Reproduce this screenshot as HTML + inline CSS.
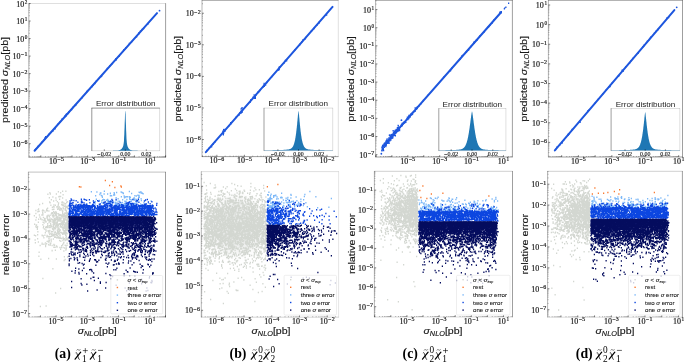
<!DOCTYPE html><html><head><meta charset="utf-8"><style>html,body{margin:0;padding:0;background:#fff;width:685px;height:362px;overflow:hidden}svg{display:block;will-change:transform}</style></head><body>
<svg width="685" height="362" viewBox="0 0 685 362">
<defs><filter id="bl" x="-50%" y="-50%" width="200%" height="200%"><feGaussianBlur stdDeviation="6"/></filter></defs>
<rect width="685" height="362" fill="#fff"/>
<path d="M34.57 150.72L157.02 13.14" style="stroke:#1d56de;stroke-width:2.0;stroke-linecap:round"/>
<path transform="scale(.25)" d="M589 96h5m-28 22h5m1-4h5m-18 11h5m-12 9h5m-3-3h5m-4 3h5m-16 13h5m-25 20h5m-14 7h5m-19 17h5m-13 8h5m-23 25h5m-20 12h5m-2 3h5m-24 18h5m-13 7h5m-5 0h5m-14 10h5m-30 32h5m-3-1h5m-26 19h5m-11 8h5m-5 2h5m-11 7h5m-9 5h5m-16 10h5m-17 10h5m2-5h5m-5 0h5m-30 30h5m-34 31h5m-1-2h5m-18 10h5m-9 8h5m-19 16h5m-3-4h5m-4-2h5m-5 1h5m-18 13h5m-3-4h5m-2-2h5m-14 9h5m-4 0h5m-5 2h5m-1-2h5m-20 11h5m-14 13h5m-12 8h5m-17 18h5m-14 9h5m-19 11h5m-20 12h5m-10 12h5m-5 0h5m-3-7h5m-18 18h5m-20 16h5m-14 11h5m-7 3h5" style="stroke:#1d56de;stroke-width:5.2;fill:none"/>
<circle cx="159.52" cy="10.69" r=".9" fill="#1d56de"/>
<path d="M28.8 3.29V157.41" style="fill:none;stroke:#000;stroke-width:0.42;stroke-opacity:0.7"/>
<path d="M28.59 3.5H165.81" style="fill:none;stroke:#000;stroke-width:0.42;stroke-opacity:0.3"/>
<path d="M165.6 3.29V157.41" style="fill:none;stroke:#000;stroke-width:0.42;stroke-opacity:0.9"/>
<path d="M28.59 157.2H165.81" style="fill:none;stroke:#000;stroke-width:0.42;stroke-opacity:0.9"/>
<path d="M28.8 143.71h1.8M28.8 126.18h1.8M28.8 108.65h1.8M28.8 91.13h1.8M28.8 73.6h1.8M28.8 56.08h1.8M28.8 38.55h1.8M28.8 21.03h1.8M28.8 3.5h1.8M40.81 157.2v-1.8M56.41 157.2v-1.8M72.01 157.2v-1.8M87.61 157.2v-1.8M103.21 157.2v-1.8M118.8 157.2v-1.8M134.4 157.2v-1.8M150 157.2v-1.8M165.6 157.2v-1.8" style="stroke:#000;stroke-width:.5;fill:none"/>
<path d="M28.8 155.96h1M28.8 152.87h1M28.8 150.68h1M28.8 148.98h1M28.8 147.59h1M28.8 146.42h1M28.8 145.4h1M28.8 144.51h1M28.8 138.43h1M28.8 135.34h1M28.8 133.15h1M28.8 131.46h1M28.8 130.07h1M28.8 128.89h1M28.8 127.88h1M28.8 126.98h1M28.8 120.9h1M28.8 117.82h1M28.8 115.63h1M28.8 113.93h1M28.8 112.54h1M28.8 111.37h1M28.8 110.35h1M28.8 109.46h1M28.8 103.38h1M28.8 100.29h1M28.8 98.1h1M28.8 96.4h1M28.8 95.02h1M28.8 93.84h1M28.8 92.83h1M28.8 91.93h1M28.8 85.85h1M28.8 82.77h1M28.8 80.58h1M28.8 78.88h1M28.8 77.49h1M28.8 76.32h1M28.8 75.3h1M28.8 74.4h1M28.8 68.33h1M28.8 65.24h1M28.8 63.05h1M28.8 61.35h1M28.8 59.97h1M28.8 58.79h1M28.8 57.78h1M28.8 56.88h1M28.8 50.8h1M28.8 47.72h1M28.8 45.53h1M28.8 43.83h1M28.8 42.44h1M28.8 41.27h1M28.8 40.25h1M28.8 39.35h1M28.8 33.28h1M28.8 30.19h1M28.8 28h1M28.8 26.3h1M28.8 24.91h1M28.8 23.74h1M28.8 22.72h1M28.8 21.83h1M28.8 15.75h1M28.8 12.66h1M28.8 10.47h1M28.8 8.78h1M28.8 7.39h1M28.8 6.21h1M28.8 5.2h1M28.8 4.3h1M29.91 157.2v-1M32.65 157.2v-1M34.6 157.2v-1M36.12 157.2v-1M37.35 157.2v-1M38.39 157.2v-1M39.3 157.2v-1M40.1 157.2v-1M45.51 157.2v-1M48.25 157.2v-1M50.2 157.2v-1M51.71 157.2v-1M52.95 157.2v-1M53.99 157.2v-1M54.9 157.2v-1M55.7 157.2v-1M61.11 157.2v-1M63.85 157.2v-1M65.8 157.2v-1M67.31 157.2v-1M68.55 157.2v-1M69.59 157.2v-1M70.5 157.2v-1M71.29 157.2v-1M76.7 157.2v-1M79.45 157.2v-1M81.4 157.2v-1M82.91 157.2v-1M84.15 157.2v-1M85.19 157.2v-1M86.1 157.2v-1M86.89 157.2v-1M92.3 157.2v-1M95.05 157.2v-1M97 157.2v-1M98.51 157.2v-1M99.74 157.2v-1M100.79 157.2v-1M101.69 157.2v-1M102.49 157.2v-1M107.9 157.2v-1M110.65 157.2v-1M112.6 157.2v-1M114.11 157.2v-1M115.34 157.2v-1M116.39 157.2v-1M117.29 157.2v-1M118.09 157.2v-1M123.5 157.2v-1M126.25 157.2v-1M128.2 157.2v-1M129.71 157.2v-1M130.94 157.2v-1M131.99 157.2v-1M132.89 157.2v-1M133.69 157.2v-1M139.1 157.2v-1M141.85 157.2v-1M143.79 157.2v-1M145.31 157.2v-1M146.54 157.2v-1M147.59 157.2v-1M148.49 157.2v-1M149.29 157.2v-1M154.7 157.2v-1M157.44 157.2v-1M159.39 157.2v-1M160.9 157.2v-1M162.14 157.2v-1M163.18 157.2v-1M164.09 157.2v-1M164.89 157.2v-1" style="stroke:#000;stroke-width:.4;stroke-opacity:.7;fill:none"/>
<g font-family='"Liberation Serif", serif' font-size="7.3" fill="#1a1a1a" stroke="#1a1a1a" stroke-width=".18">
<text x="16.2" y="6.5" textLength="8" lengthAdjust="spacingAndGlyphs">10</text><text x="24.8" y="3.9" font-size="5.3" textLength="2.6" lengthAdjust="spacingAndGlyphs">2</text>
<text x="16.2" y="24.03" textLength="8" lengthAdjust="spacingAndGlyphs">10</text><text x="24.8" y="21.43" font-size="5.3" textLength="2.6" lengthAdjust="spacingAndGlyphs">1</text>
<text x="16.2" y="41.55" textLength="8" lengthAdjust="spacingAndGlyphs">10</text><text x="24.8" y="38.95" font-size="5.3" textLength="2.6" lengthAdjust="spacingAndGlyphs">0</text>
<text x="12.5" y="59.08" textLength="8" lengthAdjust="spacingAndGlyphs">10</text><text x="21.1" y="56.48" font-size="5.3" textLength="6.3" lengthAdjust="spacingAndGlyphs">−1</text>
<text x="12.5" y="76.6" textLength="8" lengthAdjust="spacingAndGlyphs">10</text><text x="21.1" y="74" font-size="5.3" textLength="6.3" lengthAdjust="spacingAndGlyphs">−2</text>
<text x="12.5" y="94.13" textLength="8" lengthAdjust="spacingAndGlyphs">10</text><text x="21.1" y="91.53" font-size="5.3" textLength="6.3" lengthAdjust="spacingAndGlyphs">−3</text>
<text x="12.5" y="111.65" textLength="8" lengthAdjust="spacingAndGlyphs">10</text><text x="21.1" y="109.05" font-size="5.3" textLength="6.3" lengthAdjust="spacingAndGlyphs">−4</text>
<text x="12.5" y="129.18" textLength="8" lengthAdjust="spacingAndGlyphs">10</text><text x="21.1" y="126.58" font-size="5.3" textLength="6.3" lengthAdjust="spacingAndGlyphs">−5</text>
<text x="12.5" y="146.71" textLength="8" lengthAdjust="spacingAndGlyphs">10</text><text x="21.1" y="144.11" font-size="5.3" textLength="6.3" lengthAdjust="spacingAndGlyphs">−6</text>
<text x="48.96" y="163.8" textLength="8" lengthAdjust="spacingAndGlyphs">10</text><text x="57.56" y="161.2" font-size="5.3" textLength="6.3" lengthAdjust="spacingAndGlyphs">−5</text>
<text x="80.16" y="163.8" textLength="8" lengthAdjust="spacingAndGlyphs">10</text><text x="88.76" y="161.2" font-size="5.3" textLength="6.3" lengthAdjust="spacingAndGlyphs">−3</text>
<text x="111.35" y="163.8" textLength="8" lengthAdjust="spacingAndGlyphs">10</text><text x="119.95" y="161.2" font-size="5.3" textLength="6.3" lengthAdjust="spacingAndGlyphs">−1</text>
<text x="144.4" y="163.8" textLength="8" lengthAdjust="spacingAndGlyphs">10</text><text x="153" y="161.2" font-size="5.3" textLength="2.6" lengthAdjust="spacingAndGlyphs">1</text>
</g>
<rect x="91.8" y="108.1" width="67.8" height="42.6" fill="#fff"/>
<path d="M91.8 107.89V150.91" style="fill:none;stroke:#000;stroke-width:0.42;stroke-opacity:1"/>
<path d="M91.59 108.1H159.81" style="fill:none;stroke:#000;stroke-width:0.42;stroke-opacity:1"/>
<path d="M159.6 107.89V150.91" style="fill:none;stroke:#000;stroke-width:0.42;stroke-opacity:0.3"/>
<path d="M91.59 150.7H159.81" style="fill:none;stroke:#000;stroke-width:0.42;stroke-opacity:0.3"/>
<path d="M91.8 150.7L91.8 150.7L91.9 150.7L92.1 150.7L92.2 150.7L92.4 150.7L92.5 150.7L92.6 150.7L92.8 150.7L92.9 150.7L93.1 150.7L93.2 150.7L93.4 150.7L93.5 150.7L93.6 150.7L93.8 150.7L93.9 150.7L94.1 150.7L94.2 150.7L94.3 150.7L94.5 150.7L94.6 150.7L94.8 150.7L94.9 150.7L95.0 150.7L95.2 150.7L95.3 150.7L95.5 150.7L95.6 150.7L95.8 150.7L95.9 150.7L96.0 150.7L96.2 150.7L96.3 150.7L96.5 150.7L96.6 150.7L96.7 150.7L96.9 150.7L97.0 150.7L97.2 150.7L97.3 150.7L97.5 150.7L97.6 150.7L97.7 150.7L97.9 150.7L98.0 150.7L98.2 150.7L98.3 150.7L98.4 150.7L98.6 150.7L98.7 150.7L98.9 150.7L99.0 150.7L99.1 150.7L99.3 150.7L99.4 150.7L99.6 150.7L99.7 150.7L99.9 150.7L100.0 150.7L100.1 150.7L100.3 150.7L100.4 150.7L100.6 150.7L100.7 150.7L100.8 150.7L101.0 150.7L101.1 150.7L101.3 150.7L101.4 150.7L101.5 150.7L101.7 150.7L101.8 150.7L102.0 150.7L102.1 150.7L102.3 150.7L102.4 150.7L102.5 150.7L102.7 150.7L102.8 150.7L103.0 150.7L103.1 150.7L103.2 150.7L103.4 150.7L103.5 150.7L103.7 150.7L103.8 150.7L103.9 150.7L104.1 150.7L104.2 150.7L104.4 150.7L104.5 150.7L104.7 150.7L104.8 150.7L104.9 150.7L105.1 150.7L105.2 150.7L105.4 150.7L105.5 150.7L105.6 150.7L105.8 150.7L105.9 150.7L106.1 150.7L106.2 150.7L106.3 150.7L106.5 150.7L106.6 150.7L106.8 150.7L106.9 150.7L107.1 150.7L107.2 150.7L107.3 150.7L107.5 150.7L107.6 150.7L107.8 150.7L107.9 150.7L108.0 150.7L108.2 150.7L108.3 150.7L108.5 150.7L108.6 150.7L108.8 150.7L108.9 150.7L109.0 150.7L109.2 150.7L109.3 150.7L109.5 150.7L109.6 150.7L109.7 150.7L109.9 150.7L110.0 150.7L110.2 150.7L110.3 150.7L110.4 150.7L110.6 150.7L110.7 150.7L110.9 150.7L111.0 150.7L111.2 150.7L111.3 150.7L111.4 150.7L111.6 150.7L111.7 150.7L111.9 150.7L112.0 150.7L112.1 150.7L112.3 150.7L112.4 150.7L112.6 150.7L112.7 150.7L112.8 150.7L113.0 150.6L113.1 150.6L113.3 150.6L113.4 150.6L113.6 150.6L113.7 150.6L113.8 150.6L114.0 150.6L114.1 150.6L114.3 150.6L114.4 150.6L114.5 150.6L114.7 150.6L114.8 150.6L115.0 150.6L115.1 150.6L115.2 150.6L115.4 150.6L115.5 150.6L115.7 150.6L115.8 150.6L116.0 150.6L116.1 150.6L116.2 150.6L116.4 150.5L116.5 150.5L116.7 150.5L116.8 150.5L116.9 150.5L117.1 150.5L117.2 150.5L117.4 150.5L117.5 150.5L117.6 150.4L117.8 150.4L117.9 150.4L118.1 150.4L118.2 150.4L118.4 150.4L118.5 150.3L118.6 150.3L118.8 150.3L118.9 150.2L119.1 150.2L119.2 150.2L119.3 150.1L119.5 150.1L119.6 150.1L119.8 150.0L119.9 150.0L120.0 149.9L120.2 149.8L120.3 149.8L120.5 149.7L120.6 149.6L120.8 149.5L120.9 149.4L121.0 149.3L121.2 149.2L121.3 149.1L121.5 149.0L121.6 148.8L121.7 148.7L121.9 148.5L122.0 148.3L122.2 148.1L122.3 147.9L122.5 147.6L122.6 147.4L122.7 147.1L122.9 146.7L123.0 146.4L123.2 145.9L123.3 145.4L123.4 144.8L123.6 144.0L123.7 143.0L123.9 141.7L124.0 139.9L124.1 137.5L124.3 134.6L124.4 131.1L124.6 127.1L124.7 122.9L124.9 118.7L125.0 115.0L125.1 112.1L125.3 110.4L125.4 111.4L125.6 113.9L125.7 117.4L125.8 121.5L126.0 125.7L126.1 129.8L126.3 133.5L126.4 136.6L126.5 139.1L126.7 141.1L126.8 142.6L127.0 143.7L127.1 144.6L127.3 145.3L127.4 145.8L127.5 146.2L127.7 146.6L127.8 147.0L128.0 147.3L128.1 147.5L128.2 147.8L128.4 148.0L128.5 148.2L128.7 148.4L128.8 148.6L128.9 148.8L129.1 148.9L129.2 149.1L129.4 149.2L129.5 149.3L129.7 149.4L129.8 149.5L129.9 149.6L130.1 149.7L130.2 149.8L130.4 149.8L130.5 149.9L130.6 149.9L130.8 150.0L130.9 150.0L131.1 150.1L131.2 150.1L131.3 150.2L131.5 150.2L131.6 150.2L131.8 150.3L131.9 150.3L132.1 150.3L132.2 150.3L132.3 150.4L132.5 150.4L132.6 150.4L132.8 150.4L132.9 150.4L133.0 150.5L133.2 150.5L133.3 150.5L133.5 150.5L133.6 150.5L133.8 150.5L133.9 150.5L134.0 150.5L134.2 150.5L134.3 150.6L134.5 150.6L134.6 150.6L134.7 150.6L134.9 150.6L135.0 150.6L135.2 150.6L135.3 150.6L135.4 150.6L135.6 150.6L135.7 150.6L135.9 150.6L136.0 150.6L136.2 150.6L136.3 150.6L136.4 150.6L136.6 150.6L136.7 150.6L136.9 150.6L137.0 150.6L137.1 150.6L137.3 150.6L137.4 150.6L137.6 150.6L137.7 150.7L137.8 150.7L138.0 150.7L138.1 150.7L138.3 150.7L138.4 150.7L138.6 150.7L138.7 150.7L138.8 150.7L139.0 150.7L139.1 150.7L139.3 150.7L139.4 150.7L139.5 150.7L139.7 150.7L139.8 150.7L140.0 150.7L140.1 150.7L140.2 150.7L140.4 150.7L140.5 150.7L140.7 150.7L140.8 150.7L141.0 150.7L141.1 150.7L141.2 150.7L141.4 150.7L141.5 150.7L141.7 150.7L141.8 150.7L141.9 150.7L142.1 150.7L142.2 150.7L142.4 150.7L142.5 150.7L142.7 150.7L142.8 150.7L142.9 150.7L143.1 150.7L143.2 150.7L143.4 150.7L143.5 150.7L143.6 150.7L143.8 150.7L143.9 150.7L144.1 150.7L144.2 150.7L144.3 150.7L144.5 150.7L144.6 150.7L144.8 150.7L144.9 150.7L145.1 150.7L145.2 150.7L145.3 150.7L145.5 150.7L145.6 150.7L145.8 150.7L145.9 150.7L146.0 150.7L146.2 150.7L146.3 150.7L146.5 150.7L146.6 150.7L146.7 150.7L146.9 150.7L147.0 150.7L147.2 150.7L147.3 150.7L147.5 150.7L147.6 150.7L147.7 150.7L147.9 150.7L148.0 150.7L148.2 150.7L148.3 150.7L148.4 150.7L148.6 150.7L148.7 150.7L148.9 150.7L149.0 150.7L149.1 150.7L149.3 150.7L149.4 150.7L149.6 150.7L149.7 150.7L149.9 150.7L150.0 150.7L150.1 150.7L150.3 150.7L150.4 150.7L150.6 150.7L150.7 150.7L150.8 150.7L151.0 150.7L151.1 150.7L151.3 150.7L151.4 150.7L151.5 150.7L151.7 150.7L151.8 150.7L152.0 150.7L152.1 150.7L152.3 150.7L152.4 150.7L152.5 150.7L152.7 150.7L152.8 150.7L153.0 150.7L153.1 150.7L153.2 150.7L153.4 150.7L153.5 150.7L153.7 150.7L153.8 150.7L153.9 150.7L154.1 150.7L154.2 150.7L154.4 150.7L154.5 150.7L154.7 150.7L154.8 150.7L154.9 150.7L155.1 150.7L155.2 150.7L155.4 150.7L155.5 150.7L155.6 150.7L155.8 150.7L155.9 150.7L156.1 150.7L156.2 150.7L156.4 150.7L156.5 150.7L156.6 150.7L156.8 150.7L156.9 150.7L157.1 150.7L157.2 150.7L157.3 150.7L157.5 150.7L157.6 150.7L157.8 150.7L157.9 150.7L158.0 150.7L158.2 150.7L158.3 150.7L158.5 150.7L158.6 150.7L158.8 150.7L158.9 150.7L159.0 150.7L159.2 150.7L159.3 150.7L159.5 150.7L159.6 150.7L159.6 150.7Z" fill="#1f77b4"/>
<text x="125.7" y="106.1" font-family='"Liberation Sans", sans-serif' font-size="7.8" text-anchor="middle" fill="#1a1a1a" textLength="59.6" lengthAdjust="spacingAndGlyphs">Error distribution</text>
<text x="104.3" y="155.7" font-family='"Liberation Serif", serif' font-size="5.2" text-anchor="middle" fill="#1a1a1a" stroke="#111" stroke-width=".12" textLength="14" lengthAdjust="spacingAndGlyphs">−0.02</text>
<text x="125.3" y="155.7" font-family='"Liberation Serif", serif' font-size="5.2" text-anchor="middle" fill="#1a1a1a" stroke="#111" stroke-width=".12" textLength="10.3" lengthAdjust="spacingAndGlyphs">0.00</text>
<text x="146.3" y="155.7" font-family='"Liberation Serif", serif' font-size="5.2" text-anchor="middle" fill="#1a1a1a" stroke="#111" stroke-width=".12" textLength="10.3" lengthAdjust="spacingAndGlyphs">0.02</text>
<path d="M104.3 150.7v-1.2M125.3 150.7v-1.2M146.3 150.7v-1.2" style="stroke:#000;stroke-width:.6"/>
<path transform="scale(.25)" d="M231 767h5m12-2h5m8 0h5m-69 6h5m38 0h5m-56 6h5m5-1h5m19 0h5m22 3h5m-60 12h5m9-3h5m19-1h5m-3-1h5m0 0h5m-42 13h5m13-7h5m10 5h5m7-5h5m-41 12h5m5-3h5m0 6h5m30-7h5m1 7h5m-105 7h5m23-6h5m-3 3h5m29 1h5m8-3h5m-4 1h5m-3-2h5m0 4h5m2 3h5m-4 0h5m-2-6h5m-113 9h5m40 3h5m7-1h5m1 1h5m7-3h5m8 1h5m-3-2h5m-3 5h5m-2-2h5m1-4h5m-55 13h5m0-2h5m-3 1h5m6-1h5m-4 3h5m-1-6h5m0 4h5m10 3h5m-2-7h5m-2 1h5m-5 0h5m-1-1h5m-3 3h5m-3 2h5m-2-4h5m-3 3h5m-124 11h5m-3-3h5m27 1h5m-4 2h5m-2-6h5m14 5h5m-2 0h5m-2-1h5m10 0h5m-1-5h5m-3 4h5m-4 1h5m0-4h5m-3 3h5m-3-1h5m3 0h5m2 3h5m-5-6h5m-5 7h5m3-5h5m-131 8h5m3 5h5m0-2h5m8-2h5m-3-3h5m-1 3h5m5 0h5m-1 0h5m1 1h5m14 3h5m4 0h5m10-7h5m-2 0h5m1 0h5m-3 4h5m-3 0h5m4-4h5m-3 2h5m-2 0h5m-5 1h5m-127 11h5m22-4h5m-4 4h5m4-5h5m20 6h5m-3-4h5m-3 3h5m-4-3h5m1 3h5m-3-4h5m-3 4h5m0-3h5m-4 3h5m1 1h5m13-5h5m-5 4h5m4-2h5m-2 1h5m-3-1h5m-3-3h5m-5 6h5m-3-4h5m-4 3h5m-4-1h5m-138 10h5m15-3h5m5 0h5m-1 0h5m16 1h5m3 0h5m4 1h5m-4 1h5m-3-2h5m-3-1h5m-3 3h5m1-4h5m-4 4h5m-4-5h5m-4 4h5m5-1h5m-5-1h5m-5-3h5m-1 5h5m-4-2h5m-5-1h5m-1 1h5m-5 3h5m-5 0h5m-5-2h5m0 0h5m-5 0h5m-2 2h5m-5-4h5m-3 2h5m-4 1h5m-5-5h5m-4 4h5m-4-4h5m-4 1h5m-3 3h5m-1 2h5m-2-6h5m-4 6h5m-4-1h5m-4-3h5m-130 11h5m9-2h5m9 2h5m9-2h5m-4-4h5m-3 3h5m2-2h5m10 3h5m-2 0h5m4 3h5m-3-2h5m-5 2h5m-2-1h5m-3-4h5m-5 0h5m-1 4h5m-2 0h5m3-6h5m-4 1h5m-1 1h5m-5 5h5m-4-2h5m0-5h5m-5 1h5m-3 4h5m-4-5h5m-4 5h5m-5-4h5m-1 5h5m-5 0h5m-5 1h5m-3-2h5m-3 1h5m-5 1h5m-4-1h5m-5 1h5m-121 6h5m3-1h5m-4-2h5m0 5h5m5-5h5m-4 4h5m-4-3h5m3-2h5m-3 6h5m-4-2h5m1 2h5m-3-7h5m1 4h5m-1 3h5m-3-1h5m1-3h5m-4 2h5m-2-1h5m-4 2h5m-3 0h5m-5 0h5m-4 0h5m-4 1h5m-3-5h5m-5 4h5m-3-2h5m-4 3h5m-3-1h5m-3 1h5m-4-3h5m-1 2h5m-5-6h5m-3 6h5m-2-6h5m4 4h5m-4-1h5m-3 1h5m-4 1h5m-3-2h5m-5 1h5m-4 3h5m-2 0h5m0-7h5m-5 4h5m-3 3h5m-133 1h5m27 1h5m-1 3h5m-3 0h5m-2 2h5m3-6h5m-4 2h5m-2-2h5m-5 2h5m-4 1h5m-4 1h5m-3-1h5m-3-3h5m-4 7h5m1-7h5m0 2h5m-5 5h5m-3-1h5m-3-6h5m-2 4h5m5-3h5m-5 4h5m-4-4h5m-1 1h5m-1 3h5m-1-4h5m-2 5h5m-1 1h5m-5-2h5m-4-2h5m-5-1h5m-4 1h5m-5 4h5m-1-2h5m-5-5h5m-3 0h5m2 3h5m-5 0h5m-3 4h5m-4-1h5m-4-5h5m-122 8h5m14 0h5m-1 3h5m2-4h5m2 7h5m1-5h5m1 5h5m3-7h5m-4 0h5m-2 2h5m-5 0h5m-4 3h5m-4-3h5m-3 2h5m-4-1h5m-5 4h5m-1-3h5m-2 2h5m-5-1h5m-4-5h5m-4 7h5m-4-5h5m3 5h5m-2 0h5m-3 0h5m-3-3h5m-3 0h5m-4-3h5m-4 1h5m-5 3h5m-3-1h5m-4-2h5m-4 5h5m-5-3h5m-5 0h5m-3-2h5m-5 4h5m-3-4h5m-4 0h5m-1 3h5m-4-1h5m-4 2h5m-2-3h5m-4 4h5m-3-4h5m-4 1h5m-5-3h5m-137 8h5m1 4h5m-3-1h5m20-1h5m14 3h5m2 1h5m0 0h5m-4-2h5m-4 0h5m3-4h5m-4 5h5m-2-5h5m-4 2h5m1 1h5m-3 0h5m-3 1h5m-1-3h5m-3 4h5m-5-2h5m-2-4h5m-2 1h5m-3 4h5m-3-4h5m-1 0h5m-4 4h5m-4 0h5m-3-4h5m0 2h5m-5 4h5m-4-1h5m-3-3h5m-2 0h5m-3-3h5m-4 1h5m-3 3h5m-5-1h5m-4 3h5m-5-3h5m-5 1h5m-5 0h5m-4-4h5m-5 1h5m-131 10h5m-2 2h5m-1-2h5m18 4h5m-4-5h5m3 5h5m-3-4h5m-2 3h5m-3-4h5m-5 4h5m-3-5h5m-1 5h5m0 0h5m0-4h5m-5 1h5m1-1h5m-3 2h5m-3 2h5m0-1h5m-3-4h5m-1 3h5m-1-1h5m-5-3h5m-3 5h5m3-2h5m-5 1h5m-2-1h5m-1 3h5m-4-5h5m-3 6h5m-2 0h5m-3-6h5m-4 3h5m-2-1h5m-5-3h5m-5 4h5m-3-1h5m-4 4h5m-3-7h5m-4 2h5m-4-1h5m-5 4h5m-1 1h5m-5-5h5m-126 12h5m-5-5h5m23 4h5m1 3h5m21-5h5m-4 2h5m-3 1h5m-1-2h5m-1 0h5m-4-2h5m-4 2h5m4 2h5m-4 1h5m-5-6h5m-4 2h5m-4 2h5m-3 1h5m-5-2h5m10 3h5m-5 0h5m-4-2h5m0-2h5m0 5h5m-5-4h5m-5 0h5m-4-1h5m-3 2h5m-4-3h5m-4 5h5m-2-3h5m-5-3h5m-124 15h5m28-2h5m3-2h5m-4 3h5m-2-1h5m-2-3h5m1 5h5m-3-1h5m-4 0h5m-2 1h5m-2-7h5m1 6h5m4-4h5m-3 3h5m-1 2h5m-4-7h5m-3 5h5m-2-5h5m7 2h5m-3 1h5m-5 0h5m-3 1h5m-2-2h5m-3 2h5m-3-1h5m-5 0h5m-5-2h5m-1 1h5m-3-1h5m-4 1h5m-95 9h5m10-1h5m-5 2h5m-5-1h5m2 3h5m-4 1h5m9-3h5m-2-1h5m-3 0h5m-2 4h5m-1-7h5m-4 4h5m-2 3h5m-4-4h5m-3 4h5m-1-5h5m-2 1h5m-4-1h5m-4 2h5m-1 1h5m-3-1h5m-3 1h5m-4 2h5m-5-5h5m-2 1h5m-5 4h5m-4-4h5m-5-2h5m-4 3h5m-4-1h5m-5 4h5m-2-3h5m-5 1h5m-3-2h5m-3 4h5m-136 6h5m0 2h5m3-4h5m13 2h5m-5 1h5m6-1h5m4 1h5m5-4h5m3 0h5m-1-2h5m-5 7h5m-2-5h5m-3 5h5m-4-3h5m-4-1h5m-2 0h5m-2 0h5m-4 0h5m-3-2h5m-4 5h5m-4 1h5m-3-1h5m-2-6h5m1 7h5m-4-3h5m-5 3h5m5-6h5m-4 0h5m5 0h5m-4 5h5m-4-2h5m-95 4h5m-3 7h5m7-4h5m0-1h5m-1 1h5m-1 0h5m0-2h5m8 4h5m-2-1h5m-4 1h5m1 2h5m-1-2h5m-4-1h5m-1 3h5m-2-1h5m7-1h5m6 2h5m-3-6h5m-120 10h5m40-1h5m-4 2h5m3 1h5m4-1h5m9-4h5m3 1h5m-3-1h5m0 1h5m-1 1h5m1 0h5m-3 4h5m-2-3h5m2-2h5m-4 6h5m-4-6h5m-3 3h5m-4 3h5m-3-2h5m-5-3h5m-136 6h5m43 6h5m0-2h5m-3 1h5m-2-2h5m2 1h5m28-2h5m0 3h5m3-3h5m4 0h5m-4-2h5m-125 11h5m7-3h5m10 5h5m8-1h5m0 3h5m4-5h5m1 5h5m-3-3h5m46 0h5m-4-2h5m8 3h5m-113 9h5m3-5h5m2 0h5m2 3h5m7-1h5m1 2h5m3 1h5m2-4h5m-5 2h5m-2 1h5m23 2h5m-1-3h5m-4-3h5m4 4h5m3 0h5m-91 5h5m28 3h5m0 0h5m1-5h5m-4 3h5m-4 1h5m6 2h5m1 0h5m2 0h5m7-6h5m-5 0h5m-27 13h5m11-5h5m1 1h5m-5 4h5m-4-5h5m-62 10h5m-5 1h5m8-2h5m29 3h5m3-4h5m-112 9h5m-6 16h5m97 2h5m8 1h5m-112 9h5m26-3h5m26 2h5m30 2h5m-9 4h5m-50 33h5m-45 39h5m66 40h5m-25 18h5m-66 54h5m18-2h5" style="stroke:#d3d7d1;stroke-width:5.2;fill:none"/>
<path transform="scale(.25)" d="M363 767h5m47-2h5m95 1h5m41 1h5m-181 1h5m9 4h5m-3 0h5m33 1h5m10-2h5m-4 3h5m4-4h5m13-2h5m-1 2h5m-1 2h5m-4 2h5m28 0h5m25-5h5m-1 2h5m1 1h5m-2 1h5m-2 2h5m-195 8h5m12-5h5m1 4h5m6-6h5m9 0h5m6 6h5m-5 1h5m0 0h5m3-3h5m-1 0h5m76 3h5m7-2h5m0 1h5m-153 2h5m-4 5h5m50 2h5m16-4h5m6-3h5m-4 7h5m-5 0h5m-4-3h5m-4 2h5m-4-2h5m0-1h5m0 0h5m2 0h5m-1 2h5m10 2h5m4-7h5m4 7h5m-4-4h5m-3 2h5m-177 8h5m23 1h5m-1 1h5m8-1h5m37-3h5m13 4h5m12-1h5m6-2h5m-5-4h5m-3 6h5m8-2h5m-3 3h5m-3-2h5m1 0h5m-2 2h5m13-4h5m-188 11h5m11-4h5m5 1h5m-2-3h5m10 1h5m-1 3h5m-1-2h5m5 3h5m0-2h5m-3 4h5m9-5h5m3 3h5m1 0h5m16 0h5m0 1h5m16 1h5m-5-7h5m-4 0h5m6 0h5m2 6h5m1-2h5m-1-4h5m6 2h5m11 0h5m18 2h5m-233 4h5m25 2h5m-1 2h5m16-3h5m-1-1h5m-4 6h5m-4-5h5m-2 2h5m-4-2h5m-4 4h5m-3-1h5m5-3h5m2 6h5m-5-5h5m-4 4h5m-3 0h5m-4-1h5m-5 0h5m-3-1h5m14 0h5m-2-2h5m3 4h5m-2 1h5m0 0h5m6-5h5m-4 5h5m-4-3h5m9 2h5m1 0h5m0 0h5m-1-5h5m23 2h5m13 1h5m-251 5h5m22 1h5m1-2h5m33 2h5m13 4h5m2-3h5m-2 3h5m-2-5h5m4 6h5m0-6h5m-2 6h5m-3-3h5m-3-1h5m2 3h5m-5-4h5m-5-2h5m-4 4h5m-5 3h5m-2-5h5m-4 2h5m0-1h5m-3 0h5m-1 4h5m-2-5h5m1 2h5m-5-1h5m2 3h5m-4-1h5m-3-4h5m-2 6h5m2-7h5m-4 7h5m4-1h5m1-6h5m-4 5h5m18-5h5m-1 5h5m3 1h5m16 1h5m9-1h5m-141 2h5m19 0h5m-1 0h5" style="stroke:#7cb8f8;stroke-width:5.2;fill:none"/>
<path transform="scale(.25)" d="M282 796h5m36 1h5m6 0h5m-1 2h5m12 0h5m85-1h5m12 0h5m62 0h5m17-1h5m31 1h5m-314 5h5m1-3h5m-4 2h5m3 0h5m4 1h5m16 2h5m-4-1h5m-4 2h5m14-5h5m22 3h5m12-1h5m0 2h5m36 1h5m1-1h5m-3 2h5m1-5h5m64 5h5m20-3h5m0-1h5m23 1h5m0-4h5m20 7h5m-333 6h5m-4-4h5m-3 6h5m0-2h5m-1-2h5m-4 0h5m14-2h5m9 2h5m0-1h5m1 2h5m18-1h5m10 0h5m-1-1h5m31 2h5m-4 0h5m-4-3h5m0-1h5m0 6h5m-1 1h5m0-1h5m0 0h5m5-3h5m-4-1h5m16 4h5m3-4h5m19 2h5m-2 2h5m-1-3h5m-3-1h5m-4 4h5m-3-4h5m1 5h5m-2 0h5m-3 0h5m-2-1h5m20-5h5m24 6h5m4-7h5m2 7h5m22-1h5m-356 8h5m-5 1h5m-5-1h5m-4 0h5m-4-1h5m-5-4h5m-4 5h5m-1 1h5m-5 0h5m-4-1h5m0-2h5m-1 3h5m-4-1h5m4 1h5m-4-5h5m1 4h5m-2-3h5m1-1h5m-4 3h5m-4 2h5m-5 0h5m-2-3h5m-4 3h5m-4 0h5m-4-1h5m-4 1h5m-2-1h5m-3-3h5m-4 0h5m-5 1h5m-5 3h5m-3-1h5m-4-3h5m-2 3h5m-3 0h5m-3-4h5m-4 4h5m-4-5h5m-4 6h5m-4-1h5m-2 1h5m-4 0h5m0 0h5m-4 0h5m5-1h5m-3-4h5m-3 1h5m-3 4h5m-1 0h5m6 0h5m3-6h5m-1-1h5m11 5h5m-2 2h5m-5-6h5m0-1h5m-3 6h5m-3 1h5m-3-1h5m2 1h5m-2-4h5m-1 3h5m-5-3h5m-4 4h5m-3-1h5m-5 0h5m7 0h5m-2 0h5m-3 0h5m-5 0h5m7 1h5m-5-3h5m-3 2h5m2-3h5m-2 2h5m-3-1h5m-5 3h5m-4 0h5m-4-1h5m6-1h5m0 2h5m-4-1h5m-4-2h5m-4-2h5m-3 0h5m6 1h5m-5 3h5m2-2h5m-3-4h5m-1 7h5m-1-1h5m-2 1h5m-5-4h5m-3-2h5m1 4h5m-4 1h5m0 1h5m-4 0h5m0 0h5m-2-3h5m-3 3h5m-3-2h5m-2 2h5m-3-1h5m-4-3h5m-5-2h5m-3 1h5m-2 0h5m-1 4h5m-5 0h5m0 1h5m-2 0h5m0 0h5m-2 0h5m1-2h5m-4 1h5m-3 1h5m9-2h5m-352 3h5m-5 2h5m-5 3h5m-2-2h5m-4-2h5m5 3h5m-4-3h5m-2 4h5m-4 0h5m-3-5h5m-4 4h5m-3 3h5m-4-1h5m-3 0h5m-3-4h5m-3 2h5m-4-4h5m-3 7h5m-3 0h5m-5-6h5m-4 2h5m-1 2h5m-3-3h5m-2-2h5m-4 7h5m-5-4h5m-4-3h5m-4 1h5m-4 2h5m-4-3h5m-4 5h5m-5-2h5m-4 3h5m-3-5h5m-2 3h5m-2-1h5m-5-1h5m-4 5h5m-1-7h5m-4 5h5m-5-2h5m-4-3h5m-4 7h5m-2-3h5m-5 0h5m-4-3h5m-5 4h5m-5-1h5m-5-4h5m-4 1h5m-4 2h5m-4-2h5m-5 1h5m-4 4h5m-3-2h5m-5 0h5m-3-3h5m-3 5h5m-4 0h5m-4-6h5m-5 6h5m-3-6h5m-4 3h5m-4-3h5m-5 2h5m-4-1h5m-5 4h5m-2-4h5m0 3h5m-2-2h5m-4 4h5m-5-1h5m4-4h5m-5 4h5m-1 1h5m-3 0h5m-5-5h5m-4 5h5m-4-4h5m-4 2h5m-4-4h5m-4 7h5m-4-7h5m-3 6h5m-4-6h5m-5 7h5m-3-6h5m-5 6h5m-4-5h5m-5-1h5m-4 3h5m-2 3h5m-4-1h5m-5-6h5m0 2h5m-4-2h5m-2 5h5m-5-5h5m-4 4h5m-1 3h5m-2-7h5m-5 4h5m-5-1h5m-4 0h5m4 0h5m-5-2h5m-4 1h5m-4 1h5m-2 3h5m-4-4h5m-3 4h5m-1 1h5m-4-3h5m-3 2h5m-4-6h5m-5 7h5m-4-4h5m-4-3h5m-2 4h5m-3-4h5m-4 0h5m-2 1h5m-5 5h5m-4-4h5m-3 1h5m-3 2h5m-3-1h5m-4-4h5m-4 5h5m1 0h5m-2 2h5m-5-1h5m-4-3h5m-5 4h5m-5-5h5m-4 2h5m-5-1h5m-4-3h5m-5 3h5m-4-1h5m-5-1h5m-2 4h5m-4 0h5m-5-3h5m-3-2h5m-4 7h5m0-2h5m-4 0h5m-4 0h5m-5 0h5m-4-5h5m-5 4h5m-3-2h5m-3 4h5m-5-5h5m-5 0h5m-5 2h5m-2 3h5m-2-2h5m-2-2h5m-2 5h5m-2-4h5m-4-2h5m-4 5h5m-4-3h5m-5 2h5m-5-5h5m-4 4h5m-5 0h5m-4 2h5m-5 1h5m-4-2h5m-5 0h5m-5-2h5m-3-1h5m-5 5h5m-4-7h5m-5 4h5m-3-4h5m-5 7h5m-5-1h5m-5-5h5m-3 0h5m-3 2h5m-4-1h5m-4 4h5m-3-5h5m-3 5h5m-4-6h5m-3 1h5m-3 4h5m-1-5h5m-3 4h5m-4 0h5m-5-4h5m-3 2h5m-4 1h5m-5-3h5m-5 4h5m-3-4h5m-3 0h5m-4 2h5m0 2h5m-4 1h5m-5-5h5m-5 1h5m-4 2h5m-4 0h5m-4-1h5m-3-2h5m-4 0h5m-5 3h5m-4-3h5m-5 3h5m-4-2h5m-5 6h5m-4 0h5m-5-2h5m-4-3h5m-4-2h5m-5 7h5m-4 0h5m-2-2h5m-5-2h5m-5 2h5m-4 2h5m-3-1h5m-5-1h5m-3-3h5m-5 2h5m-4-3h5m-3-1h5m-3 2h5m-5 3h5m-4-3h5m-4-2h5m-5 4h5m-2-2h5m-5 2h5m-4 2h5m-5-4h5m-1 5h5m-3-3h5m-4-1h5m-2 0h5m-340 8h5m-5 0h5m-3 1h5m-3 1h5m0-4h5m-4 0h5m-5 1h5m-4 0h5m-5 0h5m-5-2h5m-4 7h5m-2 0h5m-3-1h5m-4-6h5m-5 3h5m-5 4h5m-5-5h5m-4 3h5m-4 1h5m-2-2h5m-4 3h5m-4 0h5m-3-7h5m-1 3h5m-3-3h5m-5 2h5m-2 1h5m-5 2h5m-1 2h5m-5-2h5m-2-5h5m-5 3h5m-1-2h5m-5 1h5m3 0h5m-4-1h5m-4 1h5m-4 5h5m0-5h5m-5 5h5m-4-6h5m0 5h5m-5-1h5m-4 1h5m-2-6h5m-3 4h5m-4 3h5m-4 0h5m-5-5h5m-2 1h5m-5 0h5m-5 1h5m-1 1h5m-4-1h5m-5 1h5m-3 2h5m-1-6h5m-2 4h5m-4 0h5m1 0h5m-4-3h5m-4 1h5m1-1h5m-4-1h5m-3 3h5m-4 3h5m-4-3h5m-3-3h5m-4 4h5m-5-5h5m-4 2h5m-3-2h5m-5 5h5m-5 0h5m-2-4h5m-3 5h5m-4 0h5m-4-2h5m-2 1h5m-4-3h5m-5 3h5m-1-5h5m-5 0h5m-4 7h5m-5-1h5m-5-5h5m-5-1h5m-3 3h5m-1-1h5m-4 2h5m-4-2h5m-3-2h5m-3 3h5m-5 2h5m1 2h5m-4-3h5m0 2h5m-3-3h5m-4-1h5m-5 3h5m-1 1h5m-3-6h5m-2 5h5m-4-5h5m-3 5h5m-5-5h5m-4 2h5m1 0h5m-4 3h5m-4 1h5m-5 0h5m-4-1h5m-4-1h5m-5-4h5m-4 1h5m-5-1h5m-5 0h5m-4 3h5m-1-2h5m-5 6h5m-4-1h5m-4-1h5m-5-4h5m-4 2h5m-2-2h5m-5 2h5m-4 2h5m-5-4h5m-2 6h5m-5-7h5m-4 0h5m-5 4h5m-2 3h5m-3 0h5m1-3h5m-5-4h5m-3 0h5m-4 1h5m-5 5h5m-3-1h5m-4-2h5m-1 3h5m0-6h5m-4 5h5m-4 1h5m-2-4h5m-5 5h5m-4-3h5m-2-1h5m-5-3h5m-5 4h5m-4-1h5m-5 3h5m-3-4h5m-4 2h5m-2 0h5m-5-4h5m-4 6h5m-3-6h5m-4 6h5m-4-2h5m-5 3h5m-3 0h5m-5-5h5m-5 3h5m-1-2h5m-1-1h5m-5 3h5m-4-4h5m-4 3h5m-5 1h5m-4-2h5m-5 0h5m-5 1h5m-4 3h5m-3-1h5m-5-3h5m-5-2h5m-1 3h5m-2-1h5m-5-3h5m-4 4h5m-5 3h5m-3-4h5m1 1h5m-5-4h5m-4 1h5m-5 0h5m-5 0h5m-5 0h5m-5 2h5m-4 3h5m-5 1h5m-3-5h5m-1 5h5m-5-6h5m-4 0h5m-3 6h5m-2-4h5m-1-2h5m-3 6h5m-5-2h5m-4-2h5m-3-2h5m-4 1h5m-1-2h5m-3 7h5m-4-4h5m-3 4h5m-4-4h5m-5-1h5m-4-1h5m-3 0h5m-4 6h5m-5-3h5m-4 0h5m-2-4h5m-5 5h5m-3 2h5m-2-2h5m-5-4h5m1 0h5m-2 2h5m1-3h5m-1 5h5m-352 9h5m-4-2h5m-4-2h5m-4-1h5m-4 2h5m-2 3h5m-2-1h5m-3-3h5m-5 0h5m-4 1h5m-3 2h5m-5 0h5m1-4h5m-3 1h5m-5 5h5m-4 0h5m-4-3h5m-5 2h5m-4-1h5m-4 1h5m-4-3h5m-3-2h5m-2 2h5m-4 2h5m-5-1h5m-4-4h5m-5 2h5m-4 4h5m-2 0h5m-5-3h5m3 1h5m-5-4h5m-5 3h5m-3 1h5m-5-2h5m-4 5h5m-4-1h5m-3-2h5m-3-4h5m-3 7h5m-5-5h5m-2 5h5m0-4h5m-5 1h5m-4-3h5m-5 2h5m-3 0h5m-4-2h5m-3 6h5m-5-6h5m-3 6h5m-4-1h5m-2-6h5m-5 5h5m-4-2h5m-3-2h5m-3 1h5m-3 4h5m-2-6h5m-4 2h5m-3 3h5m-2 1h5m-3-5h5m-5 5h5m-1 1h5m-4-7h5m-1 2h5m-5 2h5m-4-2h5m-4 2h5m-3 3h5m-4-2h5m-1 0h5m-5 2h5m-4-7h5m-4 3h5m-3-1h5m-1 2h5m-4-1h5m-3-1h5m-5 3h5m-3-5h5m-4 4h5m-4 0h5m-5-3h5m-5 6h5m-1-4h5m-4 3h5m-3-6h5m-5 2h5m-2 3h5m-2 0h5m-3-3h5m-3 2h5m-4 1h5m-3-4h5m-3-1h5m-5 2h5m-2 2h5m-5 2h5m-4 0h5m-5 1h5m-5-7h5m-5 4h5m-4 0h5m-5 1h5m-3 1h5m-5-2h5m-5 3h5m-1-5h5m-5 3h5m-3 0h5m-5 2h5m0-3h5m-1-2h5m-5-1h5m-4-1h5m-4 5h5m-5-2h5m1-2h5m-4 6h5m-3-1h5m-4-4h5m-3 5h5m-3-6h5m-4-1h5m-4 6h5m-5 1h5m-4-3h5m-4-4h5m3 7h5m-3-1h5m-3 1h5m-3-7h5m-4 0h5m-1 2h5m-4 1h5m-4-2h5m-2 4h5m-5-2h5m-5 2h5m0-2h5m-4 1h5m-2 0h5m-3-1h5m-5-1h5m-4 2h5m1 1h5m-3-4h5m-5 6h5m-4 0h5m-4-3h5m-4-2h5m-3 2h5m-3-1h5m-4 4h5m-5-5h5m-5 0h5m-4-2h5m-3 1h5m-5 5h5m-4-6h5m-4 6h5m-5-4h5m-5 2h5m-4 2h5m-2-5h5m-5 4h5m-5-4h5m-1 2h5m-2 1h5m-4-4h5m1 2h5m-4 3h5m-5-1h5m-4 0h5m-1 1h5m-3-2h5m-5-3h5m-4 7h5m-2-5h5m-4 4h5m-2-3h5m-3 4h5m-5-4h5m-4 1h5m-2-4h5m-4 4h5m-5 2h5m-4-3h5m-2-1h5m-5 5h5m-4-2h5m-5-2h5m-2 2h5m-4-4h5m-1 6h5m-3 0h5m-4-3h5m-3-3h5m-4 1h5m-5 3h5m-5-4h5m-4 1h5m-5 5h5m-3-1h5m-3-3h5m0 2h5m-4 0h5m-4-3h5m-4 0h5m-5 1h5m-5 2h5m-5 2h5m-4-1h5m-5-5h5m-3 6h5m-4 0h5m-3-4h5m-4 2h5m-3-2h5m-2-1h5m-2 4h5m5 0h5m-5-2h5m-353 9h5m-4-2h5m-3-3h5m-3 5h5m-1 0h5m-4 0h5m-3 2h5m-4-5h5m-3 3h5m-4-4h5m-5 1h5m-4 1h5m4 0h5m-4 2h5m-5 1h5m-3-4h5m-4-1h5m-3 4h5m-4 2h5m5 0h5m-3-6h5m-3 4h5m-5-3h5m-3 1h5m-4-2h5m-1 0h5m-3-1h5m-4 7h5m-1-4h5m-5-3h5m-4 2h5m-3 3h5m-5-5h5m-4 1h5m-3 5h5m-5-4h5m0 5h5m-4-7h5m-5 2h5m-2-2h5m-5 3h5m-2 0h5m-4-3h5m0 5h5m-5 1h5m-3-5h5m-5-1h5m-3 1h5m-5 4h5m-5 0h5m-5-4h5m0 1h5m-5 2h5m-3-1h5m-3-2h5m-3 0h5m-5 6h5m-4-3h5m-4-2h5m-4 5h5m-3 0h5m-2-6h5m-4 6h5m-4-6h5m-4 4h5m-3-5h5m-5 4h5m0 3h5m-5-6h5m-4 2h5m-4 0h5m-2-2h5m-2 5h5m-5 1h5m-4-6h5m-4 3h5m-3 1h5m-3-2h5m-4 1h5m-5-4h5m-4 6h5m-4 0h5m-4-3h5m-5-3h5m-3 0h5m-4 4h5m-4 1h5m-5-4h5m0 3h5m-2-4h5m-4 5h5m-5 1h5m-5-5h5m-3 3h5m-3-1h5m-4 1h5m-5-2h5m-4 2h5m-4 2h5m-5 0h5m-2-3h5m-4 2h5m-5 2h5m-4 0h5m-4-7h5m-4 2h5m-4 1h5m-4-1h5m-4-1h5m-4 1h5m-3 5h5m-3-2h5m-4 1h5m0 1h5m-3-3h5m0 0h5m-2 2h5m-5-3h5m-3-2h5m-4 4h5m-5 2h5m-4-6h5m-4-1h5m-4 5h5m3-3h5m-5 5h5m-3-4h5m-5 3h5m-3-5h5m-5 5h5m-4-4h5m-4-1h5m-3 5h5m-3 0h5m-4-1h5m-4-1h5m-4-1h5m-4 2h5m-2-5h5m-4 4h5m-4 1h5m-2-5h5m-5 7h5m-4-1h5m-5-4h5m-3 3h5m-4-5h5m-4 0h5m-5 2h5m-3 1h5m-2 2h5m0 1h5m-4-3h5m-5 2h5m-5-3h5m-5 4h5m-4-5h5m-5 3h5m-4-2h5m-4 1h5m-5 2h5m-3 0h5m-4-2h5m-4 3h5m-4-2h5m-4 3h5m-3-3h5m-3-1h5m-4-2h5m-4 5h5m-5-4h5m0-1h5m-3 2h5m-4-3h5m-4 3h5m-5 2h5m-4 0h5m-4 0h5m-4-4h5m-4 6h5m-5-4h5m-4 0h5m-3-2h5m-2 1h5m-3 2h5m-5 2h5m-4-3h5m-5-2h5m-2 0h5m-5 0h5m-4 2h5m-2 3h5m-5 0h5m-2-4h5m-5 4h5m-5-3h5m-3 4h5m-4-6h5m-4 3h5m-2-3h5m-5 4h5m-4-3h5m-4-1h5m-3 1h5m-1 1h5m-5-1h5m-4-2h5m-4 1h5m-3-1h5m-4 1h5m-5 3h5m-3-2h5m-4 4h5m-2-5h5m-2 6h5m-4-5h5m-4 3h5m-5-4h5m-4 4h5m-5-3h5m-1 2h5m-5-2h5m-4 3h5m-4-2h5m-2 3h5m0-5h5m-3 5h5m-4 1h5m-1 0h5m-3 0h5m-5-2h5m-2-4h5m2 0h5m-357 7h5m-4 1h5m-5 2h5m-4 3h5m-4-2h5m-4-2h5m-4 5h5m-5-7h5m-4 2h5m1 5h5m-2-2h5m-4 1h5m-3 1h5m-2-7h5m-3 6h5m-3-3h5m-4 2h5m-4-4h5m-3 4h5m-4-4h5m-4-1h5m-5 2h5m-3 2h5m-3-4h5m-4 4h5m-4 0h5m-4 3h5m-4-5h5m-5 5h5m-5-7h5m-4 0h5m-4 6h5m-4-6h5m2 0h5m-2 3h5m-3-1h5m-4 4h5m-5-3h5m-4 0h5m-5 0h5m-4 3h5m-3-1h5m-4-5h5m-1 4h5m-5-3h5m-3 5h5m-4-1h5m-3-1h5m-3 1h5m-4 1h5m-5-6h5m-3 5h5m-3 1h5m-5-3h5m-4-1h5m0 1h5m-5 1h5m-5-2h5m-4-2h5m-5 7h5m-5-2h5m-5 2h5m-2-3h5m-3 0h5m-5 3h5m-3-5h5m-4 3h5m-4-5h5m-5 0h5m-3 5h5m-4 1h5m-4-6h5m-4 7h5m-5-6h5m1 1h5m-5-2h5m-4 3h5m2 0h5m-5 2h5m-4 1h5m-4-2h5m-4-1h5m-4-1h5m-5 4h5m-3-2h5m-3 0h5m-4 0h5m-3-4h5m-3 3h5m-3 0h5m-4 2h5m-4-5h5m-4 2h5m-5-1h5m-2-1h5m-3 4h5m-4-1h5m-4 4h5m-5-7h5m-3 0h5m-5 6h5m-4-5h5m-4 6h5m1-3h5m-2-2h5m-3-1h5m-2 4h5m0-4h5m-4 1h5m-4-2h5m-4 3h5m-1 0h5m-4 2h5m-3-3h5m-3 0h5m-5 3h5m-3 0h5m-4-2h5m-5-3h5m-4 0h5m-3 6h5m-3-4h5m-4 5h5m-4 0h5m-4-1h5m-2 0h5m-4-5h5m-5 0h5m-1 2h5m-4 4h5m-5-1h5m-3-4h5m-5 0h5m-4 4h5m-5-3h5m-4 0h5m-4-2h5m-3 3h5m-4 0h5m-3 1h5m-5-3h5m-1 4h5m-4-5h5m-2-1h5m-3 5h5m-5 0h5m-4-3h5m-4 1h5m-4 2h5m-5 0h5m-4-5h5m-4 5h5m-4-4h5m-5 0h5m-4 2h5m-3-1h5m-4-2h5m-5 4h5m0 3h5m-1-6h5m-5 5h5m-4-5h5m-4 0h5m-3 6h5m-4 0h5m-1-1h5m-3 1h5m-5-3h5m-1-3h5m-1 1h5m-4 0h5m-5-2h5m0 0h5m1 2h5m-4 5h5m-5-6h5m-1-1h5m-5 2h5m-5 3h5m-5-1h5m-3 0h5m-4 0h5m-4-3h5m-3 2h5m-5-1h5m-3-1h5m-4 4h5m-4-5h5m-5 4h5m-5-2h5m-2-2h5m-5 6h5m1-3h5m-3-1h5m-1 5h5m-4-4h5m-2 4h5m-5-7h5m-5 4h5m-4-2h5m-4 3h5m-5-4h5m0 6h5m-2-7h5m-5 2h5m-3-2h5m-3 4h5m-5-4h5m-4 5h5m-5-3h5m1 2h5m-4-1h5m-5 0h5m1 3h5m-5-2h5m-5-4h5m-3 1h5m-4-1h5m-3 0h5m-4 1h5m-4 4h5m-4-1h5m-4-3h5m-3 3h5m-3-1h5m-1 3h5m-5-2h5m-3-3h5m-1 1h5m-4 0h5m0 0h5m-152 6h5" style="stroke:#0c46e0;stroke-width:5.2;fill:none"/>
<linearGradient id="g1" x1="0" y1="0" x2="0" y2="1"><stop offset="0" stop-color="#0a1470" stop-opacity="1"/><stop offset="0.44" stop-color="#0a1470" stop-opacity="0.95"/><stop offset="1" stop-color="#0a1470" stop-opacity="0"/></linearGradient>
<rect x="68.9" y="216.2" width="78.6" height="16" fill="url(#g1)"/>
<path transform="scale(.25)" d="M273 867h5m-2 4h5m-3-3h5m1 0h5m-5 2h5m-4 0h5m-5 0h5m-4 0h5m0-1h5m-3 0h5m-4 0h5m-5 1h5m-4-2h5m-1 2h5m-5 0h5m-5-2h5m-3 2h5m-5-2h5m-2 0h5m-2 3h5m-4-1h5m-5 1h5m-4 0h5m-3-2h5m-3 2h5m-5-1h5m-5 1h5m0-1h5m-4-1h5m-3-2h5m-4 3h5m-3-2h5m-4 0h5m-5 3h5m-3-4h5m-2 2h5m-4-1h5m-1 0h5m-5 0h5m-2 3h5m-4 0h5m0-2h5m-4-1h5m-5-1h5m0 2h5m-2 0h5m-4 2h5m0-1h5m-4-2h5m-5 3h5m-4-4h5m-5 0h5m-4 2h5m-4 2h5m-5-3h5m-1 2h5m-3 1h5m-4-4h5m-5 1h5m-4 1h5m-4 2h5m-5-2h5m-2 2h5m-3-2h5m-3 1h5m-2-2h5m-2 0h5m-1 1h5m-2 2h5m-4-4h5m-3 4h5m-4-1h5m-2-1h5m-1 0h5m-2 1h5m-4-1h5m-4 0h5m-3-1h5m-5 1h5m-4-1h5m-4 1h5m-4-1h5m-2 2h5m-5-2h5m-4-1h5m-5 1h5m-5 2h5m-2-2h5m-5 2h5m-4-2h5m-5 1h5m0-1h5m-5 1h5m-4-1h5m-2 2h5m-4-1h5m-4-1h5m-3 3h5m-5-1h5m2-3h5m-4 2h5m-5 1h5m-4 1h5m-4-3h5m-5-1h5m-2 3h5m-4-1h5m-4-2h5m-2 0h5m2 3h5m-4-2h5m-3 3h5m-3 0h5m-5-3h5m-5 1h5m-4 0h5m-4-1h5m-5 2h5m0 0h5m0-1h5m-5-1h5m-5-1h5m-3 3h5m-5-3h5m-2 1h5m-3 0h5m-3-1h5m-4 4h5m-2-3h5m-4 1h5m-3 2h5m-2-3h5m-1 0h5m-3 2h5m0-1h5m-4 1h5m-1-2h5m-5 0h5m0 1h5m-4 0h5m-5 0h5m-4 1h5m-4-1h5m-3 2h5m0-1h5m-5-1h5m-4 0h5m-4 2h5m-4-2h5m-4 2h5m-5 0h5m-4-3h5m6 3h5m-4-2h5m-5 0h5m-3 0h5m-2 2h5m-4-3h5m-5 2h5m-5-1h5m-1 2h5m-2-2h5m-4 1h5m-1 1h5m-5 0h5m-1 0h5m-4 0h5m-4 0h5m-4-3h5m-3 2h5m-5 0h5m-5-2h5m-4 1h5m-2-1h5m-4 3h5m-3-2h5m-5-1h5m-5 1h5m-5 2h5m-3 0h5m-5-3h5m-4 3h5m-4 0h5m-2-2h5m-4 1h5m-2-1h5m-3 0h5m-5 2h5m-4-2h5m-5-1h5m-4 3h5m-3-3h5m-5 2h5m-3-2h5m-2 3h5m-3-3h5m-3 3h5m-5-1h5m-1 0h5m-4 0h5m-1-3h5m-1 4h5m-347 1h5m-2 6h5m-1-1h5m-5 0h5m-5 0h5m-3 1h5m-5-5h5m-4 6h5m-4-5h5m-5 5h5m-5-1h5m-5-3h5m-4 0h5m-4-1h5m-2 0h5m-4 3h5m-2-4h5m-3 4h5m-5 2h5m-4-3h5m-4-3h5m-3 4h5m-3-1h5m-5 3h5m-3-1h5m-5-2h5m-5-4h5m-4 1h5m-4 3h5m-4-4h5m-5 5h5m-5-3h5m-4-2h5m-5 1h5m-5 3h5m-4-2h5m-2 4h5m-3-6h5m-5 3h5m-5 0h5m-4 3h5m-5-6h5m-4 3h5m-3-3h5m-5 0h5m-3 7h5m-5-1h5m-4-3h5m-4 3h5m-2 0h5m-5-5h5m-4-1h5m-5 7h5m-3 0h5m-5-2h5m-4-2h5m-5-3h5m-4 5h5m-2 1h5m-1-6h5m-4 4h5m-5-3h5m-4 3h5m-5-3h5m-4 2h5m-3-1h5m-5 5h5m-5-6h5m-3 3h5m-5 1h5m-5-5h5m-4 3h5m-5 1h5m-5-1h5m-3-2h5m-5 4h5m-4-4h5m-5-1h5m-5 0h5m-5 6h5m-4-1h5m-4-3h5m-5-2h5m-4 4h5m-5-4h5m-4 0h5m-4 7h5m-3-2h5m-5 0h5m-5-2h5m-4 0h5m-5-3h5m-5 4h5m-5 2h5m-4-3h5m-3 2h5m-4-2h5m-4 1h5m-5 2h5m-2-1h5m-5 1h5m-2 1h5m-3 0h5m-5-6h5m-4 0h5m-5 3h5m-4 1h5m-4 2h5m-5-2h5m-4-5h5m-3 3h5m-2 4h5m0-6h5m-4 0h5m-4-1h5m-2 7h5m-4-5h5m-5-2h5m-4 2h5m-5 3h5m-5 0h5m-5 1h5m-4-4h5m-3 3h5m-4 0h5m-4 2h5m-4-6h5m-5-1h5m-5 0h5m-4 0h5m-5 6h5m-3-4h5m-3 1h5m-4-1h5m-4 1h5m-5 3h5m-5 1h5m-5-5h5m-4 1h5m-4-3h5m-3 3h5m-4 0h5m-4 0h5m-4 0h5m-4-1h5m-4 1h5m-4 3h5m-5-2h5m-4 0h5m-5-3h5m-2 2h5m-4-2h5m-3 0h5m-4 2h5m-4-2h5m-4 4h5m-4-3h5m-5 1h5m-4 4h5m-4 0h5m-4-2h5m-3 2h5m-5-5h5m-4 0h5m-5 2h5m-5 1h5m-4 1h5m-5-4h5m-4 0h5m-4 3h5m-5 2h5m-5-3h5m-4-2h5m-5 1h5m-4-3h5m-4 1h5m-5-1h5m-5 3h5m-3-2h5m-3 0h5m-3 3h5m-5 0h5m-5-2h5m0 4h5m-5-3h5m-5-3h5m-5 7h5m-4-5h5m-4 0h5m-5 1h5m-3 3h5m-4 0h5m-5-5h5m-3 2h5m-5 0h5m-3 4h5m-4-1h5m-3-3h5m-5 3h5m-4-3h5m-5 0h5m-3 3h5m-5-3h5m-4 0h5m-4-3h5m-2 2h5m-4 5h5m-4-4h5m-4 1h5m-4-4h5m-4 4h5m-3-1h5m-4 2h5m-5-1h5m-4 3h5m-3-6h5m-4 5h5m-5-5h5m-4-1h5m-4 4h5m-4 2h5m-4-5h5m-4-1h5m-5 6h5m-3-3h5m-3 0h5m-3 3h5m-4 0h5m-4 0h5m-3-4h5m-5 0h5m-3 5h5m-5-7h5m-4 3h5m-5-1h5m-4-2h5m-5 4h5m-4-1h5m-4-2h5m-4 1h5m-4 5h5m-3 0h5m-4-7h5m-5 0h5m-5 0h5m-3 4h5m-4 1h5m-4-2h5m-4 4h5m-3-2h5m-5-2h5m-5 0h5m-4 3h5m-5 1h5m-4-5h5m-2 1h5m-3 0h5m-2 2h5m-4-2h5m0-2h5m-4-1h5m-5 3h5m-3 1h5m-5 2h5m-5-6h5m-3 5h5m-5 2h5m-1-6h5m-4-1h5m-4 5h5m-4-4h5m-3 1h5m-4-1h5m-5 5h5m-4-2h5m-5-4h5m-4 0h5m-5 7h5m-4-2h5m-1-1h5m-4-3h5m-5 6h5m-3-2h5m-2-2h5m-5-1h5m-4 3h5m-4-2h5m-3 3h5m-2-4h5m-4 0h5m-4 5h5m-5 0h5m-4-7h5m-5 6h5m-5 0h5m-4-1h5m-4-3h5m-5 0h5m-4-2h5m-5 6h5m-3 1h5m-5-3h5m-4 0h5m-2-3h5m-4-1h5m-2 7h5m-5-5h5m-4 0h5m-4 0h5m-3-1h5m-5 5h5m-3-4h5m-4-1h5m-5 2h5m-4 3h5m-4-3h5m-5 4h5m-3-1h5m-5-6h5m-4 7h5m-5-4h5m-4 4h5m-5-6h5m-5 1h5m-5 2h5m-4 3h5m-3-4h5m-5 0h5m-4 3h5m-5-3h5m-4 3h5m-4-3h5m-5 0h5m-4 4h5m-5-7h5m-4 6h5m-5-6h5m-4 6h5m-4-6h5m-3 2h5m-5 0h5m-4 4h5m-4 1h5m-5-6h5m-3 4h5m-4 0h5m-2 0h5m-2-2h5m-4-1h5m-4 0h5m-4 3h5m-4-4h5m-4 4h5m-351 9h5m-4-6h5m-5 5h5m-4-3h5m-5-2h5m-5 0h5m-4 6h5m-5 0h5m-4-5h5m-5-1h5m-5 6h5m-5-5h5m-4 0h5m-3-1h5m-4 5h5m-4 1h5m-4-4h5m-5 3h5m-3-2h5m-5 1h5m-5-2h5m-5 1h5m-4 2h5m-5-3h5m-5 2h5m-4-1h5m-5 1h5m-4 3h5m-5-6h5m-3 2h5m-4 3h5m-4-3h5m-4 2h5m-4 1h5m-3-4h5m-4 0h5m-4 1h5m-4 3h5m-5 1h5m-4-1h5m-4-3h5m-5 3h5m-5-4h5m-4 0h5m-3 4h5m-3-6h5m-2 6h5m-4 0h5m-4 0h5m-4 0h5m-5-6h5m-4 7h5m-3-7h5m-4 0h5m-2 0h5m-2 7h5m-5 0h5m-4-3h5m-4 0h5m-5 0h5m-4-1h5m-3-1h5m-5 4h5m-3-5h5m-4 4h5m-3-4h5m-4-1h5m-5 1h5m-4 5h5m-5-4h5m-3 3h5m-5-3h5m-4 3h5m-3-2h5m-5 3h5m-3-4h5m-2 4h5m-5-4h5m-5 5h5m-5-2h5m-2 2h5m-5-7h5m-5 2h5m-3 2h5m-5 2h5m-5-3h5m-5 0h5m-4 3h5m-4-3h5m-5-2h5m-3 5h5m-4-5h5m-2 0h5m-5 5h5m-4-4h5m-4 0h5m-4 1h5m-5 2h5m-4 0h5m-4-4h5m-3 6h5m-5-5h5m-5 2h5m-2 3h5m-4-3h5m-5 3h5m-1-3h5m-4 1h5m-3-2h5m-4-1h5m-2 5h5m-2-7h5m-3 6h5m-4-2h5m-4 0h5m-4 3h5m-3-7h5m-4 5h5m-3 2h5m-4-6h5m-4 6h5m-5-1h5m-1-6h5m-5 7h5m-4-1h5m-4-1h5m-5 0h5m-5-4h5m-4 5h5m-5 1h5m-4-6h5m-4 0h5m-5 0h5m-4 5h5m-4 0h5m-5-5h5m-4 6h5m-2-6h5m-4 1h5m-3 5h5m-4-6h5m-4 2h5m-4 3h5m-2-6h5m-5 1h5m-5 0h5m-2 6h5m-5-2h5m-4 2h5m-4-2h5m-5 2h5m-1-5h5m-4 0h5m-4 1h5m-5-1h5m-5 3h5m-4-5h5m-5 1h5m-4 1h5m-5 1h5m-5 2h5m-4-2h5m-4-2h5m-4 0h5m-5 3h5m-5 3h5m-4-1h5m-5-2h5m-2-1h5m0 1h5m-5-3h5m-2-1h5m-1 1h5m-3 5h5m-5-1h5m-4-4h5m-4 4h5m-5-4h5m-4 4h5m-4-3h5m-3 5h5m-2-2h5m-4-2h5m-5-3h5m-4 0h5m-4 5h5m-5 1h5m-4-1h5m-3-5h5m-4 1h5m-4 3h5m1 0h5m-5-3h5m-3 5h5m-5-6h5m-2 1h5m-4 3h5m-4 0h5m-5-4h5m-5 3h5m-2 4h5m-5-2h5m-4-5h5m-2 3h5m-4 2h5m-5 1h5m-4-5h5m-5 2h5m-5-3h5m-5 6h5m-2-1h5m-5 0h5m-4 2h5m-5-5h5m-4-1h5m-3 5h5m-4-5h5m-3 0h5m-5 0h5m-5 0h5m-4 2h5m-4 4h5m-2-4h5m-2-2h5m-5 6h5m-4-4h5m-4-2h5m-5 3h5m-5-1h5m-4-3h5m-5 5h5m-4 0h5m-5-5h5m-4 1h5m-4 4h5m-2-1h5m-4 3h5m-3-3h5m-3-3h5m-5 3h5m-3-2h5m-2 4h5m-5-3h5m-2 0h5m-5-1h5m-4-1h5m-5-1h5m-3 0h5m-5 4h5m-3-1h5m-3 4h5m-4 0h5m-4-1h5m-5 0h5m-4-1h5m-4 2h5m-4-3h5m-4-1h5m-3-3h5m-5 4h5m-4-4h5m-5 6h5m-4-6h5m-4 4h5m-5 2h5m-4-1h5m-5-4h5m-5 1h5m-4 0h5m-5 0h5m-1 2h5m-5 1h5m-2 0h5m-5 0h5m-4-2h5m-5-3h5m-3 1h5m-2-1h5m-1 7h5m-2-5h5m-3-2h5m-4 5h5m-3 0h5m-3-1h5m-4 3h5m-5-1h5m-4 1h5m-4 0h5m-5-1h5m-3-5h5m-5 5h5m-4-2h5m-1 0h5m-2 1h5m-4 0h5m-5-2h5m-4 2h5m-4-2h5m-5 1h5m-3 3h5m-4-3h5m-3 3h5m-4-6h5m-5 6h5m-2-6h5m-5 6h5m-4-1h5m-3 1h5m-3-4h5m-3 0h5m-5 4h5m-5 0h5m-3-1h5m-2-5h5m-4 2h5m-348 10h5m-5 2h5m-5-2h5m-3-3h5m-4 0h5m-5-2h5m1 1h5m-5 5h5m-5-3h5m-2 3h5m-5-1h5m-4-5h5m-1 5h5m-4-3h5m-5 2h5m-3-4h5m-5 3h5m-4 1h5m-3 2h5m-5-4h5m-3-2h5m-5 6h5m-4-6h5m-1 5h5m-3 2h5m-4-5h5m-4-1h5m-5 6h5m-5-6h5m-5 3h5m-2-2h5m-4-2h5m-4 4h5m-3 1h5m-3-4h5m-4-1h5m-5 4h5m-2 0h5m-4 0h5m-4 0h5m-3 3h5m-4-7h5m-5 4h5m-4 0h5m-5 3h5m-3-2h5m-5-5h5m-5 1h5m-4 5h5m-4-1h5m-5 2h5m-2-4h5m-5-1h5m-3 0h5m-4-2h5m-5 5h5m-5-4h5m-3 0h5m-4 6h5m-4-6h5m-4 3h5m-5-1h5m-3 4h5m-4 0h5m-5 0h5m-4-5h5m-3 3h5m-4-1h5m-4-2h5m-5 0h5m-4 0h5m-5 2h5m1-4h5m-5 1h5m-4 4h5m-5-3h5m-4 3h5m-4-5h5m-4 5h5m0-3h5m-5 3h5m-3-3h5m-3 1h5m-5-1h5m-4-2h5m-5 1h5m-5 5h5m-4-1h5m-4-4h5m2-1h5m-5 6h5m-2-2h5m-5 2h5m-2-3h5m-4-3h5m-5 1h5m-4-1h5m-2 5h5m-5-5h5m-4 2h5m-5 5h5m-5-7h5m-3 2h5m-5-2h5m-3 1h5m-3 1h5m-4-2h5m-4 4h5m-3-4h5m-3 6h5m-5-5h5m-4 4h5m0-1h5m-1-2h5m-4-2h5m-4 1h5m-4-1h5m-5 5h5m-2-5h5m-5 5h5m-3-3h5m-3-1h5m-3 3h5m1-4h5m-5 7h5m-3-1h5m-3-3h5m-4-3h5m-5 6h5m-5-3h5m-4 2h5m-5 0h5m-4-1h5m-5 1h5m-4 1h5m-5-1h5m-5-3h5m-3-1h5m-1 3h5m-3-2h5m-5 5h5m-4-6h5m-4 3h5m-4 0h5m-5-4h5m-4 5h5m-2-5h5m-4 4h5m-3 3h5m-5-3h5m-5-2h5m2 2h5m-4-3h5m-4 5h5m-4-2h5m-4 1h5m0 2h5m-3-1h5m-2 0h5m-5-6h5m-4 3h5m-5-2h5m-2 0h5m-2 6h5m-1-3h5m-5 1h5m-5 2h5m-3-5h5m-5 4h5m-4-1h5m-4 2h5m-4-4h5m-4-3h5m-5 7h5m-3-7h5m-5 3h5m-4-1h5m-5 4h5m-4-2h5m-5-4h5m-3 3h5m-3-3h5m-4 7h5m-5 0h5m-4-6h5m0-1h5m-4 3h5m-4-2h5m-4 3h5m-4 0h5m-4-2h5m-4 0h5m-4-2h5m-4 5h5m-5-1h5m-5 0h5m-4-2h5m-3 4h5m-5-3h5m-5-3h5m-3 1h5m-5-1h5m-4 1h5m-1 4h5m-5 0h5m-4 0h5m-4 2h5m-5-2h5m-5-1h5m-5 0h5m0 1h5m-2-3h5m-5-1h5m-3 0h5m-5 4h5m-4-3h5m-4-2h5m-5 1h5m-1 5h5m-5-1h5m-4-3h5m-4 4h5m-5-3h5m-2 0h5m-4 1h5m-4 0h5m-5-2h5m-4 1h5m-4 4h5m-5-1h5m-4 1h5m-4-4h5m-5 2h5m-2-1h5m-5 0h5m-3 2h5m-3-1h5m-5 2h5m-4-7h5m-2 1h5m-2 4h5m-5-5h5m-4 2h5m-3 3h5m-5 1h5m-2-6h5m-5 1h5m-4 5h5m-5-5h5m-3-1h5m-4 2h5m-4 4h5m-4-2h5m-5-1h5m-5 2h5m-4 0h5m-5-1h5m-4-1h5m-3 0h5m-3 3h5m-2 1h5m-4-4h5m-3 1h5m-5-1h5m-4 4h5m-5-5h5m-5-2h5m-4 4h5m-4-1h5m0 0h5m-1 2h5m-2-1h5m-4 1h5m-4-5h5m-5 5h5m-3 1h5m-2 1h5m1-4h5m-355 11h5m-5-6h5m-4 2h5m-3-2h5m-5 3h5m0 0h5m-5 1h5m-5 1h5m-4-5h5m-4 2h5m-5 2h5m-2-4h5m-4 5h5m-4 2h5m-3-1h5m-5-3h5m-4 2h5m-4-4h5m-4 1h5m-2-2h5m-5 5h5m-1-2h5m-2 2h5m-2 0h5m-5 0h5m-4 1h5m-5-1h5m-4-1h5m-5 3h5m-5-5h5m-4-2h5m-5 3h5m-3-2h5m-4 0h5m-4 6h5m-3-7h5m-3 5h5m-5 0h5m-1-3h5m-4 2h5m-4-1h5m1-1h5m-5 1h5m-5-1h5m-4-2h5m-4 7h5m-4-2h5m-4 0h5m-4 2h5m-4 0h5m-4-6h5m-4 6h5m-4-6h5m-4 2h5m-4 2h5m-4-5h5m-5 2h5m-4-2h5m-5 5h5m-3 2h5m-4-4h5m-5-1h5m-4-2h5m-5 2h5m-2 0h5m-5 0h5m-3 5h5m-4 0h5m-5 0h5m-2-4h5m-4 2h5m-5-1h5m-5 3h5m-3 0h5m-5-1h5m-4-6h5m-3 7h5m-5-4h5m-4 4h5m-5-1h5m-5-2h5m-3 0h5m-5-2h5m-4-1h5m-2 2h5m-4-2h5m0 6h5m-3 0h5m-5-2h5m-4-5h5m-5 6h5m-5 1h5m-2-5h5m-3 1h5m-5 3h5m-2-4h5m-1 3h5m-4 2h5m-3 0h5m-4-3h5m-5 1h5m-2-5h5m-3 7h5m-2-3h5m-5-4h5m0 2h5m-5 1h5m-5 1h5m-2 0h5m-4-2h5m-1-2h5m-3 0h5m-4 0h5m-5 5h5m-4-5h5m-2 6h5m-2 0h5m-5-5h5m-5 5h5m-5-4h5m-2 5h5m-2 0h5m-3-2h5m-5 1h5m-3-2h5m-4-3h5m-4 6h5m-3-3h5m-5-1h5m-4-1h5m-5 5h5m-1-3h5m-4 0h5m-5-4h5m-3 3h5m-4 1h5m-4-4h5m-4 3h5m-5 3h5m-4-5h5m-5 2h5m-4 0h5m0-3h5m-4 0h5m-5 7h5m-5 0h5m-3-1h5m-4-2h5m-5 1h5m-5-5h5m-4 1h5m-5 0h5m-3 0h5m-4 0h5m-4 3h5m-1 1h5m-4 1h5m-3-4h5m-5-2h5m-4 5h5m-5-3h5m-4 1h5m-5-1h5m-5-1h5m-1 3h5m-5-2h5m-4-1h5m-4 1h5m-4 2h5m-4 1h5m-5 0h5m-4-3h5m-4 1h5m-3 4h5m-5-1h5m-1-2h5m-2-1h5m-3 3h5m-3-5h5m-4-1h5m-3 6h5m-5-6h5m-5 0h5m-3 2h5m-4-2h5m-5 1h5m-5 4h5m-4 1h5m-5 1h5m-4-4h5m-4-2h5m-4 2h5m-4 3h5m-3-4h5m-3 2h5m-2 1h5m-4-1h5m-3 3h5m-5-5h5m-5 3h5m-4 2h5m-3-6h5m-5 6h5m-4-7h5m-4 4h5m-4-2h5m-4 4h5m-4-6h5m-2 5h5m-4-5h5m1 5h5m-2 0h5m-5 1h5m-5-2h5m0-4h5m-5 3h5m-4-2h5m-3 4h5m-5 0h5m-4 2h5m1-3h5m-5-4h5m-4 0h5m-5 5h5m-4-4h5m-3 1h5m-3 0h5m-3-1h5m-2 6h5m-2-3h5m-4 3h5m-1-2h5m-5-3h5m-3-2h5m-4 6h5m-2 1h5m-4-5h5m-1 3h5m-5 2h5m-5-7h5m-2 2h5m-5-1h5m-2 4h5m-5-4h5m-4 6h5m-3-5h5m-1-1h5m-5 1h5m-5-2h5m-4 3h5m-3 1h5m-5 1h5m-5 0h5m-4-1h5m-4 3h5m-3-4h5m-5-3h5m-2 7h5m-5-1h5m-3-5h5m-3 6h5m-5-6h5m-343 12h5m-5-3h5m-5 2h5m-4-3h5m-5 5h5m-4-1h5m-5-4h5m-5 1h5m-4 3h5m-5-4h5m-2 5h5m-2-3h5m-5-1h5m-4 1h5m-5 2h5m-4-5h5m-3 4h5m-3 3h5m-5 0h5m-4 0h5m-1-6h5m-4 4h5m-2 0h5m-4-2h5m-3 2h5m-5-4h5m-1 0h5m-5-1h5m-3 0h5m-5 3h5m-4 3h5m-5-5h5m-4 1h5m-5 2h5m-5 3h5m-2-4h5m-5 4h5m-4-6h5m-4 0h5m-5 2h5m-5-1h5m-5 2h5m-2-4h5m-3 1h5m-2 0h5m-5 3h5m-2-3h5m-4 0h5m0 3h5m-5 2h5m-5-6h5m-4 5h5m-4-5h5m-5 0h5m-5 3h5m-1 3h5m-4-1h5m-2 1h5m-2-1h5m-3-3h5m-3 2h5m-5 2h5m-4-6h5m-4 0h5m-5 4h5m-5 3h5m-3-1h5m-4-4h5m-5 5h5m-4-2h5m-3 0h5m-5 1h5m-4-2h5m-4-4h5m-4 4h5m-4 0h5m-4 0h5m-5-2h5m-3 1h5m-4 3h5m-4-4h5m-5 4h5m-4-3h5m-5-1h5m-3 2h5m-4-1h5m-5-1h5m-3 0h5m-5 1h5m-5 4h5m-4-3h5m-5 0h5m-4-2h5m-3 2h5m-5 2h5m-5-2h5m0-1h5m-3-2h5m-3 6h5m0-5h5m-4 4h5m-4-3h5m-5 1h5m-4-4h5m-1 3h5m-5 0h5m-4 3h5m-5-6h5m-5 4h5m-5 3h5m-2-6h5m-4 1h5m-3 2h5m-4 1h5m-3-4h5m-5 1h5m-4 3h5m-4 2h5m-4-2h5m-4-1h5m-4 0h5m-5-3h5m-1 2h5m-5 1h5m-5-3h5m-3 6h5m-4 0h5m-3-6h5m-3 1h5m-2 2h5m-2-4h5m-3 7h5m-1-1h5m-4-6h5m-4 4h5m-4 3h5m-5-5h5m-3 0h5m-5 2h5m-1-2h5m-4 4h5m-5-1h5m-2-5h5m-5 4h5m-3 1h5m-5 1h5m-4 0h5m-3-2h5m-4 0h5m-4 2h5m-2-2h5m-3-3h5m-4-1h5m-3 5h5m-5-4h5m-5-1h5m-3 6h5m-2-3h5m-3-3h5m-5 7h5m-4-7h5m-4 6h5m-5-4h5m-4 3h5m-2 1h5m-2-4h5m-4 4h5m-5-1h5m-5-1h5m-4 3h5m-4-2h5m0-5h5m-5 7h5m-4-3h5m-4-2h5m-5-1h5m-5 1h5m-4-1h5m-3-1h5m-2 5h5m-2-2h5m-5-3h5m-4 3h5m-5 2h5m-3 2h5m-4-4h5m-2 0h5m-5 4h5m-2-3h5m-3 2h5m-3-1h5m-3 0h5m-3 1h5m-4-4h5m-5 0h5m-4-2h5m-5 0h5m-5 7h5m-4-7h5m0 5h5m-4-1h5m-3-4h5m-5 1h5m-3 3h5m-5-3h5m-5 6h5m-5-2h5m-3 0h5m-1 0h5m-3 2h5m-3-7h5m-5 4h5m-2 3h5m-5-2h5m-4 0h5m-4 0h5m-4 2h5m-3-6h5m-4 2h5m-4-2h5m-5 0h5m-1 4h5m-5-4h5m-4 2h5m-4-3h5m-5 1h5m-4 0h5m-5 4h5m-4-5h5m-5 7h5m0-3h5m-4 2h5m-2-3h5m-4 4h5m0-4h5m-4 4h5m-4 0h5m-4 0h5m-3-2h5m-5 0h5m-4-4h5m-4 4h5m-4-3h5m-5 2h5m-4 1h5m-5 1h5m-5 1h5m-4 0h5m-3-7h5m-3 0h5m-4 2h5m-5-2h5m-4 7h5m-4-1h5m-5-6h5m-4 0h5m-2 7h5m-4-6h5m-5 2h5m-4-2h5m-5 5h5m-4-4h5m-5 5h5m-5-1h5m-3-4h5m-4 0h5m-5 4h5m0-2h5m-1 2h5m-4-4h5m-5-2h5m1 2h5m-5 4h5m-4 1h5m-346 1h5m-2 2h5m-5-1h5m-4 0h5m-4 6h5m4-5h5m-2 1h5m-4-3h5m-4 3h5m-3 2h5m-5 1h5m-4-6h5m-5 1h5m-4-1h5m0 2h5m-5-1h5m-4 0h5m2 1h5m-4 1h5m-5 4h5m-3-5h5m-4 0h5m-5 2h5m-5 3h5m-5-6h5m-3 0h5m-4 4h5m-5-1h5m-3 3h5m-4-4h5m-2-1h5m-5 1h5m-4 3h5m-4 0h5m0 0h5m-2-2h5m-3-3h5m-1 1h5m1 2h5m-5 0h5m-5 2h5m-4-2h5m-1-4h5m-4 1h5m-1-1h5m-5 7h5m-5-1h5m-3-4h5m-3 2h5m-5-4h5m-2 6h5m-5-4h5m-4 0h5m-5-1h5m-2 5h5m-2-6h5m-5 4h5m-4 0h5m0-4h5m-5 3h5m-3 0h5m-3 0h5m-5 1h5m-4-3h5m-4 6h5m-1-5h5m-3 2h5m-4-3h5m-2 5h5m0-5h5m-5-1h5m-5 0h5m-4 5h5m-4-2h5m-3 0h5m-4-1h5m-4-1h5m-3 1h5m-2 3h5m-5-5h5m-3 5h5m-4-2h5m-4-3h5m-5 6h5m-3-5h5m-2 5h5m-3-2h5m-2 0h5m-3-3h5m-4 2h5m-4-2h5m-5 3h5m-1 0h5m-5 3h5m-3-5h5m-4-1h5m-3 0h5m-5-1h5m-4 2h5m-4-2h5m-5 3h5m-5-2h5m-2 1h5m-5 4h5m-4-5h5m-5 6h5m-5-5h5m-5-2h5m-4 3h5m2 4h5m-4-5h5m-5 0h5m-4-1h5m-3 6h5m-3-6h5m-3-1h5m-5 5h5m-3-3h5m-3-2h5m-4 7h5m-2-2h5m-4 0h5m2-4h5m-3 6h5m-4-6h5m-4 2h5m-2-2h5m-5 1h5m-4-2h5m1 1h5m-5 1h5m-4 4h5m-2-3h5m-4 0h5m-3-3h5m-3 1h5m-4 3h5m-2 3h5m-5-4h5m-5 1h5m-5-4h5m-4 7h5m-3 0h5m-3-3h5m-5 1h5m-2-2h5m-4 0h5m-5 4h5m-2-5h5m-2-2h5m-4 5h5m-4 2h5m-2 0h5m-4-5h5m-3-2h5m-5 2h5m-3 5h5m-3 0h5m-4-5h5m-5 0h5m-5 4h5m2-2h5m-1-2h5m-5-2h5m-4 5h5m-2-1h5m-5 1h5m-4-3h5m-4 0h5m-2-2h5m-4 7h5m-4-2h5m-5-5h5m-4 2h5m-3 2h5m-1 3h5m-5-7h5m-5 5h5m-4 1h5m-5-4h5m-5 5h5m-1-6h5m-5 2h5m-4-1h5m-5 4h5m-5 0h5m-4 1h5m-4-3h5m-2-3h5m4 4h5m-5 1h5m-4 1h5m-4-4h5m-5 3h5m-3 0h5m-3 1h5m-4-2h5m-4-5h5m-3 1h5m-5 5h5m-4-5h5m-5-1h5m-5 2h5m-4 5h5m-4-6h5m1 6h5m-5-7h5m-4 1h5m-2 3h5m-2 3h5m-3-1h5m-5 0h5m-5-4h5m-3 2h5m-3-1h5m-1 2h5m3-4h5m-1 3h5m-3 1h5m-358 7h5m-4-2h5m-5-1h5m5 5h5m-3-2h5m-3 2h5m-5 0h5m-3 1h5m-4-6h5m-2 3h5m-1-2h5m-3 3h5m-1-5h5m-4 3h5m-5-3h5m-5 4h5m-4 1h5m-4 2h5m-4-6h5m-4 2h5m-4 0h5m-3 0h5m-5 3h5m-4-6h5m-4 1h5m-4-1h5m-5 6h5m-4-1h5m-4 2h5m-2-7h5m0 4h5m-5-2h5m-5 0h5m0 0h5m-4 1h5m-5-1h5m-1 4h5m-4-6h5m-4 4h5m-2 0h5m-4 3h5m-4-2h5m-4-2h5m-4 1h5m-4 1h5m-3 2h5m-3 0h5m-5-1h5m-4-2h5m-3-3h5m-4 2h5m-3 0h5m-4 4h5m-4-1h5m-3-2h5m-5-1h5m-4-3h5m-5 1h5m-5 1h5m-4-2h5m-5 0h5m-5 6h5m-5-6h5m-4 1h5m-5 5h5m-5 0h5m-3-3h5m-2 2h5m7-4h5m-5 6h5m-3-1h5m-4-2h5m-2 2h5m-5-6h5m-4 7h5m-4-7h5m-4 4h5m-4 1h5m-5 2h5m-2-3h5m-4-2h5m-4 0h5m-4 2h5m-2 3h5m-4-6h5m-4 1h5m-4-2h5m-5 1h5m-4 2h5m-5 0h5m3-1h5m-5 1h5m-5-1h5m-4 3h5m-4-5h5m-5 4h5m-1-3h5m0 1h5m0 2h5m-4 0h5m-2 1h5m-2-4h5m-5 5h5m-4-4h5m-5 2h5m-5 2h5m-3-6h5m-4 1h5m-3 0h5m-5 6h5m-4-7h5m-4 6h5m-4-4h5m-3 3h5m-2-5h5m-5 6h5m-3-6h5m-4 5h5m-4-2h5m-1 3h5m-4-2h5m-4-4h5m2 0h5m-2 5h5m-4-4h5m-3 0h5m9 0h5m0 6h5m-4-7h5m-4 7h5m-3-5h5m-3 5h5m-3-6h5m-4 0h5m-4-1h5m-5 5h5m-4 1h5m-4-2h5m-2 0h5m-2 1h5m-5 0h5m-4 0h5m-3 0h5m-4-3h5m-5 1h5m-1-3h5m-2 2h5m-4 3h5m-1 0h5m-5-5h5m-4 4h5m-1-2h5m-3 3h5m-4 1h5m-1-4h5m-3 0h5m-4 3h5m-2-2h5m1 0h5m0 1h5m-3 0h5m-3 1h5m-5-4h5m1 6h5m0-6h5m-4 6h5m-3-6h5m-5-1h5m-5 7h5m-5-2h5m-1 0h5m0-5h5m-3 6h5m-4-4h5m-5 1h5m1 2h5m-4-3h5m-3 0h5m-5-2h5m-4 0h5m-4 6h5m-4-4h5m-5-2h5m-4 5h5m-5 1h5m-5-6h5m-3 5h5m-5 1h5m-4-6h5m-4 6h5m-5 0h5m-3 0h5m-1 1h5m-4-6h5m-4 6h5m-2-2h5m0 1h5m-4-3h5m-2-2h5m-349 9h5m-2 5h5m-4-6h5m-5-1h5m-4 1h5m-2 6h5m-2 0h5m-4-2h5m-1-3h5m-5 5h5m-1-7h5m-5 7h5m-5-3h5m-2-2h5m-5-1h5m-2 6h5m-4-4h5m-4-1h5m-5 4h5m-5 0h5m-3 1h5m-3-7h5m-5 4h5m1 3h5m-3-3h5m-4-3h5m-3 0h5m0 4h5m-5-5h5m-4 2h5m-4 5h5m-5-3h5m-1 2h5m-2-1h5m-4-4h5m-2-1h5m-4 4h5m-5-3h5m-5-1h5m-1 6h5m-5-5h5m-4 5h5m-3-1h5m-2-2h5m-4 2h5m0 1h5m-4-5h5m-2 2h5m-4-2h5m-2 5h5m-3-3h5m-5-3h5m-5 7h5m-4-6h5m-3 4h5m-4 1h5m-4-2h5m-3 2h5m-4-3h5m-5-3h5m-4 1h5m-5 2h5m-4-2h5m-2 5h5m-5-6h5m5 7h5m-2-1h5m-5-4h5m-4-1h5m-3 4h5m-4-2h5m-4-3h5m-4 5h5m-4-1h5m-5-4h5m0 1h5m-4 1h5m-4 4h5m-4-6h5m-1 1h5m-5 4h5m5-2h5m-4 4h5m-4 0h5m-4-2h5m-5 0h5m-4 0h5m-3 0h5m-4-1h5m3-1h5m-4 3h5m-5-1h5m-5-3h5m-4 1h5m-4 3h5m-3-1h5m-1-1h5m-4 2h5m-4-6h5m-4 6h5m0-5h5m-2 0h5m-3 0h5m-5 4h5m-5 0h5m-4-1h5m-4 3h5m-5-1h5m-5-2h5m-4 1h5m-4-4h5m-3 0h5m-5 4h5m-3-2h5m-5-1h5m-3-2h5m-4 0h5m-5 0h5m-4 0h5m-5 3h5m-5-1h5m-4 2h5m-5 1h5m-4-4h5m-4 6h5m-4-5h5m-2 3h5m-4-5h5m-3 2h5m-4 3h5m-5 1h5m-4-2h5m-3-3h5m-3 1h5m-5 3h5m4-1h5m-5-4h5m-4 6h5m-5-2h5m-3 2h5m-4-1h5m-5-3h5m-4-1h5m-2 6h5m-2-5h5m-1 0h5m-1 0h5m-4 1h5m-5-2h5m-2 5h5m-3-4h5m-4 2h5m-5 0h5m-4-2h5m-2 2h5m-4 2h5m-5 0h5m-2 1h5m-3-6h5m-4 0h5m-3 4h5m-5-2h5m-3 2h5m-5 0h5m-2-5h5m1 0h5m-3 6h5m-5-6h5m-5 2h5m-1 5h5m-1-3h5m0-2h5m-2 3h5m-5-1h5m-4 2h5m-2-4h5m-2 4h5m-2 0h5m-3-6h5m-3 0h5m-3 3h5m-4-3h5m-4 1h5m-5-1h5m-3 4h5m-4 3h5m-5-5h5m-5 1h5m-3 2h5m-5-3h5m-5 5h5m-4-7h5m-1 7h5m-2-1h5m-5-2h5m-4-1h5m-5-2h5m-4 3h5m-2-3h5m-4 0h5m-5 5h5m-3-4h5m-5-1h5m-4 1h5m-3 3h5m-4-3h5m-3 0h5m-4 4h5m-4-4h5m-3 0h5m0 5h5m-4-4h5m1-1h5m-5 3h5m-349 7h5m-1-2h5m-3-2h5m-1 6h5m-1-4h5m-2 5h5m-4-5h5m-4-2h5m-4 6h5m0-3h5m-2 4h5m-4-5h5m0 3h5m-3 2h5m2-1h5m0 0h5m-4-3h5m-3 4h5m-5-4h5m-5 1h5m-4 2h5m-2-2h5m-4-2h5m-4-2h5m-5 1h5m-3 1h5m-2 0h5m-2 1h5m-5-2h5m-4 6h5m-5-7h5m-3 5h5m-5 2h5m-5-4h5m-3 0h5m-2 4h5m-4-6h5m-3 3h5m-2-3h5m-5-1h5m-4 0h5m-3 3h5m-5-2h5m-4 6h5m-4-3h5m-4-1h5m-5 3h5m0-5h5m-5 6h5m-4 0h5m-4-1h5m-5-2h5m-4 1h5m-2-2h5m-2 4h5m-4-5h5m-5 2h5m-4-2h5m1 3h5m-4-4h5m-2 2h5m3-3h5m-4 0h5m-4 6h5m-5-2h5m-4-3h5m-3 1h5m-4-1h5m-3 0h5m-3 0h5m2 3h5m-4-1h5m4-2h5m-4-1h5m-2 6h5m-4-4h5m-5-1h5m-4-1h5m-5 5h5m-2 1h5m-4-2h5m-3-4h5m-5 7h5m-5 0h5m-1-6h5m-1 3h5m-3 2h5m-5-6h5m-2 1h5m-4 2h5m-3 1h5m-5 1h5m-4 2h5m-4-3h5m-4-3h5m-5 5h5m-4-1h5m-4-2h5m3-3h5m-4 3h5m-4 0h5m-4-1h5m-4 3h5m-5 2h5m0-3h5m-5 0h5m-4 1h5m-3-3h5m6 1h5m0-3h5m-3 1h5m1 4h5m-1-1h5m-5 0h5m-3-4h5m-3 1h5m-1 0h5m-4 1h5m-2-1h5m-5-1h5m-2 7h5m-1-1h5m-5 1h5m-2 0h5m-2-4h5m-4 4h5m-5-5h5m-5 2h5m-4-2h5m-3 3h5m-4 2h5m-2-6h5m-4 3h5m-5-2h5m-3 5h5m-4-2h5m-4-4h5m-5-1h5m-1 7h5m-5-5h5m-5 5h5m-3-1h5m-4-5h5m-3 1h5m-4 3h5m-2-2h5m-3-3h5m-2 4h5m-4-2h5m-4 2h5m-2 3h5m0-6h5m3-1h5m-4 6h5m-3-4h5m-4 3h5m-3 2h5m-5-4h5m-5-2h5m2 0h5m-5 2h5m-4 2h5m-3-1h5m-3 1h5m-5-3h5m-3 2h5m-1-1h5m0 1h5m-3 0h5m-3-1h5m-4 0h5m-2 1h5m-1-3h5m-350 14h5m-5-1h5m-3-4h5m-4 2h5m-3-4h5m2 4h5m-1 3h5m-3-2h5m0-4h5m-1 5h5m-1 0h5m-4-2h5m-3-3h5m-4 4h5m3-5h5m0 6h5m3-4h5m-5-2h5m-4 3h5m-3-3h5m-2 0h5m-4 1h5m-4 0h5m-3 1h5m-3 2h5m-1-1h5m-2-2h5m-5 3h5m-3 0h5m-1 3h5m-4-4h5m-5 1h5m-4 2h5m-2-1h5m-4 0h5m-2-5h5m-4 3h5m4 4h5m-5-7h5m-1 4h5m-5 0h5m3-2h5m-4 0h5m-3 2h5m1 3h5m-3 0h5m-3-2h5m-4 1h5m-4-5h5m-1 4h5m-4-3h5m-3 5h5m-2-7h5m-4 2h5m-3-1h5m-4-1h5m-5 4h5m-2 1h5m-3-3h5m-1-1h5m-5 1h5m0 2h5m-5 0h5m-4-4h5m-1 5h5m-5-4h5m-4 2h5m0 4h5m-2-3h5m-3 0h5m-3 0h5m-2 0h5m0-1h5m-2-2h5m-5 3h5m0 3h5m-1 0h5m-5-5h5m-3 4h5m-5-6h5m-3 1h5m0 2h5m-4-2h5m-2-1h5m-4 0h5m-3 0h5m-3 6h5m-5-5h5m-4 0h5m-3 0h5m11 5h5m1-1h5m-5 0h5m-4 2h5m-2-1h5m-4-6h5m0 2h5m-4 3h5m-1-5h5m-1 4h5m-5 2h5m-2-1h5m-3 1h5m-3-4h5m-3-1h5m-4 3h5m-1-1h5m-5 1h5m-5 3h5m5-2h5m-5-4h5m-2 6h5m-2-3h5m-4-1h5m-4-1h5m2 0h5m-5 1h5m-1 0h5m-3 4h5m-4 0h5m-4-2h5m-5-1h5m-4 2h5m-5 1h5m-5-5h5m-3-2h5m-1 1h5m-4 6h5m-1-5h5m-4 0h5m-3-2h5m-4 6h5m1-1h5m-5 2h5m-2-6h5m-4-1h5m1 2h5m7 1h5m-346 8h5m-5-3h5m-4 6h5m-5-1h5m-5-5h5m-2 7h5m-2-6h5m-4 0h5m-4 3h5m7-1h5m-1 2h5m-5-2h5m-1 0h5m-3 0h5m-5-3h5m-4 3h5m-4-3h5m-4 3h5m-4 4h5m-2-1h5m-5-1h5m-2-5h5m-5 5h5m-3-1h5m-2 3h5m-2 0h5m-3-4h5m-1-1h5m-4 0h5m-4 2h5m-4 0h5m-4-1h5m-4 3h5m-3-3h5m-5 0h5m-4 4h5m-4-6h5m-3 0h5m2-1h5m-5 2h5m-4 5h5m-1-5h5m-4-1h5m-3 4h5m-3-2h5m-3 0h5m-4 4h5m-5-2h5m-4 0h5m-4-5h5m2 2h5m-2 0h5m-4 0h5m-5-2h5m-2 6h5m7-6h5m-5 3h5m-4 1h5m-2 0h5m-4-1h5m-5-2h5m-3 2h5m-2-2h5m-1 3h5m-4-4h5m-4 7h5m-5-1h5m-2-4h5m-4-2h5m-2 3h5m-3-2h5m-5 6h5m-4-1h5m-2-6h5m-5 7h5m5-7h5m-4 7h5m-3-3h5m-4 3h5m-2-5h5m-4 2h5m7 1h5m1 0h5m3-1h5m2 3h5m4-6h5m-3 2h5m-4 1h5m-5-4h5m-4 0h5m-3 4h5m-4 1h5m-4 2h5m-3-3h5m1-4h5m-3 5h5m-5-4h5m-3 0h5m-5 3h5m-3-2h5m-4 5h5m-5-3h5m-2-4h5m-3 3h5m-5-3h5m-5 6h5m-2-4h5m-5 3h5m-3 2h5m-2-4h5m-3-3h5m-5 0h5m-3 0h5m0 0h5m-4 2h5m-1 0h5m-5 3h5m-4-5h5m-3 4h5m-2-4h5m-5 1h5m-5 4h5m-4-1h5m-3 2h5m-4 1h5m1-4h5m-4 4h5m-3-5h5m0 0h5m4-2h5m-3 6h5m-3-4h5m-2 5h5m5-7h5m6 3h5m1-1h5m-3 0h5m-3 0h5m6 0h5m-345 10h5m-4 0h5m-2 2h5m9-6h5m-3 7h5m1-3h5m-1 0h5m-4 0h5m4 1h5m1 1h5m-5-5h5m-4-1h5m-2 1h5m-5 6h5m-4-4h5m-5 0h5m2 3h5m-3-6h5m-3 7h5m-3-5h5m-3-2h5m-4 2h5m-3-1h5m-4 4h5m-5 0h5m-4 2h5m-5 0h5m-4-6h5m-3 3h5m0-3h5m-4 6h5m7-1h5m-4-6h5m-3 7h5m-3-4h5m-4 1h5m6-4h5m-3 0h5m-3 1h5m-5 5h5m3-2h5m-4-1h5m-4-2h5m-2 2h5m-4 0h5m-1 3h5m-4-4h5m-4 1h5m-4 0h5m-2 1h5m8 2h5m3-6h5m-3 2h5m6-1h5m-4 2h5m-5-3h5m-4 5h5m-5-2h5m-5 1h5m-1 1h5m-5-5h5m-5 7h5m-4-3h5m-5 3h5m-5-6h5m-4 3h5m-3-1h5m-5 3h5m10 1h5m-3-2h5m-2-3h5m1 2h5m-4-2h5m-1-1h5m12 1h5m-3 1h5m-3-2h5m-3 3h5m1 2h5m16-2h5m-4-3h5m-2 0h5m-4 3h5m2-1h5m8-3h5m-4 7h5m-4-7h5m-4 1h5m-2 6h5m-3-3h5m-1 3h5m-3-2h5m-3 1h5m-5-6h5m-2 5h5m-5-1h5m-5-1h5m0-3h5m4 4h5m-4-4h5m-3 5h5m-2-5h5m-2 6h5m1-2h5m-3-1h5m-4 2h5m-2-4h5m-4 6h5m-4-7h5m-4 4h5m2 1h5m-352 9h5m-5-2h5m-4-2h5m-5-2h5m-5 1h5m-1 1h5m-3 5h5m9 0h5m-4-5h5m-5-1h5m-3 6h5m-5-2h5m-2-4h5m-5 6h5m-4-6h5m-1 0h5m3 1h5m3-1h5m-2 4h5m-1-2h5m-4-2h5m9 5h5m-1 1h5m1-1h5m-3-5h5m-4 2h5m0 3h5m-1 1h5m-2-6h5m-4 2h5m2 4h5m-4-3h5m-1 2h5m-1-4h5m-2-1h5m-4 0h5m-2 6h5m-4-7h5m-4 5h5m-3-3h5m0 2h5m-3 0h5m-1-4h5m-4 0h5m2 5h5m-5 0h5m0 1h5m5-2h5m-5 3h5m-1 0h5m-3-3h5m-2-3h5m-5 1h5m-1 1h5m-3-2h5m-3 0h5m-3 1h5m-4 5h5m-5 0h5m-1-7h5m-5 1h5m2 1h5m-3-1h5m-5 5h5m-4-1h5m0-1h5m11 0h5m-5 3h5m-4-3h5m-3-3h5m3 1h5m-5-1h5m-1 6h5m-4-5h5m12 1h5m0 3h5m-2-3h5m-2 4h5m1-2h5m-4 0h5m10 0h5m-2-3h5m-4 5h5m-1-4h5m0 4h5m2-6h5m-2 6h5m5-1h5m-1-1h5m-4-4h5m0 2h5m14-3h5m-344 11h5m-5-1h5m-4 1h5m-3 2h5m-4 2h5m-3-3h5m-2-3h5m-5 0h5m-3 4h5m-1 0h5m-1-1h5m0 1h5m0-4h5m-3 4h5m10-5h5m-3 7h5m-4-1h5m-1-1h5m-1-3h5m4 0h5m7-1h5m-5 3h5m-1 1h5m1-2h5m-5 2h5m-3-2h5m-3 3h5m-1 0h5m-5-3h5m-3-2h5m1-1h5m2 4h5m-4-2h5m-2-1h5m1 0h5m-4 0h5m-5 5h5m-2 0h5m-4-5h5m12 3h5m4-3h5m-3 6h5m-3-5h5m-3 2h5m0-3h5m2 3h5m-3-1h5m-5 1h5m-2-3h5m-1 1h5m-5 0h5m1 4h5m-3-4h5m0 4h5m-4 1h5m1-6h5m1 3h5m-4-1h5m0 0h5m-2 2h5m-4 2h5m2-4h5m-1 3h5m-5-6h5m2 2h5m-4 1h5m-5-3h5m9 5h5m-4-5h5m-1 0h5m5 6h5m-4-2h5m-4-4h5m-4 3h5m-4 1h5m-5 1h5m-3 2h5m0-5h5m-1 4h5m-4 0h5m-1-1h5m9 0h5m7 1h5m-2-1h5m6 1h5m6-2h5m-341 8h5m-1-3h5m-4 2h5m-1-1h5m6 2h5m-1 1h5m-5-3h5m-4 4h5m0-3h5m-5 3h5m0-6h5m-2 3h5m-5-3h5m-1 2h5m-2 2h5m16 2h5m-3-4h5m-3 1h5m-4 4h5m6-3h5m-5-4h5m-4 3h5m10-2h5m-2 4h5m7-1h5m1-2h5m-2 5h5m11 0h5m2-7h5m-3 1h5m5 3h5m4 3h5m-4-7h5m-4 5h5m-4-4h5m2 4h5m-2 0h5m18 2h5m2-4h5m-3 0h5m-3-2h5m-5 4h5m-2-4h5m3-1h5m-1 2h5m0 5h5m-5-5h5m4-1h5m0-1h5m-3 7h5m6-4h5m-5-2h5m-4 4h5m-1 1h5m1-6h5m-4 3h5m-2-1h5m-4 3h5m-1 0h5m-4 2h5m-4-2h5m-5-4h5m-2 1h5m0 0h5m1 3h5m0-3h5m1 3h5m1-3h5m-4-1h5m-1 2h5m-2-1h5m2 5h5m0-7h5m-1 0h5m-336 14h5m-4-2h5m5-4h5m0 7h5m-4-2h5m-4 0h5m-3-2h5m-3-1h5m0 3h5m4 2h5m4-6h5m-2 6h5m-4-5h5m2 5h5m-5-2h5m-1 2h5m0-6h5m10 3h5m2-3h5m-2 5h5m0-4h5m6 4h5m-5-6h5m9 3h5m0 1h5m13-4h5m-3 4h5m-4-4h5m7 3h5m8 2h5m-3-5h5m-2 1h5m7 2h5m8 0h5m0 3h5m6 1h5m10-7h5m9 5h5m-3 1h5m-1-5h5m12 6h5m-2 0h5m-4 0h5m-3-5h5m0 2h5m3 0h5m-1 2h5m-4 0h5m19-4h5m-1 5h5m-5-4h5m3 3h5m-335 9h5m26-7h5m5 7h5m-3-7h5m4 4h5m-5 0h5m1 1h5m-4-3h5m-2 5h5m-5-4h5m10-1h5m-3 5h5m0-5h5m8 5h5m-4-4h5m-1 4h5m-3-2h5m-4-1h5m-5-3h5m-4 4h5m-3 2h5m-2-1h5m-4 0h5m3-1h5m-3 0h5m-4 2h5m8-3h5m-2 2h5m0-4h5m-2 2h5m-1-3h5m7 5h5m2-2h5m4 2h5m10-6h5m-3 7h5m4-1h5m12 0h5m5-2h5m-4 1h5m0-3h5m11-1h5m-2 5h5m-4-6h5m4 5h5m-4-3h5m5 3h5m-3-5h5m0 3h5m-5 4h5m7 0h5m-4 0h5m-4-6h5m4 3h5m0 2h5m-4-3h5m-3-3h5m-4 2h5m-4 1h5m-2 1h5m-4-4h5m3 5h5m-2-3h5m1 2h5m-351 11h5m2-6h5m-5 5h5m2-5h5m4 3h5m5 1h5m1-4h5m-1 1h5m9 3h5m22-2h5m-4 0h5m3 0h5m-4 0h5m-3-1h5m6 3h5m25-4h5m-1 1h5m-2-2h5m7 6h5m-1-2h5m4 0h5m-3 1h5m1-2h5m6-3h5m-4 3h5m15-1h5m1-2h5m38 4h5m-2 2h5m-2-5h5m16-1h5m-3 2h5m-2 1h5m18-1h5m4 4h5m-4-2h5m-3-2h5m-321 9h5m1 2h5m-3-5h5m0 1h5m-4 2h5m14 1h5m13-2h5m8-1h5m6 4h5m4-3h5m0 5h5m26-6h5m-2 5h5m10 1h5m3-2h5m-2 0h5m7 0h5m5 1h5m-4-4h5m-5-1h5m4 6h5m0-7h5m2 0h5m-3 1h5m6-1h5m15 6h5m10 0h5m-3-4h5m-4-2h5m1 6h5m-5-5h5m-5 0h5m-3 3h5m4 2h5m-2 1h5m10-3h5m8-2h5m-2-1h5m10 1h5m11 0h5m1 1h5m-347 6h5m15 5h5m7 1h5m6-5h5m9 3h5m1 1h5m-1-6h5m4 0h5m46 6h5m24-3h5m1 2h5m-1-2h5m28 1h5m2 3h5m-2-4h5m5 0h5m6 3h5m3 1h5m7-4h5m-2 3h5m1 1h5m5-4h5m-3-1h5m-1 1h5m-5-1h5m13 0h5m6 2h5m1 1h5m5-4h5m-324 11h5m1-2h5m9 5h5m-3-5h5m5 4h5m47-3h5m12 4h5m-2 0h5m35-1h5m-2-5h5m42 4h5m17 2h5m31-3h5m8-4h5m-1 5h5m32-3h5m-2 4h5m6-1h5m-1 2h5m1-3h5m4 0h5m-344 7h5m28-1h5m23-1h5m14 4h5m-4-4h5m20 1h5m2 5h5m0-6h5m23 0h5m17-1h5m7 6h5m-3-4h5m-3 3h5m3-4h5m40 3h5m4 0h5m28-2h5m32-1h5m2 0h5m2 5h5m-300 7h5m1-2h5m5 3h5m53-6h5m33 5h5m6-1h5m34 0h5m13-1h5m16 1h5m17-1h5m-264 11h5m-5-6h5m52 4h5m-2-3h5m42 4h5m43-4h5m17 3h5m-2-1h5m4-3h5m3 0h5m-1 0h5m46 3h5m27-2h5m2 6h5m19-6h5m-3 2h5m5 2h5m-179 6h5m130 3h5m1-5h5m23 2h5m-301 6h5m8 3h5m15-3h5m18 6h5m0-1h5m87 1h5m3 0h5m-1-6h5m48-1h5m48 7h5m-291 6h5m9-2h5m23-1h5m32-2h5m-3 6h5m131-5h5m0 6h5m20-2h5m-2 2h5m-242 5h5m10-2h5m26 5h5m23-3h5m44 2h5m68 1h5m10-7h5m26 0h5m2 1h5m17 3h5m34 0h5m-2 0h5m-302 4h5m118 3h5m0 4h5m161-7h5m-243 13h5m-2 0h5m70-3h5m41-2h5m17 0h5m16 1h5m54 2h5m-279 8h5m34-1h5m25-1h5m46 2h5m117 2h5m26-5h5m-316 14h5m86-4h5m173 5h5m8-3h5m34-2h5m-4 4h5m-289 8h5m72-1h5m-5-5h5m18 2h5m88 2h5m44 3h5m12-5h5m15 0h5m-2 1h5m-284 9h5m15-3h5m112 4h5m-183 9h5m131 2h5m73 0h5m82 0h5m-242 12h5m33-4h5m113 3h5m6-3h5m62 4h5m2-2h5" style="stroke:#040c5e;stroke-width:5.2;fill:none"/>
<path transform="scale(.25)" d="M419 722h5m23 5h5m-16 15h5m-126 5h5m1 1h5m131 2h5m19-6h5m-3 4h5" style="stroke:#fa7a30;stroke-width:5.2;fill:none"/>
<path d="M28.4 171.89V317.41" style="fill:none;stroke:#000;stroke-width:0.42;stroke-opacity:0.7"/>
<path d="M28.19 172.1H165.71" style="fill:none;stroke:#000;stroke-width:0.42;stroke-opacity:0.6"/>
<path d="M165.5 171.89V317.41" style="fill:none;stroke:#000;stroke-width:0.42;stroke-opacity:0.9"/>
<path d="M28.19 317.2H165.71" style="fill:none;stroke:#000;stroke-width:0.42;stroke-opacity:0.35"/>
<path d="M28.4 313.5h1.8M28.4 288.66h1.8M28.4 263.82h1.8M28.4 238.97h1.8M28.4 214.13h1.8M28.4 189.29h1.8M40.44 317.2v-1.8M56.07 317.2v-1.8M71.7 317.2v-1.8M87.34 317.2v-1.8M102.97 317.2v-1.8M118.6 317.2v-1.8M134.23 317.2v-1.8M149.87 317.2v-1.8M165.5 317.2v-1.8" style="stroke:#000;stroke-width:.5;fill:none"/>
<path d="M28.4 315.91h1M28.4 314.64h1M28.4 306.02h1M28.4 301.65h1M28.4 298.54h1M28.4 296.14h1M28.4 294.17h1M28.4 292.5h1M28.4 291.06h1M28.4 289.79h1M28.4 281.18h1M28.4 276.8h1M28.4 273.7h1M28.4 271.29h1M28.4 269.33h1M28.4 267.66h1M28.4 266.22h1M28.4 264.95h1M28.4 256.34h1M28.4 251.96h1M28.4 248.86h1M28.4 246.45h1M28.4 244.48h1M28.4 242.82h1M28.4 241.38h1M28.4 240.11h1M28.4 231.5h1M28.4 227.12h1M28.4 224.02h1M28.4 221.61h1M28.4 219.64h1M28.4 217.98h1M28.4 216.54h1M28.4 215.27h1M28.4 206.65h1M28.4 202.28h1M28.4 199.18h1M28.4 196.77h1M28.4 194.8h1M28.4 193.14h1M28.4 191.7h1M28.4 190.43h1M28.4 181.81h1M28.4 177.44h1M28.4 174.33h1M29.51 317.2v-1M32.26 317.2v-1M34.22 317.2v-1M35.73 317.2v-1M36.97 317.2v-1M38.02 317.2v-1M38.92 317.2v-1M39.72 317.2v-1M45.14 317.2v-1M47.9 317.2v-1M49.85 317.2v-1M51.36 317.2v-1M52.6 317.2v-1M53.65 317.2v-1M54.56 317.2v-1M55.35 317.2v-1M60.78 317.2v-1M63.53 317.2v-1M65.48 317.2v-1M67 317.2v-1M68.23 317.2v-1M69.28 317.2v-1M70.19 317.2v-1M70.99 317.2v-1M76.41 317.2v-1M79.16 317.2v-1M81.11 317.2v-1M82.63 317.2v-1M83.87 317.2v-1M84.91 317.2v-1M85.82 317.2v-1M86.62 317.2v-1M92.04 317.2v-1M94.79 317.2v-1M96.75 317.2v-1M98.26 317.2v-1M99.5 317.2v-1M100.55 317.2v-1M101.45 317.2v-1M102.25 317.2v-1M107.67 317.2v-1M110.43 317.2v-1M112.38 317.2v-1M113.9 317.2v-1M115.13 317.2v-1M116.18 317.2v-1M117.09 317.2v-1M117.89 317.2v-1M123.31 317.2v-1M126.06 317.2v-1M128.01 317.2v-1M129.53 317.2v-1M130.77 317.2v-1M131.81 317.2v-1M132.72 317.2v-1M133.52 317.2v-1M138.94 317.2v-1M141.69 317.2v-1M143.65 317.2v-1M145.16 317.2v-1M146.4 317.2v-1M147.45 317.2v-1M148.35 317.2v-1M149.15 317.2v-1M154.57 317.2v-1M157.33 317.2v-1M159.28 317.2v-1M160.79 317.2v-1M162.03 317.2v-1M163.08 317.2v-1M163.99 317.2v-1M164.78 317.2v-1" style="stroke:#000;stroke-width:.4;stroke-opacity:.7;fill:none"/>
<g font-family='"Liberation Serif", serif' font-size="7.3" fill="#1a1a1a" stroke="#1a1a1a" stroke-width=".18">
<text x="12.1" y="192.29" textLength="8" lengthAdjust="spacingAndGlyphs">10</text><text x="20.7" y="189.69" font-size="5.3" textLength="6.3" lengthAdjust="spacingAndGlyphs">−2</text>
<text x="12.1" y="217.13" textLength="8" lengthAdjust="spacingAndGlyphs">10</text><text x="20.7" y="214.53" font-size="5.3" textLength="6.3" lengthAdjust="spacingAndGlyphs">−3</text>
<text x="12.1" y="241.97" textLength="8" lengthAdjust="spacingAndGlyphs">10</text><text x="20.7" y="239.37" font-size="5.3" textLength="6.3" lengthAdjust="spacingAndGlyphs">−4</text>
<text x="12.1" y="266.82" textLength="8" lengthAdjust="spacingAndGlyphs">10</text><text x="20.7" y="264.22" font-size="5.3" textLength="6.3" lengthAdjust="spacingAndGlyphs">−5</text>
<text x="12.1" y="291.66" textLength="8" lengthAdjust="spacingAndGlyphs">10</text><text x="20.7" y="289.06" font-size="5.3" textLength="6.3" lengthAdjust="spacingAndGlyphs">−6</text>
<text x="12.1" y="316.5" textLength="8" lengthAdjust="spacingAndGlyphs">10</text><text x="20.7" y="313.9" font-size="5.3" textLength="6.3" lengthAdjust="spacingAndGlyphs">−7</text>
<text x="48.62" y="323.8" textLength="8" lengthAdjust="spacingAndGlyphs">10</text><text x="57.22" y="321.2" font-size="5.3" textLength="6.3" lengthAdjust="spacingAndGlyphs">−5</text>
<text x="79.89" y="323.8" textLength="8" lengthAdjust="spacingAndGlyphs">10</text><text x="88.49" y="321.2" font-size="5.3" textLength="6.3" lengthAdjust="spacingAndGlyphs">−3</text>
<text x="111.15" y="323.8" textLength="8" lengthAdjust="spacingAndGlyphs">10</text><text x="119.75" y="321.2" font-size="5.3" textLength="6.3" lengthAdjust="spacingAndGlyphs">−1</text>
<text x="144.27" y="323.8" textLength="8" lengthAdjust="spacingAndGlyphs">10</text><text x="152.87" y="321.2" font-size="5.3" textLength="2.6" lengthAdjust="spacingAndGlyphs">1</text>
</g>
<g font-family='"Liberation Sans", sans-serif' fill="#1a1a1a" stroke="#1a1a1a" stroke-width=".15">
<text transform="translate(8.2 79.9) rotate(-90)" text-anchor="middle" font-size="9.5" textLength="86" lengthAdjust="spacingAndGlyphs">predicted <tspan font-style="italic">σ</tspan><tspan font-style="italic" font-size="6.6" dy="1.9">NLO</tspan><tspan dy="-1.9">[pb]</tspan></text>
<text transform="translate(8.9 244.7) rotate(-90)" text-anchor="middle" font-size="9.5" textLength="61.2" lengthAdjust="spacingAndGlyphs">relative error</text>
<text x="97.2" y="334.2" text-anchor="middle" font-size="9.5" textLength="39" lengthAdjust="spacingAndGlyphs"><tspan font-style="italic">σ</tspan><tspan font-style="italic" font-size="6.6" dy="1.9">NLO</tspan><tspan dy="-1.9">[pb]</tspan></text>
</g>
<rect x="110.8" y="275.5" width="51.9" height="38.4" rx="1.2" fill="#fff" fill-opacity=".8" stroke="#ddd" stroke-width=".5"/>
<rect x="116.7" y="279.2" width="1.4" height="1.4" fill="#d3d7d1"/>
<text x="127.4" y="282" font-family='"Liberation Sans", sans-serif' font-size="6.1" fill="#111" stroke="#111" stroke-width=".07"><tspan font-style="italic">σ</tspan> &lt; <tspan font-style="italic">σ</tspan><tspan font-style="italic" font-size="3.6" dy="1">exp</tspan></text>
<rect x="116.7" y="286.8" width="1.4" height="1.4" fill="#fa7a30"/>
<text x="127.4" y="289.6" font-family='"Liberation Sans", sans-serif' font-size="6.1" fill="#111" stroke="#111" stroke-width=".07">rest</text>
<rect x="116.7" y="294.4" width="1.4" height="1.4" fill="#7cb8f8"/>
<text x="127.4" y="297.2" font-family='"Liberation Sans", sans-serif' font-size="6.1" fill="#111" stroke="#111" stroke-width=".07">three <tspan font-style="italic">σ</tspan> error</text>
<rect x="116.7" y="302" width="1.4" height="1.4" fill="#0c46e0"/>
<text x="127.4" y="304.8" font-family='"Liberation Sans", sans-serif' font-size="6.1" fill="#111" stroke="#111" stroke-width=".07">two <tspan font-style="italic">σ</tspan> error</text>
<rect x="116.7" y="309.6" width="1.4" height="1.4" fill="#040c5e"/>
<text x="127.4" y="312.4" font-family='"Liberation Sans", sans-serif' font-size="6.1" fill="#111" stroke="#111" stroke-width=".07">one <tspan font-style="italic">σ</tspan> error</text>
<text x="54.7" y="357.7" font-family='"Liberation Serif", serif' font-size="13.8" fill="#000" font-weight="bold">(a)</text>
<g font-family='"Liberation Serif", serif' fill="#000">
<path d="M80.7 352.2L75.1 359.2" style="fill:none;stroke:#000;stroke-width:1.25;stroke-linecap:round"/>
<path d="M75.5 353.1c.4-.6 1-.6 1.3 0L78.8 359c.2.5.5.6.9.3" style="fill:none;stroke:#000;stroke-width:.7"/>
<path d="M76.6 350.4c.6-1 1.2-1 1.9-.5s1.3.5 1.9-.5" style="fill:none;stroke:#000;stroke-width:.5"/>
<text x="82" y="361.8" font-size="9.3">1</text>
<path d="M82.8 350.6h5M85.3 348.1v5" style="stroke:#000;stroke-width:.6"/>
<path d="M95.9 352.2L90.3 359.2" style="fill:none;stroke:#000;stroke-width:1.25;stroke-linecap:round"/>
<path d="M90.7 353.1c.4-.6 1-.6 1.3 0L94 359c.2.5.5.6.9.3" style="fill:none;stroke:#000;stroke-width:.7"/>
<path d="M91.8 350.4c.6-1 1.2-1 1.9-.5s1.3.5 1.9-.5" style="fill:none;stroke:#000;stroke-width:.5"/>
<text x="97.2" y="361.8" font-size="9.3">1</text>
<path d="M98 350.4h5" style="stroke:#000;stroke-width:.6"/>
</g>
<path d="M205.85 152.18L332.52 6.93" style="stroke:#1d56de;stroke-width:2.0;stroke-linecap:round"/>
<path transform="scale(.25)" d="M1304 60h5m-36 33h5m-4-4h5m-12 10h5m-18 15h5m-16 10h5m-4-1h5m-28 27h5m-9 7h5m-13 3h5m-10 8h5m-13 12h5m-5-2h5m-25 23h5m-42 41h5m0 1h5m-14 8h5m-26 19h5m-4-2h5m-5 1h5m-4-1h5m-10 11h5m-2-1h5m-4-3h5m-12 6h5m-1-1h5m-33 27h5m-35 27h5m6-4h5m-17 13h5m-4-3h5m1 0h5m-15 8h5m0-3h5m-23 17h5m-14 9h5m-4-2h5m-2 0h5m-23 11h5m4-1h5m-18 10h5m1 1h5m-2 0h5m-5-5h5m-23 14h5m8-7h5m-4 1h5m-4-1h5m-2 1h5m-26 16h5m-37 22h5m-9 5h5m-2-3h5m-2 6h5m-11 6h5m-1 1h5m-14 5h5m0 1h5m-5-4h5m-3 0h5m-3 1h5m-18 12h5m-18 9h5m-25 21h5m-5 6h5m-13 8h5m-25 14h5m-3-1h5m-10 7h5m-3 1h5m0-3h5m-4 2h5m-13 9h5m-2-1h5m-6 6h5m-39 29h5m-11 8h5m-12 11h5m-15 6h5m-14 9h5" style="stroke:#1d56de;stroke-width:5.2;fill:none"/>
<path d="M202 0.09V156.81" style="fill:none;stroke:#000;stroke-width:0.42;stroke-opacity:0.7"/>
<path d="M201.79 0.3H338.51" style="fill:none;stroke:#000;stroke-width:0.42;stroke-opacity:0.9"/>
<path d="M338.3 0.09V156.81" style="fill:none;stroke:#000;stroke-width:0.42;stroke-opacity:0.3"/>
<path d="M201.79 156.6H338.51" style="fill:none;stroke:#000;stroke-width:0.42;stroke-opacity:0.9"/>
<path d="M202 139.55h1.8M202 107.97h1.8M202 76.4h1.8M202 44.82h1.8M202 13.25h1.8M216.87 156.6v-1.8M244.4 156.6v-1.8M271.94 156.6v-1.8M299.48 156.6v-1.8M327.01 156.6v-1.8" style="stroke:#000;stroke-width:.5;fill:none"/>
<path d="M202 156.06h1M202 152.11h1M202 149.05h1M202 146.55h1M202 144.44h1M202 142.61h1M202 140.99h1M202 130.04h1M202 124.48h1M202 120.54h1M202 117.48h1M202 114.98h1M202 112.86h1M202 111.03h1M202 109.42h1M202 98.47h1M202 92.91h1M202 88.96h1M202 85.9h1M202 83.4h1M202 81.29h1M202 79.46h1M202 77.84h1M202 66.89h1M202 61.33h1M202 57.39h1M202 54.33h1M202 51.83h1M202 49.71h1M202 47.88h1M202 46.27h1M202 35.32h1M202 29.76h1M202 25.81h1M202 22.75h1M202 20.25h1M202 18.14h1M202 16.31h1M202 14.69h1M202 3.74h1M202.47 156.6v-1M205.91 156.6v-1M208.58 156.6v-1M210.76 156.6v-1M212.6 156.6v-1M214.2 156.6v-1M215.61 156.6v-1M225.16 156.6v-1M230.01 156.6v-1M233.45 156.6v-1M236.12 156.6v-1M238.3 156.6v-1M240.14 156.6v-1M241.74 156.6v-1M243.14 156.6v-1M252.69 156.6v-1M257.54 156.6v-1M260.98 156.6v-1M263.65 156.6v-1M265.83 156.6v-1M267.67 156.6v-1M269.27 156.6v-1M270.68 156.6v-1M280.23 156.6v-1M285.08 156.6v-1M288.52 156.6v-1M291.19 156.6v-1M293.37 156.6v-1M295.21 156.6v-1M296.81 156.6v-1M298.22 156.6v-1M307.76 156.6v-1M312.61 156.6v-1M316.05 156.6v-1M318.72 156.6v-1M320.9 156.6v-1M322.75 156.6v-1M324.34 156.6v-1M325.75 156.6v-1M335.3 156.6v-1" style="stroke:#000;stroke-width:.4;stroke-opacity:.7;fill:none"/>
<g font-family='"Liberation Serif", serif' font-size="7.3" fill="#1a1a1a" stroke="#1a1a1a" stroke-width=".18">
<text x="185.7" y="16.25" textLength="8" lengthAdjust="spacingAndGlyphs">10</text><text x="194.3" y="13.65" font-size="5.3" textLength="6.3" lengthAdjust="spacingAndGlyphs">−2</text>
<text x="185.7" y="47.82" textLength="8" lengthAdjust="spacingAndGlyphs">10</text><text x="194.3" y="45.22" font-size="5.3" textLength="6.3" lengthAdjust="spacingAndGlyphs">−3</text>
<text x="185.7" y="79.4" textLength="8" lengthAdjust="spacingAndGlyphs">10</text><text x="194.3" y="76.8" font-size="5.3" textLength="6.3" lengthAdjust="spacingAndGlyphs">−4</text>
<text x="185.7" y="110.97" textLength="8" lengthAdjust="spacingAndGlyphs">10</text><text x="194.3" y="108.37" font-size="5.3" textLength="6.3" lengthAdjust="spacingAndGlyphs">−5</text>
<text x="185.7" y="142.55" textLength="8" lengthAdjust="spacingAndGlyphs">10</text><text x="194.3" y="139.95" font-size="5.3" textLength="6.3" lengthAdjust="spacingAndGlyphs">−6</text>
<text x="209.42" y="163.2" textLength="8" lengthAdjust="spacingAndGlyphs">10</text><text x="218.02" y="160.6" font-size="5.3" textLength="6.3" lengthAdjust="spacingAndGlyphs">−6</text>
<text x="236.95" y="163.2" textLength="8" lengthAdjust="spacingAndGlyphs">10</text><text x="245.55" y="160.6" font-size="5.3" textLength="6.3" lengthAdjust="spacingAndGlyphs">−5</text>
<text x="264.49" y="163.2" textLength="8" lengthAdjust="spacingAndGlyphs">10</text><text x="273.09" y="160.6" font-size="5.3" textLength="6.3" lengthAdjust="spacingAndGlyphs">−4</text>
<text x="292.03" y="163.2" textLength="8" lengthAdjust="spacingAndGlyphs">10</text><text x="300.63" y="160.6" font-size="5.3" textLength="6.3" lengthAdjust="spacingAndGlyphs">−3</text>
<text x="319.56" y="163.2" textLength="8" lengthAdjust="spacingAndGlyphs">10</text><text x="328.16" y="160.6" font-size="5.3" textLength="6.3" lengthAdjust="spacingAndGlyphs">−2</text>
</g>
<rect x="264" y="108.1" width="68.7" height="42.5" fill="#fff"/>
<path d="M264 107.89V150.81" style="fill:none;stroke:#000;stroke-width:0.42;stroke-opacity:0.9"/>
<path d="M263.79 108.1H332.91" style="fill:none;stroke:#000;stroke-width:0.42;stroke-opacity:0.3"/>
<path d="M332.7 107.89V150.81" style="fill:none;stroke:#000;stroke-width:0.42;stroke-opacity:0.3"/>
<path d="M263.79 150.6H332.91" style="fill:none;stroke:#000;stroke-width:0.42;stroke-opacity:0.3"/>
<path d="M264 150.6L264.0 150.3L264.1 150.3L264.3 150.3L264.4 150.2L264.6 150.2L264.7 150.2L264.9 150.2L265.0 150.2L265.1 150.2L265.3 150.2L265.4 150.2L265.6 150.2L265.7 150.2L265.9 150.2L266.0 150.2L266.1 150.2L266.3 150.2L266.4 150.2L266.6 150.2L266.7 150.2L266.9 150.2L267.0 150.2L267.1 150.2L267.3 150.2L267.4 150.2L267.6 150.2L267.7 150.2L267.9 150.2L268.0 150.2L268.2 150.2L268.3 150.2L268.4 150.2L268.6 150.2L268.7 150.2L268.9 150.2L269.0 150.2L269.2 150.2L269.3 150.2L269.4 150.2L269.6 150.2L269.7 150.2L269.9 150.2L270.0 150.2L270.2 150.2L270.3 150.2L270.4 150.2L270.6 150.2L270.7 150.2L270.9 150.2L271.0 150.2L271.2 150.2L271.3 150.2L271.4 150.2L271.6 150.2L271.7 150.2L271.9 150.2L272.0 150.2L272.2 150.2L272.3 150.2L272.4 150.2L272.6 150.1L272.7 150.1L272.9 150.1L273.0 150.1L273.2 150.1L273.3 150.1L273.4 150.1L273.6 150.1L273.7 150.1L273.9 150.1L274.0 150.1L274.2 150.1L274.3 150.1L274.4 150.1L274.6 150.1L274.7 150.1L274.9 150.1L275.0 150.1L275.2 150.1L275.3 150.1L275.4 150.1L275.6 150.1L275.7 150.1L275.9 150.1L276.0 150.1L276.2 150.1L276.3 150.1L276.5 150.1L276.6 150.1L276.7 150.1L276.9 150.1L277.0 150.1L277.2 150.1L277.3 150.1L277.5 150.1L277.6 150.1L277.7 150.0L277.9 150.0L278.0 150.0L278.2 150.0L278.3 150.0L278.5 150.0L278.6 150.0L278.7 150.0L278.9 150.0L279.0 150.0L279.2 150.0L279.3 150.0L279.5 150.0L279.6 150.0L279.7 150.0L279.9 150.0L280.0 150.0L280.2 150.0L280.3 150.0L280.5 150.0L280.6 150.0L280.7 150.0L280.9 150.0L281.0 150.0L281.2 149.9L281.3 149.9L281.5 149.9L281.6 149.9L281.7 149.9L281.9 149.9L282.0 149.9L282.2 149.9L282.3 149.9L282.5 149.9L282.6 149.9L282.7 149.9L282.9 149.9L283.0 149.9L283.2 149.9L283.3 149.9L283.5 149.9L283.6 149.8L283.8 149.8L283.9 149.8L284.0 149.8L284.2 149.8L284.3 149.8L284.5 149.8L284.6 149.8L284.8 149.8L284.9 149.8L285.0 149.8L285.2 149.8L285.3 149.7L285.5 149.7L285.6 149.7L285.8 149.7L285.9 149.7L286.0 149.7L286.2 149.7L286.3 149.7L286.5 149.7L286.6 149.6L286.8 149.6L286.9 149.6L287.0 149.6L287.2 149.6L287.3 149.6L287.5 149.6L287.6 149.5L287.8 149.5L287.9 149.5L288.0 149.5L288.2 149.5L288.3 149.4L288.5 149.4L288.6 149.4L288.8 149.4L288.9 149.3L289.0 149.3L289.2 149.3L289.3 149.2L289.5 149.2L289.6 149.1L289.8 149.1L289.9 149.1L290.0 149.0L290.2 148.9L290.3 148.9L290.5 148.8L290.6 148.8L290.8 148.7L290.9 148.6L291.1 148.5L291.2 148.4L291.3 148.3L291.5 148.2L291.6 148.1L291.8 148.0L291.9 147.8L292.1 147.7L292.2 147.5L292.3 147.3L292.5 147.1L292.6 146.9L292.8 146.7L292.9 146.5L293.1 146.2L293.2 146.0L293.3 145.7L293.5 145.3L293.6 145.0L293.8 144.6L293.9 144.2L294.1 143.8L294.2 143.3L294.3 142.8L294.5 142.3L294.6 141.7L294.8 141.1L294.9 140.5L295.1 139.8L295.2 139.0L295.3 138.2L295.5 137.4L295.6 136.5L295.8 135.6L295.9 134.6L296.1 133.6L296.2 132.5L296.3 131.3L296.5 130.1L296.6 128.8L296.8 127.5L296.9 126.1L297.1 124.7L297.2 123.3L297.3 121.8L297.5 120.2L297.6 118.7L297.8 117.1L297.9 115.6L298.1 114.1L298.2 112.7L298.4 111.5L298.5 110.5L298.6 111.3L298.8 112.6L298.9 114.0L299.1 115.5L299.2 117.0L299.4 118.5L299.5 120.1L299.6 121.6L299.8 123.1L299.9 124.6L300.1 126.0L300.2 127.4L300.4 128.7L300.5 130.0L300.6 131.2L300.8 132.3L300.9 133.4L301.1 134.5L301.2 135.5L301.4 136.4L301.5 137.3L301.6 138.2L301.8 139.0L301.9 139.7L302.1 140.4L302.2 141.1L302.4 141.7L302.5 142.2L302.6 142.8L302.8 143.3L302.9 143.7L303.1 144.2L303.2 144.6L303.4 144.9L303.5 145.3L303.6 145.6L303.8 145.9L303.9 146.2L304.1 146.5L304.2 146.7L304.4 146.9L304.5 147.1L304.6 147.3L304.8 147.5L304.9 147.7L305.1 147.8L305.2 147.9L305.4 148.1L305.5 148.2L305.6 148.3L305.8 148.4L305.9 148.5L306.1 148.6L306.2 148.7L306.4 148.7L306.5 148.8L306.7 148.9L306.8 148.9L306.9 149.0L307.1 149.0L307.2 149.1L307.4 149.1L307.5 149.2L307.7 149.2L307.8 149.3L307.9 149.3L308.1 149.3L308.2 149.4L308.4 149.4L308.5 149.4L308.7 149.4L308.8 149.5L308.9 149.5L309.1 149.5L309.2 149.5L309.4 149.5L309.5 149.6L309.7 149.6L309.8 149.6L309.9 149.6L310.1 149.6L310.2 149.6L310.4 149.6L310.5 149.7L310.7 149.7L310.8 149.7L310.9 149.7L311.1 149.7L311.2 149.7L311.4 149.7L311.5 149.7L311.7 149.7L311.8 149.8L311.9 149.8L312.1 149.8L312.2 149.8L312.4 149.8L312.5 149.8L312.7 149.8L312.8 149.8L312.9 149.8L313.1 149.8L313.2 149.8L313.4 149.8L313.5 149.9L313.7 149.9L313.8 149.9L314.0 149.9L314.1 149.9L314.2 149.9L314.4 149.9L314.5 149.9L314.7 149.9L314.8 149.9L315.0 149.9L315.1 149.9L315.2 149.9L315.4 149.9L315.5 149.9L315.7 149.9L315.8 149.9L316.0 150.0L316.1 150.0L316.2 150.0L316.4 150.0L316.5 150.0L316.7 150.0L316.8 150.0L317.0 150.0L317.1 150.0L317.2 150.0L317.4 150.0L317.5 150.0L317.7 150.0L317.8 150.0L318.0 150.0L318.1 150.0L318.2 150.0L318.4 150.0L318.5 150.0L318.7 150.0L318.8 150.0L319.0 150.0L319.1 150.0L319.2 150.0L319.4 150.1L319.5 150.1L319.7 150.1L319.8 150.1L320.0 150.1L320.1 150.1L320.2 150.1L320.4 150.1L320.5 150.1L320.7 150.1L320.8 150.1L321.0 150.1L321.1 150.1L321.2 150.1L321.4 150.1L321.5 150.1L321.7 150.1L321.8 150.1L322.0 150.1L322.1 150.1L322.3 150.1L322.4 150.1L322.5 150.1L322.7 150.1L322.8 150.1L323.0 150.1L323.1 150.1L323.3 150.1L323.4 150.1L323.5 150.1L323.7 150.1L323.8 150.1L324.0 150.1L324.1 150.1L324.3 150.1L324.4 150.1L324.5 150.2L324.7 150.2L324.8 150.2L325.0 150.2L325.1 150.2L325.3 150.2L325.4 150.2L325.5 150.2L325.7 150.2L325.8 150.2L326.0 150.2L326.1 150.2L326.3 150.2L326.4 150.2L326.5 150.2L326.7 150.2L326.8 150.2L327.0 150.2L327.1 150.2L327.3 150.2L327.4 150.2L327.5 150.2L327.7 150.2L327.8 150.2L328.0 150.2L328.1 150.2L328.3 150.2L328.4 150.2L328.5 150.2L328.7 150.2L328.8 150.2L329.0 150.2L329.1 150.2L329.3 150.2L329.4 150.2L329.6 150.2L329.7 150.2L329.8 150.2L330.0 150.2L330.1 150.2L330.3 150.2L330.4 150.2L330.6 150.2L330.7 150.2L330.8 150.2L331.0 150.2L331.1 150.2L331.3 150.2L331.4 150.2L331.6 150.2L331.7 150.2L331.8 150.2L332.0 150.2L332.1 150.2L332.3 150.2L332.4 150.2L332.6 150.2L332.7 150.3L332.7 150.6Z" fill="#1f77b4"/>
<text x="298.35" y="106.1" font-family='"Liberation Sans", sans-serif' font-size="7.8" text-anchor="middle" fill="#1a1a1a" textLength="59.6" lengthAdjust="spacingAndGlyphs">Error distribution</text>
<text x="277.9" y="155.6" font-family='"Liberation Serif", serif' font-size="5.2" text-anchor="middle" fill="#1a1a1a" stroke="#111" stroke-width=".12" textLength="14" lengthAdjust="spacingAndGlyphs">−0.02</text>
<text x="298.5" y="155.6" font-family='"Liberation Serif", serif' font-size="5.2" text-anchor="middle" fill="#1a1a1a" stroke="#111" stroke-width=".12" textLength="10.3" lengthAdjust="spacingAndGlyphs">0.00</text>
<text x="319.1" y="155.6" font-family='"Liberation Serif", serif' font-size="5.2" text-anchor="middle" fill="#1a1a1a" stroke="#111" stroke-width=".12" textLength="10.3" lengthAdjust="spacingAndGlyphs">0.02</text>
<path d="M277.9 150.6v-1.2M298.5 150.6v-1.2M319.1 150.6v-1.2" style="stroke:#000;stroke-width:.6"/>
<ellipse cx="236" cy="226" rx="26" ry="26" fill="#dadeda" fill-opacity=".6" filter="url(#bl)"/>
<path transform="scale(.25)" d="M814 730h5m20 4h5m81 0h5m71 0h5m-183 9h5m30-3h5m73-2h5m7 5h5m99-1h5m-198 9h5m-4-2h5m26-1h5m10-1h5m51-2h5m34 2h5m-152 5h5m41 2h5m34 2h5m73-4h5m-1 7h5m9 0h5m12-6h5m-233 7h5m44 6h5m3-3h5m0-1h5m32 1h5m16-1h5m5 4h5m-1-1h5m11-4h5m-3 4h5m18-4h5m9 3h5m38 0h5m-241 11h5m0-3h5m10-2h5m38-2h5m2 5h5m-3 2h5m10-7h5m2 4h5m27 0h5m5 2h5m-3-3h5m4 1h5m-3-3h5m-5 5h5m14-1h5m5-2h5m22 4h5m-4 0h5m10-1h5m-3-1h5m-231 4h5m-1 1h5m16-1h5m22 5h5m-3-2h5m0 1h5m1-2h5m3 3h5m0-5h5m-3-1h5m14 3h5m4 2h5m3 1h5m-1-4h5m-1 5h5m8-6h5m37 0h5m21 6h5m10-2h5m0 2h5m-227 5h5m-5-1h5m2-1h5m6 3h5m15-4h5m25 1h5m4 1h5m32 2h5m-3-2h5m-4 4h5m3-6h5m5 5h5m-4-1h5m-5-4h5m-1 2h5m-4 3h5m-1-4h5m-3 1h5m4 3h5m0-2h5m12-1h5m-4 0h5m0 0h5m-2-1h5m-4 5h5m29-2h5m-3 2h5m12-3h5m-249 6h5m-3-2h5m4 6h5m4-5h5m4 3h5m5 3h5m6-1h5m-3 0h5m-5-2h5m-4-4h5m-3 6h5m-4-1h5m0-4h5m-2 5h5m2 0h5m-5-2h5m8-2h5m3 0h5m-1 0h5m0 2h5m-5-4h5m-1 7h5m14-4h5m-4 2h5m29-5h5m-1 3h5m-4 2h5m2 2h5m-2-3h5m3-1h5m-4-2h5m0 3h5m7-1h5m12 0h5m-4 3h5m10 1h5m-236 6h5m-4-5h5m6 3h5m-2-2h5m-1-1h5m6 5h5m-2-4h5m-2 1h5m-3 0h5m-5-2h5m4 7h5m0-6h5m0 4h5m-5-5h5m2 2h5m10 2h5m-4 0h5m3-1h5m-3 2h5m-4-1h5m-1 0h5m-2-2h5m-4-1h5m-5 5h5m-1-4h5m-4 4h5m-4-4h5m-1 5h5m-4-7h5m-5 3h5m-2-1h5m2 1h5m-3 1h5m-3-2h5m-5-1h5m4 0h5m3 1h5m-4 2h5m-3 0h5m-1-2h5m5-1h5m-5 3h5m-2 3h5m3-3h5m0-2h5m-1-2h5m-4 3h5m-3 3h5m7 1h5m8 0h5m-3-7h5m-1 5h5m-4-1h5m3-4h5m1 0h5m-4 7h5m4-4h5m-1 4h5m-250 1h5m3 1h5m0 3h5m-3 3h5m-5-2h5m-5-5h5m-4 4h5m-4-3h5m1 2h5m-2 1h5m-4-2h5m-4 4h5m-3 0h5m-4-6h5m3 7h5m-4-5h5m10 4h5m4-6h5m0 3h5m-2 2h5m6-1h5m-5-4h5m-3 0h5m-4 6h5m2-2h5m0 2h5m-1-4h5m-5 2h5m-3-3h5m1 0h5m-1-1h5m-1 6h5m-5-4h5m-5-1h5m-4 1h5m-3 5h5m-3-4h5m-3 2h5m-5 1h5m-2-3h5m-1 0h5m-2 0h5m-2-2h5m4 6h5m-5-3h5m-2 1h5m-2-4h5m-4 6h5m-4-1h5m5-3h5m5-1h5m-4 4h5m-2-1h5m1-2h5m-4 3h5m-4 1h5m-3-1h5m-5-3h5m-5-2h5m-1 6h5m5-1h5m0 1h5m-1-6h5m-1 1h5m22 0h5m-4-1h5m-249 13h5m8-3h5m5 2h5m4 2h5m-1-7h5m-2 2h5m9-2h5m-4 6h5m-3-6h5m-4 4h5m-5 0h5m-2 1h5m-5 2h5m5-7h5m-2 4h5m-2-1h5m1-2h5m-4 3h5m-2-4h5m-3 6h5m4-5h5m-1 6h5m-1 0h5m5-4h5m-5-2h5m3 6h5m2-1h5m-1-2h5m-2 3h5m-4-7h5m11 1h5m-5 4h5m-4-1h5m1 1h5m-3-1h5m2-4h5m-2 1h5m-3 0h5m-2 1h5m-1 2h5m-2-3h5m-3 4h5m-5 2h5m-4 0h5m0-6h5m0 6h5m0 0h5m-5-7h5m-4 3h5m-1 3h5m0-1h5m7 0h5m-1-2h5m-4-2h5m-1 2h5m-2 1h5m-5 1h5m-4 2h5m-3-5h5m-4 5h5m-5-3h5m-247 11h5m-5-2h5m-3 2h5m-5-4h5m-4-3h5m-4 4h5m-2-1h5m-1-3h5m-3 4h5m-4 0h5m-3-1h5m-4 0h5m-3-3h5m-3 4h5m0 3h5m-1-1h5m-5-3h5m-4 2h5m-2-1h5m4 3h5m-5 0h5m-2-6h5m-1 2h5m3-2h5m-4 3h5m-3-4h5m7 5h5m-3-1h5m-2 0h5m-4 3h5m-3-6h5m-4 0h5m2 6h5m-5-5h5m-3 5h5m-5-5h5m-4 0h5m-2 3h5m-4 1h5m-3 0h5m-2-5h5m-5 6h5m-2-4h5m-4-2h5m2 5h5m-4-3h5m-1 4h5m-1-2h5m-3-3h5m-1 3h5m-4-3h5m-5 4h5m-2-2h5m-1-4h5m-4 0h5m-2 3h5m-4-2h5m-4-1h5m0 7h5m3-3h5m-2-4h5m-3 4h5m-5-4h5m-4 6h5m-4-4h5m-2 5h5m-1 0h5m-2-6h5m0 5h5m-5-1h5m-4-1h5m-1 1h5m1-1h5m-2 2h5m-5-6h5m-2 3h5m-5 3h5m-4-1h5m-5-2h5m-3 4h5m-4-4h5m-4 2h5m-5-1h5m-5-4h5m-4 0h5m0 5h5m-3 1h5m2 0h5m-4-2h5m-5-2h5m4 1h5m-4 4h5m2-2h5m-3-2h5m-4 2h5m-5 2h5m0-7h5m-3 0h5m-3 3h5m-4-2h5m-247 7h5m3 0h5m-2 1h5m-5 5h5m-5-6h5m-3 4h5m-1 1h5m-2 1h5m-1 1h5m-3-3h5m-2-2h5m-3-2h5m-5 0h5m-2 0h5m-3 5h5m-4-1h5m-4-3h5m-3 1h5m-4 1h5m-3 3h5m-1-1h5m-3 1h5m-4-5h5m-2 2h5m-3 0h5m-1 4h5m-4 0h5m-3-1h5m-4 0h5m-5-6h5m-4 1h5m-5 5h5m-2-1h5m-4-4h5m-3 0h5m-4 3h5m-5 1h5m-2 2h5m-4-7h5m-4 0h5m1 4h5m-4-1h5m-3 3h5m-3-6h5m-5 4h5m-3-3h5m1 2h5m-4 0h5m-2 0h5m-3 3h5m-4-2h5m-4 1h5m0-2h5m-1 0h5m-4 2h5m-1 0h5m-4-1h5m0 1h5m-5-4h5m0 1h5m3 1h5m-4 0h5m-3-3h5m-2 1h5m3-1h5m-1 5h5m-3 1h5m-3-1h5m-4-3h5m-1 0h5m-1 1h5m-4-1h5m-5 2h5m-4-1h5m2 2h5m-4 1h5m-4-5h5m-4 3h5m-5 2h5m3 1h5m-4-1h5m-5-4h5m-4 2h5m-3-2h5m-3 3h5m-4-2h5m-2 4h5m-3-6h5m-1 5h5m0-1h5m-4 2h5m11-3h5m-5 3h5m-4-7h5m1 4h5m-5-3h5m-4 6h5m-4-3h5m-5 2h5m-4 1h5m-2-6h5m-5 1h5m-3 4h5m-4-1h5m-3 2h5m-249 6h5m2-3h5m-1-2h5m5 2h5m-2 5h5m-3-5h5m-5 2h5m0 0h5m-5 0h5m0-1h5m-5 2h5m-4 1h5m-2-6h5m-2 5h5m-4 2h5m-3-2h5m-3 1h5m-5-5h5m-4 4h5m-3-4h5m-5 4h5m-4 1h5m-4-2h5m-4 3h5m-4-5h5m0 0h5m-5 0h5m-4 5h5m-3-5h5m-3 0h5m-3 1h5m-3-2h5m-4 6h5m-4-2h5m-5 0h5m0-5h5m-5 6h5m2 0h5m1-5h5m-3 5h5m-5-1h5m-4 0h5m-4-2h5m-4 4h5m-3-7h5m-5 7h5m2-7h5m-4 6h5m-4-5h5m-5 0h5m-1 0h5m-2 5h5m-5-3h5m-5-1h5m-2 3h5m-5 2h5m-5 0h5m-5-6h5m-3 3h5m-5-3h5m-4 2h5m-1-1h5m-2 2h5m-4 2h5m-5-6h5m6 3h5m-5-3h5m-4 2h5m-5-1h5m1 1h5m-1-1h5m1 6h5m-4 0h5m0-5h5m-4 0h5m-1 5h5m1-7h5m2 1h5m-2 3h5m-3-2h5m-4 1h5m-4 1h5m-2 1h5m0-4h5m-5 3h5m2 2h5m-3-4h5m-4 4h5m-4-1h5m3-3h5m-3 3h5m5 1h5m-3-4h5m-3 3h5m1 0h5m-3 1h5m-1-6h5m-3 2h5m-3-1h5m-4 2h5m-5 3h5m-5-6h5m-250 14h5m-1-4h5m-3-1h5m0 4h5m-3 0h5m-1-2h5m-4 0h5m-5 1h5m-4-3h5m-3 5h5m1-2h5m1 2h5m-2-2h5m-3 1h5m-4 1h5m-1-5h5m-2 1h5m-2 4h5m-5-2h5m-3-4h5m0 2h5m-2-2h5m-2 7h5m-3-7h5m-4 1h5m-5 6h5m-5-7h5m-3 5h5m-4-4h5m-4 1h5m-4-2h5m-4 1h5m-5 6h5m-4-2h5m-4 2h5m-3-7h5m-5 0h5m0 6h5m-3-1h5m0-2h5m-2 2h5m-2-4h5m-4 2h5m-2 4h5m-5-5h5m-4 1h5m1-3h5m-3 3h5m-4-3h5m-5 6h5m-5 1h5m-4-3h5m-4-1h5m-3-1h5m-5-2h5m-5 6h5m1 0h5m-5-5h5m-5 3h5m0-4h5m4 3h5m-2-2h5m0 3h5m-4-1h5m-3-1h5m-5 0h5m-3 1h5m4 4h5m-4-6h5m-4 0h5m-5 0h5m-3 5h5m4-1h5m-4-4h5m-1 5h5m-4-6h5m-3 4h5m-4-1h5m-5-1h5m-2 0h5m-5 1h5m-1-2h5m-4 5h5m-3-4h5m-4 5h5m2-6h5m-4 3h5m-1 2h5m-2-3h5m0 3h5m-2-2h5m-2-3h5m-4 6h5m-5 0h5m-5-6h5m-3 6h5m-4-7h5m-5 4h5m-4-3h5m-3 2h5m-5 2h5m-4-5h5m0 2h5m-2-1h5m-1 4h5m-5-2h5m-2-1h5m-4 1h5m-4 2h5m-3-4h5m-5 1h5m-4 0h5m-5 1h5m-3-3h5m-2 0h5m-5 1h5m-251 12h5m-1-2h5m2-2h5m-4 4h5m-4-4h5m-2 0h5m-4 5h5m-2-1h5m-1 2h5m-1-1h5m2-5h5m-4 0h5m-4 3h5m-5 2h5m-3 1h5m-4-1h5m4-4h5m-4 1h5m-5 4h5m-1-5h5m-2 2h5m-4-4h5m-2 6h5m-1 1h5m-5 0h5m-3-2h5m-1-4h5m-1 5h5m-4 0h5m0-3h5m-4-1h5m1 3h5m-3 1h5m-5 1h5m3-5h5m-4 0h5m-5-2h5m-3 0h5m-4 2h5m0 3h5m-2 2h5m-5-3h5m-4 1h5m-4-3h5m-5 5h5m-4-1h5m-1-3h5m2-3h5m3 7h5m-2-5h5m-5-2h5m-4 3h5m-4 3h5m8 0h5m-3-6h5m-4 5h5m-2-3h5m0-1h5m-4 0h5m0 1h5m-4 5h5m0-7h5m-4 0h5m-3 0h5m-3 1h5m-3 6h5m-4-3h5m-1-2h5m-4 2h5m-2-4h5m-3 4h5m-3 2h5m-1 1h5m-3-1h5m-4 1h5m-4-3h5m-1-2h5m-5 3h5m0 1h5m-3-5h5m-3 1h5m-5 3h5m3-4h5m-5 2h5m-2 3h5m-5-5h5m-4-1h5m-1 5h5m-4 0h5m-4-2h5m-3 4h5m-2-2h5m-3 1h5m-4-6h5m-5 6h5m-4-3h5m-5-3h5m-3 1h5m-5 2h5m-248 11h5m-2-2h5m-5 0h5m-4 1h5m-2 1h5m-4-3h5m-4 4h5m-2-6h5m-5 6h5m0-3h5m-2-2h5m-3-1h5m-1-1h5m-4 3h5m-3-3h5m-5 6h5m-4 1h5m-3-1h5m-4-6h5m-4 6h5m0-3h5m-3-2h5m-5 5h5m-5-4h5m-1 3h5m-5-5h5m-5 3h5m-4 1h5m-4 2h5m-2 0h5m-3-1h5m-3 2h5m-4-5h5m-4 3h5m-5 2h5m-4-3h5m-4 1h5m-5-3h5m-1 0h5m-3 2h5m-5-2h5m-5 1h5m-3 0h5m-4 1h5m-3 0h5m-4-4h5m-3 3h5m-1-3h5m-5 2h5m-3-2h5m-4 4h5m-4-2h5m-3 3h5m-2-3h5m-5 5h5m-4-1h5m3 0h5m0-5h5m-3-1h5m-3 1h5m-4 6h5m-5-1h5m-4 0h5m-1 0h5m-4-6h5m-1 4h5m-3 0h5m-5 1h5m-1 1h5m0-6h5m0 7h5m-4-7h5m-5 3h5m-2 0h5m-4 2h5m-2-1h5m-3-3h5m-5 0h5m-1 1h5m-3 2h5m-5-2h5m-4-2h5m-4 7h5m-5-1h5m-4-2h5m0-1h5m1-3h5m-4 6h5m3-4h5m-4 4h5m-4-5h5m-4 4h5m3-3h5m-5 1h5m-1 0h5m-5-2h5m-5 2h5m-4-2h5m-4 4h5m-2 2h5m-3-5h5m-3 5h5m-4-7h5m-2 2h5m-5 2h5m-3 1h5m-4 2h5m-3-6h5m-3-1h5m-3 2h5m0 3h5m-3-4h5m-5 3h5m-5-2h5m-5 2h5m0 3h5m-4-2h5m-5 1h5m-2 1h5m-4-4h5m-4 2h5m-4-2h5m-5 2h5m-4 2h5m0-1h5m-2 0h5m-5-4h5m-3 4h5m-4 1h5m-3-3h5m-1-2h5m-4 2h5m-5 3h5m-248 5h5m0-2h5m-2 1h5m-4 1h5m-5 0h5m-4 1h5m-5-4h5m-3 2h5m-3-1h5m-4 5h5m-4-3h5m-2 2h5m-4 1h5m-2-3h5m-3 0h5m-5-1h5m-4-1h5m-2 4h5m-1 1h5m-1-7h5m-1 4h5m-3-2h5m-4-2h5m-5 6h5m-2-1h5m-3-3h5m-4 3h5m-3 2h5m-5-7h5m-1 0h5m-4 2h5m-3 3h5m-4 2h5m-4-2h5m-4 2h5m-4-2h5m-1 0h5m-5 0h5m-4-4h5m-1 3h5m-5-3h5m-2 3h5m-3-1h5m-4 1h5m-2-1h5m-4 1h5m-4-4h5m4 3h5m-5 4h5m-4-2h5m-4-1h5m-3-4h5m-4 1h5m-3 4h5m-5 2h5m-4 0h5m-4-3h5m-1 2h5m-3 1h5m-4-2h5m-5 2h5m-3-7h5m-1 3h5m-5-2h5m-3 5h5m-5 1h5m-4 0h5m0-7h5m-5 6h5m-1 1h5m-3 0h5m-4-5h5m-5 0h5m-5-1h5m-2 3h5m-3-1h5m1-3h5m-4 4h5m-1-3h5m-4-1h5m-4 5h5m-1-2h5m-4 2h5m-4 1h5m-2-4h5m-1-1h5m-5 0h5m-3-1h5m-2 0h5m-4 1h5m-3 5h5m-3-4h5m-4 4h5m-4 0h5m-3-3h5m-4-3h5m-3 3h5m-4 2h5m-3-2h5m-5 0h5m-2-2h5m-5-1h5m-5 3h5m-1-3h5m-5 0h5m-3 4h5m-3 2h5m-3-4h5m-4 2h5m-3 0h5m-5 1h5m-4-1h5m-3-2h5m-4 5h5m0-6h5m-2 6h5m-5 0h5m-1-2h5m-5-3h5m-3 1h5m0-1h5m-3 0h5m-3 2h5m-4 0h5m-4-2h5m-3 1h5m-5 0h5m-2 4h5m-5-3h5m-3-4h5m-4 5h5m-3 0h5m-5 1h5m4-6h5m-242 13h5m-3-2h5m-5 2h5m-3-3h5m0-2h5m0 3h5m-4-3h5m-2 5h5m-3-2h5m-5 0h5m0 2h5m-4-5h5m-5 2h5m-4-2h5m-2 2h5m-5 3h5m-5 0h5m-4-1h5m-3-2h5m-1 0h5m1-1h5m-2 4h5m-4 1h5m-3-2h5m-5-1h5m-4-1h5m-3 3h5m-4 0h5m-5-1h5m-2 2h5m0-4h5m-1-1h5m-4 3h5m-5 3h5m-4 0h5m-4-6h5m-1-1h5m-2 0h5m-2 7h5m-5-6h5m-4 5h5m-3-5h5m-1 2h5m-3 4h5m-2 0h5m-5-5h5m-3 1h5m-4 0h5m-4-1h5m-4-1h5m-3 6h5m-4-7h5m-4 0h5m-4 7h5m1-2h5m-5-5h5m-4 0h5m-5 2h5m-3 1h5m-5-2h5m4-1h5m-5 7h5m-5-1h5m-2-3h5m-3 2h5m6-2h5m4-3h5m-4 0h5m-4 6h5m-5-3h5m-1 1h5m-5 1h5m1-4h5m-3 5h5m-3-3h5m-4 1h5m-4-2h5m-5 5h5m-4-1h5m0-1h5m-4 1h5m-5-1h5m-3 0h5m-4-2h5m-3 2h5m-5 2h5m0-7h5m-4 1h5m-4 4h5m-5-1h5m-4 2h5m-4 1h5m-4-5h5m-5-2h5m-3 0h5m-3 2h5m-4-2h5m-4 7h5m-4-6h5m-5 6h5m-4-1h5m-2-6h5m-3 7h5m-4-6h5m-4 1h5m-4 0h5m-4-1h5m-3 2h5m-5 0h5m-5-3h5m-3 1h5m0-1h5m-2 5h5m-4 1h5m-5-6h5m-5 6h5m-3-2h5m-2-2h5m-2 0h5m-5 3h5m-4 1h5m-5-2h5m-5-1h5m-4 1h5m-4-1h5m-1-1h5m-3 4h5m-1 1h5m-2-7h5m-4 0h5m-5 0h5m-4 5h5m-247 9h5m-5-6h5m-4 0h5m-4 3h5m-2-1h5m-5-2h5m-2 1h5m-4-1h5m-5 7h5m-3-7h5m-5 5h5m-5-1h5m1-4h5m-4 7h5m-4-4h5m-5 0h5m-5 0h5m-4 2h5m-1-3h5m-4 2h5m-4 2h5m-5-6h5m-4 5h5m-5 0h5m-4 1h5m-3-5h5m-4 0h5m0 3h5m-2-2h5m1 3h5m-4 0h5m-5-5h5m-4 0h5m-5 4h5m-4-1h5m-4 1h5m-4 1h5m-4-3h5m-1 3h5m-1-3h5m-4 4h5m-4-1h5m-5-5h5m5 7h5m-5-5h5m-5 0h5m0 2h5m-5-1h5m-4-1h5m-5-2h5m-3 7h5m-4-1h5m-4 1h5m-5-3h5m-1 2h5m0-6h5m-5 2h5m-3 3h5m-5-2h5m-4-3h5m-1 3h5m-4 2h5m-4 2h5m-5-2h5m1-4h5m-4 3h5m-3 1h5m-3 1h5m-4 0h5m-5-1h5m-4-2h5m-5 2h5m-4-4h5m-5 6h5m-5-6h5m-5 2h5m-5-1h5m-2 2h5m-5 1h5m-5 1h5m-4-2h5m-3 2h5m1 0h5m-5-2h5m-4 2h5m-4 0h5m-2 0h5m-3 1h5m-5-3h5m-5 0h5m-4 1h5m-5-5h5m-5 3h5m-3 0h5m-5-3h5m-4 6h5m-4-2h5m-5 2h5m-3-3h5m-4 1h5m-1 0h5m-5 2h5m-3-1h5m-4 0h5m-3-3h5m-3 0h5m-4 1h5m-5 2h5m-4 1h5m-5-1h5m-3 1h5m-5-3h5m-3-3h5m-1 7h5m-4-1h5m-3 0h5m-5-6h5m-4 1h5m-4 4h5m-5-4h5m-4-1h5m-4 3h5m-5 3h5m-4 1h5m-4-5h5m1 0h5m-3 5h5m-2-4h5m-5 0h5m-3-1h5m-5 5h5m-5-4h5m-4 0h5m-5 2h5m-4-3h5m1 1h5m-5 1h5m-4-2h5m-4 2h5m-4 2h5m-5-5h5m-4-1h5m-5 6h5m-4-2h5m-1-4h5m-3 0h5m0 3h5m-4 1h5m-5-2h5m-2 5h5m-3-4h5m-5-3h5m-4 6h5m-5-1h5m-4 1h5m-4-4h5m-3-1h5m-5 4h5m-1-3h5m-3 1h5m-4 1h5m-2-1h5m-3-3h5m-5 6h5m-2-1h5m-4-5h5m-5 4h5m2 1h5m-4 0h5m-251 5h5m-4-1h5m-5 0h5m-3 5h5m-3-4h5m-4 3h5m-3 2h5m-3-5h5m2 3h5m-3-4h5m-5 3h5m-3 1h5m-2-2h5m-4 0h5m-4-2h5m0 4h5m-3-4h5m-5 3h5m1 1h5m-4-5h5m-2 6h5m-1-1h5m-5-2h5m-4 4h5m-3-7h5m-3 2h5m-5 0h5m-5 1h5m-2 3h5m-5 0h5m1-3h5m-4-1h5m-4 1h5m-5-2h5m-4-1h5m-5 1h5m-2 2h5m-4 0h5m-5 3h5m-4-6h5m-2 0h5m-4 3h5m-4-1h5m-3 1h5m-4 1h5m-4 2h5m-3-3h5m-2-1h5m-2-2h5m-5 3h5m-4 2h5m-2-5h5m-5 5h5m-3-4h5m-4 0h5m-5 2h5m-4 2h5m-2 2h5m-2-1h5m-5-2h5m-4 0h5m-4 3h5m-5-7h5m-2 7h5m-4-7h5m-1 4h5m-5-4h5m-4 2h5m-3 4h5m-1 1h5m-3-6h5m-3 3h5m-4 3h5m-5-2h5m-5 2h5m-5-6h5m-3 5h5m-4-3h5m2 1h5m-3 0h5m-2 3h5m-4-7h5m-4 3h5m-5 1h5m-3 2h5m-4-3h5m-2-3h5m-3 3h5m-4 1h5m-2-2h5m-5-1h5m1 0h5m-5 0h5m0 5h5m-5 1h5m-4-7h5m-5 3h5m-2 0h5m-4 3h5m-3-6h5m-4 5h5m-2-4h5m-4 3h5m-4 3h5m-4-4h5m-5-2h5m-4 6h5m-3-5h5m-2 4h5m-5-4h5m-4 0h5m-4-2h5m-5 1h5m-4 2h5m-4-1h5m-3 1h5m-4 0h5m-2 0h5m-5-1h5m-2 2h5m-5 0h5m-2-4h5m-5 5h5m-3 1h5m-4-4h5m-5 4h5m-3-1h5m-4-4h5m-4 2h5m-5 4h5m-4-5h5m0 4h5m-4-3h5m-5-3h5m-2 4h5m-2-2h5m-5 2h5m-4-3h5m-5 6h5m-3-3h5m-5 1h5m-4 1h5m-5-4h5m-5 3h5m-1-3h5m-5-2h5m-5 2h5m-2 5h5m-3-3h5m-4-4h5m-5 4h5m-5-2h5m-5-1h5m-5-1h5m-4 5h5m-5-3h5m-4 5h5m1 0h5m-1-4h5m-5 3h5m-3-3h5m-4-2h5m-254 9h5m-2-1h5m-3 1h5m-2-1h5m-3 3h5m-3 2h5m-5-6h5m-3 1h5m-5 0h5m-4 5h5m-3-2h5m-2 2h5m2-4h5m-3 4h5m-4-2h5m-3-3h5m-2 2h5m0 4h5m-5-1h5m-4-3h5m-4 3h5m-4-3h5m-5 2h5m-3-1h5m-4 3h5m-5-2h5m-1 0h5m-3-4h5m4 3h5m-3-1h5m-4 0h5m-4-2h5m-4 2h5m-2-1h5m-4 1h5m-4-2h5m-5 3h5m-4 3h5m-2 0h5m-3-7h5m-4 7h5m-3-4h5m-4-3h5m-5 4h5m-2-2h5m-3 1h5m2 0h5m-4-3h5m-3 7h5m-5-4h5m-3 1h5m-2 3h5m-5-2h5m-5-1h5m-1-2h5m-5 3h5m-3-3h5m-4 5h5m-2-3h5m-5-3h5m-5 5h5m-1 0h5m-3-5h5m-5 1h5m-3-1h5m-3 3h5m-2-1h5m0 3h5m-5-5h5m-5 2h5m-4 1h5m-4 3h5m-4-2h5m-4-4h5m-4 4h5m-4-3h5m-3-2h5m-4 6h5m-5-1h5m-4 1h5m-2-3h5m-4-3h5m-4 4h5m-3-2h5m-4-2h5m-4 4h5m-5 1h5m-3 0h5m-3-1h5m-5-2h5m-4 2h5m-5 0h5m-2 3h5m-2-2h5m-5 1h5m-5-4h5m0 1h5m-4 0h5m-5-1h5m-4 0h5m-4-1h5m-3 4h5m-3-3h5m-5 3h5m-4-2h5m-2 1h5m-5-1h5m-3 2h5m-2-4h5m-5-1h5m-1 4h5m-4 3h5m-1-4h5m-4-3h5m-4 2h5m-4 3h5m-4-2h5m-2-2h5m-4 5h5m-5-2h5m-4-1h5m-3 0h5m-4-2h5m-3 4h5m-4 0h5m-3-5h5m-4 7h5m-4-7h5m-5 3h5m-4-1h5m-1 3h5m-5 2h5m-4-2h5m-5-1h5m-4 1h5m-4-1h5m-5 3h5m-4-1h5m-4-3h5m-5-3h5m-3 1h5m-1 6h5m-4-6h5m-4 0h5m-3 6h5m-5-6h5m-3 5h5m-5-1h5m-4-2h5m-2 4h5m-2-2h5m-4 0h5m-4-2h5m-4-2h5m-4-1h5m-2 5h5m-248 6h5m-3-1h5m-4-1h5m-3 3h5m-3-1h5m-2-3h5m-5 4h5m0 3h5m-5-6h5m-5 1h5m-4 3h5m-2-1h5m-3-2h5m-2 3h5m0-1h5m-4-4h5m-2 7h5m-3-2h5m-3-5h5m-4 1h5m-4 3h5m-1 1h5m0-5h5m-4 3h5m-3 0h5m-4 1h5m-3-1h5m-4-3h5m-5 3h5m-5 0h5m-3 0h5m-4 1h5m-4 0h5m-1 3h5m-5-7h5m-5 0h5m-1 6h5m-3-3h5m-4 0h5m-5-3h5m-2 2h5m-4-1h5m-4-1h5m-5 4h5m-4-2h5m-5 2h5m-4-4h5m-4 0h5m-2 7h5m-4-7h5m-5 1h5m-5 0h5m-5 6h5m-1-4h5m-2-2h5m-5 2h5m5 0h5m-3-3h5m-4 1h5m-3 0h5m-4-1h5m-4 6h5m-4 1h5m-5-1h5m-3-3h5m-4 1h5m-4 2h5m-3-3h5m-4 1h5m-2 2h5m-4-5h5m-5 4h5m-1 2h5m-2-7h5m-2 5h5m-4-3h5m-5-1h5m-4 3h5m-4 3h5m-5-7h5m-4 1h5m-2 6h5m-4-5h5m-4-2h5m-1 1h5m-5 5h5m-5-4h5m-4 0h5m-3 1h5m-4-2h5m-4 1h5m-4 4h5m-3 1h5m-5-7h5m-4 3h5m-1 0h5m-1 0h5m-3 0h5m-4 0h5m-4-3h5m-3 0h5m-3 0h5m-5 0h5m-1 4h5m-3 3h5m-1-1h5m-4-6h5m-4 3h5m-5-2h5m-5 4h5m-5-1h5m-4 2h5m-5-5h5m-4 5h5m-5 1h5m-4-5h5m-3 0h5m-4 5h5m-4-5h5m-4-1h5m-5 0h5m-5 4h5m-2 2h5m-4-1h5m-3-4h5m-4 1h5m-3 0h5m-3-3h5m-4 0h5m-4 2h5m-5 5h5m-4-3h5m-5-3h5m-4 0h5m-1 4h5m-5 1h5m-5-3h5m-4 1h5m-5 2h5m-5-3h5m-3 2h5m-4 1h5m-4 0h5m-2-6h5m-5 4h5m-4 1h5m-1-5h5m-2 1h5m-2 6h5m-4-4h5m2 4h5m-2-5h5m-4 3h5m-1 1h5m-5-1h5m-4-1h5m-5-1h5m-2 3h5m-4-6h5m-246 12h5m-4 0h5m-2 3h5m-1-6h5m-4 3h5m-3 3h5m-5-3h5m-3 0h5m-4-3h5m-5 0h5m-5-1h5m-2 2h5m-4 4h5m-4 0h5m1-2h5m-4 0h5m-5 2h5m-5-6h5m-4 1h5m-4-1h5m-3 6h5m-4-6h5m2 3h5m-5 3h5m-4-5h5m-4 5h5m-5-5h5m-5 5h5m-2-1h5m-3-1h5m-1-4h5m-4 7h5m-4-3h5m-4-1h5m-3-2h5m-4 4h5m-5-1h5m-5-2h5m-2-2h5m-4 0h5m-5 2h5m-2-1h5m-4 0h5m-5 0h5m-2 5h5m-4-3h5m-3-3h5m1 4h5m0-1h5m-5 2h5m-4 1h5m-5 1h5m-4-4h5m0-1h5m-2 0h5m-4 5h5m-4-6h5m-3 5h5m-4 0h5m0-6h5m-4 3h5m-5-2h5m-4-1h5m-5 0h5m-4 3h5m0 3h5m-5-3h5m-3 1h5m-3-4h5m-3 7h5m2-7h5m-1 1h5m-3 6h5m-5-4h5m-5 2h5m-3 2h5m-4-5h5m-5 4h5m-1-6h5m-5 2h5m-4 1h5m-4-3h5m-5 5h5m-5 0h5m-4-2h5m-5 1h5m-3-3h5m-3 2h5m4 2h5m-5 2h5m-4-4h5m-4 4h5m-4 0h5m-4-7h5m-4 7h5m-4-1h5m-4-6h5m-4 2h5m-5 4h5m-4 1h5m-4-1h5m-4-5h5m-5 0h5m-4 4h5m-4 0h5m-3-3h5m-3-2h5m-4 7h5m-5 0h5m-4-6h5m-2 1h5m-4 4h5m-5 0h5m-4-5h5m0 5h5m-4-5h5m-5 1h5m0 0h5m-4 0h5m-5-2h5m-5 5h5m-5-1h5m-4-1h5m-5 0h5m-3-2h5m-5 1h5m-4 3h5m-5 0h5m-1-3h5m-3 5h5m-3 0h5m0-5h5m-4 2h5m-5-4h5m-3 4h5m-3-1h5m0-1h5m-4 5h5m-5 0h5m-5-6h5m-5 6h5m-4-6h5m-5 6h5m-3-2h5m-4-3h5m-5 3h5m-5 1h5m-2-1h5m-3 0h5m-4-5h5m2 7h5m-2-3h5m-3-4h5m1 5h5m-5-1h5m-3-4h5m-251 15h5m-2-2h5m-2-5h5m-5 1h5m-4-1h5m-1 3h5m-3 1h5m-4-1h5m-5 2h5m-3-1h5m-4 3h5m-5-2h5m-4-3h5m-5 3h5m-2-5h5m-5 5h5m-3 1h5m-5-6h5m-2 1h5m-4 3h5m-5 2h5m-3-6h5m-3 7h5m-5 0h5m-5 0h5m-4-3h5m-4-1h5m-3-1h5m-4 1h5m-4-3h5m-5 4h5m-1 2h5m-3-6h5m-5 0h5m-1 1h5m-5 5h5m-5-1h5m1 2h5m2 0h5m-2-5h5m-5 0h5m-4 2h5m-4-4h5m-5 7h5m-3-3h5m-2 3h5m-3-3h5m-4-2h5m-1-2h5m-1 0h5m-3 1h5m-2 4h5m-5 0h5m4 0h5m-5 0h5m-2 2h5m-4-7h5m-4 5h5m-4-5h5m-5 2h5m-5 2h5m-3 0h5m-3-2h5m-5 1h5m-4-2h5m-4 3h5m-1 3h5m-4-7h5m-3 0h5m-4 4h5m-5 1h5m-4 2h5m-4-4h5m3 4h5m-3-5h5m-2 5h5m-4-4h5m-5 3h5m-4 1h5m-2-1h5m-1-6h5m-5 6h5m-3-1h5m-2 0h5m-4 2h5m-4-7h5m-4 0h5m-4 2h5m-2 5h5m-4-1h5m-5-3h5m-4 1h5m3-4h5m-4 5h5m3-5h5m-1 7h5m-2-5h5m-3 5h5m-4-3h5m-3 0h5m6-1h5m-5-3h5m-4 5h5m-4-3h5m-5 0h5m-4-2h5m-5 2h5m-3 1h5m-4-2h5m-3 3h5m-5 0h5m-3 3h5m-4-4h5m-2-3h5m-5 1h5m-4 4h5m-2-5h5m-4 3h5m-3 0h5m-2-3h5m-1 1h5m2 6h5m-4-6h5m-3 5h5m-4-5h5m-5 6h5m-3-7h5m-4 6h5m-3-3h5m-5 0h5m-5-1h5m-4 4h5m-3-4h5m-5 4h5m-5-4h5m-3 4h5m-5-3h5m-4 0h5m-5-3h5m-4 6h5m-251 3h5m-4 2h5m-4 3h5m-4 0h5m-5-3h5m0-2h5m-4 3h5m-4 1h5m-4-3h5m-4-2h5m0 5h5m-1-2h5m2-2h5m-3 0h5m-3 0h5m-4 5h5m-1 1h5m-4-3h5m-4-1h5m-4-3h5m-5 5h5m-3-3h5m-5 2h5m-4 3h5m-4-2h5m-3 1h5m-5-5h5m-3-1h5m-3 4h5m-5-1h5m-4 4h5m-3-2h5m-1-2h5m-4-1h5m-5 4h5m0-1h5m-2-5h5m-5 3h5m-3-2h5m-4 4h5m-4-3h5m-3 4h5m-5 0h5m-2-2h5m3 0h5m-4 0h5m-4-4h5m-4 3h5m-3 2h5m-4-4h5m-4 2h5m-5-2h5m-5 0h5m-1-1h5m-4 0h5m-5 1h5m-5 0h5m-1-1h5m-5 2h5m-1-1h5m-5 0h5m-3 2h5m-4-2h5m-5 3h5m-5 0h5m-2 3h5m-5-1h5m-5-2h5m-4-1h5m-5 0h5m-5 4h5m-4-7h5m-5 5h5m-2-4h5m-4 4h5m-3-4h5m-3 4h5m-3-2h5m-5-3h5m-3 1h5m-3 4h5m-5-5h5m-4 0h5m-5 5h5m-3-3h5m-4-1h5m0 6h5m-4-5h5m-5 4h5m-4-6h5m-2 7h5m-5 0h5m-1-4h5m-4 0h5m-4-1h5m-2 0h5m-4-1h5m-5 2h5m0 2h5m-2-1h5m-1-1h5m-4 1h5m-4-4h5m-5 7h5m-5 0h5m-3-3h5m-5 2h5m-3-5h5m0-1h5m-2 4h5m-5 0h5m-3-3h5m-4 1h5m-2 4h5m-2-2h5m-3 3h5m-4-2h5m0-3h5m-5 1h5m-4-2h5m0 6h5m-4-6h5m-4 4h5m-4-1h5m-3-4h5m-4 0h5m-4 1h5m-4 0h5m-5-1h5m-4 5h5m-2-2h5m-3 4h5m-3-2h5m-4-5h5m-3 0h5m-4 0h5m-3 3h5m-5 2h5m-3-1h5m-3-3h5m-4-1h5m-5 1h5m2 6h5m-4-3h5m-4 0h5m-3 2h5m-4-3h5m-5-2h5m-5 3h5m0-2h5m-3 2h5m-4 3h5m-4-7h5m-5 1h5m-3 2h5m-253 12h5m-1-1h5m-5-5h5m-1 2h5m-4 3h5m-3-1h5m-5 1h5m-1-1h5m-3-2h5m-5 3h5m0-3h5m-5 1h5m-3 3h5m-2-5h5m-2 2h5m-2-4h5m-4 0h5m-4 6h5m-2-3h5m4 3h5m-5-5h5m-4 2h5m-4-1h5m-2 0h5m-5 0h5m-5 3h5m-4-3h5m-4 4h5m-5-3h5m-3 0h5m-5 0h5m-2 1h5m-5 0h5m-4-3h5m-5 4h5m-4-5h5m-2 3h5m-3 1h5m-5 3h5m-3-5h5m-2 4h5m0-2h5m-4 1h5m-4-4h5m-4 3h5m-3-2h5m-1-2h5m-5 4h5m-3-3h5m0 4h5m2-2h5m-5 2h5m-5-2h5m-4-3h5m-3 1h5m-4 4h5m-4-5h5m-5 6h5m-4-5h5m-1 0h5m-1-1h5m-2 5h5m-1-2h5m-1-3h5m-3 1h5m-5 3h5m-5-4h5m-4 4h5m-3 1h5m-4-4h5m-4 2h5m-5 0h5m-4-2h5m-3 3h5m-4-1h5m-3 4h5m5 0h5m-2-1h5m-5-6h5m-5 3h5m-3-3h5m-5 2h5m-5 1h5m-4 3h5m-5-2h5m-3 2h5m-3 1h5m-1 0h5m-4-3h5m-3-3h5m-4 1h5m-4 1h5m-3 3h5m-4-2h5m-2-4h5m-4 5h5m-5-5h5m-3 2h5m-5-1h5m-3 0h5m-4 4h5m-5 1h5m-3 1h5m-2 0h5m-4 0h5m-3 0h5m-5-5h5m-4 4h5m-4-5h5m-5-1h5m-5 4h5m-2-1h5m-4 0h5m-4 1h5m-5-3h5m-3 6h5m0-3h5m-5 1h5m-5-5h5m-2 3h5m-5-3h5m-5 4h5m-2 2h5m-2-3h5m-4 4h5m-3-7h5m-3 3h5m-5-1h5m-5 5h5m-2-5h5m-2 1h5m6 2h5m-3-3h5m-5 0h5m-1-1h5m-4-1h5m-4 3h5m2 3h5m-4-6h5m-251 14h5m-5-1h5m-2-4h5m-4 1h5m-3 5h5m-2-3h5m0-3h5m-4 3h5m-4-2h5m-2 4h5m1 1h5m-4-1h5m1-3h5m-4 3h5m-5-5h5m-2 4h5m-4-4h5m2 4h5m-3-4h5m2 2h5m-5 1h5m-1-3h5m-4 6h5m1-6h5m-3 2h5m-3 1h5m-5-4h5m-5 5h5m-4-4h5m-2-1h5m-4 2h5m-4 3h5m-4-5h5m-5 1h5m-1-1h5m-3 6h5m-1-1h5m-5-2h5m-2-1h5m-3-1h5m-1 0h5m-4 1h5m-3 4h5m-3 0h5m-5-6h5m-2 1h5m-2 6h5m-3 0h5m-3-7h5m1 2h5m-4 1h5m-5-1h5m-3-2h5m-4 1h5m-5 6h5m-5-3h5m-2-1h5m-5 3h5m-2-6h5m-5 2h5m-2 0h5m-4 3h5m-2-5h5m-5 5h5m1-3h5m-4 0h5m-5 3h5m-3-5h5m-4 2h5m1 3h5m-5 2h5m-4-4h5m-1 3h5m-2-4h5m-4-2h5m-4 0h5m-1 4h5m-3-1h5m-5 1h5m-4-2h5m-1 0h5m-3 5h5m-5 0h5m-3-3h5m-3-3h5m-5 4h5m-4-1h5m-5 1h5m-2-3h5m-2 0h5m-2-2h5m-3 3h5m-2 2h5m-1-1h5m-4 3h5m1-6h5m-2-1h5m-2 3h5m-2 4h5m-5-2h5m-2 1h5m-3-1h5m-5 2h5m-3-4h5m4-1h5m-5-1h5m-3 6h5m-4-7h5m-2 1h5m-5 0h5m-4 0h5m-2 5h5m-5-3h5m2 4h5m-4-5h5m-3 2h5m-245 8h5m-4-2h5m-4 0h5m-4 0h5m-3 1h5m-3 2h5m5-1h5m-2-1h5m-2 4h5m-4-5h5m-4 5h5m-4-2h5m-4-4h5m-5 3h5m-4-3h5m3 3h5m-5-3h5m-3 2h5m-3 4h5m-4-5h5m10 2h5m-5-4h5m-4 1h5m-4 3h5m-3-3h5m-3 4h5m-5 1h5m-2 1h5m-3-7h5m-5 3h5m-4 3h5m-5-6h5m-4 7h5m-4 0h5m-4-5h5m-4 0h5m-3-1h5m-5 2h5m-1 3h5m-5-6h5m-3 1h5m-2 1h5m-3-1h5m-3 0h5m-4 3h5m-3 3h5m-5-2h5m-4 1h5m1-4h5m3 1h5m-5 4h5m-2-2h5m-5 2h5m-1-4h5m-5-1h5m0 4h5m-4 1h5m-4-5h5m-4 3h5m2 2h5m-4-2h5m-2 2h5m-1-7h5m-4 1h5m-2 4h5m-4 1h5m-5-6h5m-5 0h5m-1 0h5m-2 5h5m-3 1h5m-5-1h5m-2-2h5m3 2h5m-1 2h5m-4-4h5m-4-2h5m-5 4h5m2-3h5m-4 4h5m-5-6h5m-3 1h5m-1 1h5m-1-1h5m-4 0h5m-3 3h5m-2-4h5m-2 4h5m-4 3h5m-5-7h5m6 0h5m-5 4h5m-5 1h5m-4-5h5m-4 0h5m-1 2h5m-4-1h5m3 6h5m-5-6h5m-2 3h5m-3 1h5m-3-3h5m-5 5h5m-4-5h5m-4-2h5m-2 1h5m-4 5h5m-4 0h5m-1-1h5m-2 0h5m-5-4h5m-246 13h5m-3-6h5m-2 6h5m0 1h5m-4-7h5m-5 7h5m-3-2h5m-3-3h5m-1 4h5m-4-2h5m-3 2h5m-1-6h5m-1 7h5m-4-5h5m-3 2h5m-1-2h5m-5-2h5m-5 3h5m-5-2h5m4 6h5m0 0h5m-4-3h5m0-2h5m-4 4h5m-2-3h5m-5 3h5m-4-6h5m-4 6h5m-3 1h5m5-5h5m-4 1h5m-4 4h5m-5-2h5m-4 2h5m3 0h5m-2-4h5m-1 2h5m-4-4h5m-1 3h5m-5-4h5m-4 1h5m-4 0h5m-3 4h5m-5-4h5m-3 1h5m-4 0h5m-1-2h5m3 7h5m-4-5h5m-4-1h5m-5 3h5m-1 3h5m-3 0h5m-4-5h5m-3 2h5m-3 0h5m-4-1h5m-5 0h5m-4 2h5m0-4h5m-2 3h5m-4-3h5m-1 6h5m8-2h5m-4-5h5m-5 1h5m-5 5h5m-4-6h5m-4 1h5m-4 2h5m-3 2h5m-3-2h5m-3 3h5m-2 1h5m-5 0h5m-4-5h5m-5-1h5m-4 5h5m-4 1h5m-4-1h5m-5-3h5m-4-2h5m-3 0h5m0 6h5m-2-5h5m1 5h5m2-1h5m0 0h5m0-2h5m-4-3h5m-1-1h5m-5 3h5m-5 4h5m-1-6h5m-1 0h5m-3 0h5m-5 2h5m-4 0h5m-4-2h5m-1 4h5m-4-5h5m-5 5h5m0 0h5m-5-5h5m-4 5h5m-5-4h5m-245 12h5m-4-1h5m-5 1h5m-2-5h5m-4 7h5m-3 0h5m1-4h5m-5 0h5m2-3h5m-4 4h5m-4-2h5m-3 2h5m-4 0h5m-3 0h5m-3-1h5m-5-1h5m-3 3h5m-5-5h5m1 4h5m-3-1h5m-2-2h5m-3-1h5m-3 3h5m-4-3h5m-1 1h5m-4 0h5m-1-1h5m-5 3h5m-3-3h5m-4 3h5m-1 2h5m4 1h5m5-1h5m-4-2h5m-4-1h5m-5 4h5m-3-5h5m3 5h5m-4 1h5m-5-4h5m-5 1h5m-4-2h5m-5 1h5m0 0h5m-4 1h5m-5 0h5m-4-3h5m-2 3h5m-2 3h5m-4-3h5m-4-4h5m-4 5h5m12-3h5m3 1h5m-1 0h5m-4 4h5m-5-6h5m-3 1h5m-1 3h5m-3 2h5m-2-6h5m6-1h5m-4 1h5m-4 0h5m-3 2h5m-5 3h5m1-4h5m-4 0h5m-2 5h5m-3-5h5m1 1h5m-1 0h5m-3-2h5m-4 2h5m2 1h5m-1-4h5m-3 3h5m-4-2h5m-4 3h5m-3-1h5m-4 3h5m-5-3h5m-3 4h5m6-6h5m-1 4h5m-2-4h5m-5-1h5m3 1h5m-2 5h5m-4-6h5m-251 8h5m2 6h5m-5-2h5m-2 3h5m-1-5h5m-3-1h5m-5 3h5m-5-1h5m-1-2h5m-4-1h5m0 2h5m3-2h5m0 0h5m-4 1h5m-4 2h5m9-3h5m-4 2h5m-4 4h5m-4-6h5m-2 1h5m-2 1h5m-3-2h5m-1 6h5m-4-4h5m-2 3h5m17-5h5m-4 4h5m1-4h5m-2 2h5m-4 4h5m-3-3h5m-4 4h5m-4-4h5m-3 0h5m-5 0h5m-3-2h5m-2 6h5m-3-2h5m-4-4h5m1 4h5m-5-1h5m11 0h5m-1-2h5m-3 1h5m4 4h5m3-1h5m4-3h5m-2 4h5m-2-6h5m-1 1h5m-4 4h5m0-4h5m-3-1h5m-4 2h5m-5 0h5m2-3h5m2 5h5m-2-2h5m3 1h5m-1 3h5m-2-4h5m-3 1h5m-3 0h5m-4 1h5m7-3h5m-3 5h5m-245 2h5m9-1h5m-5 6h5m-3-5h5m-4 1h5m3 5h5m-3-2h5m-2 1h5m-2-2h5m-1 0h5m7-4h5m1 2h5m-2 1h5m6 4h5m2-7h5m-4 7h5m-5-4h5m0 2h5m-4-3h5m-2 1h5m-5 3h5m2-6h5m-5 0h5m-5 4h5m-2-1h5m-1-1h5m-4-1h5m1 6h5m-4-6h5m-1 5h5m-3-5h5m2 1h5m-1 0h5m-1 3h5m-4-4h5m-5 2h5m5 0h5m-4 0h5m-5 1h5m-4-1h5m-2 0h5m2-3h5m1 2h5m0 0h5m-5 5h5m-3-4h5m-4 4h5m0-3h5m13-2h5m2 1h5m-2 3h5m-4 1h5m-3-1h5m4-1h5m9-4h5m2 1h5m-4 2h5m-5-2h5m-5 5h5m-4-7h5m-1 3h5m-249 6h5m-2 0h5m5 5h5m-4-1h5m15-5h5m5 5h5m-3-5h5m-5 7h5m-2 0h5m5 0h5m-5-3h5m2-1h5m-1-2h5m11 3h5m17-2h5m-5 1h5m-1 3h5m7-4h5m12 5h5m-5-6h5m-4 5h5m7-2h5m1-2h5m-1 0h5m-2-1h5m-2 2h5m2 2h5m0-3h5m-3 2h5m-4-1h5m13-3h5m-3 7h5m-2-6h5m-2 5h5m6-2h5m-4 2h5m-3 0h5m-2 0h5m11-5h5m-4 3h5m-250 4h5m-5 3h5m-5 0h5m-1 0h5m12 1h5m4-2h5m-2 3h5m-4-5h5m-2 6h5m0-4h5m-4 4h5m-2-5h5m-2-1h5m5 2h5m-3 1h5m-4 4h5m-1-1h5m-1-1h5m5-5h5m-2 6h5m-3-4h5m-3 1h5m-3 3h5m-5-1h5m-3-3h5m-5-2h5m4 6h5m1-2h5m-4-3h5m6 2h5m3 1h5m18-1h5m-5-3h5m0 1h5m0 4h5m-4-5h5m-3 4h5m0-3h5m-5 3h5m0-3h5m-4 5h5m-3-4h5m20 0h5m-4 1h5m3 0h5m4 0h5m1 1h5m-5-4h5m-2 4h5m-4 2h5m-1 0h5m3-6h5m-242 13h5m-1 0h5m16-5h5m-2 2h5m1 1h5m4 1h5m-3-4h5m-2 2h5m-1 2h5m-3-3h5m-5 1h5m-1-1h5m13 4h5m-2-5h5m1 4h5m-3-4h5m2 6h5m14-4h5m0-1h5m-4 6h5m1-5h5m5 0h5m-5 3h5m1-5h5m2 7h5m-2 0h5m-2-5h5m0 1h5m-1-2h5m4 0h5m2 2h5m3 3h5m5 1h5m-5-2h5m-3-5h5m5 4h5m-2 2h5m-2-5h5m-3 5h5m-5 1h5m4-5h5m14 3h5m-252 3h5m15 4h5m0 1h5m6-3h5m5 0h5m9 5h5m-4-4h5m3-3h5m15 6h5m-2 1h5m-3-6h5m-2 1h5m-1 2h5m0-2h5m-1 5h5m-3-6h5m13-1h5m4 7h5m19-1h5m13-5h5m13 4h5m9 1h5m5-1h5m18-5h5m-252 9h5m-2 1h5m-2 0h5m-4-1h5m-2 4h5m-2-3h5m4-2h5m-3 3h5m15-2h5m11 2h5m33-1h5m19 5h5m-1-5h5m14-1h5m26 4h5m12-1h5m11-3h5m-5 2h5m4-3h5m5 5h5m-1-5h5m1 7h5m-1-3h5m-2 1h5m-5-5h5m-238 12h5m1-4h5m-2 7h5m0-4h5m-3-2h5m-4 4h5m9-1h5m25 3h5m-4-5h5m18 5h5m-2-2h5m-2 2h5m21-3h5m-4 3h5m-4-1h5m-2-4h5m26-1h5m-2 0h5m24 2h5m3 0h5m21 4h5m-223 4h5m6 0h5m-2 2h5m29-5h5m11 1h5m14 0h5m11 3h5m-2-1h5m3 0h5m-3 4h5m31-3h5m1-4h5m0 3h5m6 4h5m-3-5h5m4 0h5m-197 7h5m5 3h5m6-4h5m6 0h5m31 3h5m28-2h5m9 3h5m20 0h5m2-2h5m11-1h5m41 1h5m-3-1h5m0 0h5m20 5h5m-4-1h5m-179 4h5m58 1h5m19 3h5m-1-4h5m3-1h5m10 3h5m26-3h5m0 1h5m5 0h5m-3-1h5m3 6h5m-238 4h5m61-2h5m27 2h5m8-1h5m16 4h5m25-5h5m21 0h5m22 4h5m19-3h5m-235 8h5m101 0h5m12 4h5m100-5h5m-199 13h5m39 1h5m97-6h5m35 2h5m-19 9h5m12 2h5m-94 9h5m72-2h5m-169 5h5m3 6h5m1-1h5m2-6h5m47 1h5m63 2h5m-174 7h5m119-2h5m-100 15h5m7-1h5m20-1h5m13-5h5m85 1h5m21 6h5m-140 4h5m79 2h5m-87 5h5m138 3h5m-188 6h5m4-3h5m119 6h5m-198 9h5m85-1h5m31-6h5m-3 2h5m0 0h5m92 4h5m-140 7h5m115-3h5m-196 28h5m172 8h5m-131 8h5" style="stroke:#d3d7d1;stroke-width:5.2;fill:none"/>
<path transform="scale(.25)" d="M1237 766h5m-169 3h5m46 4h5m-61 6h5m-2 1h5m4 3h5m-3-6h5m5 6h5m-2 0h5m-1-2h5m-3 0h5m-5 2h5m55-5h5m-4 3h5m50-3h5m-143 12h5m8-1h5m9-1h5m9 2h5m-4 1h5m-2-2h5m-3 2h5m18-1h5m28-2h5m28-2h5m41 1h5m-196 9h5m0 1h5m-3-5h5m-2 3h5m-4-1h5m-1 1h5m14 1h5m1-1h5m27-2h5m1 4h5m8-5h5m35 5h5m6 2h5m106-5h5m-258 12h5m-3-2h5m1-4h5m-5 3h5m6 4h5m9 0h5m-2 0h5m20-7h5m4 2h5m-2 0h5m6-2h5m4 7h5m-3-1h5m1-1h5m9-2h5m11 3h5m-125 7h5m-4-3h5m2 4h5m-5 1h5m-2-7h5m9 3h5m-2 4h5m0-7h5m-5 5h5m5-5h5m4 4h5m5-2h5m0 1h5m-3-2h5m-1 1h5m-1 0h5m11 1h5m13-1h5m24 1h5m-159 10h5m-4-3h5m-4 4h5m3 0h5m5-6h5m-4 6h5m-2-5h5m-4 3h5m-4-4h5m-4 0h5m-3 6h5m4 0h5m1 1h5m5-6h5m5 5h5m16-1h5m-2 2h5m-3-4h5m-3 3h5m18-2h5m-1 2h5m-1-1h5m-5-5h5m16 6h5m-148 9h5m-2 0h5m-2-5h5m-5 5h5m-5-3h5m-1-1h5m-4 2h5m-4 2h5m-4-7h5m-2 4h5m-5 3h5m-3-7h5m-3 3h5m0 4h5m-3-3h5m4 0h5m-4-1h5m1-1h5m-1 1h5m-2 4h5m7 0h5m-2-7h5m16 2h5m2 3h5m10-2h5m46 0h5m36 4h5m40-2h5m-247 3h5m-4 0h5m27 0h5" style="stroke:#7cb8f8;stroke-width:5.2;fill:none"/>
<path transform="scale(.25)" d="M1068 804h5m0 0h5m77-1h5m-93 5h5m-1 1h5m13 0h5m-5 0h5m2 6h5m-2-6h5m-3 6h5m-4 0h5m-2-4h5m0 1h5m3 2h5m50 0h5m1-4h5m29 5h5m-149 6h5m35 1h5m1-5h5m31 3h5m12-3h5m2 2h5m18-3h5m-2 5h5m-4-3h5m-110 12h5m-3-4h5m-4 0h5m5-1h5m13 4h5m11-3h5m9 2h5m25-3h5m4-1h5m-135 13h5m-2-3h5m9 4h5m-3-5h5m-3 1h5m-2 2h5m2 2h5m-2-3h5m-4 3h5m-1-4h5m-4 3h5m-4-3h5m-4 1h5m1-1h5m-2-2h5m-4 0h5m0 4h5m-4 0h5m1 2h5m-4 1h5m2-6h5m1 1h5m0-1h5m13 1h5m-3 2h5m2 0h5m54-1h5m23 4h5m15-2h5m-222 7h5m-4 3h5m-5-4h5m-4 1h5m-5-3h5m-3 1h5m-5 5h5m-4-4h5m-3 0h5m-5 0h5m-4 0h5m-4-3h5m-4 5h5m-5-1h5m-5 2h5m-2-2h5m-5-4h5m-3 5h5m-2-1h5m-4 0h5m-3 0h5m-4-2h5m-3 0h5m-3 1h5m-3-1h5m-4 5h5m-4-3h5m-3-2h5m-3 2h5m-3 1h5m-3-1h5m-5 2h5m-5 0h5m-4-2h5m-4-1h5m-4 0h5m-3-3h5m3 4h5m-5 3h5m-3-5h5m-1-2h5m-4 2h5m-2 1h5m4 3h5m-3-4h5m-3 3h5m-5 1h5m-5-5h5m4 5h5m-3-1h5m-2 1h5m-3-2h5m-2-3h5m-5 5h5m1-6h5m-3 1h5m5 4h5m-1-3h5m3 5h5m-5-2h5m-5 1h5m-4-2h5m0-1h5m-2 0h5m13 4h5m24-3h5m27-4h5m51 5h5m-273 4h5m-3-1h5m-4 6h5m-4-3h5m-5 2h5m-1-3h5m-4 2h5m1 0h5m-5 1h5m-3-4h5m-5 2h5m-2-1h5m-5 2h5m-4-1h5m-4-2h5m-4 2h5m-5-3h5m-5 5h5m8-1h5m-4-1h5m-4 4h5m-5-2h5m-3-5h5m-4 5h5m-3-1h5m-5-4h5m-3 0h5m0 0h5m-5 0h5m-5 1h5m-1 5h5m-4-5h5m1-1h5m-1 4h5m-5 2h5m4 0h5m-3 1h5m-4-2h5m-4 0h5m5 2h5m-5-4h5m2-2h5m-4 0h5m-5 6h5m3-1h5m12-3h5m1 1h5m-3 3h5m15-6h5m22 5h5m54 0h5m-240 9h5m-1-5h5m-4-1h5m-4 0h5m-4 5h5m-4 0h5m-5-4h5m-2 2h5m-2-1h5m-4 2h5m-5-5h5m-4 7h5m-5 0h5m-5-1h5m1 1h5m-3-1h5m-5-3h5m4 4h5m-5-6h5m-3-1h5m-5 0h5m-2 0h5m-1 6h5m-4 0h5m-1-3h5m-4 2h5m1-3h5m-5 3h5m-5-3h5m-3 5h5m-3-7h5m-3 2h5m1-2h5m-3 1h5m-3 5h5m-2-4h5m-2 4h5m-5-6h5m-3 2h5m4-1h5m-4 6h5m-5-5h5m-4-1h5m20 6h5m3-3h5m16 0h5m-3-4h5m-3 7h5m34 0h5m19 0h5m5-2h5m-225 3h5m-3 3h5m-4-2h5m-2 3h5m-5-4h5m-5 5h5m-3 1h5m-5 0h5m-3 1h5m-3-7h5m-4 1h5m1 5h5m-5-5h5m-4 2h5m-2 4h5m-5-3h5m-5-1h5m-2 1h5m-3 2h5m3-3h5m-1 2h5m-3-1h5m-3-4h5m-2 5h5m-5-3h5m-3 2h5m-2-2h5m-3-1h5m1 2h5m-4 1h5m3-4h5m-4 0h5m-4 1h5m-4 5h5m-5-4h5m-3 4h5m-4-4h5m2-1h5m0 0h5m11 6h5m-5 0h5m-2-2h5m-5 2h5m7-7h5m-1 4h5m-4-2h5m-1 2h5m38-3h5m23 1h5m-2 4h5m4-6h5m14 2h5m14-1h5m24 2h5m-281 11h5m-5-4h5m-5-1h5m-3 2h5m-4 3h5m-4 0h5m-5 0h5m-3-5h5m-4 3h5m-4 2h5m-1-1h5m-4-5h5m-4 5h5m-3 0h5m-3-2h5m-3-3h5m-5 5h5m-4 1h5m-5 1h5m-3-2h5m-1 1h5m-5 1h5m2-3h5m-2-2h5m-3 3h5m-2 2h5m-2-6h5m-1 2h5m-2-3h5m-2 0h5m-3 1h5m2 5h5m-4-3h5m-3 1h5m-3 0h5m10-2h5m-4 1h5m0 0h5m0 0h5m2 1h5m-5-3h5m1-1h5m-4 1h5m0 5h5m9-4h5m86 5h5m-225 2h5m-5 3h5m-2 3h5m0-7h5m-1 2h5m-3 0h5m-1-1h5m1 4h5m-5-2h5m-2 0h5m-2-3h5m-4 6h5m-2-6h5m-4 3h5m0-2h5m-2 0h5m-3 6h5m-4-7h5m0 5h5m4 0h5m-4-4h5m19 1h5m-5 5h5m-2-4h5m3 3h5m-2-2h5m-3 3h5m-1-3h5m16-4h5m17 2h5m-5 5h5m-3-5h5m5-2h5m25 1h5m53-1h5m-248 8h5m-4 0h5m-3 7h5m-4-5h5m-4 5h5m0 0h5m-4-7h5m0 2h5m-2 4h5m-2 0h5m-3-2h5m-4 2h5m-4-4h5m-3 5h5m-4-5h5m-4 3h5m-4-1h5m-4-1h5m-4-3h5m-2 3h5m1 0h5m3 0h5m1 3h5m-3-3h5m-5-2h5m0 3h5m-5 2h5m18 0h5m1 1h5m17 0h5m10-2h5m5 0h5m-4-4h5m59 0h5m5 6h5m28 0h5m-245 2h5m5 1h5m-2-2h5m-4 1h5m-2-1h5m7 0h5m-5 0h5m-3 0h5m-2 1h5m-3 0h5m-1-1h5m-1 1h5m53 0h5m9-1h5m20 1h5" style="stroke:#0c46e0;stroke-width:5.2;fill:none"/>
<path transform="scale(.25)" d="M1066 901h5m-5 1h5m-5 0h5m-1 0h5m-5 0h5m-2 1h5m-3-1h5m-3 0h5m-1 1h5m-4-1h5m-1 0h5m-5 0h5m-2 0h5m-3 1h5m-3 0h5m-5 0h5m-5 0h5m-3 0h5m-2 0h5m-3-1h5m-1 1h5m-4-2h5m-5 2h5m-2-2h5m-1 1h5m-1-1h5m6 2h5m-5 0h5m1 0h5m-5-1h5m-4 1h5m-2 0h5m5 0h5m20 0h5m8 0h5m-2-1h5m7 1h5m-2-2h5m16 1h5m-162 5h5m-4-3h5m-5 5h5m-5-4h5m-3 5h5m-4 0h5m-5-1h5m-5-3h5m-5-2h5m-5 6h5m-4 0h5m-4-6h5m-3 5h5m-5 0h5m-5-2h5m-5-1h5m-4 0h5m-5 5h5m-4-3h5m-5-2h5m-4-1h5m-5-1h5m-4 1h5m-5 4h5m-4 2h5m-4-3h5m-5-4h5m-5 6h5m-4-2h5m-5 3h5m-1-3h5m-5 1h5m-5-4h5m-5 5h5m-5-6h5m-5 7h5m-4-7h5m-4 6h5m-2 0h5m-4 0h5m-5-5h5m-4-1h5m-4 1h5m-5 5h5m-5-5h5m-5 5h5m-4-6h5m-4 7h5m-3-2h5m-5-2h5m-4 4h5m-5 0h5m-4-7h5m-5 1h5m-4 5h5m-5-5h5m-4 5h5m-5-1h5m-4 0h5m-5-4h5m-4 2h5m-4-1h5m-5 4h5m-2-4h5m-4 5h5m-4-2h5m-5 2h5m-5-3h5m-3-2h5m-5 4h5m-3-6h5m-4 0h5m-1 3h5m-4 3h5m-5-2h5m-4-1h5m0 4h5m-4-3h5m-3-3h5m-4 1h5m-4 5h5m-4-7h5m-3 4h5m-4 1h5m-5 1h5m-4-3h5m-4 0h5m-5 0h5m-4-3h5m-5 2h5m-4 5h5m-3-4h5m-5-1h5m-4 2h5m-4-2h5m-5 3h5m8-1h5m-3 1h5m-2 1h5m-4-6h5m0 6h5m-5-6h5m-4 0h5m-4 4h5m0-1h5m-4 0h5m-2-3h5m-4 3h5m-5-3h5m-4 7h5m-1-1h5m2-6h5m1 1h5m22 6h5m-2-4h5m-1-3h5m4 1h5m8 4h5m7-2h5m22-2h5m10 4h5m0-1h5m-251 10h5m-5-4h5m-4 0h5m-5 0h5m-5-2h5m-4 2h5m-5 1h5m-4-2h5m-5 0h5m-5 4h5m-3-5h5m-4 4h5m-5-1h5m-5 0h5m-4 1h5m-5-3h5m-5 2h5m-3 3h5m-4 1h5m-4-1h5m-3 1h5m-5-1h5m-5-4h5m-5-2h5m-5 0h5m-4 1h5m-5 4h5m-4-1h5m-4-1h5m-4-1h5m-5-2h5m-5 2h5m-4 0h5m-4 5h5m-4-5h5m-4-2h5m-4 6h5m-4-6h5m-5 2h5m-5 5h5m-4-3h5m-5 1h5m-5-3h5m-5 5h5m-4-5h5m-4 4h5m-3-5h5m-3-1h5m-5 4h5m-5 3h5m-3-5h5m-5 5h5m-4-4h5m-4-3h5m-4 3h5m-5-1h5m-3 4h5m-4 0h5m-5-6h5m-5 4h5m-1-2h5m-5 5h5m-4-6h5m-5-1h5m-2 0h5m-2 7h5m-4-2h5m-5-5h5m-5 5h5m-4-2h5m-5 3h5m-5 0h5m-5-1h5m-4-3h5m-4 4h5m-5 0h5m-5-3h5m0 2h5m-5-3h5m-4-2h5m-5 6h5m-4 0h5m-4-1h5m-3-4h5m-5 1h5m-3 4h5m-5-6h5m-1 7h5m-3-3h5m-1-1h5m-5-3h5m-2 5h5m-4-3h5m-3 3h5m-1 0h5m-3 0h5m-1 0h5m4 1h5m-3-2h5m-2-1h5m-4-3h5m-3 3h5m5 0h5m-3-1h5m-4 4h5m0-2h5m-4 2h5m3-1h5m-3 2h5m-5-4h5m8 0h5m9 1h5m1 2h5m4-4h5m3 3h5m-5-3h5m-4 3h5m12 1h5m15-4h5m22-1h5m-255 8h5m-5 3h5m-5 3h5m-4-2h5m-4-5h5m-4 0h5m-5 0h5m-3 1h5m-4 2h5m-4-1h5m-5 2h5m-4-2h5m-5 4h5m-5-6h5m-4 1h5m-5 2h5m-4 3h5m-4-6h5m-4 4h5m-4 3h5m-2-3h5m-4 0h5m-4 3h5m-5-6h5m-4 6h5m-4-2h5m-4 2h5m-3-1h5m-5 0h5m-5 1h5m-4-7h5m-4 1h5m-4 1h5m-5 1h5m-2 1h5m-5-1h5m-5-1h5m-3 1h5m-5 3h5m-5-3h5m-5 3h5m-3-1h5m-4 2h5m-5-3h5m-3 1h5m-4-1h5m-4 0h5m-4 3h5m-2-1h5m-5-1h5m-4-2h5m-5-2h5m-4 6h5m-4-5h5m-4 4h5m-4-6h5m-3 6h5m-3-6h5m-3 0h5m-3 7h5m-5-5h5m-5 5h5m-1-4h5m-4 3h5m-5-4h5m-4-2h5m-5 1h5m-5 1h5m0 2h5m-3 2h5m-4-4h5m-4 3h5m-3-5h5m-5 6h5m-5-1h5m-4-1h5m-5 3h5m0-5h5m-4 0h5m-4 3h5m-4 2h5m0-3h5m-2 2h5m-4-6h5m-2 2h5m-3-1h5m2 2h5m0 3h5m-4-1h5m6-2h5m-4 1h5m6 2h5m1-4h5m-4-1h5m2 5h5m6-4h5m4-2h5m-2 1h5m4 5h5m-2-4h5m2 2h5m15-2h5m3-1h5m24 3h5m8 0h5m4-1h5m-1 1h5m-277 6h5m-3 2h5m-5 1h5m-4-3h5m-5 5h5m-4 0h5m-5-5h5m-5 2h5m-4-1h5m-5-3h5m-5 4h5m-4 3h5m-4-5h5m-5-1h5m-5 3h5m-4-2h5m-4 0h5m-4-1h5m-5 3h5m-2 0h5m-5 0h5m-4-3h5m-4 6h5m-4-3h5m-5-3h5m-4 5h5m-5-6h5m-4 4h5m-5-2h5m-2-2h5m-4 1h5m-4 6h5m-5-2h5m-4 0h5m-3-4h5m-5 5h5m-5-3h5m-4 2h5m-3-3h5m-5-1h5m-3 0h5m-2 4h5m-4 2h5m-5-5h5m-3 2h5m-3 0h5m-5-1h5m-3-2h5m-2 4h5m-5-3h5m-2 2h5m-3 0h5m-5 3h5m-1-5h5m-5 1h5m-4 4h5m-5-1h5m-3-1h5m-4-1h5m-4 3h5m-4-5h5m-2 2h5m-3-2h5m-5 5h5m-2-6h5m-5 1h5m-3 3h5m-2-3h5m-3 0h5m-4 4h5m0-5h5m-5 1h5m-2 4h5m-2-4h5m-2 4h5m-2-6h5m-4 5h5m-5-4h5m-5 0h5m-5 0h5m-3 6h5m-4-1h5m-5-3h5m1-1h5m-3 1h5m-4 4h5m-4-6h5m-4 3h5m-5 3h5m-4-1h5m-4-3h5m-4 3h5m-3 0h5m-4-3h5m-1 1h5m-3-2h5m-2 1h5m-3 2h5m-3-5h5m11 3h5m2 3h5m-1-6h5m-1 7h5m-2-7h5m-3 3h5m5 4h5m29 0h5m7-7h5m34 1h5m16 5h5m-283 9h5m-3 0h5m-3-3h5m-5 1h5m-3-4h5m-5 5h5m-4-1h5m-4-5h5m-4 4h5m-5-2h5m-2-1h5m-4 4h5m-3-2h5m-3 4h5m-5-1h5m-4-4h5m-4 2h5m-4 3h5m-5-3h5m-4 1h5m-1 2h5m-4-5h5m-5 1h5m-5-1h5m-4 0h5m-2 4h5m-4-2h5m-5-1h5m-3-3h5m-5 3h5m-3-2h5m-3 6h5m-4-4h5m-5-3h5m-2 4h5m-5 0h5m-5-3h5m0 6h5m-3-6h5m-4 5h5m-5-6h5m-2 7h5m-5-7h5m-4 0h5m-5 4h5m-5-3h5m-5 5h5m-2 0h5m-4-3h5m4 1h5m4-2h5m-4 1h5m-2-1h5m-5 0h5m-4-1h5m-5 6h5m-2-4h5m-2 1h5m-4 1h5m-4-3h5m-4 4h5m-1 1h5m3 0h5m1-5h5m-3 5h5m-4-4h5m0 1h5m-3-4h5m-5 0h5m-3 0h5m-3 3h5m-4-1h5m3 1h5m6-3h5m-1 1h5m9 6h5m1-3h5m6 0h5m33 3h5m-3-2h5m5-4h5m24 4h5m-5-1h5m-258 6h5m-4 0h5m-4 2h5m-5-4h5m-4 5h5m-5-2h5m-4 0h5m-5-2h5m-5-1h5m-1 1h5m-3 0h5m-5 3h5m-4 1h5m-4-4h5m-4 4h5m-4-3h5m-4 3h5m-5-4h5m-3 5h5m-5-2h5m-4-2h5m-5-2h5m-4 3h5m-5 0h5m-4 0h5m-2-2h5m-4-1h5m-5 6h5m-3-4h5m-5 1h5m-5 2h5m-3-2h5m-3 1h5m-4 1h5m-3-1h5m-4 0h5m-4 0h5m-5 3h5m6-6h5m-1 6h5m-5 0h5m-4-7h5m-5 1h5m-2 6h5m-1-7h5m-2 7h5m-5-5h5m-4-1h5m-4 1h5m-1-2h5m-3 5h5m-1 0h5m-1-3h5m-4-2h5m-2 2h5m0 1h5m-4 1h5m-5-4h5m-3 6h5m-4-3h5m3 2h5m-1-5h5m4 3h5m-4-1h5m-5 2h5m-4-4h5m-1 6h5m-5-5h5m-2 4h5m1-3h5m2 1h5m-4 4h5m-4-7h5m-2 5h5m1 0h5m-4-1h5m0 0h5m-2-3h5m-1 1h5m0-2h5m9 3h5m3-3h5m17 0h5m-213 9h5m-4 6h5m-4-6h5m-4 5h5m-5 0h5m-4-5h5m-5 1h5m-4 0h5m-4 2h5m-5-2h5m-2 1h5m-5-2h5m-4 2h5m-3-1h5m-2 4h5m-3 0h5m-4-6h5m-5 7h5m-4-5h5m-3-1h5m-4 4h5m-4-4h5m-3 3h5m-4 2h5m-3-6h5m-4 6h5m-5-4h5m0 4h5m-3 0h5m0-2h5m-3-2h5m-2 2h5m-4 2h5m-2-1h5m-4 0h5m-5-5h5m-4 3h5m-4-3h5m-5 7h5m-4-2h5m-3-2h5m-5-2h5m-5-1h5m-3 0h5m-3 0h5m3 0h5m-4 3h5m-5-3h5m-4 3h5m-4 0h5m-3-2h5m-4 6h5m-2-6h5m-3 2h5m26 2h5m-2 2h5m-1-2h5m-1 2h5m-3 0h5m-4-1h5m-1 0h5m12-3h5m13 2h5m9 1h5m-2-5h5m6 2h5m-1-2h5m63 4h5m-268 8h5m-3-4h5m-5 1h5m-4 5h5m-4-7h5m-3 0h5m-3 0h5m-5 2h5m-3 1h5m-5 2h5m0 0h5m-3 0h5m-3 0h5m-3-1h5m-5-2h5m-4 4h5m-5-4h5m-5 2h5m-5-1h5m-3 2h5m-4-4h5m-5 2h5m-4 0h5m-2-3h5m-4 5h5m1 2h5m-4-3h5m0-2h5m0 5h5m-5-5h5m-5-1h5m0 3h5m0-1h5m-5-2h5m-2 0h5m-1 6h5m-4-1h5m-3-4h5m-4 3h5m-3-1h5m-4-4h5m-3 0h5m-2 6h5m-5-6h5m-5 4h5m-2 0h5m-4 3h5m-3-3h5m-5 0h5m-3 2h5m1-4h5m-1-1h5m0 0h5m-2 4h5m3-1h5m-3 2h5m3-4h5m18 3h5m3-1h5m19 1h5m10-4h5m27-1h5m22 0h5m-253 9h5m-3-1h5m-4 1h5m-2-1h5m-4 6h5m-5-3h5m-5-3h5m-5 6h5m-1 0h5m-4-3h5m-4 3h5m-4-6h5m-5 6h5m-2-4h5m-4 1h5m-5-2h5m-4-1h5m-2 3h5m-5 0h5m1 2h5m-2-1h5m-5 2h5m-3-5h5m-5 3h5m-4 0h5m-3 3h5m-4-2h5m-4 0h5m-2 1h5m-3-3h5m5 3h5m-4 0h5m0-4h5m-4 1h5m3 2h5m-2-3h5m0 3h5m-2 1h5m-5 1h5m3-3h5m-3-1h5m0 1h5m0-1h5m-4 0h5m0 4h5m-3-5h5m2 4h5m-3-3h5m0 3h5m4-1h5m-3-2h5m-2 3h5m5-2h5m0-3h5m1 0h5m10 3h5m-1 3h5m18-3h5m4 1h5m36-5h5m-253 12h5m-5 1h5m-4-4h5m-5 0h5m-4 6h5m-4-6h5m-2 4h5m-1 1h5m-4-3h5m-4 3h5m-2-2h5m-2 2h5m-5 0h5m-3 1h5m-5-6h5m-2 6h5m5-4h5m-3 0h5m1-2h5m-4 4h5m-4-3h5m-4 1h5m-2-3h5m-5 7h5m0-2h5m2 1h5m10-6h5m0 0h5m-5 6h5m1-6h5m0 7h5m13-2h5m3-2h5m8-1h5m5 5h5m19 0h5m-4-3h5m-170 10h5m-2-1h5m-2 1h5m1-6h5m-5 0h5m-3 3h5m-2 4h5m1-4h5m-2 2h5m-3-1h5m-2 3h5m8-2h5m-5-2h5m-4-3h5m-4 4h5m-2-2h5m3 5h5m-5-1h5m-1-1h5m1 2h5m-4-4h5m-2 0h5m-3 2h5m-2-2h5m-4-2h5m-2-1h5m-3 3h5m-5 2h5m-4-4h5m18-1h5m0 2h5m12 4h5m60-5h5m34 6h5m-233 8h5m-4-3h5m-3-2h5m-3 2h5m-4 2h5m-3 1h5m-4-7h5m-4 5h5m5-5h5m-1 0h5m0 0h5m3 7h5m-4-2h5m-5 0h5m-4-3h5m8-1h5m3 3h5m0 1h5m-5-3h5m20 1h5m0 3h5m-4-4h5m4-2h5m8 2h5m-5-1h5m20 3h5m-3 0h5m12-1h5m-3 0h5m64 2h5m-241 7h5m3 1h5m-2 1h5m0-2h5m-3-1h5m-3 3h5m-5-5h5m-5 3h5m-4 1h5m5-1h5m3-3h5m-2 0h5m-5-1h5m-1 0h5m5 7h5m18-4h5m-2-3h5m3 1h5m17 6h5m18-6h5m53 0h5m46 3h5m-250 8h5m0-2h5m10-2h5m-4 7h5m3-1h5m-1 0h5m28-2h5m28-4h5m4 3h5m3 1h5m2-1h5m-3-3h5m-1 2h5m2 1h5m19-3h5m17 3h5m29-2h5m-219 8h5m-3 1h5m-3 2h5m2 2h5m-4-2h5m-3-4h5m-1 4h5m-1-1h5m3 2h5m0-2h5m-4-3h5m2 3h5m0 2h5m2 0h5m0 1h5m7-5h5m28 6h5m10-3h5m57-3h5m68 6h5m-258 1h5m11 7h5m53 0h5m37-5h5m-118 10h5m0-1h5m-5 4h5m21-3h5m45-4h5m8 3h5m-105 7h5m26-1h5m11 2h5m-28 7h5m5 4h5m57-1h5m-3 10h5m-67 3h5m80 8h5m76 16h5m-183 8h5m1 0h5m-24 7h5m79 4h5m56 0h5m-154 7h5m29 2h5m97-5h5m20-1h5m81 10h5m-212 13h5m220-3h5m-197 4h5m166 3h5m-231 7h5" style="stroke:#040c5e;stroke-width:5.2;fill:none"/>
<path transform="scale(.25)" d="M1109 738h5m-47 9h5" style="stroke:#fa7a30;stroke-width:5.2;fill:none"/>
<path d="M201.3 171.39V317.41" style="fill:none;stroke:#000;stroke-width:0.42;stroke-opacity:0.7"/>
<path d="M201.09 171.6H338.81" style="fill:none;stroke:#000;stroke-width:0.42;stroke-opacity:0.3"/>
<path d="M338.6 171.39V317.41" style="fill:none;stroke:#000;stroke-width:0.42;stroke-opacity:0.25"/>
<path d="M201.09 317.2H338.81" style="fill:none;stroke:#000;stroke-width:0.42;stroke-opacity:0.4"/>
<path d="M201.3 310.31h1.8M201.3 285.51h1.8M201.3 260.71h1.8M201.3 235.91h1.8M201.3 211.11h1.8M201.3 186.31h1.8M216.28 317.2v-1.8M244.02 317.2v-1.8M271.75 317.2v-1.8M299.49 317.2v-1.8M327.23 317.2v-1.8" style="stroke:#000;stroke-width:.5;fill:none"/>
<path d="M201.3 315.81h1M201.3 314.15h1M201.3 312.71h1M201.3 311.44h1M201.3 302.84h1M201.3 298.47h1M201.3 295.37h1M201.3 292.97h1M201.3 291.01h1M201.3 289.35h1M201.3 287.91h1M201.3 286.64h1M201.3 278.04h1M201.3 273.67h1M201.3 270.57h1M201.3 268.17h1M201.3 266.21h1M201.3 264.55h1M201.3 263.11h1M201.3 261.84h1M201.3 253.24h1M201.3 248.87h1M201.3 245.77h1M201.3 243.37h1M201.3 241.41h1M201.3 239.75h1M201.3 238.31h1M201.3 237.04h1M201.3 228.44h1M201.3 224.07h1M201.3 220.98h1M201.3 218.57h1M201.3 216.61h1M201.3 214.95h1M201.3 213.51h1M201.3 212.24h1M201.3 203.64h1M201.3 199.27h1M201.3 196.18h1M201.3 193.77h1M201.3 191.81h1M201.3 190.15h1M201.3 188.71h1M201.3 187.44h1M201.3 178.84h1M201.3 174.47h1M201.77 317.2v-1M205.24 317.2v-1M207.93 317.2v-1M210.12 317.2v-1M211.98 317.2v-1M213.59 317.2v-1M215.01 317.2v-1M224.63 317.2v-1M229.51 317.2v-1M232.98 317.2v-1M235.67 317.2v-1M237.86 317.2v-1M239.72 317.2v-1M241.33 317.2v-1M242.75 317.2v-1M252.37 317.2v-1M257.25 317.2v-1M260.72 317.2v-1M263.4 317.2v-1M265.6 317.2v-1M267.46 317.2v-1M269.06 317.2v-1M270.48 317.2v-1M280.1 317.2v-1M284.99 317.2v-1M288.45 317.2v-1M291.14 317.2v-1M293.34 317.2v-1M295.19 317.2v-1M296.8 317.2v-1M298.22 317.2v-1M307.84 317.2v-1M312.72 317.2v-1M316.19 317.2v-1M318.88 317.2v-1M321.07 317.2v-1M322.93 317.2v-1M324.54 317.2v-1M325.96 317.2v-1M335.58 317.2v-1" style="stroke:#000;stroke-width:.4;stroke-opacity:.7;fill:none"/>
<g font-family='"Liberation Serif", serif' font-size="7.3" fill="#1a1a1a" stroke="#1a1a1a" stroke-width=".18">
<text x="185" y="189.31" textLength="8" lengthAdjust="spacingAndGlyphs">10</text><text x="193.6" y="186.71" font-size="5.3" textLength="6.3" lengthAdjust="spacingAndGlyphs">−1</text>
<text x="185" y="214.11" textLength="8" lengthAdjust="spacingAndGlyphs">10</text><text x="193.6" y="211.51" font-size="5.3" textLength="6.3" lengthAdjust="spacingAndGlyphs">−2</text>
<text x="185" y="238.91" textLength="8" lengthAdjust="spacingAndGlyphs">10</text><text x="193.6" y="236.31" font-size="5.3" textLength="6.3" lengthAdjust="spacingAndGlyphs">−3</text>
<text x="185" y="263.71" textLength="8" lengthAdjust="spacingAndGlyphs">10</text><text x="193.6" y="261.11" font-size="5.3" textLength="6.3" lengthAdjust="spacingAndGlyphs">−4</text>
<text x="185" y="288.51" textLength="8" lengthAdjust="spacingAndGlyphs">10</text><text x="193.6" y="285.91" font-size="5.3" textLength="6.3" lengthAdjust="spacingAndGlyphs">−5</text>
<text x="185" y="313.31" textLength="8" lengthAdjust="spacingAndGlyphs">10</text><text x="193.6" y="310.71" font-size="5.3" textLength="6.3" lengthAdjust="spacingAndGlyphs">−6</text>
<text x="208.83" y="323.8" textLength="8" lengthAdjust="spacingAndGlyphs">10</text><text x="217.43" y="321.2" font-size="5.3" textLength="6.3" lengthAdjust="spacingAndGlyphs">−6</text>
<text x="236.57" y="323.8" textLength="8" lengthAdjust="spacingAndGlyphs">10</text><text x="245.17" y="321.2" font-size="5.3" textLength="6.3" lengthAdjust="spacingAndGlyphs">−5</text>
<text x="264.3" y="323.8" textLength="8" lengthAdjust="spacingAndGlyphs">10</text><text x="272.9" y="321.2" font-size="5.3" textLength="6.3" lengthAdjust="spacingAndGlyphs">−4</text>
<text x="292.04" y="323.8" textLength="8" lengthAdjust="spacingAndGlyphs">10</text><text x="300.64" y="321.2" font-size="5.3" textLength="6.3" lengthAdjust="spacingAndGlyphs">−3</text>
<text x="319.78" y="323.8" textLength="8" lengthAdjust="spacingAndGlyphs">10</text><text x="328.38" y="321.2" font-size="5.3" textLength="6.3" lengthAdjust="spacingAndGlyphs">−2</text>
</g>
<g font-family='"Liberation Sans", sans-serif' fill="#1a1a1a" stroke="#1a1a1a" stroke-width=".15">
<text transform="translate(180.9 78.8) rotate(-90)" text-anchor="middle" font-size="9.5" textLength="85.6" lengthAdjust="spacingAndGlyphs">predicted <tspan font-style="italic">σ</tspan><tspan font-style="italic" font-size="6.6" dy="1.9">NLO</tspan><tspan dy="-1.9">[pb]</tspan></text>
<text transform="translate(181.5 244.5) rotate(-90)" text-anchor="middle" font-size="9.5" textLength="60.8" lengthAdjust="spacingAndGlyphs">relative error</text>
<text x="271" y="334.2" text-anchor="middle" font-size="9.5" textLength="39" lengthAdjust="spacingAndGlyphs"><tspan font-style="italic">σ</tspan><tspan font-style="italic" font-size="6.6" dy="1.9">NLO</tspan><tspan dy="-1.9">[pb]</tspan></text>
</g>
<rect x="284.1" y="275.3" width="52.4" height="39.8" rx="1.2" fill="#fff" fill-opacity=".8" stroke="#ddd" stroke-width=".5"/>
<rect x="290" y="279" width="1.4" height="1.4" fill="#d3d7d1"/>
<text x="300.7" y="281.8" font-family='"Liberation Sans", sans-serif' font-size="6.1" fill="#111" stroke="#111" stroke-width=".07"><tspan font-style="italic">σ</tspan> &lt; <tspan font-style="italic">σ</tspan><tspan font-style="italic" font-size="3.6" dy="1">exp</tspan></text>
<rect x="290" y="286.6" width="1.4" height="1.4" fill="#fa7a30"/>
<text x="300.7" y="289.4" font-family='"Liberation Sans", sans-serif' font-size="6.1" fill="#111" stroke="#111" stroke-width=".07">rest</text>
<rect x="290" y="294.2" width="1.4" height="1.4" fill="#7cb8f8"/>
<text x="300.7" y="297" font-family='"Liberation Sans", sans-serif' font-size="6.1" fill="#111" stroke="#111" stroke-width=".07">three <tspan font-style="italic">σ</tspan> error</text>
<rect x="290" y="301.8" width="1.4" height="1.4" fill="#0c46e0"/>
<text x="300.7" y="304.6" font-family='"Liberation Sans", sans-serif' font-size="6.1" fill="#111" stroke="#111" stroke-width=".07">two <tspan font-style="italic">σ</tspan> error</text>
<rect x="290" y="309.4" width="1.4" height="1.4" fill="#040c5e"/>
<text x="300.7" y="312.2" font-family='"Liberation Sans", sans-serif' font-size="6.1" fill="#111" stroke="#111" stroke-width=".07">one <tspan font-style="italic">σ</tspan> error</text>
<text x="229.6" y="357.7" font-family='"Liberation Serif", serif' font-size="13.8" fill="#000" font-weight="bold">(b)</text>
<g font-family='"Liberation Serif", serif' fill="#000">
<path d="M256.9 352.2L251.3 359.2" style="fill:none;stroke:#000;stroke-width:1.25;stroke-linecap:round"/>
<path d="M251.7 353.1c.4-.6 1-.6 1.3 0L255 359c.2.5.5.6.9.3" style="fill:none;stroke:#000;stroke-width:.7"/>
<path d="M252.8 350.4c.6-1 1.2-1 1.9-.5s1.3.5 1.9-.5" style="fill:none;stroke:#000;stroke-width:.5"/>
<text x="258.2" y="361.8" font-size="9.3">2</text>
<text x="258.2" y="353.1" font-size="9.3">0</text>
<path d="M269.3 352.2L263.7 359.2" style="fill:none;stroke:#000;stroke-width:1.25;stroke-linecap:round"/>
<path d="M264.1 353.1c.4-.6 1-.6 1.3 0L267.4 359c.2.5.5.6.9.3" style="fill:none;stroke:#000;stroke-width:.7"/>
<path d="M265.2 350.4c.6-1 1.2-1 1.9-.5s1.3.5 1.9-.5" style="fill:none;stroke:#000;stroke-width:.5"/>
<text x="270.6" y="361.8" font-size="9.3">2</text>
<text x="270.6" y="353.1" font-size="9.3">0</text>
</g>
<path d="M382.3 147.39L501.08 12.27" style="stroke:#1d56de;stroke-width:2.0;stroke-linecap:round"/>
<path transform="scale(.25)" d="M2032 13h5m-16 16h5m-11 6h5m-4-2h5m-18 14h5m-11 2h5m-1 3h5m-4-4h5m-35 33h5m-13 10h5m-3 1h5m-14 9h5m-12 7h5m-2-2h5m-25 23h5m-21 15h5m-20 18h5m-1-2h5m-19 12h5m-4-3h5m-3 3h5m-4-4h5m-20 18h5m-22 20h5m3-6h5m-15 9h5m-17 12h5m-10 3h5m-12 13h5m-39 37h5m-4-1h5m-13 11h5m-2-2h5m-31 25h5m-68 73h5m-25 22h5m-15 13h5m-19 12h5m0-2h5m-4-1h5m-20 8h5m0 1h5m-4 3h5m-2-4h5m-21 15h5m-1-1h5m-2-1h5m-18 10h5m-5-2h5m-3 2h5m-19 7h5m-1 1h5m-3-4h5m-4 1h5m-4-4h5m-5 4h5m-2-4h5m-3 2h5m-3-2h5m-26 13h5m0-2h5m-3-3h5m-1 4h5m-5-1h5m-19 11h5m-2-3h5m-3 3h5m-5-1h5m-4-2h5m-2-1h5m-31 19h5m0-3h5m-3 0h5m-5-1h5m-3 3h5m0-3h5m-36 13h5m8-3h5m-5 2h5m-4-3h5m-4-1h5m-4 2h5m-4 3h5m-3-6h5m-5 1h5m-27 14h5m-1-7h5m-4 7h5m2-2h5m-2-4h5m-3-1h5m-26 14h5m-4 1h5m-1-5h5m-5 0h5m-4 3h5m-4-2h5m-5 4h5m-2 0h5m-4-4h5m-4 4h5m-4-2h5m-31 6h5m-1 3h5m-2 1h5m-4-4h5m-4-2h5m-3 6h5m-4-4h5m-3 3h5m-5 0h5m-4 0h5m-3-3h5m-4 2h5m-3-1h5m-5-2h5m-4 0h5m0 0h5m-30 10h5m-4-1h5m-5 0h5m-4 0h5m-4 3h5m-5 1h5m-3-5h5m-4 1h5m-5 2h5m-3-5h5m-5 4h5m-4-4h5m-4 2h5m-5 3h5m-5-5h5m-3 1h5m-4 0h5m-34 12h5m-3-1h5m1-1h5m-4 0h5m-5 1h5m-3 2h5m-4-5h5m-3 3h5m-5-1h5m-3 4h5m-5-3h5m-5 1h5m-5 1h5m-5 1h5m-4-1h5m-3-1h5m-2 0h5m-5-3h5m-3 5h5m-26 2h5m-4 2h5m-3-3h5m-4 3h5m-4 3h5m-5-3h5m-5 0h5m-3-1h5m-5 3h5m-3-2h5m-4 0h5m-4 4h5m-29 8h5m-4-3h5m2-4h5m-5 4h5m-2 3h5m-5-5h5m-4 0h5m-5 1h5m-5-2h5m-4 2h5m-2-2h5m-4 1h5m-5-2h5m-1 1h5m-30 12h5m-4 0h5m-3-2h5m-3-3h5m-4 5h5m-4 1h5m-2-3h5m-4-2h5m-4 6h5m-4-5h5m-3-1h5m-4 2h5m-3-3h5m-3 0h5m-32 15h5m-4-1h5m-3-2h5m-1 2h5m-4-1h5m-5 1h5m-4-4h5m-5 4h5m-1-6h5m-5 5h5m-3-2h5m-4-1h5m-5 2h5m-1 1h5m-31 9h5m-3-1h5m-1-1h5m-3-3h5m-4-1h5m-4 4h5m-4-2h5m-5 4h5m-3-5h5m-3 3h5m-5-1h5m-21 9h5m-5-2h5m-4-2h5m-5 6h5m-5-2h5m-2-4h5m-4 0h5m-2 5h5m-2-5h5m-2 2h5m-20 10h5m-5 3h5m-2-2h5m-5-4h5m-4 5h5m-4 0h5m-5-5h5m-4 9h5" style="stroke:#1d56de;stroke-width:5.2;fill:none"/>
<circle cx="381.34" cy="153.74" r=".9" fill="#1d56de"/>
<circle cx="381.98" cy="150.65" r=".9" fill="#1d56de"/>
<circle cx="401.43" cy="120.18" r=".9" fill="#1d56de"/>
<path d="M375.6 0.09V157.21" style="fill:none;stroke:#000;stroke-width:0.42;stroke-opacity:0.7"/>
<path d="M375.39 0.3H512.61" style="fill:none;stroke:#000;stroke-width:0.42;stroke-opacity:0.9"/>
<path d="M512.4 0.09V157.21" style="fill:none;stroke:#000;stroke-width:0.42;stroke-opacity:0.9"/>
<path d="M375.39 157H512.61" style="fill:none;stroke:#000;stroke-width:0.42;stroke-opacity:0.9"/>
<path d="M375.6 154.64h1.8M375.6 136.51h1.8M375.6 118.37h1.8M375.6 100.23h1.8M375.6 82.1h1.8M375.6 63.96h1.8M375.6 45.82h1.8M375.6 27.69h1.8M375.6 9.55h1.8M375.92 157v-1.8M391.86 157v-1.8M407.81 157v-1.8M423.75 157v-1.8M439.7 157v-1.8M455.64 157v-1.8M471.58 157v-1.8M487.53 157v-1.8M503.47 157v-1.8" style="stroke:#000;stroke-width:.5;fill:none"/>
<path d="M375.6 156.4h1M375.6 155.47h1M375.6 149.18h1M375.6 145.99h1M375.6 143.72h1M375.6 141.97h1M375.6 140.53h1M375.6 139.32h1M375.6 138.26h1M375.6 137.34h1M375.6 131.05h1M375.6 127.85h1M375.6 125.59h1M375.6 123.83h1M375.6 122.39h1M375.6 121.18h1M375.6 120.13h1M375.6 119.2h1M375.6 112.91h1M375.6 109.72h1M375.6 107.45h1M375.6 105.69h1M375.6 104.26h1M375.6 103.04h1M375.6 101.99h1M375.6 101.06h1M375.6 94.77h1M375.6 91.58h1M375.6 89.31h1M375.6 87.56h1M375.6 86.12h1M375.6 84.91h1M375.6 83.85h1M375.6 82.93h1M375.6 76.64h1M375.6 73.44h1M375.6 71.18h1M375.6 69.42h1M375.6 67.98h1M375.6 66.77h1M375.6 65.72h1M375.6 64.79h1M375.6 58.5h1M375.6 55.31h1M375.6 53.04h1M375.6 51.28h1M375.6 49.85h1M375.6 48.63h1M375.6 47.58h1M375.6 46.65h1M375.6 40.36h1M375.6 37.17h1M375.6 34.9h1M375.6 33.15h1M375.6 31.71h1M375.6 30.5h1M375.6 29.44h1M375.6 28.52h1M375.6 22.23h1M375.6 19.03h1M375.6 16.77h1M375.6 15.01h1M375.6 13.57h1M375.6 12.36h1M375.6 11.31h1M375.6 10.38h1M375.6 4.09h1M375.6 0.9h1M380.72 157v-1M383.53 157v-1M385.52 157v-1M387.06 157v-1M388.33 157v-1M389.39 157v-1M390.32 157v-1M391.13 157v-1M396.66 157v-1M399.47 157v-1M401.46 157v-1M403.01 157v-1M404.27 157v-1M405.34 157v-1M406.26 157v-1M407.08 157v-1M412.61 157v-1M415.41 157v-1M417.41 157v-1M418.95 157v-1M420.21 157v-1M421.28 157v-1M422.21 157v-1M423.02 157v-1M428.55 157v-1M431.36 157v-1M433.35 157v-1M434.9 157v-1M436.16 157v-1M437.23 157v-1M438.15 157v-1M438.97 157v-1M444.49 157v-1M447.3 157v-1M449.29 157v-1M450.84 157v-1M452.1 157v-1M453.17 157v-1M454.09 157v-1M454.91 157v-1M460.44 157v-1M463.25 157v-1M465.24 157v-1M466.78 157v-1M468.05 157v-1M469.11 157v-1M470.04 157v-1M470.85 157v-1M476.38 157v-1M479.19 157v-1M481.18 157v-1M482.73 157v-1M483.99 157v-1M485.06 157v-1M485.98 157v-1M486.8 157v-1M492.33 157v-1M495.13 157v-1M497.13 157v-1M498.67 157v-1M499.93 157v-1M501 157v-1M501.93 157v-1M502.74 157v-1M508.27 157v-1M511.08 157v-1" style="stroke:#000;stroke-width:.4;stroke-opacity:.7;fill:none"/>
<g font-family='"Liberation Serif", serif' font-size="7.3" fill="#1a1a1a" stroke="#1a1a1a" stroke-width=".18">
<text x="363" y="12.55" textLength="8" lengthAdjust="spacingAndGlyphs">10</text><text x="371.6" y="9.95" font-size="5.3" textLength="2.6" lengthAdjust="spacingAndGlyphs">1</text>
<text x="363" y="30.69" textLength="8" lengthAdjust="spacingAndGlyphs">10</text><text x="371.6" y="28.09" font-size="5.3" textLength="2.6" lengthAdjust="spacingAndGlyphs">0</text>
<text x="359.3" y="48.82" textLength="8" lengthAdjust="spacingAndGlyphs">10</text><text x="367.9" y="46.22" font-size="5.3" textLength="6.3" lengthAdjust="spacingAndGlyphs">−1</text>
<text x="359.3" y="66.96" textLength="8" lengthAdjust="spacingAndGlyphs">10</text><text x="367.9" y="64.36" font-size="5.3" textLength="6.3" lengthAdjust="spacingAndGlyphs">−2</text>
<text x="359.3" y="85.1" textLength="8" lengthAdjust="spacingAndGlyphs">10</text><text x="367.9" y="82.5" font-size="5.3" textLength="6.3" lengthAdjust="spacingAndGlyphs">−3</text>
<text x="359.3" y="103.23" textLength="8" lengthAdjust="spacingAndGlyphs">10</text><text x="367.9" y="100.63" font-size="5.3" textLength="6.3" lengthAdjust="spacingAndGlyphs">−4</text>
<text x="359.3" y="121.37" textLength="8" lengthAdjust="spacingAndGlyphs">10</text><text x="367.9" y="118.77" font-size="5.3" textLength="6.3" lengthAdjust="spacingAndGlyphs">−5</text>
<text x="359.3" y="139.51" textLength="8" lengthAdjust="spacingAndGlyphs">10</text><text x="367.9" y="136.91" font-size="5.3" textLength="6.3" lengthAdjust="spacingAndGlyphs">−6</text>
<text x="359.3" y="157.64" textLength="8" lengthAdjust="spacingAndGlyphs">10</text><text x="367.9" y="155.04" font-size="5.3" textLength="6.3" lengthAdjust="spacingAndGlyphs">−7</text>
<text x="400.36" y="163.6" textLength="8" lengthAdjust="spacingAndGlyphs">10</text><text x="408.96" y="161" font-size="5.3" textLength="6.3" lengthAdjust="spacingAndGlyphs">−5</text>
<text x="432.25" y="163.6" textLength="8" lengthAdjust="spacingAndGlyphs">10</text><text x="440.85" y="161" font-size="5.3" textLength="6.3" lengthAdjust="spacingAndGlyphs">−3</text>
<text x="464.13" y="163.6" textLength="8" lengthAdjust="spacingAndGlyphs">10</text><text x="472.73" y="161" font-size="5.3" textLength="6.3" lengthAdjust="spacingAndGlyphs">−1</text>
<text x="497.87" y="163.6" textLength="8" lengthAdjust="spacingAndGlyphs">10</text><text x="506.47" y="161" font-size="5.3" textLength="2.6" lengthAdjust="spacingAndGlyphs">1</text>
</g>
<rect x="438.8" y="108.5" width="67.1" height="42.1" fill="#fff"/>
<path d="M438.8 108.29V150.81" style="fill:none;stroke:#000;stroke-width:0.42;stroke-opacity:0.9"/>
<path d="M438.59 108.5H506.11" style="fill:none;stroke:#000;stroke-width:0.42;stroke-opacity:0.3"/>
<path d="M505.9 108.29V150.81" style="fill:none;stroke:#000;stroke-width:0.42;stroke-opacity:0.3"/>
<path d="M438.59 150.6H506.11" style="fill:none;stroke:#000;stroke-width:0.42;stroke-opacity:0.3"/>
<path d="M438.8 150.6L438.8 150.2L438.9 150.2L439.1 150.2L439.2 150.2L439.4 150.2L439.5 150.2L439.6 150.2L439.8 150.2L439.9 150.2L440.1 150.2L440.2 150.2L440.3 150.2L440.5 150.2L440.6 150.2L440.8 150.2L440.9 150.2L441.0 150.2L441.2 150.2L441.3 150.2L441.5 150.2L441.6 150.2L441.7 150.2L441.9 150.2L442.0 150.2L442.2 150.2L442.3 150.2L442.4 150.2L442.6 150.2L442.7 150.2L442.9 150.2L443.0 150.2L443.1 150.2L443.3 150.2L443.4 150.2L443.6 150.2L443.7 150.2L443.8 150.2L444.0 150.2L444.1 150.2L444.3 150.2L444.4 150.2L444.5 150.2L444.7 150.2L444.8 150.2L445.0 150.2L445.1 150.2L445.2 150.2L445.4 150.2L445.5 150.1L445.6 150.1L445.8 150.1L445.9 150.1L446.1 150.1L446.2 150.1L446.3 150.1L446.5 150.1L446.6 150.1L446.8 150.1L446.9 150.1L447.0 150.1L447.2 150.1L447.3 150.1L447.5 150.1L447.6 150.1L447.7 150.1L447.9 150.1L448.0 150.1L448.2 150.1L448.3 150.1L448.4 150.1L448.6 150.1L448.7 150.1L448.9 150.1L449.0 150.1L449.1 150.1L449.3 150.1L449.4 150.1L449.6 150.1L449.7 150.1L449.8 150.1L450.0 150.1L450.1 150.1L450.3 150.1L450.4 150.1L450.5 150.0L450.7 150.0L450.8 150.0L451.0 150.0L451.1 150.0L451.2 150.0L451.4 150.0L451.5 150.0L451.7 150.0L451.8 150.0L451.9 150.0L452.1 150.0L452.2 150.0L452.4 150.0L452.5 150.0L452.6 150.0L452.8 150.0L452.9 150.0L453.1 150.0L453.2 150.0L453.3 150.0L453.5 150.0L453.6 150.0L453.8 150.0L453.9 149.9L454.0 149.9L454.2 149.9L454.3 149.9L454.5 149.9L454.6 149.9L454.7 149.9L454.9 149.9L455.0 149.9L455.2 149.9L455.3 149.9L455.4 149.9L455.6 149.9L455.7 149.9L455.9 149.9L456.0 149.9L456.1 149.9L456.3 149.8L456.4 149.8L456.6 149.8L456.7 149.8L456.8 149.8L457.0 149.8L457.1 149.8L457.3 149.8L457.4 149.8L457.5 149.8L457.7 149.8L457.8 149.7L458.0 149.7L458.1 149.7L458.2 149.7L458.4 149.7L458.5 149.7L458.7 149.7L458.8 149.7L458.9 149.6L459.1 149.6L459.2 149.6L459.3 149.6L459.5 149.6L459.6 149.6L459.8 149.5L459.9 149.5L460.0 149.5L460.2 149.5L460.3 149.4L460.5 149.4L460.6 149.4L460.7 149.3L460.9 149.3L461.0 149.3L461.2 149.2L461.3 149.2L461.4 149.2L461.6 149.1L461.7 149.1L461.9 149.0L462.0 149.0L462.1 148.9L462.3 148.8L462.4 148.8L462.6 148.7L462.7 148.6L462.8 148.5L463.0 148.4L463.1 148.3L463.3 148.2L463.4 148.1L463.5 148.0L463.7 147.9L463.8 147.8L464.0 147.6L464.1 147.5L464.2 147.3L464.4 147.2L464.5 147.0L464.7 146.8L464.8 146.6L464.9 146.4L465.1 146.2L465.2 145.9L465.4 145.7L465.5 145.4L465.6 145.1L465.8 144.8L465.9 144.5L466.1 144.2L466.2 143.8L466.3 143.5L466.5 143.1L466.6 142.7L466.8 142.2L466.9 141.8L467.0 141.3L467.2 140.8L467.3 140.3L467.5 139.7L467.6 139.1L467.7 138.5L467.9 137.9L468.0 137.2L468.2 136.5L468.3 135.8L468.4 135.0L468.6 134.2L468.7 133.4L468.9 132.6L469.0 131.7L469.1 130.8L469.3 129.9L469.4 129.0L469.6 128.0L469.7 127.0L469.8 126.0L470.0 124.9L470.1 123.9L470.3 122.8L470.4 121.8L470.5 120.7L470.7 119.6L470.8 118.5L471.0 117.5L471.1 116.4L471.2 115.4L471.4 114.4L471.5 113.5L471.7 112.7L471.8 111.9L471.9 111.4L472.1 111.4L472.2 111.9L472.4 112.7L472.5 113.5L472.6 114.4L472.8 115.4L472.9 116.4L473.0 117.5L473.2 118.5L473.3 119.6L473.5 120.7L473.6 121.8L473.7 122.8L473.9 123.9L474.0 125.0L474.2 126.0L474.3 127.0L474.4 128.0L474.6 129.0L474.7 129.9L474.9 130.8L475.0 131.7L475.1 132.6L475.3 133.4L475.4 134.3L475.6 135.0L475.7 135.8L475.8 136.5L476.0 137.2L476.1 137.9L476.3 138.5L476.4 139.1L476.5 139.7L476.7 140.3L476.8 140.8L477.0 141.3L477.1 141.8L477.2 142.2L477.4 142.7L477.5 143.1L477.7 143.5L477.8 143.8L477.9 144.2L478.1 144.5L478.2 144.9L478.4 145.1L478.5 145.4L478.6 145.7L478.8 145.9L478.9 146.2L479.1 146.4L479.2 146.6L479.3 146.8L479.5 147.0L479.6 147.2L479.8 147.3L479.9 147.5L480.0 147.6L480.2 147.8L480.3 147.9L480.5 148.0L480.6 148.1L480.7 148.2L480.9 148.3L481.0 148.4L481.2 148.5L481.3 148.6L481.4 148.7L481.6 148.8L481.7 148.8L481.9 148.9L482.0 149.0L482.1 149.0L482.3 149.1L482.4 149.1L482.6 149.2L482.7 149.2L482.8 149.2L483.0 149.3L483.1 149.3L483.3 149.3L483.4 149.4L483.5 149.4L483.7 149.4L483.8 149.5L484.0 149.5L484.1 149.5L484.2 149.5L484.4 149.6L484.5 149.6L484.7 149.6L484.8 149.6L484.9 149.6L485.1 149.6L485.2 149.7L485.4 149.7L485.5 149.7L485.6 149.7L485.8 149.7L485.9 149.7L486.0 149.7L486.2 149.7L486.3 149.8L486.5 149.8L486.6 149.8L486.7 149.8L486.9 149.8L487.0 149.8L487.2 149.8L487.3 149.8L487.4 149.8L487.6 149.8L487.7 149.8L487.9 149.9L488.0 149.9L488.1 149.9L488.3 149.9L488.4 149.9L488.6 149.9L488.7 149.9L488.8 149.9L489.0 149.9L489.1 149.9L489.3 149.9L489.4 149.9L489.5 149.9L489.7 149.9L489.8 149.9L490.0 149.9L490.1 149.9L490.2 150.0L490.4 150.0L490.5 150.0L490.7 150.0L490.8 150.0L490.9 150.0L491.1 150.0L491.2 150.0L491.4 150.0L491.5 150.0L491.6 150.0L491.8 150.0L491.9 150.0L492.1 150.0L492.2 150.0L492.3 150.0L492.5 150.0L492.6 150.0L492.8 150.0L492.9 150.0L493.0 150.0L493.2 150.0L493.3 150.0L493.5 150.0L493.6 150.1L493.7 150.1L493.9 150.1L494.0 150.1L494.2 150.1L494.3 150.1L494.4 150.1L494.6 150.1L494.7 150.1L494.9 150.1L495.0 150.1L495.1 150.1L495.3 150.1L495.4 150.1L495.6 150.1L495.7 150.1L495.8 150.1L496.0 150.1L496.1 150.1L496.3 150.1L496.4 150.1L496.5 150.1L496.7 150.1L496.8 150.1L497.0 150.1L497.1 150.1L497.2 150.1L497.4 150.1L497.5 150.1L497.7 150.1L497.8 150.1L497.9 150.1L498.1 150.1L498.2 150.1L498.4 150.1L498.5 150.1L498.6 150.2L498.8 150.2L498.9 150.2L499.1 150.2L499.2 150.2L499.3 150.2L499.5 150.2L499.6 150.2L499.7 150.2L499.9 150.2L500.0 150.2L500.2 150.2L500.3 150.2L500.4 150.2L500.6 150.2L500.7 150.2L500.9 150.2L501.0 150.2L501.1 150.2L501.3 150.2L501.4 150.2L501.6 150.2L501.7 150.2L501.8 150.2L502.0 150.2L502.1 150.2L502.3 150.2L502.4 150.2L502.5 150.2L502.7 150.2L502.8 150.2L503.0 150.2L503.1 150.2L503.2 150.2L503.4 150.2L503.5 150.2L503.7 150.2L503.8 150.2L503.9 150.2L504.1 150.2L504.2 150.2L504.4 150.2L504.5 150.2L504.6 150.2L504.8 150.2L504.9 150.2L505.1 150.2L505.2 150.2L505.3 150.2L505.5 150.2L505.6 150.2L505.8 150.2L505.9 150.2L505.9 150.6Z" fill="#1f77b4"/>
<text x="472.35" y="106.5" font-family='"Liberation Sans", sans-serif' font-size="7.8" text-anchor="middle" fill="#1a1a1a" textLength="59.6" lengthAdjust="spacingAndGlyphs">Error distribution</text>
<text x="451.2" y="155.6" font-family='"Liberation Serif", serif' font-size="5.2" text-anchor="middle" fill="#1a1a1a" stroke="#111" stroke-width=".12" textLength="14" lengthAdjust="spacingAndGlyphs">−0.02</text>
<text x="472" y="155.6" font-family='"Liberation Serif", serif' font-size="5.2" text-anchor="middle" fill="#1a1a1a" stroke="#111" stroke-width=".12" textLength="10.3" lengthAdjust="spacingAndGlyphs">0.00</text>
<text x="492.8" y="155.6" font-family='"Liberation Serif", serif' font-size="5.2" text-anchor="middle" fill="#1a1a1a" stroke="#111" stroke-width=".12" textLength="10.3" lengthAdjust="spacingAndGlyphs">0.02</text>
<path d="M451.2 150.6v-1.2M472 150.6v-1.2M492.8 150.6v-1.2" style="stroke:#000;stroke-width:.6"/>
<path transform="scale(.25)" d="M1601 702h5m37 0h5m12-2h5m-98 4h5m49 1h5m-4 4h5m12-5h5m16 5h5m-134 6h5m49 0h5m60 2h5m-1 1h5m-140 4h5m51 1h5m14-1h5m28 3h5m-3-5h5m9 4h5m10 2h5m-3-3h5m-134 9h5m15-1h5m7 4h5m72-1h5m14-5h5m-1 6h5m-4 0h5m-97 3h5m7 5h5m-1-2h5m18-5h5m13 1h5m0 6h5m1-7h5m-4 3h5m3 0h5m0 0h5m-3-1h5m-108 9h5m44 3h5m7-5h5m8 6h5m13-6h5m8 6h5m-115 4h5m8-3h5m4 2h5m-3-1h5m-1 4h5m17-5h5m-4 2h5m9 3h5m7-5h5m5 5h5m-1-1h5m0 2h5m-5-4h5m1-1h5m-3 5h5m-4 0h5m0-4h5m4 2h5m-154 10h5m1-4h5m34 1h5m0-3h5m2 7h5m-3-3h5m-2-1h5m10-2h5m-2 3h5m0 3h5m-1-7h5m8 3h5m5 3h5m-4-3h5m-5 2h5m-2 1h5m-3-4h5m-5 5h5m-4 0h5m-2-2h5m-1-1h5m-4-4h5m-3 1h5m-5 5h5m-3-1h5m-5 1h5m0-4h5m-2 5h5m-2-2h5m-3-5h5m-2 0h5m-4 3h5m-2 3h5m-149 3h5m13 3h5m22-1h5m5 1h5m0-2h5m7 3h5m-3 1h5m4-6h5m-3 6h5m11-5h5m-5 6h5m1-2h5m-2 2h5m-4-4h5m0 2h5m-4 1h5m-5 1h5m-1-2h5m-4-4h5m8 2h5m-4 0h5m-3 3h5m-5-3h5m-140 9h5m-1 3h5m-1 0h5m16-6h5m-3 2h5m12 2h5m0-5h5m-1 2h5m-5 1h5m-2-2h5m-4-1h5m-4 7h5m-2-1h5m-1 0h5m-5-2h5m-2-4h5m2 6h5m1-5h5m1 5h5m3 1h5m-5-1h5m-1-1h5m-3-3h5m-4 4h5m1 1h5m1-3h5m-3 2h5m-5-5h5m-4 4h5m-3-1h5m-5 3h5m-5-7h5m-2 2h5m-5-2h5m0 2h5m-5 1h5m0 4h5m-4-5h5m-147 8h5m-3 5h5m26 0h5m4 0h5m-5-7h5m-1 0h5m-2 5h5m7-1h5m-3 0h5m-4 0h5m-5 3h5m6-7h5m-2 2h5m-3-1h5m-4 3h5m-2 0h5m-3-4h5m-1 7h5m-4 0h5m-2-7h5m-4 2h5m-5 0h5m0 2h5m-4 3h5m-4 0h5m-4-2h5m-2 0h5m-3-5h5m-4 3h5m-4 1h5m-4 3h5m-4-3h5m-5-1h5m-1-1h5m-3 2h5m-5-3h5m-2-1h5m-3 3h5m-3-3h5m-2 6h5m-3-4h5m-2 2h5m-4 3h5m0 0h5m-5-3h5m-4-4h5m-4 0h5m-5 1h5m-4 6h5m-3 0h5m-4-3h5m-135 8h5m4-3h5m0 4h5m1 0h5m9-2h5m-3 3h5m1-4h5m4 2h5m-4-3h5m-1 0h5m-5 5h5m-3 1h5m-4-7h5m-2 1h5m5 0h5m-5 2h5m0-2h5m-3 6h5m-3-6h5m1 6h5m-2-2h5m-4-1h5m-2 3h5m-2-4h5m-4-2h5m-5 0h5m-5 0h5m-5 0h5m-3 4h5m-4 1h5m-2 1h5m-4-2h5m-4-4h5m-3 5h5m-2-1h5m-4 1h5m-4 0h5m-3-1h5m-3-2h5m-4 0h5m-2 4h5m-3-2h5m-5-3h5m-4 1h5m-5 3h5m-4 0h5m-4-6h5m-2 6h5m-149 2h5m23 6h5m-5-1h5m-5 1h5m-2-3h5m-4-1h5m0 2h5m-5 3h5m3-5h5m-3 1h5m1 3h5m-5-5h5m-3 2h5m-3-2h5m1 1h5m4-1h5m-5 0h5m-4 6h5m0-3h5m-5 0h5m-3-4h5m-5 7h5m-5-6h5m-3 2h5m-4 0h5m0 1h5m-3 0h5m-1-2h5m-4-1h5m-4 6h5m-5-2h5m-4-4h5m-2 0h5m-1-1h5m-5 2h5m-4 4h5m-4-3h5m-3 1h5m-4 1h5m-5-5h5m-4 1h5m-4 2h5m-4 0h5m-3 0h5m-4-1h5m-5 2h5m-5 3h5m-3-5h5m-4 4h5m-4 0h5m-1-6h5m-3 5h5m-4 2h5m-5-7h5m-4 5h5m-4-5h5m-5 5h5m-5 1h5m-3 1h5m-2-5h5m-5 5h5m-4-2h5m-4-2h5m-3-3h5m-4 2h5m-4 5h5m-5-5h5m-4 5h5m-2-5h5m-133 7h5m-4 0h5m-3 2h5m-5-1h5m-3 5h5m0-6h5m5 4h5m-1 1h5m-4-1h5m-4-4h5m-5 5h5m-4-2h5m-4-3h5m-3 4h5m3 0h5m1-3h5m-4 2h5m-3-1h5m-5-1h5m1 4h5m-5-6h5m-4 1h5m-1 5h5m-3-4h5m-4 5h5m-3-5h5m-4 5h5m-1-7h5m-4 1h5m-3 2h5m-4-1h5m-3 3h5m-4-1h5m-3 0h5m-1-1h5m-4 0h5m-4-1h5m-5 2h5m-2-4h5m-4 0h5m-5 4h5m-3-2h5m-5 3h5m-3 0h5m-3 2h5m-4-1h5m-4-2h5m-3-2h5m-5 4h5m-3-1h5m-4-5h5m0 3h5m-5 3h5m-4 0h5m-3 0h5m-4-5h5m-4 6h5m-4-6h5m-5 0h5m-5 4h5m-2-3h5m-5 4h5m-4-1h5m-4 2h5m-2-5h5m-5-2h5m-4 0h5m-5 5h5m-3-2h5m-5-1h5m-3 5h5m-4 0h5m-2-4h5m-3-1h5m-117 8h5m1-2h5m-4 2h5m-3 1h5m1-3h5m-4 2h5m-4-2h5m-2 1h5m-3 6h5m-2-6h5m-3 5h5m-5 1h5m-2-6h5m-3 5h5m-3-6h5m-5 6h5m-5-6h5m-1 6h5m-5-5h5m-4-1h5m-4 5h5m-3 2h5m-5-7h5m-4 7h5m-3-2h5m-2 1h5m-4 0h5m4-4h5m-5 2h5m-4 1h5m-3-5h5m-5 7h5m-4 0h5m-4 0h5m-4-3h5m-4-2h5m-3 3h5m-1-4h5m-2-1h5m-3 1h5m-4 2h5m-5 1h5m-3-2h5m-2 4h5m-3-6h5m-5 6h5m-4 1h5m-5-1h5m-4-4h5m-5 2h5m0 2h5m-5 0h5m-5-2h5m-4 0h5m-4-4h5m-5 6h5m-5-6h5m-5 7h5m-3-1h5m-4-2h5m-4 0h5m-5-4h5m-4 6h5m-5 0h5m-4-5h5m-5 4h5m-2-3h5m-4 4h5m-5-5h5m-4 6h5m-5 0h5m-4-7h5m-5 7h5m-5-3h5m-5 2h5m-3-4h5m-5 3h5m-5-1h5m-4-3h5m-5 6h5m-5-3h5m-5-3h5m-5-1h5m-5 4h5m-2-4h5m-148 8h5m5 6h5m0-5h5m-3 1h5m-2 4h5m-4 1h5m-5-1h5m-3-2h5m-4 2h5m-1-6h5m0 0h5m-2 7h5m0-7h5m2 5h5m-3-2h5m-3 4h5m-4-5h5m3 2h5m-5 1h5m-3-3h5m-4-2h5m-4 6h5m-5 1h5m1-7h5m-4 6h5m-2 0h5m-2-6h5m-2 2h5m0 3h5m-5-1h5m-4 0h5m1-1h5m-4-2h5m-5 6h5m-2-6h5m-5 5h5m0-3h5m-4-2h5m-3 3h5m-4 1h5m-2 2h5m-5-5h5m-4 0h5m-4-2h5m-4 1h5m-2 6h5m-5-3h5m-4-3h5m-2 3h5m-5 1h5m-4-5h5m-3 0h5m-2 3h5m-2 0h5m-5-1h5m-1-1h5m-3 0h5m-3 0h5m-4 6h5m-5-5h5m-3 0h5m-4 2h5m-4 1h5m-5 1h5m-4 1h5m-5-4h5m-4-1h5m-5-2h5m-149 11h5m2 1h5m1-2h5m0 3h5m3-4h5m4 5h5m-3 0h5m0-1h5m-4-4h5m-4 0h5m2 1h5m-5 5h5m-3-1h5m-2-6h5m-2 6h5m-5-3h5m-4 1h5m0 2h5m0-6h5m-3 4h5m-2 0h5m-5-3h5m-1 0h5m-4 3h5m-4 1h5m-4-3h5m-2 0h5m-5 3h5m-4 0h5m-5-4h5m-4-1h5m-4 7h5m-5-1h5m-5-3h5m-4 4h5m-4-5h5m-4 2h5m-2 1h5m-4-3h5m-3 4h5m-5-6h5m-4 1h5m-4 5h5m-4-6h5m-3 4h5m-3-1h5m-4 0h5m0 3h5m-5-5h5m-4 1h5m-4 3h5m-5 1h5m-4 0h5m-3-2h5m-3-3h5m-5-1h5m-4 6h5m-4-3h5m-5-3h5m-4 2h5m-3-2h5m-5 4h5m-4 1h5m-4-4h5m-4 3h5m-5-4h5m-5 5h5m-4-4h5m-3 1h5m-4 5h5m-5-3h5m-4 2h5m-4-3h5m-5-3h5m-2 3h5m-5 4h5m-3-2h5m-4-3h5m-5-1h5m-4 1h5m-4-1h5m-4 3h5m-5 3h5m-4-4h5m-4-3h5m-3 6h5m-5-6h5m-4 3h5m-147 10h5m6 2h5m-3-5h5m7 2h5m-4-3h5m5 4h5m-3-4h5m-5-1h5m-1 2h5m-3-1h5m-3-1h5m-1 2h5m-4 0h5m-4 5h5m-2-2h5m3-4h5m-1-1h5m-5 0h5m-1 1h5m-5 1h5m-2-1h5m-3 1h5m-5 3h5m-1-1h5m-4 1h5m-3 1h5m-5 1h5m-5-5h5m-2 2h5m-4 1h5m-5 1h5m-4-1h5m-1-5h5m-5 5h5m-3-2h5m-5 1h5m-3 0h5m-5-1h5m-4-1h5m-5 0h5m-5 4h5m-4 1h5m-1-1h5m-4-3h5m-2 1h5m-5-1h5m-4 0h5m-4 1h5m-3 0h5m-4 3h5m-3-2h5m-5-5h5m-4 5h5m-4-5h5m-5 0h5m-4 4h5m-5 1h5m-5 1h5m-4 0h5m-4-1h5m-5-2h5m-4-1h5m-3 5h5m-5-6h5m-4 5h5m-4-1h5m-5 0h5m-4 2h5m-4-3h5m-5 3h5m-5-3h5m-5-3h5m-3 0h5m-1 5h5m-4-5h5m-5 0h5m-4 5h5m-4-3h5m-4 0h5m-4 1h5m-5 1h5m-4 2h5m-4-1h5m-3-6h5m-4 0h5m-4 5h5m-5-5h5m-5 0h5m-145 15h5m-5-5h5m-2 4h5m5 0h5m-1-6h5m-3 3h5m-4-3h5m-2 1h5m-5 6h5m-2-3h5m1 2h5m-4-1h5m4 1h5m-3-4h5m-4-2h5m-3 1h5m-4 3h5m-4 0h5m-3-2h5m-3 5h5m-5-3h5m-4-3h5m-5 5h5m-4-3h5m-2-3h5m-1 2h5m-5 2h5m-3-4h5m-5 5h5m-4-2h5m-4 4h5m-3-6h5m-2 0h5m-4 2h5m-4 2h5m-4 2h5m-4-6h5m-5 1h5m-4-2h5m-5 5h5m-4 0h5m1-1h5m-2-3h5m-3 6h5m-2-6h5m-4-1h5m-2 0h5m-3 2h5m-4 1h5m-5-1h5m-1 1h5m-4-1h5m-5 1h5m-5 3h5m1-1h5m-2 2h5m-5-7h5m-5 5h5m-5-3h5m-4 2h5m-5 0h5m-4 0h5m-5 3h5m-3-3h5m-5-2h5m-4-2h5m-3 1h5m-5 0h5m-3 6h5m-3-3h5m-4 0h5m-5-2h5m-4-1h5m-5 6h5m-3-2h5m-4 0h5m-5 1h5m-4-6h5m-5 7h5m-5-2h5m-4-2h5m-3 2h5m-3 1h5m-4 0h5m-4 1h5m-2-7h5m-4 5h5m-152 7h5m10 1h5m-3-4h5m-3 5h5m4-6h5m-4 4h5m-4 2h5m-5-3h5m-3-2h5m-4 6h5m-5-2h5m-1 2h5m-1 0h5m-5-3h5m0 3h5m-4-6h5m-2-1h5m-4 5h5m-2-1h5m-4-4h5m-5 5h5m-5-3h5m-4 5h5m-4-4h5m-5-3h5m0 1h5m-2 5h5m-4-6h5m-4 1h5m-3 3h5m-4 1h5m-5 1h5m-3 1h5m-4-1h5m-4 1h5m-3-5h5m-4 1h5m-1 2h5m-5-4h5m-4-1h5m-4 2h5m-4-1h5m-4 1h5m-5 5h5m-4-5h5m-5 2h5m-5 2h5m-3-2h5m-5 0h5m-4 2h5m1-5h5m-5 2h5m-3 4h5m-2 0h5m-5-7h5m-4 6h5m-3 0h5m-4-1h5m-2-3h5m-3 1h5m-2 2h5m-4-5h5m-3 6h5m-3-1h5m-4-2h5m-5 1h5m-4-3h5m-4 5h5m-5-4h5m-2 1h5m-4 1h5m-5 3h5m-4-7h5m-5 5h5m-4-1h5m-3 3h5m-4-4h5m-4 0h5m-5 3h5m-5-2h5m-2-4h5m-3 7h5m-5 0h5m-5-2h5m-4 2h5m-5-3h5m-3 1h5m-5-4h5m-3 1h5m-5 4h5m-2 1h5m-5-7h5m-4 1h5m-5 0h5m-4 4h5m-5-5h5m-5 4h5m-5 2h5m-152 9h5m-1-6h5m1 6h5m-4-6h5m5 4h5m1 0h5m1-1h5m-5-1h5m-4-1h5m-1 5h5m1 0h5m-5-4h5m-1 3h5m3-6h5m-5 1h5m3 5h5m-3-2h5m-4-4h5m-5 2h5m-1-2h5m-2 7h5m-5-5h5m-4 2h5m-3-4h5m-3 0h5m-1 5h5m-4 1h5m-4-5h5m-5-1h5m2 0h5m-4 4h5m-5-4h5m-4 2h5m-5 4h5m-3-4h5m-3-2h5m-4 5h5m-2 2h5m-5-6h5m-2 1h5m-4-1h5m-5 2h5m-4-3h5m-4 1h5m-4 6h5m-4 0h5m-3-4h5m-3 3h5m-3-4h5m-3-1h5m-5 1h5m-5-1h5m-5 6h5m-3-2h5m-4-4h5m-4 5h5m-4-3h5m-4-1h5m-3 0h5m-3 5h5m-5-6h5m-4 2h5m-2-1h5m-4 1h5m-4 0h5m-3 3h5m-5-1h5m-5-4h5m-5-1h5m-4 4h5m-4 3h5m-5-5h5m-5 1h5m-4 0h5m-4 3h5m-5 1h5m-4 0h5m-5-5h5m-4 0h5m-5 1h5m-5 2h5m-4 1h5m-3 0h5m-5-5h5m-5 3h5m-5-4h5m-4 5h5m-5-2h5m-5 1h5m-4-3h5m-5 2h5m-4-3h5m-5 1h5m-146 13h5m6 1h5m-2-7h5m-5 0h5m-4 2h5m0 3h5m-3-3h5m-3 3h5m6 2h5m-4-4h5m-1-2h5m-5 1h5m-4 2h5m1-1h5m-4 2h5m-5-3h5m-5 1h5m-4-2h5m-5 4h5m-1-4h5m-4 4h5m-5-3h5m-4-2h5m-3 0h5m-3 1h5m0 2h5m-3-3h5m-5 4h5m-4 3h5m-5-4h5m-5 4h5m0-3h5m-1-3h5m7 4h5m-3-2h5m-5-3h5m-3 6h5m-2 1h5m-5-7h5m-4 7h5m-5 0h5m-5-6h5m-2 0h5m-3 0h5m-4 0h5m-4 1h5m-4 4h5m-5-2h5m-4-3h5m-2 2h5m-4 2h5m-5 2h5m-4-5h5m-5-1h5m-3 4h5m-5-4h5m-5 4h5m-3-2h5m-3 1h5m-4 0h5m-4 1h5m-5 1h5m-4-4h5m-4-1h5m-4-1h5m-5 6h5m-2 1h5m-5 0h5m-2 0h5m-5-1h5m-4 1h5m-4-3h5m-2 2h5m-5-2h5m-4-3h5m-3 1h5m-2 5h5m-4-6h5m-4 3h5m-5 2h5m-5 0h5m-4-6h5m-4 3h5m-152 5h5m-1 1h5m-3 6h5m7-6h5m-2 4h5m-1 2h5m3-4h5m-5 3h5m-3-1h5m1-1h5m-4 3h5m-3-5h5m-2-1h5m-2 2h5m-5 3h5m-3-6h5m-1 4h5m-5 3h5m-3-5h5m-2-1h5m-2 2h5m-1 1h5m-3 3h5m-4-1h5m-3 1h5m-4-3h5m-4-3h5m-5 1h5m-3 0h5m-2 2h5m-5 0h5m-3-3h5m-4 6h5m-4-3h5m-3 2h5m-1 0h5m-4-5h5m-3-1h5m-4 1h5m-4 5h5m-4-5h5m-2 5h5m-4-6h5m-5 5h5m-4-5h5m-5 0h5m-2 7h5m-5 0h5m-4 0h5m-2-5h5m-4 4h5m-2-4h5m-4-2h5m-4 3h5m-4 0h5m-5 4h5m-4-1h5m-3-5h5m-2 4h5m-4-5h5m0 0h5m-2 6h5m-3 1h5m-5-4h5m-5 3h5m-5-5h5m-4 2h5m-5-3h5m-4 1h5m-1 1h5m-4 5h5m-5-6h5m-3 2h5m-5-3h5m-4 4h5m-4 1h5m-4-1h5m-4-4h5m-154 12h5m-1 3h5m-5-1h5m7-4h5m16-1h5m-3 4h5m-5 0h5m0-1h5m9 1h5m-2-3h5m-5 1h5m-2 3h5m2-6h5m-4 2h5m0-2h5m-4 0h5m-2 2h5m-4 0h5m-3-2h5m-3 0h5m-1 5h5m-5 0h5m-1-2h5m0 3h5m-3-1h5m-5-3h5m-2 2h5m-3 0h5m1-2h5m1 5h5m-5-6h5m-2-1h5m-4 7h5m-4-4h5m-1 1h5m-3 2h5m-3 1h5m-5-4h5m-4-2h5m-4 1h5m-5 0h5m-4 1h5m-4 3h5m0 1h5m-4-5h5m-3 1h5m-5-1h5m-4 5h5m-3 0h5m-4 0h5m-4-3h5m-5-3h5m-3-1h5m-143 13h5m-1-5h5m5 0h5m4 0h5m5 3h5m0-3h5m-2 6h5m-3 0h5m-2-4h5m-5-1h5m-4 3h5m0 3h5m-5-1h5m1-3h5m0-3h5m-4 2h5m9 5h5m-4 0h5m-3-7h5m-4 7h5m-4-3h5m-4 2h5m0-1h5m-1-1h5m-4 3h5m-4-2h5m-4-1h5m-4 3h5m-2-2h5m1-2h5m-5 4h5m-3-3h5m-4 0h5m-5-2h5m-3-2h5m-4 5h5m-3-3h5m-3-1h5m-3 4h5m-1 2h5m-5-6h5m-4 3h5m-3-3h5m-4 2h5m-1 0h5m-5 3h5m-4-1h5m1-1h5m-4 3h5m-4-4h5m-126 10h5m10 1h5m7-1h5m0-3h5m-4 4h5m-3-3h5m2 0h5m0-1h5m-2-1h5m-4 2h5m-5 0h5m-1-1h5m0 1h5m-4 0h5m-4 2h5m-4-5h5m3 1h5m-4 6h5m-4-2h5m-1 0h5m-5-1h5m-5-1h5m-2 4h5m-1 0h5m-5-3h5m1-4h5m-4 5h5m-3-3h5m-5-2h5m-4 1h5m-5 2h5m-3 0h5m-3 1h5m-5-3h5m-5 2h5m-4 3h5m-4-4h5m-5-1h5m-5 6h5m-4-5h5m-4 3h5m-3-2h5m2-1h5m-3 0h5m-3-1h5m-4 6h5m-3-1h5m-4 1h5m-5 0h5m-4-4h5m-148 5h5m9 4h5m1-1h5m-2-2h5m-4 3h5m6 3h5m2-2h5m4-2h5m-3-3h5m-4 2h5m-3 3h5m-2-5h5m-4 6h5m6-3h5m-3 3h5m-4-3h5m-5 1h5m-2 2h5m-1-4h5m-1 5h5m2-4h5m9 2h5m-3-5h5m-5 7h5m-3-2h5m-2-1h5m6-4h5m3 6h5m-4-4h5m-4 0h5m-4 0h5m-2 4h5m-4-2h5m-5-3h5m-5 5h5m-5-3h5m-4 4h5m-3-7h5m-4 2h5m-4-1h5m-152 8h5m-3 2h5m12 0h5m1 3h5m0 0h5m7-3h5m3 0h5m-3 2h5m4 2h5m0-2h5m0-5h5m-4 5h5m-1-4h5m-1 5h5m-5 1h5m-4-2h5m17 2h5m-2 0h5m-5-6h5m-1 4h5m-4 2h5m-2-6h5m-2 2h5m0 2h5m-3-2h5m-4 3h5m-4-6h5m-4 4h5m-5-4h5m-5 2h5m-2 3h5m-3-3h5m0 0h5m-4 2h5m-5 0h5m-3 2h5m-5-4h5m-5 4h5m-3 0h5m-5 1h5m-5-6h5m-3 1h5m-4 4h5m-3-3h5m-149 6h5m10 2h5m7 4h5m26-1h5m-3-2h5m-2-2h5m-1 0h5m4 4h5m-4 0h5m-4-3h5m1-3h5m1 0h5m-2 4h5m-3 1h5m9 0h5m-5-5h5m1 6h5m-3 1h5m9-1h5m-4-3h5m-4 2h5m2-5h5m-4 2h5m-153 13h5m7-1h5m7-5h5m23 6h5m7-1h5m14-5h5m-4 4h5m0 0h5m12-5h5m-1 3h5m-4 3h5m-3 1h5m6-3h5m-5 0h5m2-2h5m-2-1h5m-4 1h5m0 2h5m1 0h5m-4-2h5m-133 10h5m44-1h5m-1 4h5m3-2h5m7 0h5m4-4h5m-5-1h5m-1 0h5m-1 2h5m-4 2h5m13-1h5m12-3h5m-145 12h5m68-2h5m-1 4h5m-2-6h5m11 6h5m-4-4h5m-4 0h5m2-1h5m-4 0h5m18 6h5m-3-3h5m-5 2h5m2-1h5m-128 4h5m20-1h5m49 7h5m-2-6h5m-1 1h5m6 0h5m-5 1h5m17 3h5m-4-4h5m3 5h5m-5-6h5m-52 12h5m1-3h5m10 2h5m-4 2h5m14 0h5m-4-6h5m2 7h5m-111 3h5m-36 10h5m92 0h5m-1-2h5m-5 5h5m-1-4h5m10 1h5m-63 4h5m-14 8h5m19 8h5m26 1h5m21 17h5m-148 15h5m60 8h5m21 10h5m-33 51h5m64 17h5m-1 19h5m-114 53h5m38 8h5m50 32h5" style="stroke:#d3d7d1;stroke-width:5.2;fill:none"/>
<path transform="scale(.25)" d="M1750 789h5m69 2h5m152-1h5m-267 2h5m-1 2h5m2 5h5m4-6h5m2 1h5m42-2h5m-3 2h5m6 3h5m-3 0h5m8 1h5m116 1h5m19-3h5m10 1h5m-313 3h5m5 2h5m12 2h5m29-2h5m26-1h5m-1 3h5m-1 0h5m8 1h5m-1-5h5m0 4h5m3-1h5m26 4h5m18-6h5m32 4h5m-3 2h5m-5 0h5m8-4h5m15 0h5m6 0h5m30-1h5m-5 5h5m8-3h5m-316 8h5m2-3h5m-3 2h5m3 1h5m22 2h5m1-2h5m-2-4h5m2 3h5m57-3h5m4 1h5m5 4h5m3-1h5m41 1h5m-2 2h5m-1-6h5m10 0h5m-1 5h5m3 0h5m-4-1h5m-237 5h5m12-2h5m-3 0h5m3 1h5m3 6h5m-4-4h5m-3 1h5m-2 2h5m6-6h5m-4 4h5m-1 0h5m-4-2h5m-4 5h5m22-7h5m2 5h5m6-3h5m-4 0h5m14 2h5m-1-2h5m3 4h5m16-2h5m-5 3h5m10-7h5m-1 1h5m4-1h5m-2 3h5m8 3h5m0-1h5m1 2h5m8-3h5m6 2h5m1-5h5m7 4h5m11-2h5m-262 9h5m0-2h5m-1-2h5m-5 6h5m2-5h5m-5 6h5m3-6h5m-4 3h5m-3-3h5m0 2h5m-4 4h5m4-6h5m5 4h5m4 1h5m7-6h5m-4 3h5m-3 2h5m19 2h5m-1 0h5m-4 0h5m0-4h5m1 2h5m6-1h5m6-1h5m21 2h5m4-2h5m-4 1h5m27 0h5m6-3h5m-4 3h5m-1-2h5m-4 3h5m11 0h5m-5 1h5m31-2h5m3 1h5m-4-4h5m-4 4h5m6 1h5m-309 3h5m-1 6h5m-4-5h5m4 1h5m1 2h5m-5-2h5m0 3h5m-2-1h5m-4-1h5m0 1h5m10-5h5m3 3h5m-4-3h5m1 3h5m-5 2h5m4-2h5m1-2h5m2-1h5m5 5h5m-4-5h5m-1 5h5m4 1h5m1-6h5m-1 5h5m3-1h5m0 2h5m-5-4h5m0 4h5m-5-4h5m-2 4h5m-1 1h5m1-4h5m-4 0h5m7-3h5m-1 4h5m2-1h5m2 4h5m2-6h5m5-1h5m-5 1h5m32 0h5m1 0h5m10 2h5m11 3h5m4-3h5m-2-1h5m-2-2h5m-2 5h5m-4 2h5m-4 0h5m-3 0h5m0-2h5m-310 10h5m-2-6h5m5 6h5m-1-2h5m-4-1h5m22-3h5m-3 2h5m-4 3h5m7-6h5m-3 6h5m-1-6h5m3 4h5m-5-1h5m-3 1h5m-5-1h5m7-2h5m4 2h5m-4-2h5m-5 5h5m-3 0h5m0-3h5m-4 1h5m3-4h5m1 0h5m-3 3h5m-2 0h5m2 2h5m-1 1h5m-3-6h5m-2 6h5m0-4h5m8 0h5m-5 4h5m3 1h5m-2-4h5m-3-1h5m9 0h5m1 3h5m-1-2h5m-2 0h5m-4-2h5m-1 0h5m2 4h5m-4 0h5m4-5h5m4 5h5m15 2h5m-3-2h5m2 1h5m-2-4h5m-3 3h5m-3-3h5m1 5h5m-2-5h5m-3 5h5m-4-1h5m-1-1h5m0 2h5m-3-5h5m-5 3h5m-2-1h5m-4-3h5m-4 4h5m-4 2h5m-5 0h5m-3-5h5m-4 0h5m-4-2h5m-5 3h5m3 3h5m-5 1h5m-4-5h5m2-2h5m-322 8h5m54 0h5m0 0h5m56 0h5m115 0h5" style="stroke:#7cb8f8;stroke-width:5.2;fill:none"/>
<path transform="scale(.25)" d="M1724 816h5m2 4h5m31-1h5m-5 0h5m67 4h5m41-6h5m1 1h5m2 0h5m28 5h5m-3-5h5m8 1h5m-2 2h5m-3 1h5m-259 8h5m46-1h5m25 1h5m3-2h5m2 2h5m-5-4h5m20 1h5m9 1h5m15 2h5m-3 0h5m24-6h5m3 1h5m-3-1h5m9 2h5m37 2h5m20-1h5m-283 6h5m11 6h5m5 0h5m10-7h5m5 4h5m2 0h5m-1 3h5m0-3h5m-4 1h5m5 0h5m4-5h5m6 7h5m13-3h5m0 3h5m7-2h5m1-3h5m3 4h5m10-2h5m-4 2h5m-4 0h5m-3 1h5m-2 0h5m17-5h5m-4-1h5m9 2h5m7 2h5m3-1h5m2 0h5m-2 0h5m15 3h5m-3-1h5m-4 0h5m-2 0h5m-4-4h5m-4 0h5m-292 12h5m-3 1h5m-3 0h5m-5-1h5m-3-1h5m2-2h5m-1 3h5m-5-1h5m0 2h5m-2-2h5m0 2h5m-3-1h5m-3 0h5m-1 0h5m-5 0h5m-1-2h5m0 2h5m-2 1h5m-4-2h5m-5 1h5m1-1h5m-3 2h5m-5-2h5m-3 2h5m7-1h5m-3-1h5m-4 1h5m-5-1h5m-3 1h5m-5 1h5m-5-6h5m-3 3h5m-3-3h5m-4 5h5m-4 0h5m-4-1h5m1-1h5m-3 1h5m2 2h5m-5 0h5m1-2h5m-5 1h5m0 0h5m-4 0h5m-4 0h5m-2 1h5m-5-2h5m-4 2h5m2-1h5m-5-1h5m-2 0h5m-4 2h5m6-2h5m0-4h5m-5 5h5m-4 0h5m-5 1h5m-2-3h5m-4 0h5m-4 3h5m1-1h5m-4-1h5m0 1h5m-4-2h5m-3 1h5m-5 2h5m-4-3h5m0 3h5m-5-1h5m-5-3h5m-4 4h5m-4-3h5m-5-1h5m-5 2h5m0-1h5m-5 0h5m-2 2h5m-3 0h5m-2 1h5m-4 0h5m-5 0h5m-2-3h5m-3 3h5m-4-1h5m-5 1h5m-5-1h5m-5 1h5m-4-4h5m2 1h5m-5 1h5m-3 0h5m-4 2h5m-1-3h5m-3 2h5m-5-1h5m-1 2h5m-5-4h5m3 3h5m-4-2h5m-4 2h5m-5 1h5m0-2h5m-2 2h5m-1-2h5m-3 0h5m-4 2h5m-4-2h5m-4 2h5m-5-2h5m3-1h5m-2 3h5m-4-3h5m-5 1h5m-5 0h5m1 1h5m-4-2h5m-3 0h5m-4 3h5m-3-1h5m-5 1h5m-3 0h5m-3 0h5m0-5h5m-1 2h5m-5 1h5m-2-3h5m-5 3h5m-2 2h5m-3-2h5m-3 2h5m-3-7h5m-4 6h5m1-3h5m-4 2h5m-4-1h5m-3-2h5m-4 3h5m-3 2h5m-2-1h5m-5 1h5m-2-4h5m-2 2h5m-3-1h5m-319 9h5m-4 2h5m-5-6h5m-3 5h5m-3-5h5m-4 3h5m-5 3h5m-4 0h5m-3-3h5m-3-4h5m-5 4h5m-2 2h5m-4-3h5m-5 0h5m-5 3h5m-2-2h5m-4-3h5m-5-1h5m-4 7h5m-5-5h5m-4-2h5m-4 3h5m-4 3h5m-5-2h5m-3 2h5m-4-2h5m-4 1h5m-4-2h5m-4-2h5m-4 3h5m-4-4h5m-3 4h5m-5-3h5m-5 0h5m-4 4h5m-5-3h5m-3 0h5m-4 0h5m-4 2h5m-4-2h5m-4 4h5m-4-1h5m-5-2h5m-4 2h5m-5-4h5m-5 3h5m-5 2h5m-4-5h5m-4 5h5m-4 0h5m-2-6h5m-5 6h5m-5-5h5m-4 1h5m-4 4h5m-5 0h5m-4-6h5m-4 6h5m-3 0h5m-4-4h5m-5 5h5m-5-7h5m-5 7h5m-4-4h5m-2-1h5m-4 2h5m-5 1h5m-4-5h5m-5 5h5m-5-1h5m-5 3h5m-4-5h5m-5 2h5m-5 2h5m-4-5h5m-4 1h5m-5 4h5m-3-2h5m-5 3h5m-4-6h5m-5 0h5m-5 0h5m-4 2h5m-5 0h5m-4 3h5m-4-4h5m-5 4h5m-4-2h5m-1 2h5m-5 1h5m-4-5h5m-4-2h5m-4 6h5m-4-1h5m-5-2h5m-4-2h5m-5 1h5m-4-2h5m-4 1h5m-4 5h5m-1-3h5m-4 2h5m-3-2h5m-5 2h5m-5 2h5m-5-4h5m-4 0h5m-5 4h5m-4-6h5m-2-1h5m-4 1h5m-3 1h5m-4 2h5m-4-1h5m-4 2h5m-5-1h5m-2-3h5m-5 0h5m-4 4h5m-4-1h5m-4-3h5m-5 5h5m-5-3h5m-4 2h5m-5-4h5m-4 4h5m-4 1h5m-5 0h5m-5-5h5m-2 5h5m-4-4h5m-3 0h5m-2 2h5m-5-1h5m-5-2h5m-4 6h5m-4-3h5m-4 2h5m-5-4h5m-5 4h5m-3-5h5m-3-1h5m-5 1h5m-3 1h5m-5 3h5m-2-2h5m-5-3h5m-4 1h5m-4 2h5m-5 0h5m-4-1h5m-4 5h5m-5-7h5m-4 3h5m-5-1h5m-3-1h5m-4 3h5m-3-2h5m-4 5h5m-4-6h5m-4 2h5m-5 4h5m-4-3h5m-3-3h5m-3 1h5m-4-2h5m-5 1h5m-3 3h5m-2 0h5m-1 1h5m-3-4h5m-4 1h5m-4-1h5m-5 3h5m0 2h5m-4-6h5m-5 6h5m-4-2h5m-3 3h5m-2-1h5m2 1h5m-5-3h5m-5-2h5m-4 4h5m-4-6h5m-5 5h5m-2-1h5m-5-1h5m-3-2h5m-5 2h5m-4 4h5m-5-2h5m-3 2h5m-5-6h5m-3 1h5m-4-1h5m-4 5h5m-2-4h5m-2 0h5m-5 0h5m-4 2h5m-2-3h5m-4 6h5m-4 0h5m-3-5h5m-5 0h5m-3 2h5m-5-3h5m-4-1h5m-4 7h5m-5-4h5m-5 4h5m-4-7h5m-2 7h5m-4-7h5m-5 2h5m-5 2h5m-4 1h5m-3-3h5m-3 5h5m-3-3h5m-1 2h5m-5-4h5m-3 3h5m-4-4h5m-1 2h5m-5-3h5m-5 5h5m-3 0h5m-4-2h5m-5-3h5m-5 2h5m-3 2h5m-5 1h5m-4-3h5m-4 2h5m-3 0h5m-4 1h5m-5-1h5m-4-2h5m-5 4h5m-3-5h5m-5 4h5m-4-1h5m-3 2h5m-4-1h5m-4-4h5m-4 6h5m-5-5h5m-5 5h5m-4-1h5m-5-3h5m-4-3h5m-4 1h5m-4 0h5m-3-1h5m-4 0h5m-5 1h5m-4 4h5m-5-3h5m-3-1h5m-5-1h5m-5 4h5m-4-4h5m-4 0h5m-5 0h5m-3 0h5m-4 6h5m-4-1h5m-3-2h5m-4 1h5m-4 3h5m-4-7h5m-5 0h5m-4 2h5m-4 3h5m-5-4h5m-4 1h5m-5 5h5m-4-3h5m-5-2h5m-3 4h5m-5-2h5m-4 0h5m-5-1h5m-5-3h5m-4 6h5m-4-5h5m-5 1h5m-3 2h5m-2 2h5m-3-1h5m-5-2h5m-4 0h5m-4 4h5m-4-6h5m-5 3h5m-4 0h5m-5-1h5m-3-2h5m-5 1h5m-5-1h5m-4 4h5m-5 1h5m-4 0h5m-3 0h5m-5-3h5m-5 2h5m-4-1h5m-2-3h5m-4 2h5m-5 0h5m-2 1h5m-5-2h5m1-2h5m-321 15h5m-4-1h5m-5-1h5m-3-2h5m-2-2h5m-4 5h5m-5-2h5m-4-2h5m-5 2h5m-5-3h5m-5 6h5m-3-6h5m-5 5h5m-1-2h5m-2-1h5m-3-1h5m-5-1h5m-5 5h5m-4 0h5m-2-3h5m-4-3h5m-3 1h5m-5 1h5m-4-1h5m-5 0h5m-4 1h5m-5 5h5m-4 0h5m-3-1h5m-3-1h5m-5-1h5m-4-1h5m-5-2h5m-4 5h5m-3 1h5m-4-1h5m-5-5h5m-4 3h5m-4 2h5m-4-2h5m-4-4h5m-4 7h5m-5-7h5m-4 7h5m-5-7h5m-5 2h5m-3-1h5m-4 5h5m-4-5h5m-2 3h5m-5-3h5m-4 0h5m-4 6h5m-2 0h5m-5-5h5m-5 5h5m-4 0h5m-5-5h5m-4-2h5m-5 4h5m-1 1h5m-5 1h5m-4-2h5m-4-2h5m-5 3h5m-3-2h5m-5-3h5m-4 2h5m-3 3h5m-4 2h5m-5-3h5m-4 3h5m-1 0h5m-3-3h5m-4 2h5m-5-3h5m-4-1h5m-1 2h5m-5 1h5m-2-5h5m3 4h5m-5-4h5m-4 2h5m-3-2h5m-5 5h5m-4-2h5m-4 4h5m-1-3h5m-4-1h5m-4 1h5m-4-2h5m-4 1h5m-2-1h5m-4 5h5m-3-4h5m-5 3h5m-4-5h5m-4 5h5m-5-2h5m-2 2h5m-5-2h5m-4-1h5m-5-2h5m-5 5h5m-5-1h5m-4-3h5m-4 4h5m-2-4h5m-4 0h5m-4 1h5m-4-1h5m-4 4h5m-4-4h5m-3 1h5m-5 1h5m-3 3h5m-3-7h5m-4 7h5m-5 0h5m-5-1h5m-3-2h5m-5-4h5m-1 2h5m-4 4h5m-4 1h5m-4-1h5m-5-4h5m-1 4h5m0-4h5m-5 1h5m-4-3h5m-3 1h5m-5 1h5m-3 2h5m-3-2h5m-5-2h5m-5 0h5m-5 0h5m-4 7h5m-5-4h5m-2-3h5m-3 7h5m-4-6h5m-4-1h5m-3 2h5m-4-2h5m-5 7h5m-4-3h5m-4 1h5m-4-1h5m-5 3h5m-5-3h5m-4 1h5m-4-3h5m-5 4h5m-1-6h5m-4 3h5m-3 0h5m-5-1h5m-2 4h5m-2-1h5m-5-5h5m-3 3h5m-3 4h5m-4-4h5m-3 0h5m-4-1h5m-4-1h5m-2 1h5m-5-1h5m-2 1h5m-5 5h5m-5-5h5m-4 3h5m-4-4h5m-4 6h5m-2-3h5m-5-3h5m-5 5h5m-5 0h5m-4-5h5m-5 1h5m-5 2h5m-3 0h5m-5 1h5m-5-5h5m-3 2h5m-5 1h5m-4 2h5m-3-2h5m-3 1h5m-4-3h5m-5-1h5m-5 5h5m-4 0h5m-5 0h5m-4 0h5m-5-2h5m-2 1h5m-4-4h5m-4 3h5m-4 3h5m-4-2h5m-4-1h5m-5-2h5m-4 6h5m-3-3h5m-4 3h5m-5-3h5m-5 0h5m-4 2h5m-5-1h5m-4-4h5m-4 2h5m-4 0h5m-4 0h5m-2-1h5m-5 1h5m-3-1h5m-2-1h5m-3 3h5m-5-3h5m-5 0h5m-4 2h5m-4 3h5m-1-4h5m-4 5h5m-4-7h5m-3 1h5m-5 4h5m-4-2h5m-3 4h5m-4-5h5m-5 0h5m-1 5h5m-4-5h5m-4 1h5m-4 4h5m-4-3h5m-2 3h5m-2-7h5m-2 3h5m-4-2h5m-1 4h5m-4-2h5m-3-2h5m-5 1h5m-3 1h5m-3-3h5m-5 5h5m-5-2h5m-5 4h5m-5-6h5m-5 0h5m-4 2h5m-5-3h5m-2 5h5m-4 0h5m-4-1h5m-3 2h5m-3-4h5m-5 3h5m-4 0h5m2-1h5m-5-1h5m-319 8h5m-1-1h5m-2 3h5m-5-2h5m-3 3h5m-3-5h5m-4 5h5m-5-6h5m-3 1h5m-5 3h5m-5-3h5m-1 2h5m-5 0h5m-4-1h5m-5 0h5m4 0h5m-1-1h5m-4 0h5m-4-1h5m1 3h5m-5 3h5m-4-6h5m-4 6h5m4-1h5m-1-1h5m-5 3h5m-4-3h5m-4-3h5m-5 3h5m-5 0h5m-3 3h5m-4-1h5m-5 0h5m-3-3h5m-3 2h5m-5 1h5m-3-6h5m-4 1h5m-2 4h5m-4 0h5m-5-3h5m-5 0h5m-4 4h5m-5-4h5m-5-2h5m-5 5h5m-1-1h5m-4-2h5m-5-1h5m-3 5h5m-5-1h5m-5-2h5m-4 0h5m1-2h5m-3 4h5m-5 1h5m0-4h5m-4-1h5m-5 0h5m-5 5h5m-4-6h5m-5 3h5m-5 2h5m-4 1h5m-5 0h5m2-1h5m-5-1h5m-3-4h5m-5 3h5m0 0h5m-4 4h5m-3-4h5m-5-3h5m-4 1h5m-4-1h5m-4 5h5m-3-3h5m-3 3h5m-3 0h5m-3-4h5m-3 5h5m-4-1h5m-3-4h5m-4 4h5m-2 1h5m-5-4h5m-3 2h5m-5 0h5m-5 2h5m-3-6h5m-5 7h5m-4-3h5m-4 1h5m-2-3h5m-3 4h5m-5 1h5m-5-6h5m-5 0h5m-3 5h5m-2-6h5m-2 5h5m-4-5h5m-4 5h5m-5-2h5m-3 0h5m-5 3h5m-4 0h5m-4-6h5m-3 1h5m-5 6h5m-2-1h5m-4-2h5m-3-4h5m-4 3h5m-2-2h5m-3 0h5m-4 3h5m-2-2h5m-5 0h5m-4 5h5m-4-2h5m-5 1h5m-3-4h5m-5 0h5m-1-2h5m-3 2h5m-4-2h5m-4 4h5m-5 2h5m-4-5h5m-5 4h5m1-4h5m-5 0h5m-4 1h5m-4 4h5m-3-6h5m-3 0h5m-1 4h5m-5 0h5m-3-4h5m-4 3h5m-2 0h5m-3-2h5m-4 2h5m-4 4h5m-3-1h5m-5-3h5m-5-3h5m-4 3h5m-3-3h5m-2 1h5m-5 2h5m-4 3h5m-4-2h5m-4-1h5m-4 4h5m-5-6h5m-5 3h5m-4-4h5m-3 0h5m-5 7h5m0-6h5m-2 4h5m-3-3h5m-4 0h5m-5 3h5m-2-1h5m-3 1h5m-5-1h5m-4 2h5m-5 0h5m-5-6h5m-4 3h5m-4 1h5m-5 1h5m-5-5h5m-4 1h5m-4 0h5m-3 3h5m-5 3h5m-1 0h5m-2-3h5m1 3h5m-5-6h5m-4 5h5m-5 1h5m-5-6h5m-1 6h5m2-5h5m-5 2h5m-5 3h5m-4-6h5m-2 1h5m-4-2h5m-4 2h5m-3 0h5m-5 1h5m-4 3h5m-4-3h5m-5 2h5m-5-3h5m-4 3h5m-5-3h5m-5 2h5m-1-2h5m-5 5h5m-4-2h5m-5-5h5m-3 1h5m-4 5h5m-5 0h5m-4-1h5m-4-2h5m-5 3h5m-5-6h5m-5 4h5m-4-3h5m-5 6h5m-2 0h5m-4-3h5m-5 3h5m-4-2h5m-4 2h5m-4-1h5m-5-6h5m-5 3h5m-4 3h5m-4-1h5m1-5h5m-315 11h5m-5 2h5m-1 2h5m-4-5h5m-5 2h5m-5-2h5m-4 0h5m-4 4h5m-5 0h5m-5-5h5m-4-1h5m-4 7h5m-3-5h5m-4-2h5m-3 2h5m-3 1h5m-1 0h5m-3 0h5m-5 4h5m-3-1h5m-5-5h5m-4 0h5m-5 6h5m-5-4h5m-4 1h5m-5 2h5m-4-4h5m-4 5h5m-3-7h5m-3 6h5m-2-5h5m-2 2h5m-4 3h5m-3-5h5m-5 0h5m-1 3h5m-4 3h5m-5-7h5m-5 7h5m-4-7h5m-5 7h5m-5-2h5m-4 1h5m-1-5h5m-3 4h5m-4-2h5m-5 0h5m-4-1h5m-4 1h5m-3-3h5m-5 0h5m1 3h5m-2-1h5m-4 5h5m-5-3h5m-4 1h5m-5-3h5m-1 1h5m-5-1h5m-5-2h5m-4 2h5m-5 4h5m-5-4h5m-5-2h5m-5 0h5m-3 7h5m-2-5h5m-5 1h5m-4 4h5m-3-5h5m1 1h5m-3-2h5m-4 4h5m-4-2h5m-5 4h5m-1-6h5m-1 5h5m-5-2h5m-2 0h5m-3 0h5m-5 2h5m-5-3h5m-4 2h5m0-3h5m-2 5h5m-1 0h5m-5-7h5m-4 6h5m-4 0h5m-3-3h5m-3 0h5m-5 4h5m-3-2h5m-4 2h5m-4-2h5m-2 2h5m-3-7h5m-5 7h5m-3-1h5m-4-3h5m-3 3h5m-4 1h5m-5-1h5m-2-6h5m-4 7h5m-4-4h5m-4-3h5m0 6h5m-5 0h5m-4 0h5m-2-1h5m-5 0h5m-4-4h5m-4 0h5m-5 0h5m-3 6h5m-5-7h5m-3 3h5m-4-2h5m-5-1h5m-4 7h5m-3-7h5m-4 1h5m-4 5h5m-4-4h5m-5 3h5m-4 0h5m-2-2h5m-4-3h5m-5 3h5m-4 4h5m-4-7h5m-5 7h5m-3-3h5m-2 3h5m-4-3h5m-5 2h5m-4-2h5m-4 2h5m-3-4h5m-5 4h5m-4-2h5m-5-3h5m-4 6h5m-4-1h5m-3 0h5m-4-1h5m-4 1h5m-4-4h5m-5 5h5m-4-6h5m-5 1h5m-5 0h5m-4 3h5m-3-1h5m-3 2h5m-4 0h5m-3 0h5m-3 1h5m-4-4h5m-4-3h5m-2 4h5m-5 2h5m-3-6h5m-4 3h5m-5 1h5m-2 0h5m-5 1h5m-3 0h5m-4 2h5m-5-6h5m-5 4h5m3-4h5m-5 4h5m-3-3h5m-5 2h5m-4-1h5m-5 4h5m-5 0h5m-5-6h5m-4-1h5m1 0h5m-5 5h5m-4-3h5m-5 2h5m-4 3h5m-4-4h5m-4 0h5m-4 2h5m-4 1h5m-3-4h5m-5-1h5m-4 0h5m-4 6h5m2-7h5m-4 0h5m-5 4h5m0 3h5m-5-7h5m-4 4h5m-5 2h5m-4-1h5m-5-5h5m-4 3h5m-2 1h5m-4 1h5m-5-3h5m-4 4h5m-5-5h5m-3 5h5m-3-3h5m-4-1h5m-4-2h5m-4 1h5m-5 0h5m-5-1h5m-4 2h5m-4 1h5m-5-2h5m-4 6h5m-4-2h5m-2 0h5m-4 0h5m-5 0h5m-5 1h5m-4 0h5m-5-2h5m-5-4h5m-4 6h5m-4-3h5m-5-1h5m-4 0h5m-1-1h5m-5-1h5m-5 4h5m-4-1h5m-5-3h5m-5 4h5m-4-3h5m-4 3h5m-3-4h5m-5 6h5m-4-1h5m-4 0h5m-3-4h5m-3 0h5m-4 6h5m-4-6h5m-5 2h5m-4-1h5m-4-1h5m-5-1h5m-4 1h5m-3 2h5m-317 5h5m-4 0h5m-4 3h5m-4-2h5m-3 0h5m-5 3h5m-4-1h5m-5-1h5m-1-2h5m-2 2h5m-5-1h5m-3 0h5m-4 2h5m-2-3h5m-4 3h5m-5-1h5m-4 1h5m-4-3h5m-5 4h5m-5-4h5m1 3h5m-4 1h5m-4 0h5m-3-2h5m-2-1h5m-5 0h5m-1 0h5m-5-1h5m0 3h5m-4-3h5m-4 3h5m-5-2h5m6-1h5m-3 0h5m-4 4h5m-4-1h5m-3-3h5m-5 2h5m-2 1h5m0-3h5m1 0h5m-4 0h5m-4 1h5m-1 2h5m-3 0h5m-3-1h5m-3 0h5m0 1h5m-5-2h5m-3 3h5m4-4h5m-5 3h5m-4-2h5m-2 1h5m-4-1h5m-4 0h5m-5 0h5m1-1h5m-5 0h5m-5 1h5m-3 1h5m-3-2h5m-4 2h5m-4 1h5m-5-1h5m2-2h5m-4 2h5m4 1h5m6-3h5m-2 3h5m-5-2h5m-4 0h5m0 0h5m-4 2h5m1-1h5m-4 0h5m-3 0h5m2-2h5m9 0h5m-1 2h5m-2-2h5m-4 4h5m-4-4h5m18 2h5m-4-1h5m-3 0h5m-4-1h5m-3 4h5m-3 0h5m-4-3h5m2 3h5m-5-4h5m-4 4h5m-2-2h5m1 0h5m-4-1h5m-3 2h5m-5 0h5m-1-2h5m-3-1h5m-5 3h5m-3-3h5m-1 2h5m-5-2h5m-4 3h5m-5-1h5m-4 1h5m-4-2h5m-4 0h5m-2 0h5m-2 1h5m-5-2h5m-5 2h5m-3-2h5m-3 2h5m0 0h5m-3 1h5m-3-2h5m-4 0h5m-4 2h5m-2-3h5m-1 1h5m-4 2h5m-5-2h5m2 2h5m-3-2h5m-5 0h5m2 1h5m-4 0h5m-4 2h5" style="stroke:#0c46e0;stroke-width:5.2;fill:none"/>
<linearGradient id="g2" x1="0" y1="0" x2="0" y2="1"><stop offset="0" stop-color="#0a1470" stop-opacity="1"/><stop offset="0.38" stop-color="#0a1470" stop-opacity="0.95"/><stop offset="1" stop-color="#0a1470" stop-opacity="0"/></linearGradient>
<rect x="418.7" y="221.3" width="73.3" height="13" fill="url(#g2)"/>
<path transform="scale(.25)" d="M1674 891h5m-5 1h5m-5 0h5m-3-4h5m-4 7h5m-3-1h5m-5-2h5m-5-2h5m-5 4h5m-5-5h5m-4 0h5m-5-1h5m-4 5h5m-5-3h5m-4 4h5m-3-2h5m-5 3h5m-5-5h5m-5 3h5m-4 1h5m-5-1h5m-4-4h5m-4 6h5m-5-3h5m-5-4h5m-1 2h5m-5 4h5m-5-1h5m-1 2h5m-5-3h5m-4 2h5m-4-1h5m-5-5h5m-4 3h5m-4-1h5m-4-2h5m-5 1h5m-5 0h5m-3 5h5m-3-1h5m-5-3h5m-1 5h5m-4-6h5m-4 6h5m-3-1h5m-5-1h5m-4 0h5m-5 0h5m-4 2h5m-5 0h5m-4-2h5m-5 0h5m-4 2h5m-4-7h5m-5 5h5m-4-5h5m-3 4h5m-4 0h5m-4 2h5m-5-3h5m-5 0h5m-4-3h5m-5 2h5m-4-2h5m-5 6h5m-5-4h5m-4-1h5m-3 3h5m-5 2h5m-5-6h5m-4 2h5m-5 3h5m-4-3h5m-5-1h5m-4 3h5m-4-1h5m-3-1h5m-5 2h5m0 3h5m-4-1h5m-5 0h5m-5-2h5m-5-3h5m-4-1h5m-4 2h5m-5 1h5m-4 3h5m-3 1h5m-5-4h5m-5-3h5m-4 1h5m-5 1h5m-4 2h5m-4-3h5m-4 4h5m-5-5h5m-4 3h5m-3 4h5m-4-4h5m-4 3h5m-4 0h5m-4-5h5m-3 5h5m-5-2h5m-2 0h5m-5 1h5m-3-2h5m-4 3h5m-4 0h5m-5 1h5m-5 0h5m-4-5h5m-5 4h5m-4-3h5m-4 3h5m-4-1h5m-4 0h5m-3-3h5m-3-2h5m-5 4h5m-4 1h5m-5 0h5m-4 0h5m-5-4h5m-4 4h5m-5 0h5m-3-2h5m-5 3h5m-4 0h5m-3-1h5m-5-3h5m-5 4h5m-5-5h5m-4 4h5m-5-1h5m-5-1h5m-4-1h5m-3 2h5m-5-2h5m-4 1h5m-5 1h5m-4-2h5m-5 3h5m-4-1h5m-3-1h5m-5-3h5m-5 7h5m-4-2h5m-4-1h5m-4-2h5m-4 3h5m-5 2h5m-4-5h5m-5 5h5m-4-6h5m-5 1h5m-4 1h5m-5 2h5m-5-5h5m-4 2h5m-5 4h5m-4-3h5m-5 1h5m-4-4h5m-3 0h5m-5 4h5m-5 1h5m-3-1h5m-3 0h5m-5 0h5m-4 3h5m-5-6h5m-5 0h5m-3 4h5m-4 2h5m-4-1h5m-5-1h5m-4-5h5m-5 2h5m-4 3h5m-5-5h5m-3 7h5m-3 0h5m-5-2h5m-5-1h5m-4 2h5m-3-5h5m-4 0h5m-4 1h5m-4-1h5m-5 6h5m-4-5h5m-4 4h5m-4-6h5m-5 3h5m-4-1h5m-5-2h5m-4 3h5m-5 0h5m-5 0h5m-4-3h5m-5 4h5m-5-2h5m-4 4h5m-4-4h5m-4-1h5m-5 4h5m-4 1h5m-3-5h5m-5 5h5m-2-5h5m-4-1h5m-5 1h5m-4 0h5m-5-1h5m-3 5h5m-3 0h5m-5 2h5m-4-7h5m-5 2h5m-4-1h5m-4 2h5m-4 3h5m-3-1h5m-3-5h5m-4 5h5m-1-5h5m-3 3h5m-5-3h5m-4 0h5m-4 4h5m-4 1h5m-4-2h5m-5 0h5m-4-3h5m-4 3h5m-4-1h5m-5 0h5m-5 4h5m-5-2h5m-4 0h5m-5-2h5m-5 3h5m-4 2h5m-4-2h5m-4-4h5m-5 2h5m-4 3h5m-5-1h5m-5-4h5m-4 1h5m-5-2h5m-4 7h5m-4-3h5m-5 1h5m-3-5h5m-5 3h5m-3-3h5m-3 2h5m-5-1h5m-4 5h5m-5 1h5m-4-1h5m-3-5h5m-5 1h5m-4 2h5m-4-1h5m-5 2h5m-4 1h5m-5-5h5m-3-1h5m-5 0h5m-5 0h5m-4 7h5m-5-5h5m-4 1h5m-5 2h5m-5-1h5m-3-1h5m-4 1h5m-5-3h5m-2 4h5m-5-5h5m-4 7h5m-5-3h5m-4 1h5m-2 0h5m-5-3h5m-3 4h5m-4 1h5m-4-6h5m-1 1h5m-4 2h5m-2-3h5m-4 1h5m-4-1h5m-3 6h5m-4-2h5m-5-4h5m-5-1h5m-5 6h5m-4-4h5m-5 2h5m-5-2h5m-5 2h5m-5-2h5m-4 3h5m-4-3h5m-4 1h5m-5-1h5m-4 2h5m-5-3h5m-3 2h5m-5 4h5m-4-1h5m-4 1h5m-4-5h5m-4-1h5m-4 4h5m-4-4h5m-4 5h5m-4-6h5m-4 1h5m-5 4h5m-5-1h5m-4 0h5m-3 3h5m-3-4h5m-5-2h5m-5 4h5m-3 2h5m-5-3h5m-4-2h5m-5 0h5m-4 0h5m-3 2h5m-5 2h5m-4-6h5m-5 1h5m-3 1h5m-3 1h5m-5 0h5m-3 4h5m-5-2h5m-5-5h5m-4 4h5m-3 1h5m-3-3h5m-5-2h5m-4 0h5m-4 3h5m-4 1h5m-4-1h5m-5 4h5m-5-3h5m-4 0h5m-5-4h5m-4 4h5m-4-2h5m-3 4h5m-5-2h5m-4 3h5m-5-6h5m-5 2h5m-5-3h5m-4 6h5m-4-6h5m-5 0h5m-5 0h5m-4 6h5m-5 0h5m-5-4h5m-4 1h5m-5 1h5m-4 3h5m-5-1h5m-5-3h5m-5 3h5m-4-3h5m-5 1h5m-5 0h5m-4 2h5m-5-6h5m-5 7h5m-5-4h5m-5 4h5m-4-5h5m-4 0h5m-4 0h5m-4 3h5m-5-3h5m-5-1h5m-3 5h5m-5 1h5m-4-6h5m-5 5h5m-5-4h5m-4-2h5m-4 1h5m-4 1h5m-5 5h5m-3-2h5m-318 7h5m-5-1h5m-4 0h5m-5-3h5m-5 3h5m-3 1h5m-5-4h5m-4 5h5m-5-3h5m-4 0h5m-5 2h5m-4 3h5m-5-3h5m-4-2h5m-5-1h5m-4 6h5m-5-7h5m-5 2h5m-4 1h5m-5 2h5m-4 1h5m-5 0h5m-2-5h5m-5 3h5m-2 1h5m-4-1h5m-5-3h5m-5 0h5m-4 6h5m-4-5h5m-4-2h5m-5 2h5m-4 3h5m-5-1h5m-5 3h5m-4-3h5m-3-4h5m-4 0h5m-5 6h5m-4-2h5m-4 3h5m-5 0h5m-4-3h5m-4 3h5m-5-6h5m-3 6h5m-3-3h5m-4-4h5m-5 3h5m-3 3h5m-5-2h5m-4-2h5m-5 1h5m-5-3h5m-4 4h5m-3-3h5m-3 1h5m-5 3h5m-5 0h5m-4-5h5m-3 6h5m-5-4h5m-4-1h5m-4 4h5m-5-2h5m-4 2h5m-5 0h5m-4-4h5m-3 6h5m-5-3h5m-4-1h5m-4 0h5m-3 1h5m-4-4h5m-4 5h5m-5 2h5m-5-4h5m-3-3h5m-4 3h5m-5-1h5m-4 4h5m-5-4h5m-4 5h5m-3 0h5m-4-6h5m-3 4h5m-5 1h5m-5 1h5m-3-2h5m-4-3h5m-5 1h5m-5 3h5m-4-5h5m-5 0h5m-4 4h5m-4-5h5m-5 3h5m-5-3h5m-4 1h5m-4 3h5m-5 1h5m-4-5h5m-4 3h5m-2 1h5m-4-4h5m-4 7h5m-4-5h5m-5 0h5m-4 0h5m-4-2h5m-1 3h5m-4 1h5m-4 2h5m-4-4h5m-5 4h5m-3-1h5m-3-4h5m-5 2h5m-5 0h5m-4 1h5m-5-1h5m-4-1h5m-5 3h5m-5-3h5m-1-1h5m-5 1h5m-4-2h5m-3 2h5m-4 4h5m1 0h5m-5-1h5m-3-5h5m-5 3h5m-4 3h5m-4 0h5m-5 0h5m-4-6h5m-5 2h5m-5 4h5m-5-1h5m-2-2h5m-5 3h5m-2 0h5m-5-6h5m-4 2h5m-4 4h5m-5 1h5m-5-4h5m-4 4h5m-4-7h5m-4 3h5m-5 0h5m-4-3h5m-3 6h5m-4-3h5m-1-1h5m-4 0h5m-4-2h5m-5 4h5m-2-2h5m-5 2h5m-5-1h5m-3 4h5m-5 0h5m-3-6h5m-1 2h5m-4-1h5m-4 4h5m-5 0h5m-5 1h5m-5-2h5m-4 2h5m-4-7h5m-4 0h5m-5 5h5m-1-3h5m-3 4h5m-3-6h5m-3 3h5m-5 3h5m-5-6h5m-4 3h5m-5 3h5m-3 0h5m-5-6h5m-5 3h5m-4 2h5m-5-5h5m-5 0h5m-2 4h5m-5 1h5m-4 0h5m-3 0h5m-5 1h5m-5-6h5m-3 6h5m-4-2h5m-4-1h5m-4 4h5m-5-2h5m-3 0h5m-5-5h5m-4 2h5m-3-2h5m-5 6h5m-4 0h5m-3-5h5m-3 4h5m-4 1h5m-4-3h5m-4 0h5m-4 3h5m-4-5h5m-4 2h5m-5 0h5m-4 4h5m-4-7h5m-4 6h5m-3-4h5m-1 5h5m-3-1h5m-5-2h5m-4-4h5m-3 6h5m-3 1h5m-4-7h5m-4 5h5m-3 2h5m-5-6h5m-4 5h5m-5 1h5m-4-2h5m-4 1h5m-4-3h5m-3 3h5m-4-4h5m-5 3h5m-4-1h5m-5-1h5m-4-1h5m-5 4h5m-4-4h5m-5 4h5m-5-6h5m-4 3h5m-4-1h5m-5-1h5m-4 4h5m-5-4h5m-4 1h5m-5 2h5m-5 0h5m-5 2h5m-3-3h5m-4 1h5m-4 0h5m-5 2h5m-4-3h5m-4-1h5m-5 3h5m-5-5h5m-4 1h5m-3-1h5m-5 6h5m-4 0h5m-5 0h5m-4-6h5m-3 6h5m-5-6h5m-5 6h5m-4-5h5m-2-1h5m-5 4h5m-5 1h5m-4-1h5m-2 0h5m-4 2h5m-5-4h5m-5 0h5m-4 4h5m-5-6h5m-3 1h5m-4 5h5m-4-6h5m-5 2h5m-5 3h5m-3 2h5m-5-2h5m-4-3h5m-5 4h5m-4-2h5m-5 0h5m-4-3h5m-4 0h5m-5 2h5m-5 0h5m-4 2h5m-5-4h5m-4 3h5m-4-1h5m-4 4h5m-4-5h5m-3-2h5m-4 3h5m-3 3h5m-5 0h5m-4-6h5m-5 3h5m-4 4h5m-5-2h5m-3-2h5m-5 2h5m-4 0h5m-5 2h5m-4 0h5m-5-7h5m-5 2h5m-5 0h5m-5 1h5m-3 3h5m-5 0h5m-4-3h5m-5 2h5m-4 1h5m-4-2h5m-5-2h5m-3 1h5m-3 3h5m-4-2h5m-5 1h5m-4-3h5m-5-2h5m-5 4h5m-4 2h5m-5 1h5m-4 0h5m-5-4h5m-5-1h5m-3 4h5m-4-2h5m-5 1h5m-4 0h5m-5-4h5m-4 5h5m-4-4h5m-5-1h5m-5-1h5m-4 1h5m-5 0h5m-4 4h5m-5 0h5m-4-2h5m-5 0h5m-4 1h5m-4-2h5m-4-1h5m-4 0h5m-4 4h5m-3 0h5m-5 1h5m-3-2h5m-5-4h5m-5 5h5m-4-5h5m-4 7h5m-317 2h5m-4 2h5m-4 3h5m-4 1h5m-3-2h5m-4 1h5m-4 1h5m-4-3h5m-4-4h5m-3 5h5m-4-3h5m-5 2h5m-4-4h5m-4 0h5m-4 5h5m-4 0h5m-4 0h5m-4-2h5m-5 3h5m-4-6h5m-3 3h5m-1-3h5m-5 2h5m-4-2h5m-5 6h5m-5 0h5m-4-4h5m-4 5h5m-4-4h5m-3-3h5m-5 7h5m-5-6h5m-3 5h5m-5-2h5m-5 3h5m-3-3h5m-4 1h5m-5 1h5m-5-4h5m-4-1h5m-4 4h5m-5-2h5m-5-2h5m-5 1h5m-5 4h5m-4-6h5m-3 5h5m-2-1h5m-4 2h5m-4 0h5m-3-3h5m-2 0h5m-5 2h5m-4 0h5m-5-2h5m-4 4h5m-4-5h5m-5-1h5m-4 1h5m-4 4h5m-4-5h5m-4 0h5m-5-1h5m-3 2h5m-4 5h5m-5-1h5m-5-5h5m-4 4h5m-5-4h5m-5 4h5m-4-4h5m-5 5h5m-4 0h5m-4 1h5m-4-6h5m-4 6h5m-3-5h5m-5 2h5m-4-4h5m-4 4h5m-4 3h5m-5-3h5m-4 0h5m-3 0h5m-4-3h5m-3 0h5m-4 5h5m-3-5h5m-4-1h5m-5 1h5m-5 1h5m-5 2h5m-4 3h5m-5-3h5m-4-3h5m-5 1h5m-5 3h5m-5-4h5m-4 0h5m-5 5h5m-5 0h5m-5-1h5m-1-1h5m-4 3h5m-4-2h5m-5-5h5m-5 6h5m-3-5h5m-3 1h5m-3-1h5m-5 4h5m-5 1h5m-4 0h5m-5-3h5m-3 2h5m-5-5h5m-5 2h5m-4-1h5m-4 6h5m-5-4h5m-5 0h5m-5-2h5m-4 4h5m-5-2h5m-5-2h5m-5 6h5m-5-5h5m-4-1h5m-5 3h5m-5 0h5m-4 0h5m-4 0h5m-4-1h5m-4 2h5m-4-1h5m2-4h5m-3 5h5m-4 2h5m-5-7h5m-5 5h5m-3-4h5m-5 0h5m-4 3h5m-4 1h5m-5 2h5m-5-4h5m-4-1h5m-5 1h5m-4 2h5m-5-1h5m-3 1h5m-4-2h5m-4 0h5m-3 4h5m-5-3h5m-4 2h5m-3-6h5m-5 1h5m-3 3h5m-4 2h5m-5 1h5m-3-3h5m-4 0h5m-5 0h5m-4 3h5m-4 0h5m-5-5h5m-2-2h5m-4 2h5m-5 5h5m-3-7h5m-4 3h5m-1 4h5m-4 0h5m-4-4h5m-5-1h5m-5 2h5m-5-4h5m-4 7h5m-5-1h5m-5-6h5m-5 5h5m-4-2h5m-5-2h5m-4 0h5m-4 3h5m-2-3h5m-5 0h5m-1 4h5m-4-5h5m-3 6h5m-3 1h5m-5-3h5m-5 1h5m-5-1h5m-4 0h5m-5-3h5m-3 3h5m-4 3h5m-4 0h5m-5-5h5m-2 3h5m-5 1h5m-5-6h5m-3 3h5m-5 3h5m-3-5h5m-3 5h5m-5-1h5m-4-5h5m-4 1h5m-3 3h5m-4-1h5m-3 0h5m-5 0h5m-2 3h5m-5-4h5m2-2h5m-5 5h5m-2-1h5m-5-1h5m-5 4h5m-5-4h5m-2 2h5m-3 2h5m-5-1h5m-4-6h5m-4 1h5m-5 1h5m-4 4h5m-4-2h5m-3 1h5m-3 0h5m-4-1h5m-5-4h5m-4 5h5m-5-4h5m-5 0h5m-4 0h5m-4 2h5m-5-3h5m-5 5h5m-3 0h5m-5-5h5m-4 4h5m-4-4h5m-2 4h5m-5 2h5m-5-5h5m-5 2h5m-4 3h5m-5-6h5m-4 1h5m-5 5h5m-1-4h5m-4 2h5m-4-1h5m-3 0h5m-2-1h5m-4-2h5m-4 1h5m-5 0h5m-5 5h5m-2 1h5m-4-4h5m-5-2h5m-4 5h5m-4-3h5m-5-2h5m-4 2h5m-4 3h5m-5 1h5m-4-3h5m-4 0h5m-5 1h5m-1-2h5m-4-3h5m-5 1h5m-4-1h5m-5 6h5m-4-6h5m-4 6h5m-5-6h5m-5 4h5m-4-1h5m-3 4h5m-5 0h5m-4-4h5m-5 0h5m-5-3h5m-2 1h5m-5 5h5m-4-4h5m-3-1h5m-1 1h5m-4-2h5m-4 6h5m-3-3h5m-5 2h5m-5-1h5m-4 0h5m-5-4h5m-4 4h5m-4-3h5m-3 1h5m-5-2h5m-4 4h5m-3-3h5m-5 1h5m-3 2h5m-4 0h5m-5 1h5m-4 0h5m-4-4h5m-4 0h5m-5 5h5m-4-6h5m-3 1h5m-5 4h5m-5-5h5m-4 0h5m-5 3h5m-4 0h5m-5-1h5m-4 4h5m-5-2h5m-5-1h5m-4-1h5m-5-1h5m-4-1h5m-3 5h5m-3 2h5m-5-1h5m-4-3h5m-5 1h5m-4-2h5m-2 1h5m-5 4h5m-316 6h5m-3-1h5m-4-1h5m-2-2h5m-4 1h5m-5 4h5m-4-4h5m-4 5h5m-5-4h5m-4 1h5m-5 2h5m-4-2h5m-4-4h5m-5 1h5m-5 1h5m-3 2h5m-3 1h5m0-4h5m-4 3h5m0 3h5m-5-6h5m-5 3h5m-3 1h5m-4-4h5m-3 6h5m0-1h5m-4-2h5m-5-2h5m-5 3h5m-4 0h5m-4-1h5m-4 2h5m-2 1h5m-4-5h5m-5 3h5m-5-1h5m-3 0h5m-4 1h5m-4 2h5m-5 0h5m-4-5h5m-4 4h5m-2-3h5m-2 3h5m-5-2h5m-4 2h5m-5-5h5m-4 0h5m-5 4h5m-3 1h5m-5-4h5m-4-1h5m-4 6h5m-5-7h5m-5 1h5m-4 4h5m-5 0h5m-2 2h5m-5-3h5m-3-3h5m-4-1h5m-5 5h5m-3-2h5m-5 1h5m-3-3h5m-5 1h5m-5 3h5m-3-2h5m-3 4h5m-5 0h5m-4-1h5m-3-5h5m-4 6h5m-5-2h5m-2-3h5m-4 3h5m-3 2h5m-4-1h5m-3-2h5m-4 0h5m-4-3h5m-4 0h5m-4 6h5m-5-6h5m-5 4h5m-3 0h5m-4 1h5m-5-4h5m-4 3h5m-5 2h5m-3-5h5m-5-1h5m-3 3h5m-5 0h5m-3-1h5m-4 2h5m-2 0h5m-4 1h5m-4 0h5m-2-3h5m-5-1h5m-3 1h5m-5-3h5m-4 5h5m-4 1h5m-4-3h5m-3-3h5m-5 5h5m-4 2h5m-5-2h5m-5 0h5m-4-4h5m-5 2h5m-4 0h5m-5 3h5m-5-6h5m-3 3h5m-4 3h5m-4-6h5m-5 3h5m-4-1h5m-5 0h5m-5 4h5m-4-5h5m-5 5h5m-4-3h5m-4 3h5m-4 0h5m-5-2h5m-4 0h5m-4-2h5m-4 3h5m-5-3h5m-4 4h5m-3-3h5m-5 3h5m-4 1h5m-4 0h5m-4-6h5m-5 6h5m-5-6h5m-4 6h5m-4-2h5m-2-3h5m-3 3h5m-3-5h5m-4 4h5m-4 1h5m-4-4h5m-4 6h5m-5-7h5m-2 2h5m-2-1h5m-4 1h5m-5-2h5m-4 3h5m-5 0h5m-4 2h5m-3-4h5m-4 3h5m-2 1h5m-4 1h5m-4-4h5m-4 0h5m-4 1h5m-4 1h5m0 1h5m-4 0h5m-3 1h5m-4-2h5m-4 1h5m-5-4h5m-4 6h5m-5-4h5m-3 2h5m-5 2h5m-5-4h5m-5-3h5m-1 0h5m-5 5h5m-4-2h5m-5-1h5m-5-1h5m-4 4h5m-3-5h5m-4 4h5m-4 2h5m-4 0h5m-5-6h5m-4 5h5m-4-4h5m-4 1h5m-4 3h5m-4 0h5m-5-3h5m-4-2h5m-5 0h5m-4 2h5m-4 2h5m-4 1h5m-5-3h5m-4 1h5m-2 2h5m-4-5h5m-4 3h5m-4-2h5m-5 3h5m-5-2h5m-5 1h5m-3 0h5m-3 3h5m-3-3h5m-4-2h5m-4-1h5m-5 0h5m-5 4h5m-4-1h5m-2 2h5m-5-5h5m-4 7h5m-2-4h5m-4 1h5m-5-2h5m-3 2h5m-5-3h5m-5 6h5m-5-1h5m-4-2h5m-1-3h5m-5 6h5m-5-3h5m-4-1h5m-5-1h5m-3 2h5m-4 1h5m-4-1h5m-5-1h5m-3-2h5m-5-1h5m-4 2h5m-4 2h5m-5-1h5m-4-3h5m-4 7h5m-5-7h5m-4 4h5m-4-2h5m-4 2h5m-5 1h5m-3-4h5m-5 1h5m-4-2h5m-5 1h5m-4 0h5m-4 4h5m-2-4h5m-3 2h5m-1 3h5m-4 1h5m-4-5h5m-5 4h5m-5-2h5m-4-1h5m-5 0h5m-5-1h5m-3 1h5m-3 1h5m-5 2h5m-5-1h5m-5-5h5m-4 2h5m-5 0h5m-3 0h5m-5 3h5m-4 1h5m-4 1h5m-4 0h5m-4-2h5m-4 0h5m-3 2h5m-5-5h5m-4 1h5m-4 1h5m-5 3h5m-5-2h5m-4 2h5m-3-2h5m-4-1h5m-5-1h5m-4-3h5m-5 6h5m-5 1h5m-4-2h5m-5 2h5m-5-4h5m-4 0h5m-5-3h5m-3 0h5m-5 1h5m-4 0h5m-5 3h5m-4-4h5m-4 1h5m-3-1h5m-5 2h5m-5-2h5m-4 3h5m-5 4h5m-4-4h5m-5 4h5m-5-5h5m-5 4h5m-5-2h5m-5-1h5m-3 3h5m-5-3h5m-5 4h5m-4-4h5m-5 1h5m-4 2h5m-5-5h5m-2 0h5m-5 2h5m-1-1h5m-5 1h5m-316 5h5m-4 1h5m-3 0h5m-4-1h5m-5 0h5m-3 1h5m-5-1h5m-2 4h5m-3-4h5m-4 7h5m-5-1h5m-4-6h5m-5 0h5m-4 6h5m-4-2h5m-3-1h5m-2-2h5m-5 6h5m0-7h5m-4 2h5m-2 5h5m-4 0h5m-4-6h5m-5 0h5m-4-1h5m-5 4h5m-3-3h5m-5 4h5m-2-2h5m-5 1h5m-5-1h5m-1-3h5m-3 0h5m-3 6h5m-5-5h5m-4 5h5m-2-2h5m-5 3h5m-5-4h5m-4 0h5m-4 3h5m-4 0h5m-4 1h5m-4-2h5m-5-2h5m-4 2h5m-5-4h5m-4 1h5m-4-2h5m-2 4h5m-5 3h5m-4 0h5m-3-7h5m-5 0h5m-4 0h5m-4 0h5m-3 3h5m-5-1h5m-4-2h5m-5 5h5m-4-1h5m-5 2h5m-5 1h5m-4-7h5m-3 2h5m-4 1h5m-2-3h5m-5 3h5m-4-1h5m-5 3h5m-3 0h5m-5-4h5m-5-1h5m-4 2h5m-5 4h5m-4-6h5m1 0h5m-4 6h5m-2-6h5m-3 0h5m-2 6h5m-4 1h5m-5-2h5m-3 0h5m-3-1h5m-4-2h5m-4-2h5m-5 5h5m-4 1h5m-5-2h5m-4-1h5m-5-2h5m0 6h5m-5-7h5m-5 2h5m-4 2h5m-5-3h5m-4 0h5m-5 5h5m0 1h5m-3-6h5m-5 2h5m-3 2h5m-5 1h5m-4 1h5m-4-4h5m-5 2h5m-4 1h5m-5-6h5m-4 0h5m-5 1h5m-4 0h5m-2 6h5m-5-1h5m-4-2h5m-4 0h5m-5-2h5m-5 2h5m-5-1h5m-3 4h5m-4-4h5m-5 3h5m-4 0h5m-4-3h5m-5 2h5m-5 1h5m-4-3h5m-2 1h5m-5 2h5m-4-1h5m-4-5h5m-3 1h5m-4 2h5m-4-2h5m-3 0h5m-4 4h5m-3-2h5m-4 2h5m-3 1h5m-3-2h5m-5 1h5m-4-1h5m-4-1h5m-4 3h5m-5 0h5m-4-3h5m-4-3h5m-5 1h5m-4 0h5m-3 1h5m-2-1h5m-1 0h5m-5 1h5m-5 2h5m-4 0h5m-4 0h5m-5 0h5m-1 2h5m-4 0h5m-2-6h5m-4 4h5m-5-4h5m-2 1h5m-4 0h5m-5 0h5m-5 1h5m-4 5h5m-4-3h5m0-2h5m-4 5h5m-3-1h5m-5 0h5m-3 0h5m-2-4h5m-3 0h5m-4 5h5m0-3h5m-4-2h5m-3 5h5m-5-4h5m-5 0h5m-4 0h5m-3 0h5m-4 0h5m-5 3h5m-3-5h5m-4 5h5m-5-1h5m-4-4h5m-4-1h5m-5 0h5m-4 7h5m-4-6h5m-4 3h5m-4-3h5m-4 5h5m-4-2h5m-4 0h5m-4-1h5m-4 2h5m-5-5h5m-3 0h5m-2 6h5m-3-5h5m-4 2h5m-3 3h5m-3-6h5m-4 4h5m-2 3h5m-4-3h5m-4 3h5m1-5h5m-5-2h5m-2 7h5m-4-1h5m-3-1h5m-5 2h5m-2-4h5m-4 0h5m-2-1h5m-4 3h5m-4-5h5m-4 7h5m-5-6h5m-4 2h5m-4 2h5m-4-2h5m-4 1h5m-5 2h5m-5-5h5m-3 4h5m-5-2h5m-5-3h5m-4 5h5m-3 2h5m-4-1h5m-4-3h5m-5-1h5m-4 0h5m-4 5h5m-5 0h5m-4-7h5m-5 3h5m-4 2h5m-4-3h5m-5-2h5m-4 7h5m-5 0h5m-4-4h5m-4-1h5m-4 1h5m-4 0h5m-3 0h5m-5 1h5m-5-4h5m-4 3h5m-5 1h5m-5-4h5m-4 1h5m-4 6h5m-5-4h5m-5-3h5m-5 0h5m-3 0h5m-5 0h5m-4 2h5m-3 2h5m-4-3h5m-4 6h5m-5-5h5m-5 0h5m-4 2h5m-5-3h5m-3 2h5m-5-3h5m-1 6h5m0 1h5m-322 4h5m-4-1h5m-5 2h5m-4 1h5m-5-4h5m-4-1h5m-3 3h5m-5 1h5m-4 2h5m-5 0h5m-3-5h5m-3 3h5m-3 1h5m-4-2h5m-3 3h5m-3-3h5m-4 3h5m-4 1h5m-5 0h5m-5-6h5m-4-1h5m-5 7h5m-3-7h5m-1 0h5m-4 3h5m-4 2h5m-4-2h5m-5-3h5m-5 4h5m-2-1h5m-5-2h5m-3 3h5m-5 0h5m-2 3h5m-4-5h5m-3 0h5m-5-2h5m-4 5h5m-5-4h5m-4 4h5m-3 2h5m-4-7h5m-4 4h5m-4 0h5m-2-2h5m-5 2h5m-3-2h5m-5 5h5m-4-4h5m-5 1h5m-4-1h5m-5 3h5m-3 0h5m-3-4h5m-5-2h5m-5 6h5m3-3h5m-5-2h5m-5 3h5m-4 0h5m-4-4h5m-4 5h5m-4-5h5m-2 0h5m-5 5h5m-4-1h5m-3 2h5m-5-3h5m-5 3h5m-4 1h5m-4-6h5m-4 5h5m-2-5h5m-2 1h5m-4 0h5m-5-1h5m-4 4h5m-5-5h5m-3 6h5m-4-4h5m-4 1h5m-4 2h5m-2-2h5m-3-2h5m-5 1h5m-5 5h5m-3-7h5m-5 2h5m-3 4h5m-5-3h5m-3 0h5m-3-2h5m-5 3h5m-5 0h5m-2-4h5m-2 4h5m-4 2h5m-3-3h5m-3-2h5m-3 2h5m-3 2h5m-4-3h5m-4 2h5m-2 1h5m-3-2h5m-5 4h5m-5-7h5m-5 0h5m-4 7h5m-4-3h5m-4-4h5m-4 3h5m-4 4h5m-4 0h5m-3-1h5m-3-6h5m-4 4h5m-5 3h5m-4-4h5m-5 2h5m-5-5h5m-4 2h5m-2 4h5m-5-6h5m-4 0h5m-5 2h5m-5 2h5m-3-4h5m-5 4h5m-3-1h5m-5-2h5m-4-1h5m-5 0h5m-5 1h5m-5 3h5m-4-3h5m-3 6h5m-5-5h5m-2 3h5m-1-2h5m-4 2h5m-4-2h5m-4-1h5m-5 3h5m-5 1h5m-3-5h5m-5 1h5m-4 4h5m-4-1h5m-4 0h5m-5-5h5m-3 1h5m-4-1h5m2 2h5m-4 5h5m-4 0h5m-3-4h5m-4-2h5m-4 6h5m-3-2h5m-4-3h5m-4 0h5m-4 4h5m-4-6h5m-5 5h5m-3-5h5m-4 3h5m-4 0h5m-4-2h5m-2 1h5m-5-2h5m2 7h5m-5-4h5m-4-3h5m-3 5h5m-4 1h5m-3-4h5m-4 0h5m-5-2h5m-3 4h5m-3-1h5m-5-3h5m-4 4h5m-4-2h5m-3-2h5m3 4h5m-4 1h5m-5 0h5m-4-3h5m-5 5h5m-5-1h5m-4 1h5m-5-7h5m-3 6h5m-3-3h5m-4 0h5m-2 4h5m-4-7h5m-4 7h5m-5-3h5m-5-1h5m-3-1h5m-4 4h5m-3-2h5m-5-4h5m-5 5h5m-4 0h5m-5-2h5m-5 2h5m-3-2h5m-4 3h5m-5-2h5m-4-2h5m-1 0h5m-3 3h5m-2-4h5m-5-1h5m-5 6h5m-4-1h5m-4 0h5m-4 2h5m-4-4h5m-3 2h5m-4-2h5m-3 4h5m-2-1h5m-5-2h5m-3 3h5m-4-7h5m-2 2h5m-5-2h5m-3 0h5m-5 3h5m-4-3h5m-5 5h5m-5 0h5m-4-4h5m-4 4h5m-3-5h5m-3 4h5m-5 1h5m-4-1h5m-4 1h5m-3-4h5m-2-1h5m-4 1h5m-4 2h5m-4-2h5m-5 4h5m-5-5h5m-5 6h5m-4-1h5m-5-5h5m-4 4h5m-3-3h5m-5 5h5m-4-6h5m-3 7h5m-5-3h5m-5 3h5m-4-3h5m-4 3h5m-1-3h5m-4 0h5m-4 0h5m-316 6h5m1 0h5m-5 1h5m-4 2h5m-1-1h5m-4 1h5m-4 2h5m-4-6h5m1-1h5m-3 5h5m-4-3h5m-4-2h5m-5 6h5m-4 1h5m-3-7h5m-3 2h5m-4-1h5m-2 5h5m-5 0h5m-4-6h5m-3 2h5m-5 4h5m-4-5h5m-2-1h5m-5 1h5m-5-1h5m-3 6h5m-5-5h5m-1-1h5m-3 2h5m-4-1h5m0 4h5m-5 0h5m-2 0h5m-4-4h5m-5 1h5m-4-2h5m-4 1h5m-2 0h5m-4 2h5m-5 3h5m-4-1h5m-5-3h5m-4 0h5m-5-1h5m-2 0h5m-4 2h5m-5 2h5m-4 2h5m-2 0h5m-5-5h5m-4 4h5m-4-2h5m-3 2h5m-4-2h5m-2-1h5m-4-3h5m-4 6h5m-4-6h5m-2 1h5m-4-1h5m-4 4h5m-4-4h5m0 6h5m-4-5h5m-4 5h5m-5-5h5m-2 1h5m-4 2h5m-1 0h5m-5 3h5m-2-6h5m5 5h5m0-4h5m-4 2h5m12-1h5m-2-2h5m-5-1h5m1 3h5m-3-3h5m-5 6h5m-3-3h5m-5-3h5m-2 3h5m-4 4h5m-5-2h5m-4-2h5m-3-3h5m2 0h5m-4 2h5m-4-2h5m-4 5h5m-4 1h5m-2-3h5m6 0h5m-5-1h5m-5-2h5m-1 3h5m-2 3h5m-4-5h5m-3 5h5m-4-2h5m-2 2h5m-1 1h5m-4-5h5m-3 1h5m-5-1h5m-4 2h5m-5 3h5m-3 0h5m-3-4h5m-4 1h5m-3-1h5m-4-2h5m-4 3h5m-4-3h5m-5 0h5m-3 1h5m-5 3h5m-4-4h5m-5 5h5m-4-5h5m-5 1h5m-4 3h5m-2-5h5m-5 0h5m-3 3h5m-3-1h5m-4-1h5m-4-1h5m-3 2h5m-4 1h5m-3-3h5m0 6h5m-3-2h5m-3-4h5m-4 2h5m-5-1h5m0 3h5m-3-1h5m-4 3h5m-3-6h5m-2 0h5m-3 3h5m-5-3h5m1 4h5m-4 0h5m-4-3h5m-4 6h5m-3 0h5m-3-5h5m-5 2h5m-4 2h5m-4-5h5m-5 0h5m-3 1h5m-3 3h5m-4-2h5m-4 3h5m-4-4h5m-3-1h5m-4 2h5m-5 0h5m-4-2h5m-5 4h5m-3 1h5m-4 0h5m-5-3h5m-4-1h5m-3 0h5m-5 3h5m-5-5h5m-3 5h5m-5-5h5m-3 3h5m-4 2h5m-3-2h5m-5 2h5m2-3h5m-3-1h5m-3 5h5m-314 6h5m-3-2h5m-2-2h5m-4 1h5m-5 6h5m-3-6h5m-4 2h5m-4 2h5m-5 0h5m-3-2h5m-2 4h5m-2-5h5m-5-1h5m-4 0h5m-5 5h5m-5-6h5m-3 3h5m-2 2h5m-3-3h5m-5 4h5m-4 1h5m-5-4h5m-5-3h5m-4 2h5m4 0h5m0 5h5m-4-2h5m0-3h5m-5 5h5m-3-1h5m-3-1h5m-2 1h5m-5-4h5m0 5h5m-2-5h5m-4-2h5m-3 5h5m-3-5h5m-5 3h5m-4 1h5m0-3h5m0 3h5m-2 1h5m-1-5h5m-4 3h5m-3-1h5m-4-2h5m-3 7h5m-4 0h5m-4-5h5m-2-2h5m-4 7h5m-2-1h5m-3-3h5m-5 2h5m-4-3h5m-3 0h5m-4-1h5m-4 1h5m3 5h5m3-5h5m-5 3h5m-4-2h5m-2 2h5m-5 1h5m-4-5h5m-3 2h5m-3-3h5m-4 0h5m-5 4h5m-4 1h5m-2-2h5m-4 3h5m0 0h5m-1-1h5m-2 2h5m-5-1h5m-4-3h5m-3 4h5m-1-5h5m1 1h5m-5 2h5m-3-2h5m-2-1h5m-4-2h5m-5 3h5m-4-1h5m-3-1h5m-5 2h5m-4 1h5m-4 2h5m-4 0h5m-4-5h5m-1-1h5m-2 5h5m-3 1h5m-3-1h5m-4 1h5m-1 1h5m-3-1h5m-5-1h5m-2-2h5m-4 1h5m0-2h5m-2 2h5m-1 1h5m-3-3h5m-4 1h5m-5 4h5m-5-5h5m-4 0h5m-5 0h5m-5 3h5m-3-1h5m0-1h5m-3-2h5m1 1h5m-3 5h5m-4-4h5m-1-1h5m-4 0h5m-1 0h5m-1 3h5m-4 1h5m-2-3h5m-5 2h5m-4 1h5m-4-4h5m0 2h5m-5-3h5m-3 6h5m-3-2h5m-5-2h5m-4 3h5m-4-1h5m0 1h5m-5-4h5m-4-2h5m-1 5h5m-5-1h5m-5 3h5m-4 0h5m0-3h5m-4 2h5m1-6h5m-2 2h5m-5-2h5m-4 5h5m-4-4h5m-3-1h5m-4 1h5m-4-1h5m-5 6h5m-4-3h5m-4-2h5m-3 5h5m-4-5h5m-3 1h5m-5-2h5m-4 6h5m-310 4h5m-4 3h5m-5-3h5m-1 5h5m-4-3h5m-2-1h5m-4-2h5m-3 1h5m-3-2h5m-1 5h5m-5-2h5m0-2h5m-1-1h5m-4 6h5m-3-2h5m-4 0h5m-5-2h5m-4 0h5m-5-1h5m-5 6h5m-3-1h5m-4-6h5m-4 7h5m-3-6h5m-4 3h5m-5-2h5m-3 2h5m-5-3h5m-3-1h5m-4 6h5m-2-1h5m-1-1h5m-2-3h5m-4 3h5m-3 2h5m-4-6h5m0 4h5m5 0h5m-2 0h5m-4 0h5m-4-1h5m-4-1h5m-2 3h5m-3-3h5m-4 1h5m-3 0h5m-3 1h5m-2-1h5m2 2h5m-2 1h5m-3-4h5m-4-1h5m0 2h5m-3-2h5m-5 1h5m1 4h5m-3 0h5m0-1h5m5-1h5m-3 1h5m-5-3h5m-4 4h5m-4 0h5m0 0h5m-4 1h5m-3 0h5m-2-4h5m-5-1h5m-1 3h5m-5-3h5m-1 1h5m-2 4h5m-4-1h5m-4-4h5m-2 0h5m-3 3h5m-1 1h5m-3 1h5m-4-5h5m-3 3h5m-5-5h5m-2 2h5m-5 2h5m-4-2h5m2-1h5m-4 0h5m-3 3h5m-2 3h5m-5-4h5m-1 4h5m-3-1h5m-5-3h5m-3-1h5m-4 2h5m-3 1h5m-2-4h5m-4 5h5m0-5h5m-4 6h5m-1-3h5m-5-4h5m1 7h5m-4-6h5m0-1h5m-5 1h5m-3 3h5m-3-1h5m-4 4h5m-1-4h5m-4-1h5m-2 3h5m2-4h5m-3 1h5m-5 0h5m-2-1h5m-4 5h5m-1-2h5m2-4h5m-5 5h5m4 2h5m-1-6h5m-2 4h5m-5-5h5m-3 1h5m-3 0h5m-3 5h5m-4-3h5m-4 2h5m-3-3h5m-5 2h5m-4 2h5m-3-1h5m4 2h5m-5 0h5m-5-7h5m-3 3h5m-5 2h5m-5-5h5m-314 9h5m-4 6h5m-4-4h5m-4 2h5m-4-3h5m-2-1h5m1 6h5m-4-2h5m2-2h5m-5 4h5m-5-4h5m8 0h5m0-2h5m-3 6h5m1-3h5m-5 3h5m-5-7h5m-5 0h5m-3 5h5m-2 0h5m-3-3h5m-5 1h5m0 4h5m-3-3h5m-5 3h5m-3-5h5m-3 1h5m-5 1h5m-4-2h5m-2-1h5m-2 5h5m1-5h5m-1-1h5m-4 6h5m-4-1h5m-5-5h5m-3 0h5m-5 2h5m-2-2h5m0 7h5m-3-6h5m-4 3h5m-5 2h5m14-4h5m-3 5h5m1-4h5m-4-3h5m-4 2h5m2-1h5m-3 0h5m-5 5h5m-1-3h5m-5-1h5m-5 5h5m-1-4h5m-4 0h5m-1-1h5m-5 1h5m-4 4h5m-2-7h5m-5 4h5m3 1h5m-3 1h5m-3 0h5m-3-5h5m-5 4h5m-5-2h5m-4 0h5m-3-3h5m-2 7h5m8-2h5m-5-3h5m-5-2h5m-3 2h5m-2 5h5m-2 0h5m-4-7h5m0 6h5m-3-1h5m-3-1h5m-4 2h5m-5 1h5m-4-5h5m-2 1h5m0 2h5m-3-1h5m-3-3h5m2 2h5m0-3h5m-5 1h5m-5 5h5m1-1h5m2-1h5m-3-2h5m2 4h5m-4-3h5m2-2h5m-4 3h5m-4-2h5m0 2h5m-1-3h5m-1 4h5m0-4h5m1 2h5m-3-2h5m3 3h5m-3 2h5m-2 1h5m-5-7h5m-4 3h5m-3 2h5m-4-5h5m-5 3h5m-4 3h5m-4-4h5m-310 7h5m-4 5h5m-3-6h5m-3 6h5m-2-6h5m-4 3h5m-2 3h5m-3 1h5m-5-7h5m-4 2h5m-5-2h5m-4 3h5m-5 1h5m-1-4h5m9 2h5m-2 1h5m-3 2h5m-1-3h5m-3 5h5m-4 0h5m-3-7h5m-1 2h5m3 2h5m-2 2h5m4-3h5m0 2h5m17-5h5m-5 6h5m-5 0h5m-3-1h5m-4-1h5m8 2h5m-3-2h5m-4-1h5m-4 4h5m-5-1h5m-4-1h5m-2-1h5m-5-1h5m-1 1h5m12-1h5m0 4h5m-4-2h5m-2-5h5m5 6h5m2-3h5m-5 2h5m-3-2h5m3-3h5m-2 1h5m-2 2h5m-4 0h5m2-1h5m-2-2h5m6 7h5m-5-1h5m-2 1h5m-5-4h5m0-3h5m-4 4h5m-3-1h5m-2-2h5m-2 5h5m-4-3h5m5-1h5m2 2h5m-5 3h5m-3 0h5m-1 0h5m15-6h5m-1 0h5m5-1h5m-4 7h5m-2-5h5m-3-1h5m0 3h5m-1 3h5m-2-5h5m0 2h5m-313 7h5m2-2h5m-4 0h5m3 3h5m1 0h5m-3-4h5m-5 3h5m0 0h5m-3 2h5m-5 0h5m-3-3h5m-4-2h5m-5 6h5m2-4h5m2 3h5m-5-1h5m-4 3h5m-4-3h5m-3 0h5m0-4h5m1 1h5m3 3h5m-5 1h5m5-2h5m-4-2h5m-2 3h5m-3 2h5m-3-2h5m-4 0h5m8-1h5m0-2h5m1 0h5m5 6h5m-3-2h5m4-3h5m-4 3h5m-1-2h5m-2 2h5m1 0h5m12-4h5m-2 2h5m-3 0h5m1 0h5m-1-1h5m-3 2h5m5-4h5m0 1h5m-1 0h5m5 5h5m7-2h5m0-1h5m-4 4h5m-4-3h5m16-1h5m12-1h5m-4 0h5m3 2h5m0 3h5m-4-5h5m-3 3h5m-1-2h5m1 3h5m-5-5h5m-5 5h5m-4-6h5m-2 1h5m-4-1h5m0 7h5m-4-2h5m-310 7h5m12-3h5m-3-1h5m-3 5h5m-1-4h5m6-1h5m-2 1h5m2 6h5m-4-6h5m-1 4h5m-5-4h5m2 4h5m8 1h5m-1-3h5m5 0h5m-3 4h5m-3-3h5m12-4h5m8 7h5m2-5h5m-2-2h5m10 3h5m-2 2h5m-1 1h5m5-1h5m-3-4h5m-5 6h5m1-4h5m0-1h5m8-2h5m-5 2h5m-2 2h5m-4 1h5m6 2h5m0-4h5m-2 2h5m-1 1h5m-5-2h5m25 3h5m-2-5h5m0-2h5m-4 1h5m-1-1h5m2 3h5m-2-1h5m-2 1h5m-2-1h5m0-2h5m-1 0h5m-3 7h5m-2-7h5m4 5h5m-2 2h5m-3-3h5m-303 11h5m0-6h5m-2 6h5m-1-7h5m-4 2h5m-2 2h5m-5 3h5m-4-4h5m13 4h5m21-5h5m2 0h5m-3 5h5m-2-6h5m-4 2h5m12-2h5m10 5h5m3-6h5m7 0h5m-4 5h5m5-4h5m0 1h5m5-2h5m-4 3h5m15 1h5m15-4h5m-5 2h5m-5 0h5m-4 3h5m-4-3h5m-1 3h5m7-5h5m-2 6h5m31 0h5m9-6h5m1 0h5m12 2h5m-4 1h5m-2-3h5m-2 4h5m-5-3h5m-4 2h5m-304 9h5m-4-4h5m6 6h5m0-6h5m-2 7h5m11-6h5m12 0h5m-3 0h5m-5 4h5m-3-2h5m0-3h5m-5 6h5m0-5h5m3 1h5m11 5h5m14 0h5m4-5h5m1 0h5m13 2h5m11-4h5m9 4h5m-3-4h5m0 3h5m17-2h5m-2 6h5m14-2h5m10 1h5m4 0h5m10 1h5m-1-5h5m2 1h5m1 3h5m9-1h5m1-4h5m-303 9h5m0 4h5m34-2h5m-4 1h5m-3-5h5m-3 7h5m1-7h5m-1 5h5m-2-1h5m9-1h5m4 2h5m-5-2h5m4 1h5m14 1h5m28-4h5m11 6h5m0-5h5m-2-1h5m5 1h5m2 2h5m-3-4h5m15 1h5m4-1h5m0 4h5m-3 2h5m29 0h5m-2-6h5m4 1h5m0 5h5m4-6h5m-4 1h5m0 2h5m-4 0h5m1 4h5m-3-3h5m-282 4h5m5 3h5m6-1h5m-3 1h5m-2 4h5m-2-3h5m-5 1h5m9 1h5m0-6h5m-3 2h5m15 5h5m25-2h5m16-4h5m-5 6h5m4-1h5m0 1h5m-4-5h5m3 0h5m5 3h5m-4 2h5m15 0h5m7-2h5m57 2h5m15-4h5m-273 6h5m5 5h5m3-4h5m19 2h5m-1-4h5m-4 4h5m19-1h5m21-1h5m62 5h5m11-7h5m53 1h5m25 4h5m-279 7h5m3-4h5m42 1h5m50-1h5m37 1h5m8 0h5m3 4h5m-3-1h5m15 0h5m16-4h5m15 4h5m1 3h5m-226 7h5m31 0h5m0-6h5m20 2h5m3 2h5m11 0h5m2 1h5m21-3h5m19 0h5m1 2h5m-1 0h5m13 0h5m-1 3h5m21-3h5m-2 2h5m44-1h5m-1-3h5m-2 4h5m-289 2h5m27 3h5m16 0h5m27 2h5m44-3h5m39 0h5m63 1h5m2 1h5m28 1h5m-297 6h5m3 0h5m109 0h5m51-1h5m12 1h5m14 2h5m52 1h5m-198 3h5m65-1h5m114 0h5m5 7h5m-278 8h5m119-3h5m43-3h5m78 4h5m-2-1h5m25 2h5m-248 4h5m10 1h5m184 3h5m6 0h5m-5-2h5m-268 5h5m47 1h5m21 3h5m29 0h5m36-2h5m61 2h5m19-4h5m-79 7h5m17 4h5m68 3h5m-176 5h5m80-1h5m12 1h5m24 9h5m-198 4h5m99 1h5m37-1h5m49 1h5m6-1h5m13 0h5m-196 10h5m117 0h5m24-3h5m-5 0h5m13 5h5" style="stroke:#040c5e;stroke-width:5.2;fill:none"/>
<path transform="scale(.25)" d="M1689 744h5m-17 18h5m87 11h5m-51 3h5m-47 14h5m267-6h5m-253 10h5" style="stroke:#fa7a30;stroke-width:5.2;fill:none"/>
<path d="M374.4 171.09V317.21" style="fill:none;stroke:#000;stroke-width:0.42;stroke-opacity:0.7"/>
<path d="M374.19 171.3H512.71" style="fill:none;stroke:#000;stroke-width:0.42;stroke-opacity:0.45"/>
<path d="M512.5 171.09V317.21" style="fill:none;stroke:#000;stroke-width:0.42;stroke-opacity:0.9"/>
<path d="M374.19 317H512.71" style="fill:none;stroke:#000;stroke-width:0.42;stroke-opacity:0.35"/>
<path d="M374.4 306.7h1.8M374.4 287.28h1.8M374.4 267.85h1.8M374.4 248.42h1.8M374.4 229h1.8M374.4 209.57h1.8M374.4 190.14h1.8M374.72 317v-1.8M390.82 317v-1.8M406.91 317v-1.8M423.01 317v-1.8M439.1 317v-1.8M455.2 317v-1.8M471.3 317v-1.8M487.39 317v-1.8M503.49 317v-1.8" style="stroke:#000;stroke-width:.5;fill:none"/>
<path d="M374.4 316.86h1M374.4 314.43h1M374.4 312.55h1M374.4 311.01h1M374.4 309.71h1M374.4 308.59h1M374.4 307.59h1M374.4 300.86h1M374.4 297.43h1M374.4 295.01h1M374.4 293.13h1M374.4 291.59h1M374.4 290.29h1M374.4 289.16h1M374.4 288.17h1M374.4 281.43h1M374.4 278.01h1M374.4 275.58h1M374.4 273.7h1M374.4 272.16h1M374.4 270.86h1M374.4 269.73h1M374.4 268.74h1M374.4 262h1M374.4 258.58h1M374.4 256.15h1M374.4 254.27h1M374.4 252.73h1M374.4 251.43h1M374.4 250.31h1M374.4 249.31h1M374.4 242.58h1M374.4 239.15h1M374.4 236.73h1M374.4 234.85h1M374.4 233.31h1M374.4 232.01h1M374.4 230.88h1M374.4 229.89h1M374.4 223.15h1M374.4 219.73h1M374.4 217.3h1M374.4 215.42h1M374.4 213.88h1M374.4 212.58h1M374.4 211.45h1M374.4 210.46h1M374.4 203.72h1M374.4 200.3h1M374.4 197.87h1M374.4 195.99h1M374.4 194.45h1M374.4 193.15h1M374.4 192.03h1M374.4 191.03h1M374.4 184.3h1M374.4 180.87h1M374.4 178.45h1M374.4 176.57h1M374.4 175.03h1M374.4 173.73h1M374.4 172.6h1M374.4 171.61h1M379.57 317v-1M382.4 317v-1M384.41 317v-1M385.97 317v-1M387.25 317v-1M388.32 317v-1M389.26 317v-1M390.08 317v-1M395.66 317v-1M398.5 317v-1M400.51 317v-1M402.07 317v-1M403.34 317v-1M404.42 317v-1M405.35 317v-1M406.18 317v-1M411.76 317v-1M414.59 317v-1M416.6 317v-1M418.16 317v-1M419.44 317v-1M420.52 317v-1M421.45 317v-1M422.27 317v-1M427.85 317v-1M430.69 317v-1M432.7 317v-1M434.26 317v-1M435.53 317v-1M436.61 317v-1M437.54 317v-1M438.37 317v-1M443.95 317v-1M446.78 317v-1M448.79 317v-1M450.35 317v-1M451.63 317v-1M452.71 317v-1M453.64 317v-1M454.46 317v-1M460.05 317v-1M462.88 317v-1M464.89 317v-1M466.45 317v-1M467.72 317v-1M468.8 317v-1M469.74 317v-1M470.56 317v-1M476.14 317v-1M478.97 317v-1M480.99 317v-1M482.55 317v-1M483.82 317v-1M484.9 317v-1M485.83 317v-1M486.65 317v-1M492.24 317v-1M495.07 317v-1M497.08 317v-1M498.64 317v-1M499.92 317v-1M500.99 317v-1M501.93 317v-1M502.75 317v-1M508.33 317v-1M511.17 317v-1" style="stroke:#000;stroke-width:.4;stroke-opacity:.7;fill:none"/>
<g font-family='"Liberation Serif", serif' font-size="7.3" fill="#1a1a1a" stroke="#1a1a1a" stroke-width=".18">
<text x="358.1" y="193.14" textLength="8" lengthAdjust="spacingAndGlyphs">10</text><text x="366.7" y="190.54" font-size="5.3" textLength="6.3" lengthAdjust="spacingAndGlyphs">−1</text>
<text x="358.1" y="212.57" textLength="8" lengthAdjust="spacingAndGlyphs">10</text><text x="366.7" y="209.97" font-size="5.3" textLength="6.3" lengthAdjust="spacingAndGlyphs">−2</text>
<text x="358.1" y="232" textLength="8" lengthAdjust="spacingAndGlyphs">10</text><text x="366.7" y="229.4" font-size="5.3" textLength="6.3" lengthAdjust="spacingAndGlyphs">−3</text>
<text x="358.1" y="251.42" textLength="8" lengthAdjust="spacingAndGlyphs">10</text><text x="366.7" y="248.82" font-size="5.3" textLength="6.3" lengthAdjust="spacingAndGlyphs">−4</text>
<text x="358.1" y="270.85" textLength="8" lengthAdjust="spacingAndGlyphs">10</text><text x="366.7" y="268.25" font-size="5.3" textLength="6.3" lengthAdjust="spacingAndGlyphs">−5</text>
<text x="358.1" y="290.28" textLength="8" lengthAdjust="spacingAndGlyphs">10</text><text x="366.7" y="287.68" font-size="5.3" textLength="6.3" lengthAdjust="spacingAndGlyphs">−6</text>
<text x="358.1" y="309.7" textLength="8" lengthAdjust="spacingAndGlyphs">10</text><text x="366.7" y="307.1" font-size="5.3" textLength="6.3" lengthAdjust="spacingAndGlyphs">−7</text>
<text x="399.46" y="323.6" textLength="8" lengthAdjust="spacingAndGlyphs">10</text><text x="408.06" y="321" font-size="5.3" textLength="6.3" lengthAdjust="spacingAndGlyphs">−5</text>
<text x="431.65" y="323.6" textLength="8" lengthAdjust="spacingAndGlyphs">10</text><text x="440.25" y="321" font-size="5.3" textLength="6.3" lengthAdjust="spacingAndGlyphs">−3</text>
<text x="463.85" y="323.6" textLength="8" lengthAdjust="spacingAndGlyphs">10</text><text x="472.45" y="321" font-size="5.3" textLength="6.3" lengthAdjust="spacingAndGlyphs">−1</text>
<text x="497.89" y="323.6" textLength="8" lengthAdjust="spacingAndGlyphs">10</text><text x="506.49" y="321" font-size="5.3" textLength="2.6" lengthAdjust="spacingAndGlyphs">1</text>
</g>
<g font-family='"Liberation Sans", sans-serif' fill="#1a1a1a" stroke="#1a1a1a" stroke-width=".15">
<text transform="translate(353.9 79) rotate(-90)" text-anchor="middle" font-size="9.5" textLength="85.4" lengthAdjust="spacingAndGlyphs">predicted <tspan font-style="italic">σ</tspan><tspan font-style="italic" font-size="6.6" dy="1.9">NLO</tspan><tspan dy="-1.9">[pb]</tspan></text>
<text transform="translate(354.7 243.9) rotate(-90)" text-anchor="middle" font-size="9.5" textLength="60.4" lengthAdjust="spacingAndGlyphs">relative error</text>
<text x="443" y="334.2" text-anchor="middle" font-size="9.5" textLength="39" lengthAdjust="spacingAndGlyphs"><tspan font-style="italic">σ</tspan><tspan font-style="italic" font-size="6.6" dy="1.9">NLO</tspan><tspan dy="-1.9">[pb]</tspan></text>
</g>
<rect x="456.5" y="275.3" width="53.5" height="39.7" rx="1.2" fill="#fff" fill-opacity=".8" stroke="#ddd" stroke-width=".5"/>
<rect x="462.4" y="279" width="1.4" height="1.4" fill="#d3d7d1"/>
<text x="473.1" y="281.8" font-family='"Liberation Sans", sans-serif' font-size="6.1" fill="#111" stroke="#111" stroke-width=".07"><tspan font-style="italic">σ</tspan> &lt; <tspan font-style="italic">σ</tspan><tspan font-style="italic" font-size="3.6" dy="1">exp</tspan></text>
<rect x="462.4" y="286.6" width="1.4" height="1.4" fill="#fa7a30"/>
<text x="473.1" y="289.4" font-family='"Liberation Sans", sans-serif' font-size="6.1" fill="#111" stroke="#111" stroke-width=".07">rest</text>
<rect x="462.4" y="294.2" width="1.4" height="1.4" fill="#7cb8f8"/>
<text x="473.1" y="297" font-family='"Liberation Sans", sans-serif' font-size="6.1" fill="#111" stroke="#111" stroke-width=".07">three <tspan font-style="italic">σ</tspan> error</text>
<rect x="462.4" y="301.8" width="1.4" height="1.4" fill="#0c46e0"/>
<text x="473.1" y="304.6" font-family='"Liberation Sans", sans-serif' font-size="6.1" fill="#111" stroke="#111" stroke-width=".07">two <tspan font-style="italic">σ</tspan> error</text>
<rect x="462.4" y="309.4" width="1.4" height="1.4" fill="#040c5e"/>
<text x="473.1" y="312.2" font-family='"Liberation Sans", sans-serif' font-size="6.1" fill="#111" stroke="#111" stroke-width=".07">one <tspan font-style="italic">σ</tspan> error</text>
<text x="402.6" y="357.7" font-family='"Liberation Serif", serif' font-size="13.8" fill="#000" font-weight="bold">(c)</text>
<g font-family='"Liberation Serif", serif' fill="#000">
<path d="M428.1 352.2L422.5 359.2" style="fill:none;stroke:#000;stroke-width:1.25;stroke-linecap:round"/>
<path d="M422.9 353.1c.4-.6 1-.6 1.3 0L426.2 359c.2.5.5.6.9.3" style="fill:none;stroke:#000;stroke-width:.7"/>
<path d="M424 350.4c.6-1 1.2-1 1.9-.5s1.3.5 1.9-.5" style="fill:none;stroke:#000;stroke-width:.5"/>
<text x="429.4" y="361.8" font-size="9.3">2</text>
<text x="429.4" y="353.1" font-size="9.3">0</text>
<path d="M440.9 352.2L435.3 359.2" style="fill:none;stroke:#000;stroke-width:1.25;stroke-linecap:round"/>
<path d="M435.7 353.1c.4-.6 1-.6 1.3 0L439 359c.2.5.5.6.9.3" style="fill:none;stroke:#000;stroke-width:.7"/>
<path d="M436.8 350.4c.6-1 1.2-1 1.9-.5s1.3.5 1.9-.5" style="fill:none;stroke:#000;stroke-width:.5"/>
<text x="442.2" y="361.8" font-size="9.3">1</text>
<path d="M443 350.6h5M445.5 348.1v5" style="stroke:#000;stroke-width:.6"/>
</g>
<path d="M554.82 150.43L674.36 10.11" style="stroke:#1d56de;stroke-width:2.0;stroke-linecap:round"/>
<path transform="scale(.25)" d="M2672 67h5m-5 3h5m-12 3h5m-4-1h5m-42 46h5m-5 1h5m-14 7h5m-10 7h5m-19 15h5m-11 10h5m-2-5h5m-16 12h5m-9 8h5m-14 9h5m-4-2h5m-11 7h5m-24 26h5m-27 21h5m-13 11h5m-9 7h5m-21 15h5m-19 14h5m-1 0h5m-4 3h5m-23 19h5m-7 2h5m-30 28h5m-13 9h5m-9 5h5m-1-1h5m-20 13h5m-20 18h5m-22 20h5m-18 16h5m-35 33h5m-4-2h5m0-4h5m-43 46h5m-3 3h5m-37 29h5m-16 17h5m-11 5h5m-4 1h5m-4-5h5m-24 25h5m-11 11h5m-4-4h5m-16 13h5m-16 8h5m-10 9h5" style="stroke:#1d56de;stroke-width:5.2;fill:none"/>
<circle cx="676.7" cy="7.36" r=".9" fill="#1d56de"/>
<path d="M548.4 0.09V157.21" style="fill:none;stroke:#000;stroke-width:0.42;stroke-opacity:0.7"/>
<path d="M548.19 0.3H682.71" style="fill:none;stroke:#000;stroke-width:0.42;stroke-opacity:0.9"/>
<path d="M682.5 0.09V157.21" style="fill:none;stroke:#000;stroke-width:0.42;stroke-opacity:0.9"/>
<path d="M548.19 157H682.71" style="fill:none;stroke:#000;stroke-width:0.42;stroke-opacity:0.9"/>
<path d="M548.4 142.38h1.8M548.4 122.76h1.8M548.4 103.13h1.8M548.4 83.51h1.8M548.4 63.88h1.8M548.4 44.26h1.8M548.4 24.63h1.8M548.4 5.01h1.8M561.67 157v-1.8M578.39 157v-1.8M595.11 157v-1.8M611.83 157v-1.8M628.55 157v-1.8M645.27 157v-1.8M661.99 157v-1.8M678.7 157v-1.8" style="stroke:#000;stroke-width:.5;fill:none"/>
<path d="M548.4 156.1h1M548.4 152.64h1M548.4 150.19h1M548.4 148.29h1M548.4 146.73h1M548.4 145.42h1M548.4 144.28h1M548.4 143.28h1M548.4 136.47h1M548.4 133.02h1M548.4 130.56h1M548.4 128.66h1M548.4 127.11h1M548.4 125.8h1M548.4 124.66h1M548.4 123.65h1M548.4 116.85h1M548.4 113.39h1M548.4 110.94h1M548.4 109.04h1M548.4 107.48h1M548.4 106.17h1M548.4 105.03h1M548.4 104.03h1M548.4 97.22h1M548.4 93.77h1M548.4 91.32h1M548.4 89.41h1M548.4 87.86h1M548.4 86.55h1M548.4 85.41h1M548.4 84.4h1M548.4 77.6h1M548.4 74.14h1M548.4 71.69h1M548.4 69.79h1M548.4 68.24h1M548.4 66.92h1M548.4 65.78h1M548.4 64.78h1M548.4 57.98h1M548.4 54.52h1M548.4 52.07h1M548.4 50.17h1M548.4 48.61h1M548.4 47.3h1M548.4 46.16h1M548.4 45.16h1M548.4 38.35h1M548.4 34.9h1M548.4 32.44h1M548.4 30.54h1M548.4 28.99h1M548.4 27.67h1M548.4 26.54h1M548.4 25.53h1M548.4 18.73h1M548.4 15.27h1M548.4 12.82h1M548.4 10.92h1M548.4 9.36h1M548.4 8.05h1M548.4 6.91h1M548.4 5.91h1M549.99 157v-1M552.93 157v-1M555.02 157v-1M556.64 157v-1M557.97 157v-1M559.08 157v-1M560.05 157v-1M560.91 157v-1M566.71 157v-1M569.65 157v-1M571.74 157v-1M573.36 157v-1M574.68 157v-1M575.8 157v-1M576.77 157v-1M577.63 157v-1M583.43 157v-1M586.37 157v-1M588.46 157v-1M590.08 157v-1M591.4 157v-1M592.52 157v-1M593.49 157v-1M594.35 157v-1M600.14 157v-1M603.09 157v-1M605.18 157v-1M606.8 157v-1M608.12 157v-1M609.24 157v-1M610.21 157v-1M611.07 157v-1M616.86 157v-1M619.81 157v-1M621.9 157v-1M623.52 157v-1M624.84 157v-1M625.96 157v-1M626.93 157v-1M627.78 157v-1M633.58 157v-1M636.53 157v-1M638.61 157v-1M640.23 157v-1M641.56 157v-1M642.68 157v-1M643.65 157v-1M644.5 157v-1M650.3 157v-1M653.24 157v-1M655.33 157v-1M656.95 157v-1M658.28 157v-1M659.4 157v-1M660.37 157v-1M661.22 157v-1M667.02 157v-1M669.96 157v-1M672.05 157v-1M673.67 157v-1M675 157v-1M676.12 157v-1M677.08 157v-1M677.94 157v-1" style="stroke:#000;stroke-width:.4;stroke-opacity:.7;fill:none"/>
<g font-family='"Liberation Serif", serif' font-size="7.3" fill="#1a1a1a" stroke="#1a1a1a" stroke-width=".18">
<text x="535.8" y="8.01" textLength="8" lengthAdjust="spacingAndGlyphs">10</text><text x="544.4" y="5.41" font-size="5.3" textLength="2.6" lengthAdjust="spacingAndGlyphs">1</text>
<text x="535.8" y="27.63" textLength="8" lengthAdjust="spacingAndGlyphs">10</text><text x="544.4" y="25.03" font-size="5.3" textLength="2.6" lengthAdjust="spacingAndGlyphs">0</text>
<text x="532.1" y="47.26" textLength="8" lengthAdjust="spacingAndGlyphs">10</text><text x="540.7" y="44.66" font-size="5.3" textLength="6.3" lengthAdjust="spacingAndGlyphs">−1</text>
<text x="532.1" y="66.88" textLength="8" lengthAdjust="spacingAndGlyphs">10</text><text x="540.7" y="64.28" font-size="5.3" textLength="6.3" lengthAdjust="spacingAndGlyphs">−2</text>
<text x="532.1" y="86.51" textLength="8" lengthAdjust="spacingAndGlyphs">10</text><text x="540.7" y="83.91" font-size="5.3" textLength="6.3" lengthAdjust="spacingAndGlyphs">−3</text>
<text x="532.1" y="106.13" textLength="8" lengthAdjust="spacingAndGlyphs">10</text><text x="540.7" y="103.53" font-size="5.3" textLength="6.3" lengthAdjust="spacingAndGlyphs">−4</text>
<text x="532.1" y="125.76" textLength="8" lengthAdjust="spacingAndGlyphs">10</text><text x="540.7" y="123.16" font-size="5.3" textLength="6.3" lengthAdjust="spacingAndGlyphs">−5</text>
<text x="532.1" y="145.38" textLength="8" lengthAdjust="spacingAndGlyphs">10</text><text x="540.7" y="142.78" font-size="5.3" textLength="6.3" lengthAdjust="spacingAndGlyphs">−6</text>
<text x="570.94" y="163.6" textLength="8" lengthAdjust="spacingAndGlyphs">10</text><text x="579.54" y="161" font-size="5.3" textLength="6.3" lengthAdjust="spacingAndGlyphs">−5</text>
<text x="604.38" y="163.6" textLength="8" lengthAdjust="spacingAndGlyphs">10</text><text x="612.98" y="161" font-size="5.3" textLength="6.3" lengthAdjust="spacingAndGlyphs">−3</text>
<text x="637.82" y="163.6" textLength="8" lengthAdjust="spacingAndGlyphs">10</text><text x="646.42" y="161" font-size="5.3" textLength="6.3" lengthAdjust="spacingAndGlyphs">−1</text>
<text x="673.1" y="163.6" textLength="8" lengthAdjust="spacingAndGlyphs">10</text><text x="681.7" y="161" font-size="5.3" textLength="2.6" lengthAdjust="spacingAndGlyphs">1</text>
</g>
<rect x="611.1" y="108.5" width="68.7" height="42.1" fill="#fff"/>
<path d="M611.1 108.29V150.81" style="fill:none;stroke:#000;stroke-width:0.42;stroke-opacity:0.9"/>
<path d="M610.89 108.5H680.01" style="fill:none;stroke:#000;stroke-width:0.42;stroke-opacity:0.3"/>
<path d="M679.8 108.29V150.81" style="fill:none;stroke:#000;stroke-width:0.42;stroke-opacity:0.3"/>
<path d="M610.89 150.6H680.01" style="fill:none;stroke:#000;stroke-width:0.42;stroke-opacity:0.3"/>
<path d="M611.1 150.6L611.1 150.3L611.2 150.3L611.4 150.3L611.5 150.3L611.7 150.2L611.8 150.2L612.0 150.2L612.1 150.2L612.2 150.2L612.4 150.2L612.5 150.2L612.7 150.2L612.8 150.2L613.0 150.2L613.1 150.2L613.2 150.2L613.4 150.2L613.5 150.2L613.7 150.2L613.8 150.2L614.0 150.2L614.1 150.2L614.2 150.2L614.4 150.2L614.5 150.2L614.7 150.2L614.8 150.2L615.0 150.2L615.1 150.2L615.3 150.2L615.4 150.2L615.5 150.2L615.7 150.2L615.8 150.2L616.0 150.2L616.1 150.2L616.3 150.2L616.4 150.2L616.5 150.2L616.7 150.2L616.8 150.2L617.0 150.2L617.1 150.2L617.3 150.2L617.4 150.2L617.5 150.2L617.7 150.2L617.8 150.2L618.0 150.2L618.1 150.2L618.3 150.2L618.4 150.2L618.5 150.2L618.7 150.2L618.8 150.2L619.0 150.2L619.1 150.2L619.3 150.1L619.4 150.1L619.5 150.1L619.7 150.1L619.8 150.1L620.0 150.1L620.1 150.1L620.3 150.1L620.4 150.1L620.5 150.1L620.7 150.1L620.8 150.1L621.0 150.1L621.1 150.1L621.3 150.1L621.4 150.1L621.5 150.1L621.7 150.1L621.8 150.1L622.0 150.1L622.1 150.1L622.3 150.1L622.4 150.1L622.5 150.1L622.7 150.1L622.8 150.1L623.0 150.1L623.1 150.1L623.3 150.1L623.4 150.1L623.6 150.1L623.7 150.1L623.8 150.1L624.0 150.1L624.1 150.0L624.3 150.0L624.4 150.0L624.6 150.0L624.7 150.0L624.8 150.0L625.0 150.0L625.1 150.0L625.3 150.0L625.4 150.0L625.6 150.0L625.7 150.0L625.8 150.0L626.0 150.0L626.1 150.0L626.3 150.0L626.4 150.0L626.6 150.0L626.7 150.0L626.8 150.0L627.0 150.0L627.1 150.0L627.3 150.0L627.4 150.0L627.6 149.9L627.7 149.9L627.8 149.9L628.0 149.9L628.1 149.9L628.3 149.9L628.4 149.9L628.6 149.9L628.7 149.9L628.8 149.9L629.0 149.9L629.1 149.9L629.3 149.9L629.4 149.9L629.6 149.9L629.7 149.9L629.8 149.9L630.0 149.8L630.1 149.8L630.3 149.8L630.4 149.8L630.6 149.8L630.7 149.8L630.9 149.8L631.0 149.8L631.1 149.8L631.3 149.8L631.4 149.8L631.6 149.8L631.7 149.7L631.9 149.7L632.0 149.7L632.1 149.7L632.3 149.7L632.4 149.7L632.6 149.7L632.7 149.7L632.9 149.6L633.0 149.6L633.1 149.6L633.3 149.6L633.4 149.6L633.6 149.6L633.7 149.6L633.9 149.5L634.0 149.5L634.1 149.5L634.3 149.5L634.4 149.4L634.6 149.4L634.7 149.4L634.9 149.4L635.0 149.3L635.1 149.3L635.3 149.3L635.4 149.2L635.6 149.2L635.7 149.2L635.9 149.1L636.0 149.1L636.1 149.0L636.3 149.0L636.4 148.9L636.6 148.8L636.7 148.8L636.9 148.7L637.0 148.6L637.1 148.5L637.3 148.4L637.4 148.3L637.6 148.2L637.7 148.1L637.9 148.0L638.0 147.9L638.2 147.7L638.3 147.6L638.4 147.4L638.6 147.3L638.7 147.1L638.9 146.9L639.0 146.7L639.2 146.4L639.3 146.2L639.4 145.9L639.6 145.7L639.7 145.4L639.9 145.1L640.0 144.7L640.2 144.4L640.3 144.0L640.4 143.6L640.6 143.1L640.7 142.7L640.9 142.2L641.0 141.7L641.2 141.1L641.3 140.5L641.4 139.9L641.6 139.2L641.7 138.5L641.9 137.8L642.0 137.0L642.2 136.2L642.3 135.4L642.4 134.5L642.6 133.5L642.7 132.5L642.9 131.5L643.0 130.4L643.2 129.3L643.3 128.2L643.4 127.0L643.6 125.7L643.7 124.5L643.9 123.2L644.0 121.8L644.2 120.5L644.3 119.2L644.4 117.8L644.6 116.5L644.7 115.2L644.9 114.0L645.0 112.9L645.2 112.0L645.3 112.4L645.5 113.4L645.6 114.6L645.7 115.8L645.9 117.2L646.0 118.5L646.2 119.8L646.3 121.2L646.5 122.5L646.6 123.8L646.7 125.1L646.9 126.3L647.0 127.6L647.2 128.7L647.3 129.9L647.5 131.0L647.6 132.0L647.7 133.0L647.9 134.0L648.0 134.9L648.2 135.8L648.3 136.6L648.5 137.4L648.6 138.2L648.7 138.9L648.9 139.6L649.0 140.2L649.2 140.8L649.3 141.4L649.5 141.9L649.6 142.4L649.7 142.9L649.9 143.4L650.0 143.8L650.2 144.2L650.3 144.5L650.5 144.9L650.6 145.2L650.7 145.5L650.9 145.8L651.0 146.1L651.2 146.3L651.3 146.6L651.5 146.8L651.6 147.0L651.7 147.2L651.9 147.3L652.0 147.5L652.2 147.7L652.3 147.8L652.5 147.9L652.6 148.1L652.7 148.2L652.9 148.3L653.0 148.4L653.2 148.5L653.3 148.6L653.5 148.6L653.6 148.7L653.8 148.8L653.9 148.9L654.0 148.9L654.2 149.0L654.3 149.0L654.5 149.1L654.6 149.1L654.8 149.2L654.9 149.2L655.0 149.3L655.2 149.3L655.3 149.3L655.5 149.4L655.6 149.4L655.8 149.4L655.9 149.4L656.0 149.5L656.2 149.5L656.3 149.5L656.5 149.5L656.6 149.5L656.8 149.6L656.9 149.6L657.0 149.6L657.2 149.6L657.3 149.6L657.5 149.6L657.6 149.7L657.8 149.7L657.9 149.7L658.0 149.7L658.2 149.7L658.3 149.7L658.5 149.7L658.6 149.7L658.8 149.7L658.9 149.8L659.0 149.8L659.2 149.8L659.3 149.8L659.5 149.8L659.6 149.8L659.8 149.8L659.9 149.8L660.0 149.8L660.2 149.8L660.3 149.8L660.5 149.8L660.6 149.9L660.8 149.9L660.9 149.9L661.1 149.9L661.2 149.9L661.3 149.9L661.5 149.9L661.6 149.9L661.8 149.9L661.9 149.9L662.1 149.9L662.2 149.9L662.3 149.9L662.5 149.9L662.6 149.9L662.8 149.9L662.9 149.9L663.1 150.0L663.2 150.0L663.3 150.0L663.5 150.0L663.6 150.0L663.8 150.0L663.9 150.0L664.1 150.0L664.2 150.0L664.3 150.0L664.5 150.0L664.6 150.0L664.8 150.0L664.9 150.0L665.1 150.0L665.2 150.0L665.3 150.0L665.5 150.0L665.6 150.0L665.8 150.0L665.9 150.0L666.1 150.0L666.2 150.0L666.3 150.0L666.5 150.1L666.6 150.1L666.8 150.1L666.9 150.1L667.1 150.1L667.2 150.1L667.3 150.1L667.5 150.1L667.6 150.1L667.8 150.1L667.9 150.1L668.1 150.1L668.2 150.1L668.3 150.1L668.5 150.1L668.6 150.1L668.8 150.1L668.9 150.1L669.1 150.1L669.2 150.1L669.4 150.1L669.5 150.1L669.6 150.1L669.8 150.1L669.9 150.1L670.1 150.1L670.2 150.1L670.4 150.1L670.5 150.1L670.6 150.1L670.8 150.1L670.9 150.1L671.1 150.1L671.2 150.1L671.4 150.2L671.5 150.2L671.6 150.2L671.8 150.2L671.9 150.2L672.1 150.2L672.2 150.2L672.4 150.2L672.5 150.2L672.6 150.2L672.8 150.2L672.9 150.2L673.1 150.2L673.2 150.2L673.4 150.2L673.5 150.2L673.6 150.2L673.8 150.2L673.9 150.2L674.1 150.2L674.2 150.2L674.4 150.2L674.5 150.2L674.6 150.2L674.8 150.2L674.9 150.2L675.1 150.2L675.2 150.2L675.4 150.2L675.5 150.2L675.6 150.2L675.8 150.2L675.9 150.2L676.1 150.2L676.2 150.2L676.4 150.2L676.5 150.2L676.7 150.2L676.8 150.2L676.9 150.2L677.1 150.2L677.2 150.2L677.4 150.2L677.5 150.2L677.7 150.2L677.8 150.2L677.9 150.2L678.1 150.2L678.2 150.2L678.4 150.2L678.5 150.2L678.7 150.2L678.8 150.2L678.9 150.3L679.1 150.3L679.2 150.3L679.4 150.3L679.5 150.3L679.7 150.3L679.8 150.3L679.8 150.6Z" fill="#1f77b4"/>
<text x="645.45" y="106.5" font-family='"Liberation Sans", sans-serif' font-size="7.8" text-anchor="middle" fill="#1a1a1a" textLength="59.6" lengthAdjust="spacingAndGlyphs">Error distribution</text>
<text x="625" y="155.6" font-family='"Liberation Serif", serif' font-size="5.2" text-anchor="middle" fill="#1a1a1a" stroke="#111" stroke-width=".12" textLength="14" lengthAdjust="spacingAndGlyphs">−0.02</text>
<text x="645.2" y="155.6" font-family='"Liberation Serif", serif' font-size="5.2" text-anchor="middle" fill="#1a1a1a" stroke="#111" stroke-width=".12" textLength="10.3" lengthAdjust="spacingAndGlyphs">0.00</text>
<text x="665.4" y="155.6" font-family='"Liberation Serif", serif' font-size="5.2" text-anchor="middle" fill="#1a1a1a" stroke="#111" stroke-width=".12" textLength="10.3" lengthAdjust="spacingAndGlyphs">0.02</text>
<path d="M625 150.6v-1.2M645.2 150.6v-1.2M665.4 150.6v-1.2" style="stroke:#000;stroke-width:.6"/>
<path transform="scale(.25)" d="M2356 717h5m-102 10h5m37-6h5m-2 6h5m21-4h5m1 1h5m10-1h5m-80 5h5m-4 4h5m37-1h5m-2 2h5m17-3h5m-137 7h5m33-1h5m0 0h5m3 1h5m11 6h5m3-3h5m4-4h5m21 0h5m9 6h5m-52 6h5m-2-4h5m12 4h5m3 0h5m4-2h5m2 2h5m1-2h5m-4 0h5m-4 3h5m-2-5h5m-1 5h5m-149 5h5m36 2h5m-5 3h5m-2 0h5m9-4h5m14 2h5m-2 2h5m6-3h5m-3-3h5m11 2h5m-2-1h5m8-1h5m-2-1h5m-3 6h5m-5-2h5m-2-4h5m1 2h5m-1-2h5m-3 1h5m-140 8h5m29 2h5m-4 1h5m18 2h5m-3 0h5m14-6h5m-3 6h5m-5-6h5m2 5h5m2-5h5m-4 0h5m-4 5h5m-5-4h5m-4 0h5m-2 6h5m-2-3h5m1-2h5m0-1h5m21 3h5m-137 8h5m10 0h5m-1-3h5m0 3h5m-1-2h5m-2 3h5m2 1h5m-2 1h5m12-3h5m0-2h5m0 3h5m11-5h5m-5 2h5m-3 1h5m1 0h5m12-3h5m-4 7h5m-4-3h5m-4 2h5m0-3h5m2 1h5m-2 2h5m-5 1h5m-4-7h5m-3 6h5m-137 6h5m5-2h5m2 0h5m4 3h5m-3 1h5m-5-1h5m-2 2h5m1-1h5m0-1h5m-1-5h5m-4 3h5m3 0h5m0 4h5m-4 0h5m8-6h5m-1 2h5m-3 0h5m3-1h5m-2-1h5m-5 4h5m0 2h5m-4-1h5m-3-2h5m2 1h5m-5 2h5m-3-6h5m-2 4h5m3 2h5m-1-3h5m-3 2h5m4-2h5m-151 7h5m12-3h5m5 5h5m-3-1h5m1 0h5m1 1h5m15-3h5m4 3h5m-5-1h5m-3 2h5m-3-3h5m-2 3h5m-4-3h5m1 2h5m-3-3h5m1 4h5m-5-1h5m-4-4h5m3 1h5m1 1h5m-1-1h5m0 4h5m-4-3h5m-2 4h5m-5-4h5m-4-3h5m1 7h5m-5-1h5m-4-4h5m-1 5h5m-1-4h5m-5 2h5m-3-2h5m-2 4h5m0-6h5m-4 2h5m-154 5h5m6 6h5m2-4h5m-4 1h5m6-2h5m3 6h5m4-2h5m-1-1h5m-4-2h5m2 4h5m-3-6h5m-5 5h5m-3 2h5m-3 0h5m-4-1h5m-2-2h5m5-2h5m-3 3h5m-2-1h5m-1 0h5m2 0h5m-4-2h5m-1 3h5m-3-2h5m-4 2h5m2 1h5m-1-4h5m-3 3h5m-4-1h5m-4-1h5m3 3h5m-4-4h5m-4 4h5m-2-4h5m1-2h5m-3 5h5m-5-2h5m-2-3h5m-5 1h5m-5 1h5m-1 0h5m-1 4h5m-140 9h5m-2-6h5m1 0h5m-5 6h5m-2 0h5m10-7h5m3 5h5m-2-3h5m-4 4h5m-4 0h5m-1-2h5m-1-3h5m-5 3h5m-2 1h5m-3 2h5m-2 0h5m-2-1h5m-4-4h5m-2-1h5m-2 1h5m-1 0h5m-5 3h5m-4-1h5m-2 2h5m1-6h5m0 6h5m-3-4h5m1 0h5m-5 1h5m-4 2h5m-4 0h5m-4-1h5m-1 3h5m-4 0h5m-4-3h5m-3-4h5m-5 3h5m-3 1h5m-4-2h5m-5-1h5m-5-1h5m-4 7h5m-4-6h5m-3 2h5m-5-1h5m-5 3h5m-4-1h5m-5 3h5m-5-6h5m-4 2h5m-2 4h5m-2-2h5m-4 2h5m-4-1h5m-4-2h5m-5-2h5m-5 1h5m-2 1h5m-3-3h5m-1 6h5m-3-6h5m-153 10h5m1 0h5m-1 3h5m-3-1h5m13 0h5m-5-1h5m-1 2h5m-5-6h5m-4 3h5m-5 4h5m2-1h5m-2-4h5m-2 3h5m-3-4h5m-5 4h5m-2-5h5m6 5h5m-5 0h5m-4-2h5m-4-1h5m-1-2h5m-1 0h5m-5 4h5m-4 2h5m1-1h5m-4 0h5m0 2h5m-5-3h5m-4 3h5m-2-5h5m4-1h5m-5 3h5m-3 0h5m-5-1h5m-2-1h5m-5 2h5m-3-4h5m-4 6h5m-4-5h5m-5-1h5m2 1h5m-4 2h5m-4 1h5m-4-2h5m-4 0h5m-4-1h5m-5 6h5m-1-6h5m-5 1h5m-2 5h5m-2 0h5m-5-6h5m-2 2h5m-4-2h5m-3 5h5m-2-5h5m-4 5h5m-4-3h5m-4 0h5m-5 4h5m-5-5h5m-4 1h5m-4 1h5m-5-3h5m-2 5h5m-5-3h5m-4-1h5m-154 11h5m-4 1h5m-2-4h5m1 3h5m2 0h5m5-1h5m-3 1h5m-4-1h5m-2 1h5m-2-4h5m-3 2h5m-5-2h5m-4 0h5m-4 4h5m-1 0h5m6 0h5m-3 2h5m-2 0h5m3 0h5m-5-2h5m-2 0h5m-3 0h5m-3 2h5m-4-6h5m-4 3h5m-3 0h5m-2 2h5m-4-6h5m-4 6h5m-2-1h5m-5-2h5m-4-2h5m-1 1h5m-5-2h5m-5 1h5m-5 6h5m-5-7h5m-4 2h5m-2-1h5m-3 5h5m-3-5h5m-1 4h5m-3 1h5m-4-2h5m-5 0h5m-5-1h5m-5-1h5m-3 3h5m-3 2h5m-4-1h5m-5-5h5m-5 3h5m-1 0h5m-1 2h5m-5-6h5m-3 1h5m-4 1h5m-4-2h5m-2 3h5m-3 1h5m-5 2h5m-4-1h5m-5 0h5m-2-1h5m-3-2h5m-5 2h5m-4-1h5m-3-2h5m-4 6h5m-4-3h5m-4-3h5m-5 5h5m-3-1h5m-3-3h5m-5-1h5m-4 6h5m-4-2h5m-5-5h5m-4 6h5m-5-1h5m-4-4h5m-153 7h5m-3 2h5m-1 0h5m-1-2h5m6 3h5m-4 0h5m1-3h5m0 1h5m11 5h5m-1 1h5m0-6h5m-4 3h5m3 3h5m0-3h5m-2 2h5m-4-5h5m-4 0h5m-4-1h5m-3 5h5m-5 2h5m-4-3h5m-4 2h5m-3-6h5m-2 1h5m-4 6h5m-5-3h5m-4 2h5m-4-3h5m-4-2h5m-1 6h5m-4-3h5m-5-4h5m-4 3h5m-5-2h5m-3 6h5m-5-6h5m-4 1h5m0 1h5m-3 3h5m-1-1h5m-5-3h5m-4 5h5m-5 0h5m-3-2h5m-4 1h5m-4 0h5m-1-2h5m-4-4h5m-2 0h5m-3 4h5m-5 2h5m-5-2h5m-3 2h5m-4-2h5m-2-4h5m-3 7h5m-4-4h5m-3-1h5m-5 1h5m-3-1h5m-5 3h5m-3-3h5m-5-1h5m-5 5h5m-4-4h5m-5 1h5m-4 0h5m-5 2h5m-5 2h5m-4-5h5m-4 4h5m-5 0h5m-5-3h5m-2 3h5m-156 6h5m-4 3h5m3-6h5m-4-1h5m-4 2h5m-5-1h5m-3 5h5m0-4h5m9 0h5m-3-1h5m-3 6h5m1 0h5m-4 0h5m-4-7h5m-4 5h5m0 1h5m-3-5h5m3 3h5m-5 1h5m-2-2h5m-4 3h5m0-1h5m-1 1h5m5-2h5m-5-3h5m-1 6h5m-2 0h5m-5-1h5m-5 0h5m-4 0h5m-4-6h5m-3 2h5m-5-1h5m-5 4h5m-3 2h5m-3-4h5m-2 2h5m-5 2h5m-3-6h5m-3 1h5m-4 2h5m-3-4h5m-5 3h5m2-2h5m-4 2h5m-5 0h5m-5 0h5m-4-2h5m-4 1h5m-4 1h5m-3 4h5m-5-6h5m-4 5h5m-4-2h5m-4-2h5m-4 2h5m-5-2h5m-4 5h5m-5-1h5m-5-2h5m-5-1h5m-5-3h5m-4 6h5m-3 0h5m-4-1h5m1-1h5m0 0h5m-5-4h5m-4 2h5m-5 5h5m-3-6h5m-5 4h5m-1-2h5m-4 1h5m-5-4h5m-4 1h5m-5-1h5m-156 9h5m-5-1h5m-3 7h5m-4-7h5m2 4h5m0-3h5m3 4h5m-3-2h5m1 4h5m6-2h5m-1-5h5m-2 4h5m3 3h5m-1-4h5m-5 2h5m-3-1h5m-1-2h5m-2 5h5m-4-4h5m0-3h5m-3 3h5m-4 3h5m-4-4h5m-3 4h5m-4 0h5m-4-6h5m-4 3h5m-4 0h5m-5 1h5m-4 3h5m-5-6h5m-3 4h5m-5 2h5m-4 0h5m-5-4h5m-3 1h5m-5 0h5m-3 2h5m-2-1h5m-5-5h5m-4 5h5m-5-1h5m-4 2h5m-5 0h5m-4-6h5m-5 4h5m-4-4h5m-5 3h5m-3-1h5m-5 5h5m-2-6h5m-3 0h5m-3 1h5m-2 2h5m-3-2h5m-5-2h5m-3 6h5m-3 0h5m-3-6h5m-5 2h5m-3 3h5m-1 2h5m-4-1h5m-5-6h5m-3 3h5m-2-1h5m-5 3h5m-5 0h5m-5-1h5m-4-1h5m-5-1h5m-3-2h5m-4 2h5m-3 4h5m-5-2h5m-5 2h5m-4-5h5m-2 4h5m-5-3h5m-5 1h5m-4 4h5m-5-6h5m-2 1h5m-3 0h5m-5 4h5m-3 0h5m-5-6h5m-5 3h5m-4 4h5m-5-3h5m-5-1h5m-152 9h5m-1 0h5m-3 0h5m-4 2h5m2 0h5m-5 1h5m10-3h5m-5 3h5m0-4h5m-2-2h5m-5 2h5m-3 0h5m-5 2h5m-1-3h5m-5 2h5m2-3h5m-4 5h5m-5-5h5m7-1h5m-5 0h5m-5 6h5m-3-5h5m-5 5h5m-3-2h5m-4 2h5m-4-5h5m-4 2h5m-4-1h5m-5 4h5m-1-4h5m-1 1h5m-5 2h5m-5-5h5m-5 5h5m-5-5h5m0 5h5m-5 1h5m-4-3h5m-5 2h5m-3-2h5m-5-3h5m-5 6h5m-4-5h5m-4 2h5m-4-1h5m-4 3h5m-4-1h5m-3 1h5m-4-1h5m-5-2h5m-3 5h5m-5-4h5m-2 1h5m-5 2h5m-2-5h5m-5-1h5m-4 6h5m-5-4h5m-4 2h5m-4-1h5m-4 2h5m-4 2h5m-4-2h5m-5 1h5m-4 1h5m-5-6h5m-4 4h5m-5 1h5m-4-6h5m-4 2h5m-1 4h5m-4-5h5m-5 0h5m-3 5h5m-3-6h5m-3 3h5m-2 0h5m-4 2h5m-5-2h5m-4 3h5m-3-3h5m-3 1h5m-5 2h5m-3 1h5m-4-2h5m-4-2h5m-2-1h5m-4 0h5m-5 5h5m-3-1h5m-3-2h5m-5-3h5m-155 13h5m13-1h5m-4-1h5m1-4h5m0 0h5m-5 3h5m12 1h5m-1 3h5m-4-4h5m-2-1h5m-2 5h5m-3-1h5m-4-3h5m-1 0h5m-5-3h5m-5 1h5m-4 3h5m-4-1h5m-4-3h5m-5 2h5m-4-2h5m-5 1h5m-4 0h5m-4 3h5m-2 2h5m-4 1h5m-4-4h5m-4 1h5m-5 2h5m-3-2h5m1-1h5m-5 4h5m-4-6h5m-4 3h5m-4-4h5m-2 4h5m-4 1h5m-3-2h5m-5 0h5m-3 3h5m-5-6h5m-2 7h5m-5-6h5m-3 2h5m-4 4h5m-4 0h5m1-6h5m-4 1h5m-2-2h5m-4 1h5m-4-1h5m-5 4h5m-4-3h5m-3 0h5m-4 1h5m-3 3h5m-3 2h5m1-6h5m-3 5h5m-4 1h5m-5-5h5m-2-1h5m-4 5h5m-4-6h5m-4 2h5m-4 2h5m-5-4h5m-4 5h5m-5-1h5m-4-2h5m-5-1h5m-5 2h5m-5 0h5m-4-3h5m-5 7h5m-4 0h5m-5-7h5m-3 6h5m-5-4h5m-2 4h5m-3-2h5m-5 3h5m-5-4h5m-5 1h5m-5-2h5m-4-1h5m-5 6h5m-4-3h5m-144 7h5m-4-1h5m-3 1h5m-5-3h5m-1 7h5m-1-1h5m-3-3h5m-5-3h5m6 4h5m-4 1h5m-2 1h5m0-3h5m-1-1h5m-4-1h5m-4 1h5m-4 4h5m-4-4h5m-3 3h5m-3-3h5m-3-2h5m-1 3h5m1 4h5m-4-5h5m-2 4h5m-5-3h5m-4 3h5m-5-2h5m-3-1h5m-5 0h5m-2 1h5m-5-4h5m-5 5h5m-2-3h5m-3-2h5m-2 3h5m-5-1h5m-1 1h5m-3 2h5m-5-5h5m-5 1h5m-4 6h5m-4-2h5m-4-2h5m-1-1h5m-5 1h5m-4 0h5m-3 1h5m-1-3h5m-4 5h5m-5-5h5m-4 6h5m-4 0h5m-5-3h5m-4 1h5m-5-5h5m-3 5h5m-5-1h5m-4 0h5m-5-4h5m-4 4h5m-4 2h5m-4-1h5m-4-4h5m-5 5h5m-4-6h5m-4 7h5m-3-4h5m-4-3h5m-5 7h5m-2-2h5m-3-5h5m-4 0h5m-5 5h5m-4 0h5m-4 2h5m-5-2h5m-4-2h5m-3-1h5m-4-1h5m-5 6h5m-4-5h5m-5 3h5m-1-5h5m-4 3h5m-4 3h5m-5-1h5m-4-5h5m-5 3h5m-4-1h5m-4 1h5m-3 4h5m-5 0h5m-5-5h5m-3-1h5m-3 6h5m-154 4h5m-3 2h5m5 2h5m4-2h5m-1 0h5m-5-5h5m-3 0h5m-5 6h5m-4-5h5m4-1h5m-1 0h5m-1 5h5m-4-3h5m-4 5h5m-3-3h5m-3 1h5m-5-5h5m1 5h5m-4-1h5m-5-4h5m0 3h5m-5-3h5m-4 1h5m-4 2h5m-1 4h5m-4-5h5m-3 4h5m-1 1h5m-5-2h5m-4-5h5m-1 7h5m-5-4h5m-4 4h5m0-5h5m-5 0h5m-3 0h5m-3 2h5m-4 2h5m-5-4h5m0 4h5m-5-2h5m-3 2h5m-3 1h5m-4-4h5m-4-2h5m-5 0h5m-4 2h5m-4-3h5m-5 6h5m-5-5h5m-5 5h5m-4-1h5m-1-5h5m-5 0h5m-5 4h5m3 1h5m-3-4h5m-3 3h5m-4-4h5m-4 2h5m-4 3h5m-4-1h5m-4 0h5m-5-3h5m-4 2h5m0 2h5m-5 0h5m-5 1h5m-5-2h5m-4-3h5m-5 2h5m-1-1h5m-4 2h5m-5-3h5m-5 6h5m-4-5h5m-4 4h5m-4 0h5m-3-5h5m-5 2h5m-4-2h5m-4 3h5m-5 1h5m-4 0h5m-4 0h5m-134 6h5m-3-1h5m-2-1h5m-1 4h5m-4-3h5m0 0h5m-5 1h5m-2-2h5m7 2h5m-4-1h5m-5 0h5m-1 5h5m-2 0h5m0 0h5m-2-1h5m-4 1h5m0-4h5m-1-3h5m-2 1h5m0 6h5m-2-7h5m-2 2h5m-5 1h5m-4 0h5m-2 4h5m-4-4h5m-5 2h5m-5-1h5m-4-1h5m-4-2h5m-5 5h5m-2-6h5m-2 2h5m-5 4h5m-4 1h5m-2-2h5m-2-5h5m-1 2h5m-5 5h5m-3-3h5m-3 1h5m0-2h5m-2-2h5m-4 0h5m-4 6h5m-2 0h5m-5-7h5m-2 4h5m-3 2h5m-4-2h5m-5 1h5m-3 0h5m-1-3h5m-3-1h5m-2 3h5m-4-4h5m-150 8h5m-5 5h5m7-2h5m0-3h5m3 7h5m-3-7h5m-4 6h5m4-5h5m-2 0h5m4 4h5m-3-1h5m-4-3h5m-5 6h5m-4-1h5m-4-6h5m-4 3h5m-5 1h5m-2-3h5m-3 4h5m-5 2h5m4-4h5m-3-1h5m-4-1h5m-4 5h5m-4 1h5m-4-7h5m-5 7h5m0-7h5m-1 3h5m-4 0h5m-2 3h5m-5-4h5m-5 5h5m-4-7h5m4 5h5m-4 2h5m-5-2h5m-4-5h5m-4 1h5m-3 3h5m-5 2h5m-2-1h5m2-4h5m3 3h5m-4-1h5m-3 4h5m-5-6h5m-3 4h5m-3-5h5m-5 3h5m-4-1h5m-4 2h5m-4-4h5m-4 3h5m-5 3h5m-4 1h5m-3-3h5m1-4h5m-5 3h5m-1-1h5m-142 6h5m3 2h5m-4-1h5m-4 4h5m-4-4h5m2 1h5m4 2h5m-4 1h5m3 1h5m-4-6h5m2 7h5m-4-6h5m-4 3h5m-3 1h5m4-3h5m-3 2h5m-5 3h5m-3-7h5m0 5h5m-5 2h5m-4-5h5m-4 4h5m-3 0h5m0-6h5m-3 4h5m-4-4h5m-4 7h5m-4 0h5m-2-5h5m-5 1h5m-2-2h5m-2 1h5m-4 2h5m-5-1h5m-4 2h5m-2 0h5m-4-4h5m-2 0h5m-4 2h5m-5-1h5m-4-1h5m-4 5h5m-4-3h5m-2-3h5m-5 0h5m-4 4h5m-4 1h5m-5-3h5m-4 3h5m-3 0h5m-3-4h5m-4 4h5m-5-5h5m-3 4h5m-5 3h5m0-6h5m-2 4h5m-5-4h5m-5 2h5m-5-3h5m-5 6h5m-4-3h5m-4-2h5m-4 5h5m-4-5h5m-3 2h5m-4 1h5m-5 3h5m-4-3h5m-4 1h5m-4 0h5m-3-3h5m-5-1h5m-4 3h5m-3-1h5m-140 12h5m1-6h5m-2 0h5m3 4h5m2-1h5m3-4h5m-1 3h5m-2-3h5m-3 2h5m-4-1h5m-4 5h5m-3-4h5m-3 4h5m-4-5h5m-4 2h5m-4-3h5m-4 4h5m-3-4h5m-3 7h5m-4-6h5m-4 6h5m-5-2h5m-1 0h5m-1-1h5m-3 3h5m-4-7h5m-2 7h5m-4-2h5m-4 1h5m-5-5h5m-3 4h5m0-3h5m1 1h5m-4 0h5m-1 4h5m-3-1h5m-3-3h5m-4 2h5m-5-3h5m-4 0h5m-4 4h5m-3-4h5m0 2h5m-4-4h5m-2 5h5m-4-4h5m-4 1h5m-3 0h5m-5 0h5m-4 3h5m-5-4h5m-5 4h5m-2-1h5m-4 1h5m-5-4h5m-3-1h5m-2 6h5m-4-6h5m-5 5h5m-1-1h5m-4 3h5m-3-4h5m-3 2h5m-3-4h5m-5 5h5m-157 7h5m-4 1h5m-1-1h5m-1-5h5m0 0h5m-3 1h5m-1 4h5m-3 0h5m-4-4h5m1 5h5m0-1h5m0-2h5m-5-1h5m3 5h5m-1-2h5m-3-4h5m-5 0h5m-5 2h5m1-2h5m-1 0h5m-2 5h5m1-4h5m-3-1h5m2 5h5m-4-4h5m-3 1h5m-3-2h5m-3 6h5m-2-4h5m1 1h5m-4 3h5m-5-3h5m-1-2h5m-1 0h5m-3 0h5m-1-1h5m-4 0h5m-4 5h5m-4-3h5m-3 1h5m-1 2h5m-4 1h5m-3 0h5m-4-3h5m-3 0h5m-5-4h5m3 4h5m-4 2h5m-2-4h5m-4 0h5m-3 4h5m-2-5h5m-3-1h5m-4 7h5m-119 5h5m0-4h5m-2 1h5m-1 3h5m-5-2h5m-1 3h5m6-1h5m-2-2h5m-3 1h5m-1-2h5m-5 2h5m-4 4h5m4-3h5m-3-2h5m3 0h5m-4 5h5m1-4h5m-1-3h5m2 2h5m-5 2h5m-3-3h5m-3 5h5m-5-2h5m5 1h5m0-5h5m-5 2h5m9 4h5m-4 0h5m-5-1h5m-3-1h5m-5-2h5m-4 2h5m-4 0h5m-4-1h5m-5-3h5m-5 2h5m-5 1h5m-1 3h5m-4 0h5m-158 4h5m2-1h5m3 3h5m-3-3h5m3 2h5m1 4h5m26 0h5m0-4h5m-4-2h5m14 3h5m5-2h5m-3-1h5m-4 1h5m-1 3h5m-5-4h5m-4 6h5m-1-5h5m2-2h5m-4 3h5m2 2h5m-4-3h5m-3 2h5m-4 0h5m1 2h5m-4-5h5m-2 1h5m0 0h5m1 2h5m-1-1h5m-112 10h5m26 0h5m-4-1h5m-1-1h5m-5-1h5m-1 2h5m-2-1h5m-5 4h5m-2-3h5m4 1h5m2 2h5m2-2h5m4-4h5m-4-1h5m-3 4h5m4-4h5m0 6h5m-3-2h5m-5-4h5m-5 2h5m-5 1h5m0 1h5m-4 1h5m-4 2h5m-144 5h5m4-3h5m15 1h5m-4-2h5m1 5h5m2-5h5m-4 4h5m9-1h5m6 2h5m4-4h5m-2 4h5m-4-5h5m-4 6h5m5-6h5m1 5h5m0-3h5m4 5h5m-3 0h5m-5-5h5m-4 4h5m-3-4h5m-5-2h5m3 2h5m-4-2h5m-5 1h5m-4-1h5m-4 1h5m-4 4h5m-2 1h5m-3 1h5m-138 8h5m19-4h5m-4-1h5m-4-2h5m22 0h5m7 3h5m-4 0h5m-4-2h5m15 3h5m5-2h5m17 0h5m-3-1h5m-2 5h5m-1-6h5m-2 3h5m-5 2h5m-150 8h5m56 2h5m27-3h5m10-3h5m31 6h5m-4-4h5m-2-2h5m1 3h5m-141 10h5m22-4h5m4 5h5m6-1h5m11-1h5m20-5h5m-3 3h5m1-2h5m3 2h5m7 0h5m-2 1h5m12-1h5m-65 11h5m41-6h5m2 0h5m-106 15h5m-42 5h5m91-3h5m-82 8h5m50 3h5m5-1h5m-2-3h5m31 7h5m14 0h5m-134 6h5m50 5h5m7 2h5m-12 6h5m27 4h5m-19 8h5m11 1h5m-111 23h5m21 5h5m49 59h5m32 24h5m-129 3h5m8 26h5m111 21h5m-107 40h5" style="stroke:#d3d7d1;stroke-width:5.2;fill:none"/>
<path transform="scale(.25)" d="M2669 782h5m-308 3h5m2 4h5m7 0h5m50-1h5m24 0h5m8 2h5m-3-3h5m24 4h5m100 0h5m-249 2h5m-5 6h5m15-2h5m2 0h5m21 1h5m9 1h5m11-7h5m-3 4h5m-5-3h5m0 2h5m0 1h5m-3 0h5m8-3h5m6 5h5m-3-2h5m13 3h5m3-5h5m14 4h5m2-1h5m34-2h5m13-1h5m7 3h5m-3 0h5m4-1h5m-4 3h5m-2-2h5m3-5h5m11 5h5m-297 8h5m-1-2h5m3 2h5m21 1h5m-5-3h5m24-2h5m0 3h5m7 0h5m8 1h5m6 0h5m33-5h5m6 6h5m3 1h5m15-7h5m-1 7h5m10-5h5m5 5h5m13-5h5m4 1h5m8 3h5m23-1h5m-3-3h5m-287 11h5m-2-5h5m6 1h5m-4 3h5m17 2h5m0 0h5m-1 0h5m-5-1h5m6-1h5m9 2h5m28-5h5m14 1h5m1 0h5m8 0h5m-5 4h5m-3-2h5m4-3h5m35-1h5m5 4h5m-4-2h5m23 3h5m4 1h5m5-6h5m17 2h5m0 2h5m9-3h5m-4 4h5m-300 3h5m-4 2h5m-3 3h5m-2 0h5m-3-3h5m11 0h5m0 5h5m1-6h5m9 2h5m-4 2h5m3-1h5m-4-2h5m-4 3h5m0 0h5m0-2h5m-2-1h5m-5 4h5m-1-5h5m-4 6h5m23-2h5m-4 2h5m11-3h5m16-2h5m0 1h5m-3-1h5m-3 1h5m-3-1h5m-5 2h5m-4 2h5m-2-6h5m-3 6h5m-4-6h5m-5 6h5m-5-3h5m-1-3h5m0 5h5m-2 2h5m-3-4h5m-2 2h5m2-4h5m-1 1h5m7 5h5m0-7h5m-5 0h5m22 5h5m-3-5h5m4 4h5m-4 2h5m-1-3h5m-4-3h5m-5 5h5m-2-5h5m-3 2h5m-4-1h5m-4 1h5m17 4h5m-4-5h5m-1 3h5m-4-3h5m-2 0h5m-4-1h5m-2 2h5m-4-1h5m-2 4h5m-2-3h5m-300 6h5m-3 7h5m6-2h5m-1 0h5m10-5h5m-5 5h5m-4 2h5m-1 0h5m-4-6h5m0 2h5m-3 3h5m-2 0h5m-4 1h5m-4-1h5m-4-2h5m-1 0h5m5 0h5m0 0h5m-1-4h5m-3 1h5m0 0h5m3-1h5m-2 3h5m-2 2h5m-2-2h5m-3 3h5m0-2h5m-2 0h5m-3-1h5m-1 0h5m-5-3h5m4 1h5m13 4h5m8-2h5m-4 0h5m-1-3h5m-5 4h5m5 2h5m2-4h5m-3 1h5m7-1h5m-4 5h5m-5-6h5m-1 2h5m0-2h5m-5 1h5m3 5h5m-5-5h5m-4 1h5m1 2h5m-3 0h5m0-4h5m7 2h5m-4-2h5m5-1h5m-3 4h5m-2 3h5m10-4h5m-5 0h5m-4 0h5m-5-2h5m-1-1h5m2 2h5m-2 2h5m-4 3h5m-3-1h5m-3 0h5m-3 0h5m2 1h5m-305 2h5m1 0h5m2-1h5m2 1h5m-3 0h5m-3 0h5m1 2h5m-3-3h5m1 3h5m-2-3h5m-2 2h5m4-2h5m-2 0h5m16 1h5m-2 2h5m-4 0h5m0-3h5m10 2h5m25-2h5m-1 3h5m-4 0h5m12-3h5m14 3h5m-5-2h5m-4 3h5m6-1h5m-2-3h5m23 4h5m-3-1h5m26-1h5m-5 0h5m8-1h5m-3 3h5m10-2h5m-1-2h5m1 0h5m-5 1h5m2-1h5m-5 1h5" style="stroke:#7cb8f8;stroke-width:5.2;fill:none"/>
<path transform="scale(.25)" d="M2405 815h5m0-1h5m14 0h5m11 0h5m14 1h5m21 0h5m95-1h5m13 0h5m24 0h5m4-1h5m-4 2h5m6 0h5m-1-2h5m1 0h5m-297 9h5m-4-3h5m14-2h5m-3 6h5m14-3h5m-5 3h5m1-5h5m-1-2h5m12 5h5m9 0h5m-1 0h5m1-4h5m0 5h5m13 1h5m14-3h5m2 2h5m8-2h5m-4 0h5m10-3h5m10 0h5m0 5h5m-4 0h5m0-2h5m11-1h5m-2 1h5m4 3h5m-2-3h5m-3-3h5m-4 1h5m12 0h5m13 5h5m1-5h5m-287 6h5m-4 7h5m-4-4h5m3 4h5m-5-4h5m-3-1h5m-4 4h5m-1 1h5m-3 0h5m-4-3h5m-1-2h5m0 5h5m-5-1h5m1-6h5m-3 6h5m-5-5h5m-5 0h5m-2 5h5m2-3h5m0 4h5m-2-5h5m2 2h5m-1 0h5m-2 2h5m-4-5h5m8 6h5m-1 0h5m-3-1h5m1 1h5m-3 0h5m-4-6h5m-1 6h5m1-7h5m-4 2h5m-4-2h5m-3 7h5m-5-1h5m-4 0h5m-4-3h5m1 4h5m-3 0h5m3-6h5m-5 6h5m0-4h5m-5 4h5m-3-2h5m4 2h5m-3-7h5m-4 2h5m-3 4h5m-4-1h5m0 1h5m-4 0h5m-5 1h5m-2-3h5m19 3h5m-5-1h5m-4 1h5m4-7h5m-4 1h5m-4 3h5m0 3h5m0 0h5m-4 0h5m-2 0h5m6 0h5m-4 0h5m-3-1h5m-4 1h5m0-2h5m-5 1h5m0-6h5m-4 1h5m-2 1h5m-5-1h5m-3-1h5m-1 7h5m-5-2h5m-4 2h5m-1-3h5m-4 2h5m-4 1h5m-2-1h5m-3 1h5m-3-4h5m0 3h5m-5-5h5m-4 5h5m-5 0h5m1 1h5m5 0h5m-2-3h5m-4 3h5m0-5h5m-5 1h5m-5-2h5m-2 6h5m-1-1h5m-5 1h5m-4 0h5m-308 2h5m-5 5h5m-3-4h5m-4-1h5m-4 5h5m-5-4h5m-3 4h5m-4 0h5m-5-5h5m-3 2h5m-4-1h5m-3 4h5m-5-3h5m-5 0h5m-2 4h5m-5-4h5m-1 2h5m-5-3h5m-4 4h5m-2-5h5m-4 3h5m-2 1h5m-3-4h5m-5 4h5m-5 2h5m-4-6h5m-4 2h5m-4 1h5m-5-2h5m-5 2h5m-5-2h5m1 2h5m-4 3h5m-5-2h5m-4-3h5m-5 4h5m-2-1h5m-3-2h5m-4-2h5m-4 4h5m-4-1h5m-5 1h5m-5-4h5m-4 3h5m-5 3h5m-4-5h5m-3 0h5m-4-1h5m-4 5h5m0-4h5m-5 4h5m-3 0h5m-3 1h5m-4-2h5m-5 0h5m-5-5h5m-3 3h5m-5 4h5m-4-2h5m-5 0h5m-2 0h5m-4-2h5m-5 2h5m-4 2h5m-5-3h5m-2-2h5m-3 0h5m-4 4h5m-5-3h5m-4-3h5m-2 3h5m-5-3h5m-5 3h5m-4 2h5m-5-4h5m-1 6h5m-5-3h5m-4 2h5m-4-2h5m-4 1h5m-5-3h5m-4-1h5m-4 2h5m-3-3h5m-5 6h5m-5 0h5m-4-6h5m-3 0h5m-4 1h5m-4 4h5m-2 2h5m-5-5h5m-3 0h5m-5 2h5m-3-4h5m-4 7h5m-5-3h5m-3 1h5m-5 2h5m-3-3h5m-5-4h5m-3 1h5m-3 1h5m-5-1h5m-2 4h5m-5-4h5m-4 0h5m-4-1h5m-1 5h5m-3-3h5m-3 1h5m-2 4h5m-5-5h5m-4 0h5m-4 1h5m-5-3h5m-3 2h5m-4 1h5m-4 4h5m-2 0h5m-1-7h5m-4 0h5m-5 6h5m-4-5h5m-5 4h5m-5 1h5m-5-5h5m-4-1h5m-5 3h5m-4-2h5m-5 6h5m-2-5h5m-2 1h5m-3-2h5m-4 2h5m-3-1h5m-3 3h5m-5 2h5m-5-7h5m-4 2h5m-4 2h5m-5 0h5m-4-2h5m-4 5h5m-5 0h5m-4-1h5m-5-5h5m-3 2h5m-5 3h5m-3 0h5m-3 1h5m-4-1h5m-5-6h5m-4 1h5m-3 3h5m-3-4h5m-5 3h5m-4 1h5m-4-4h5m-5 2h5m-5 4h5m-4-1h5m-3-1h5m-5 2h5m-4-5h5m-4 5h5m-4-6h5m-5 2h5m-4 2h5m-3 0h5m-5 0h5m-5-3h5m-4 0h5m-4 4h5m-5-5h5m-1 4h5m-2 3h5m-4-5h5m-3 3h5m-3-1h5m-2 2h5m-5-6h5m-5 2h5m-3 1h5m-5 0h5m-5-3h5m-4 2h5m-4 3h5m-5 1h5m-4-6h5m-5 7h5m-5-5h5m-5 3h5m-1-5h5m-5 3h5m-4-1h5m-5-2h5m-4 2h5m-4 4h5m-4-1h5m-3 1h5m-2 0h5m-3-4h5m-4-2h5m-5 3h5m-4-3h5m-3 7h5m-1 0h5m-4-7h5m-5 4h5m-3-1h5m-5-2h5m-4-1h5m-5 6h5m-1 0h5m-5-1h5m-4 0h5m-5-3h5m-4-1h5m-2 4h5m-4 0h5m-4 2h5m-5-5h5m-4 2h5m-4 0h5m-5-3h5m-5 0h5m-5 6h5m-4-3h5m-5-1h5m-2 0h5m-4 4h5m-5-1h5m-5-1h5m-1-5h5m-5 4h5m-4-1h5m-5-3h5m-5 4h5m-4 3h5m-4-4h5m-5-1h5m-4 4h5m-5-6h5m-3 6h5m-3-6h5m-5 3h5m-4 3h5m-2-1h5m-5-4h5m-5 4h5m-5-1h5m-5 2h5m-5-2h5m-4-3h5m-3-1h5m-5 7h5m-5-1h5m-3-6h5m-4 3h5m-4-3h5m-2 2h5m-3-1h5m-3 4h5m-5-1h5m-4-1h5m-4 1h5m-5 2h5m-5-6h5m-4 1h5m-5 1h5m-4-2h5m-4 1h5m-5 4h5m-4-1h5m-5 2h5m-4-2h5m-5 1h5m-5-5h5m-5 0h5m-4 4h5m-3-4h5m-4 0h5m-5 3h5m-4-3h5m-5 6h5m-4-6h5m-5 0h5m-3 0h5m-5 1h5m-4 6h5m-4-5h5m-5 3h5m-4-1h5m-5-3h5m-2 2h5m-310 8h5m-4 3h5m0-1h5m-5 2h5m-5-3h5m-3-3h5m-5 6h5m-4-3h5m-4 0h5m-4-4h5m-5 3h5m-2 2h5m0-1h5m-5 0h5m-4 2h5m2-1h5m-5-1h5m-4 2h5m-3-6h5m-5 3h5m-4-1h5m-4-2h5m-3 7h5m-5-2h5m-5-2h5m-2 1h5m-4 0h5m-5-4h5m-1 5h5m-3-4h5m-5 5h5m-2 1h5m-5-1h5m-4-4h5m-5 0h5m-4 2h5m-3-4h5m-5 1h5m-4-1h5m-5 6h5m-5-5h5m-3 5h5m-5-6h5m-4 0h5m-2 0h5m-4 5h5m-4 2h5m-5-7h5m-4 4h5m-4-1h5m-3 2h5m-3 0h5m-4 2h5m-5-1h5m-4-6h5m-5 6h5m-5 1h5m-4-1h5m-3-3h5m-1 2h5m-5 1h5m-5-6h5m-4 2h5m-3-1h5m-4 2h5m-5 2h5m-3-1h5m-5 3h5m-3-7h5m-1 4h5m-2 2h5m-1-6h5m-4 0h5m-3 4h5m-3-4h5m-2 6h5m-4-5h5m1 2h5m-4 1h5m-4 1h5m-5-2h5m-5 4h5m-3 0h5m-4-6h5m2-1h5m-5 1h5m-5 1h5m-2 0h5m0-2h5m-4 1h5m-4 4h5m-4-2h5m-5-2h5m-4-1h5m-4 4h5m-5 3h5m-3-2h5m-3 2h5m-5-2h5m-4-2h5m-5 2h5m-3-3h5m-5 1h5m-3 4h5m-2-4h5m-5 1h5m-1 0h5m-4 0h5m2-4h5m-5 1h5m-4 0h5m-4 4h5m-4-3h5m-4 0h5m-5 3h5m-3 2h5m-5-6h5m-3 0h5m-5 4h5m-5-3h5m-4 5h5m-2-5h5m-1 1h5m-4 4h5m-1-5h5m-5 0h5m-3 2h5m-4 1h5m-1-5h5m-4 1h5m-5 1h5m-4 4h5m-3-6h5m-4 3h5m-3 2h5m-3 1h5m-3-1h5m-5-5h5m-2 6h5m-4 0h5m-5 0h5m-4 0h5m-1 0h5m-5-1h5m-4 2h5m-2-5h5m-2-1h5m-4 4h5m-4 2h5m-2-5h5m-3-1h5m-4 2h5m-5 2h5m-3 1h5m-4-5h5m-5 6h5m-4-4h5m-4 2h5m-3 0h5m-3-2h5m-5-1h5m-3-2h5m-5 4h5m-3 0h5m-4-3h5m-3-1h5m-1 1h5m-4 6h5m-4-7h5m-4 4h5m-5 3h5m-4-4h5m-5-3h5m-5 5h5m-1-4h5m-5 6h5m-1-1h5m-3-2h5m-4-2h5m-1 3h5m-3-3h5m-5-2h5m-5 3h5m-5 3h5m-4 0h5m-2-4h5m-5 4h5m-2-6h5m-5 2h5m-4 4h5m-4-2h5m-5-4h5m-4 4h5m-5-3h5m-4 6h5m-3-3h5m-5-4h5m-4 1h5m-2 4h5m-4-5h5m-1 7h5m-4-3h5m-5 1h5m-4-3h5m-5 0h5m-4 5h5m-5-6h5m-3-1h5m-5 4h5m-3-4h5m-4 6h5m-5-4h5m-5 2h5m-2-1h5m-4-1h5m-3 1h5m-5-2h5m-4-1h5m-5 3h5m-3-1h5m-4 5h5m-309 1h5m-4 4h5m-4 1h5m-5 0h5m-3 1h5m-4-6h5m-2 3h5m-3-3h5m-3 4h5m-5-3h5m-5 3h5m-4-3h5m-3-1h5m-3 1h5m-3 1h5m-3 1h5m-4-2h5m-5 3h5m-4 3h5m-5-7h5m-2 7h5m-5-2h5m-4 0h5m-3 0h5m-5-4h5m-5 4h5m-3-4h5m-3 1h5m-4 2h5m1 2h5m-4 1h5m-4-2h5m-2 0h5m-4-1h5m-5 0h5m-4-2h5m-4 2h5m-5-1h5m-3-3h5m-5 5h5m-4 0h5m-3 2h5m-3 0h5m-3-6h5m-3 6h5m-3-4h5m-5-1h5m-3 3h5m-5-5h5m-4 7h5m-3-1h5m-1-4h5m-3 2h5m-4-3h5m-1 6h5m-5-4h5m-4 2h5m-4-5h5m-2 2h5m-4 0h5m-5 4h5m-3 1h5m-3-1h5m-4-2h5m-3-4h5m-4 4h5m-3 3h5m-1-6h5m-5 3h5m-4 0h5m-3 2h5m-4-2h5m-4 3h5m-3-2h5m-3-1h5m-4-1h5m-5 4h5m-4-2h5m-3-2h5m-5 0h5m-5 1h5m-5-4h5m-4 5h5m-5-4h5m-4 0h5m-4 1h5m-2 4h5m-3-5h5m-4 4h5m-5 0h5m-3 0h5m-3-5h5m-5 2h5m-4 1h5m-2 3h5m-3-4h5m-3 0h5m-5 2h5m-4-4h5m-4 6h5m-3 1h5m-5-7h5m-5 7h5m-4-6h5m-2 1h5m-5 5h5m-5-4h5m-5-3h5m-3 4h5m-2-3h5m-4 0h5m2 6h5m-2-6h5m-1 5h5m-1-3h5m-5 3h5m-4-5h5m0 4h5m-3 2h5m-4-7h5m-3 1h5m-5 4h5m-3-3h5m-4-1h5m-3 1h5m-3 0h5m-4-2h5m-4 7h5m-3-5h5m-2-2h5m-4 5h5m-5-1h5m-5-2h5m-3 2h5m-5 2h5m-5-5h5m-4 4h5m-4-4h5m-2 6h5m-4-6h5m-5 1h5m-4 5h5m-5-4h5m-4 0h5m-2-3h5m-4 5h5m-5-5h5m-4 1h5m-5-1h5m-5 4h5m-4-2h5m-3-1h5m-3 4h5m-4-3h5m-4 2h5m-5-3h5m-3 0h5m-4 6h5m-4-4h5m-4 0h5m-5 0h5m-5 3h5m-2 1h5m-3-5h5m-4 5h5m-2-6h5m-4 3h5m-5-2h5m-4 1h5m-5 3h5m-4 1h5m-4 0h5m-5-6h5m-4 6h5m-2-1h5m-5-5h5m-2 4h5m-5-4h5m-4 1h5m-3 5h5m-5-4h5m-4 2h5m-4-4h5m-4 0h5m-3 6h5m-3-3h5m-3 2h5m-4-3h5m-5 2h5m-5-1h5m-4-4h5m-2 2h5m-4 0h5m-2 0h5m-4 3h5m-5-5h5m-4 7h5m-1-3h5m-4 2h5m-2-1h5m-5-5h5m-3 7h5m-3 0h5m-4-3h5m-4-3h5m-5 4h5m-5 0h5m-5-1h5m-5-2h5m-4 2h5m-4 2h5m-4-5h5m-5 2h5m-4 2h5m-3-3h5m-5 1h5m-5 0h5m-3-2h5m-3-1h5m1 3h5m-5 4h5m-5 0h5m-5-1h5m-4-5h5m-4 2h5m-4 1h5m-4 0h5m-3-4h5m-5 4h5m-3-2h5m-4 5h5m-3-5h5m-5 3h5m-4-3h5m-3 3h5m-1-4h5m-4 4h5m-4 1h5m-4-4h5m-315 11h5m-4 1h5m-2-6h5m-5 6h5m-4 0h5m0-4h5m-3 1h5m-4-1h5m-5 5h5m-3-3h5m-5 1h5m-2-5h5m-4 0h5m-4 2h5m2 5h5m-4-2h5m-4-2h5m-4-2h5m-3 2h5m-4 0h5m-2 3h5m-5 0h5m-4-4h5m-5 1h5m-5 1h5m0 3h5m-4-2h5m-4-1h5m-5-1h5m-5 3h5m-1-3h5m-2 3h5m-3-4h5m-4 1h5m-3 4h5m-5-6h5m-4 5h5m2-6h5m-4 2h5m-3 5h5m-5-1h5m-2-3h5m-4 3h5m-4 1h5m-4 0h5m-3-3h5m-3-3h5m-3 0h5m0 3h5m-4 2h5m-2-6h5m-4 1h5m1 0h5m-4 6h5m-2-4h5m-3 4h5m-1-3h5m-4 3h5m-4-1h5m-5-6h5m-5 0h5m-5 5h5m-1 1h5m-4-4h5m-5-2h5m-4 7h5m-3 0h5m-5-7h5m-2 6h5m-1 0h5m-5-5h5m-5 0h5m-3 3h5m-1-3h5m-5 4h5m-5-5h5m-5 1h5m-4 2h5m-4 2h5m-5 2h5m-5-3h5m-4-2h5m-5 1h5m-3 2h5m-4 0h5m-4-1h5m-4-4h5m-5 0h5m-5 1h5m-4 1h5m0 5h5m-3-1h5m-5-6h5m-4 4h5m-5 3h5m-5-1h5m-4-5h5m-4 0h5m0-1h5m-5 3h5m-3 0h5m-5 3h5m-2-4h5m-1 2h5m-3 3h5m-5-6h5m-5 2h5m-4-2h5m-3 5h5m-3-2h5m-5 0h5m-5-3h5m-2 0h5m-4 6h5m-4-6h5m-5 6h5m-3-6h5m-4 0h5m-4 4h5m-5 1h5m-4-3h5m-4-1h5m-5 5h5m-4-5h5m-3 4h5m-4-6h5m-4 6h5m-4-6h5m-4 0h5m-5 4h5m-4-4h5m-4 1h5m-4 6h5m-5-7h5m-5 3h5m-4 3h5m-4-1h5m-4-3h5m-5-2h5m-5 6h5m-4-4h5m-5 0h5m-5-1h5m-3 4h5m0-2h5m-5 0h5m-4-3h5m-2 2h5m-5 2h5m-4-3h5m-5 0h5m-4 1h5m-5 3h5m-3-4h5m-4 4h5m-4 1h5m-5 1h5m-5 0h5m-3-5h5m-4 2h5m-4-4h5m-4 7h5m-2-1h5m-2-4h5m-4 0h5m-4 2h5m-4-2h5m-4-2h5m-5 1h5m-4 2h5m-4 3h5m-5-1h5m-4 0h5m-5 2h5m-5-2h5m-2-1h5m-5 0h5m-4-2h5m-2-1h5m-4 3h5m-5-4h5m-4 5h5m-2-1h5m-5-2h5m-4 3h5m-4 0h5m-5 1h5m-4 1h5m-5-3h5m-5-4h5m-4 0h5m-4 6h5m-4 1h5m-4-3h5m-5-1h5m-5-3h5m-1 4h5m-1-2h5m-4 4h5m-5-3h5m-4 0h5m-3-2h5m-5 4h5m-5 1h5m-4 0h5m-5-3h5m-1-1h5m-4-2h5m-5 0h5m-2 5h5m-5-4h5m-3 2h5m-4 4h5m-4-1h5m-3 0h5m-4 0h5m-4 0h5m-4-2h5m-5-2h5m-4-2h5m-5 5h5m-5-2h5m-4 0h5m-5-2h5m-5-1h5m-3 4h5m-3 1h5m-3 1h5m-5 0h5m-4-4h5m-4 3h5m-5-2h5m-2 4h5m-4-3h5m-4-2h5m-4 5h5m-4-6h5m-4 0h5m-4-1h5m-4 2h5m-5-1h5m-3 1h5m-4 5h5m-3-5h5m-4 1h5m-3 1h5m0 0h5m-314 6h5m-4-1h5m-3 2h5m-5 3h5m-4-4h5m-4 1h5m-4 3h5m-3 0h5m-5-6h5m-5 1h5m-4 5h5m-3 0h5m-5 1h5m-3-6h5m-2 1h5m-4 1h5m1-1h5m-4-1h5m-1 1h5m-5 2h5m-3 1h5m0-4h5m-4 3h5m-5 3h5m-4-3h5m1 0h5m-2 2h5m-5-2h5m-4 3h5m-5-3h5m-3-2h5m-2 5h5m0-1h5m-5-3h5m-2 4h5m-3-2h5m-5-5h5m-4 6h5m-3-1h5m-4-4h5m-2 0h5m-5 5h5m-3-5h5m-1 0h5m-4 3h5m-4 3h5m-5-4h5m-5 1h5m-3 1h5m-3-4h5m-4 3h5m-4 0h5m1-2h5m-5 3h5m-5 0h5m1-3h5m-5 4h5m-5 0h5m-2-2h5m-3-4h5m-4 2h5m-5-1h5m0 4h5m-1-3h5m-2 3h5m-5-2h5m-5 0h5m-1 0h5m-5-2h5m-2 4h5m-4 1h5m-3-4h5m-1-1h5m-4 3h5m-4-4h5m-4 6h5m-4-1h5m-4-1h5m-5 3h5m-4-1h5m-4-2h5m-5-1h5m-5 2h5m-5 1h5m-3-6h5m-4 6h5m-3-2h5m-5-3h5m1 5h5m-4-1h5m-5-4h5m-5 2h5m-4 3h5m-5-5h5m-3 5h5m-5-4h5m-4 0h5m-5-1h5m-4 4h5m-5-5h5m-4 4h5m-5 3h5m-5 0h5m-5-7h5m-5 5h5m-3 2h5m-4-3h5m-3-4h5m-2 1h5m-3 5h5m-5-3h5m-5-1h5m-4 0h5m-5 5h5m-4-2h5m-5-1h5m-4-1h5m-5-2h5m-5 6h5m-5-5h5m-4 4h5m-5 1h5m0-1h5m-5-4h5m-2 5h5m-3-3h5m-3 1h5m-2-3h5m-4 3h5m-4-5h5m-5 5h5m-3-3h5m-5 1h5m-4-3h5m-4 3h5m-5-2h5m-4 3h5m-4 2h5m-4-6h5m-3 5h5m-5 2h5m-5-2h5m-4-5h5m-5 6h5m-1-4h5m-4 3h5m0 1h5m-1-5h5m-3-1h5m-4 5h5m-5-4h5m-5 4h5m-5-2h5m-2 1h5m-4-4h5m-4 6h5m-5 1h5m-5-2h5m-4-5h5m-3 6h5m-3-5h5m-2 6h5m-3-2h5m-5-2h5m-4 0h5m-4 3h5m-5-5h5m-3-1h5m-5 5h5m-5-1h5m-4-3h5m-3-1h5m-5 5h5m-5 0h5m-3 2h5m-5-6h5m-5 2h5m-2 2h5m-4 1h5m-5 0h5m-4 1h5m-5-3h5m-4 2h5m-3 0h5m-4-1h5m-2 1h5m-4-6h5m-5 7h5m-3-7h5m-5 0h5m-4 3h5m-3 3h5m-5 1h5m-4-5h5m-5 0h5m-4 0h5m-5-1h5m-4 4h5m-5-2h5m0 3h5m-3-6h5m-3 0h5m-5 6h5m-5-2h5m-4-2h5m-1 3h5m-3-4h5m-3 5h5m-5-1h5m-4-5h5m-2 6h5m-4 0h5m-5-5h5m-1 4h5m-4-4h5m-5-1h5m-5 2h5m0 1h5m-5-3h5m-3 6h5m-4 1h5m-5-2h5m-4 0h5m-5 0h5m-5-3h5m-4 2h5m-1-4h5m-4 4h5m-4 2h5m-4-6h5m-5 2h5m-3 0h5m-4 4h5m-3 0h5m-5 1h5m-3-2h5m-288 5h5m1-1h5m5 1h5m4-1h5m-4 0h5m-4 0h5m9 0h5m-5 1h5m-4-2h5m3 0h5m-2 1h5m-1-1h5m-3 2h5m-4-1h5m1-1h5m-2 0h5m1 2h5m6-1h5m-4-1h5m-4 0h5m-3 1h5m-3 0h5m2-1h5m-5 2h5m2 0h5m3-1h5m-2-1h5m0 0h5m-2 0h5m3 1h5m-2 1h5m-2-2h5m-2 1h5m2 1h5m-4-2h5m7 0h5m0 0h5m-5 1h5m2 0h5m-1 0h5m-5 0h5m-3 0h5m-5-1h5m-3 1h5m-4-1h5m-4 0h5m-2 1h5m-5 1h5m-1-1h5m-2 0h5m-3-1h5m-3 1h5m9 1h5m5-2h5m-5 0h5m8 1h5m5-1h5m1 0h5m-1 0h5m0 0h5m-1 2h5m-2-2h5m-3 0h5m0 1h5m-3 0h5" style="stroke:#0c46e0;stroke-width:5.2;fill:none"/>
<linearGradient id="g3" x1="0" y1="0" x2="0" y2="1"><stop offset="0" stop-color="#0a1470" stop-opacity="1"/><stop offset="0.43" stop-color="#0a1470" stop-opacity="0.95"/><stop offset="1" stop-color="#0a1470" stop-opacity="0"/></linearGradient>
<rect x="590.7" y="218.8" width="71.3" height="14" fill="url(#g3)"/>
<path transform="scale(.25)" d="M2366 878h5m-3 1h5m-4-1h5m-5 0h5m1 0h5m-1 0h5m-3 1h5m-2-1h5m-4 0h5m-4 0h5m-5 0h5m-1 1h5m-1 0h5m-4 0h5m-1 0h5m-4 0h5m-4-1h5m14 1h5m4 0h5m-4 0h5m1 0h5m-4-1h5m-5 1h5m-3-1h5m-4 1h5m0-1h5m-3 1h5m4 0h5m-2-1h5m-3 1h5m1-1h5m-3 0h5m-5 0h5m1 0h5m-3 0h5m4 1h5m1-1h5m-5 1h5m-4 0h5m4-1h5m-4 1h5m-4 0h5m-1-1h5m2 1h5m-4 0h5m-1 0h5m-4 0h5m-1-1h5m-3 0h5m0 0h5m1 1h5m-4-1h5m-2 0h5m-2 0h5m-3 0h5m2 0h5m-4 0h5m2 0h5m8 0h5m-4 0h5m-3 1h5m-1 0h5m1-1h5m-3 1h5m-5 0h5m0-1h5m-4 1h5m-3 0h5m6 0h5m-5-1h5m-4 0h5m-4 1h5m-5 0h5m-4-1h5m2 1h5m0-1h5m-3 0h5m0 1h5m-3 0h5m-1 0h5m-3 0h5m-2-1h5m0 1h5m-3-1h5m0 0h5m-4 1h5m-4 0h5m-3 0h5m-4-1h5m-4 1h5m-5-1h5m-303 4h5m-3 4h5m-3-5h5m-4 2h5m-3-1h5m-5-1h5m-5 0h5m-4 2h5m-4 2h5m-4-4h5m-5 0h5m-3 6h5m-4-7h5m-5 4h5m-5 0h5m-3 3h5m-5-6h5m-3 5h5m-5-4h5m-4 3h5m-4 2h5m-5-5h5m-3 1h5m-5 1h5m-5-3h5m-4-1h5m-3 2h5m-4-2h5m-5 4h5m-2 2h5m-4-3h5m-5-1h5m-5 5h5m-4-5h5m-4 1h5m-4-2h5m-4 3h5m-4-1h5m-5 2h5m-2-3h5m-4 4h5m-5-1h5m-5 0h5m-5-4h5m-4 3h5m-3-2h5m-4 2h5m-2-1h5m-4-3h5m-5 4h5m-5 0h5m-4 2h5m-4-4h5m-5 0h5m-4 5h5m-3-1h5m-5-3h5m-4-1h5m-4 2h5m-2-1h5m-5 2h5m-3-4h5m-2 6h5m-5-3h5m-5 2h5m-5-5h5m-3 2h5m-5-2h5m-4 0h5m-5 1h5m-5 2h5m-4 0h5m-4 2h5m-4-4h5m-4-2h5m-5 1h5m-3 0h5m-5 4h5m-4-1h5m-2-2h5m-4-1h5m-4 2h5m-5 4h5m-5-4h5m-5-3h5m-4 2h5m-5 1h5m-5 3h5m-3 1h5m-5-4h5m-3 3h5m-5-5h5m-5 3h5m-5 3h5m-3-2h5m-4 0h5m-4-3h5m-3 2h5m-5-4h5m-3 3h5m-3-3h5m-5 0h5m-5 4h5m-4-2h5m-5 2h5m-4-1h5m-4 1h5m-5-2h5m-4 3h5m-4-5h5m-5 3h5m-4 3h5m-5-4h5m-4-1h5m-3 5h5m-4-1h5m-4 2h5m-5-7h5m-5 4h5m-5 2h5m-3-4h5m-5 3h5m-4-2h5m-4-2h5m-5 2h5m-4 4h5m-5-3h5m-5-2h5m-4 4h5m-4 1h5m-4-7h5m-2 7h5m-5-5h5m-3 3h5m-5-4h5m-4 3h5m-4-4h5m-5 1h5m-2 4h5m-5 2h5m-5-1h5m-2-6h5m-5 0h5m-5 4h5m-4 2h5m-4-5h5m-5 1h5m-4-1h5m-5 5h5m-4-4h5m-5 3h5m-4-2h5m-4 3h5m-5-5h5m-4 1h5m-5 2h5m-5-1h5m-4 0h5m-2 1h5m-4-3h5m-5 0h5m-5-1h5m-5 0h5m-4 3h5m-4-2h5m-1 0h5m-5 4h5m-3 0h5m-4 0h5m-5 0h5m-3-2h5m-4 4h5m-4-4h5m-4-1h5m-4 5h5m-5-7h5m-5 6h5m-4-2h5m-5 1h5m-4-4h5m-3 6h5m-5-4h5m-4-2h5m-5-1h5m-2 0h5m-5 7h5m-4-1h5m-5-1h5m-2 2h5m-5-4h5m-5-3h5m-5 7h5m-3-3h5m-5-3h5m-3 6h5m-5-3h5m-3-4h5m-5 6h5m-5-6h5m-5 4h5m-4 0h5m-4 3h5m-4-2h5m-3 1h5m-3-1h5m-4-2h5m-5-3h5m-3 6h5m-5-1h5m-3 1h5m-5 1h5m-4-5h5m-5 4h5m-4-5h5m-5 0h5m-3 1h5m-4 0h5m-4 2h5m-4-3h5m-5 0h5m-5 1h5m-5 5h5m0-4h5m-5 0h5m-4 1h5m-5-1h5m-3 0h5m-5-3h5m-4 4h5m-4 0h5m-5-3h5m-5 1h5m-5 3h5m-5-3h5m-4-2h5m-5 7h5m-4-6h5m-4 5h5m-5-4h5m-5 4h5m-5-1h5m-5 2h5m-4 0h5m-4-5h5m-5 5h5m-3-5h5m-5-2h5m-5 5h5m-5 0h5m-4-2h5m-4-3h5m-4 4h5m-3-3h5m-3 5h5m-5 1h5m-3-5h5m-3 4h5m-3-2h5m-3 1h5m-4-3h5m-4 4h5m-4 1h5m-5-5h5m-4 4h5m-5 0h5m-5-1h5m-4 0h5m-5-4h5m-5 4h5m-2-2h5m-4-1h5m-4-1h5m-5 2h5m-5-1h5m-3 1h5m-3 3h5m-4-6h5m-5 4h5m-4-1h5m-5 2h5m-4 0h5m-4 0h5m-5-1h5m-4-4h5m-4 7h5m-4-2h5m-5-5h5m-5 4h5m-4-4h5m-4 6h5m-5-6h5m-3 1h5m-4 5h5m-4-5h5m-4 5h5m-2 0h5m-4-5h5m-5 4h5m-4-5h5m-5 7h5m-4-1h5m-5-6h5m-4 2h5m-5-1h5m-4 6h5m-5-5h5m-5 4h5m-4-4h5m-5 2h5m-4-2h5m-4 4h5m0-4h5m-5-1h5m-4 4h5m-4 0h5m-4-3h5m-4 1h5m-4-3h5m-5 2h5m-4 5h5m-5 0h5m-5-5h5m-4 1h5m-5 4h5m-5-5h5m-4 0h5m-3-1h5m-5 3h5m-3-1h5m-3 1h5m-5 3h5m-5-3h5m-3-3h5m-5 4h5m-5 2h5m-3 0h5m-4-1h5m-4 0h5m-5-6h5m-5 7h5m-5 0h5m-4 0h5m-4-5h5m-5 5h5m-4-1h5m-5-1h5m-5-4h5m-2 1h5m-5 1h5m-5-1h5m-4 0h5m-4-1h5m-4 6h5m-5-7h5m-5 7h5m-5-7h5m-3 7h5m-5-3h5m-4-3h5m-5 1h5m-4 1h5m-5-1h5m-4 4h5m-5-3h5m-5 4h5m-3-4h5m-5-2h5m-4 5h5m-4-5h5m1 3h5m-312 4h5m-5 7h5m-4-7h5m-4 1h5m-5-1h5m-3 2h5m-5 4h5m-4 0h5m-3-6h5m-5 1h5m-4 2h5m-4 4h5m-5-6h5m-4 0h5m-5-1h5m-3 6h5m-5 1h5m-5 0h5m-3-7h5m-4 6h5m-5-4h5m-4-1h5m-5 5h5m-4 0h5m-5-2h5m-3 0h5m-4 1h5m-4 0h5m-4-4h5m-4 2h5m-5 1h5m-5-2h5m-4 5h5m-4-4h5m-4 4h5m-4-2h5m-5-2h5m-4 2h5m-2-4h5m-4 1h5m-5 1h5m-4 3h5m-5-5h5m-4 4h5m-3-4h5m-3 2h5m-4-1h5m-3 1h5m-4 1h5m-5-4h5m-5 5h5m-5 2h5m-4-3h5m-3-3h5m-5 3h5m-4-1h5m-4-3h5m-3 0h5m-4 6h5m-3 1h5m-4 0h5m-4 0h5m-5-4h5m-4-1h5m-5 2h5m-4 0h5m-4 0h5m-5-3h5m-4 5h5m-5-5h5m-5 1h5m-1 2h5m-5-2h5m-4 4h5m-5-5h5m-4 0h5m-4 5h5m-4-2h5m-5 0h5m-5-4h5m-4 7h5m-4-3h5m-5 0h5m-5-2h5m-4-2h5m-3 4h5m0-2h5m-4 3h5m-5-1h5m-5-3h5m-4 4h5m-4 1h5m-4 0h5m-3-4h5m-2-2h5m-4 3h5m-4-3h5m-4 5h5m-4 2h5m-5-7h5m-5 2h5m-4-1h5m-4 5h5m-5-2h5m-4-2h5m-5-2h5m-4 2h5m0 5h5m-4 0h5m-4-6h5m-5 2h5m-4 4h5m-4-3h5m-4-3h5m-5-1h5m-4 0h5m-4 2h5m-5-2h5m-4 2h5m-4-2h5m-4 7h5m-3-7h5m-4 4h5m-5 0h5m-4 0h5m-5 2h5m-4-6h5m-5 0h5m-4 7h5m-5-3h5m-2 2h5m-5-4h5m-3-1h5m-5 4h5m-5-5h5m-4 5h5m-4 2h5m-5-4h5m-2 3h5m-5-2h5m-5-1h5m-4-2h5m-4 3h5m-5 2h5m-3-6h5m-5 6h5m-4-1h5m-5 0h5m-4 1h5m-2-6h5m-2 3h5m-4 0h5m-5 2h5m-5-2h5m-4 2h5m-5-5h5m-5 0h5m-4 5h5m-4-1h5m-1 2h5m-5-1h5m-4-1h5m-4-2h5m-4 0h5m-1 3h5m-4-3h5m-5 2h5m-4-1h5m-5 2h5m-4-2h5m-5 2h5m-2-2h5m-2 2h5m-5-5h5m-2 7h5m-5-6h5m-5-1h5m-2 6h5m-5-5h5m-2 1h5m-2-1h5m-2 0h5m-5 5h5m-3-4h5m0 0h5m-4-1h5m-5 2h5m-5 0h5m-4 3h5m-4-5h5m-5 0h5m-5 0h5m-4 3h5m-5 0h5m-4 2h5m-5 1h5m-5-1h5m-4-3h5m-3 1h5m-2-2h5m-4 0h5m-4 3h5m-5-4h5m-5 1h5m-4 2h5m-5 3h5m-4-7h5m-4 1h5m-4 6h5m-5-5h5m-2 5h5m-2-3h5m-4-3h5m-5 6h5m-5-6h5m-5-1h5m-4 3h5m-4 4h5m-4-5h5m-5 0h5m-5 0h5m-4 0h5m-5 1h5m-5-3h5m-4 5h5m-5-5h5m-4 3h5m-4 2h5m-5-5h5m-5 5h5m-5 0h5m-3 0h5m-3 2h5m-5-6h5m-2 6h5m-5-6h5m-2 1h5m-2 1h5m-5 0h5m-4 2h5m-4-1h5m-4-1h5m-4 3h5m-5 1h5m-5-4h5m-4 1h5m-5 0h5m-4 0h5m-4-2h5m-5-2h5m-5 0h5m-4 2h5m-4 5h5m-1-6h5m-5 4h5m-4 2h5m-5-7h5m-4 1h5m-4 2h5m-5-2h5m-5 0h5m-4 4h5m-5-5h5m-5 4h5m-5-1h5m-2 0h5m-3-2h5m-2 5h5m-4 0h5m-5-3h5m-5 2h5m-3-5h5m-5 7h5m-3-5h5m-4 0h5m-5 5h5m-5-7h5m-4 6h5m-4-3h5m-4-2h5m-4-1h5m-5 6h5m-2-2h5m-5 2h5m-5 0h5m-3-1h5m-3-1h5m-4 0h5m-2 1h5m-5 0h5m-5-3h5m-5-2h5m-4 6h5m-4-2h5m-4-4h5m-5 5h5m-3 1h5m-4 0h5m-4-2h5m-5 0h5m-3 1h5m-2-4h5m-4-1h5m-5 4h5m-4 3h5m-4-2h5m-4-2h5m-5 1h5m-3 3h5m-4-2h5m-5-3h5m-4 0h5m-1 1h5m-5 3h5m-5 1h5m-4-1h5m-4-4h5m-4-2h5m-4 6h5m-4 1h5m-5-1h5m-4 0h5m-3-5h5m-5 1h5m-3-2h5m-3 5h5m-2-2h5m-317 10h5m-4-1h5m-5-1h5m-4 1h5m-4-4h5m-3 4h5m-4 0h5m-4 2h5m-5 0h5m-4-6h5m-5 6h5m-4-4h5m-5-1h5m-4 2h5m-4-2h5m-5 6h5m-4-3h5m-5 3h5m-5-7h5m-4 1h5m-4 4h5m-3 1h5m-5-2h5m-4-1h5m-5-1h5m-4-1h5m-4 3h5m-5 0h5m-4-3h5m-2 2h5m-3 0h5m-3 4h5m-5 0h5m-5-3h5m-5-4h5m-5 0h5m-4 2h5m-5 0h5m-5 5h5m-4-6h5m-4 0h5m-4-1h5m-4 6h5m-5-6h5m-2 3h5m-4 0h5m-5 3h5m-4-5h5m-5 5h5m-4-3h5m-5 0h5m-4 2h5m-4 1h5m-5 0h5m-4-3h5m-5 3h5m-5 0h5m-4 1h5m-3-1h5m-5-2h5m-4-1h5m-5-1h5m-5 4h5m0 1h5m-5-6h5m-4-1h5m-4 3h5m-5-3h5m-4 0h5m-2 1h5m-4 3h5m-4-2h5m-5 0h5m-4 1h5m-4 3h5m-3-4h5m-5 3h5m-4-4h5m-5-1h5m-4 5h5m-5-2h5m-3 4h5m-5-7h5m-4 0h5m-5 3h5m-3-1h5m-4 5h5m-4-7h5m-5 2h5m-5 0h5m-5 0h5m-4 4h5m-5-2h5m-4 0h5m-1-4h5m-4 6h5m-5 0h5m-5-6h5m-4 0h5m-3 6h5m-4-3h5m-3 4h5m-5-7h5m0 2h5m-4 3h5m-4 1h5m-4-5h5m-3-1h5m-5 1h5m-5 4h5m-4 0h5m-5-3h5m-4 2h5m-4 1h5m-5-5h5m-4 4h5m-4-3h5m-5 3h5m-2 0h5m-5-1h5m-4-2h5m-3 6h5m-5-6h5m-5 4h5m-5 2h5m-4-6h5m-4 2h5m-5-1h5m-5 3h5m-5-4h5m0 0h5m-4 6h5m-4-7h5m-5 7h5m-3-7h5m-3 6h5m-3-4h5m-3-2h5m-4 7h5m-4 0h5m-5-1h5m-4-6h5m-5 2h5m-5 5h5m-5-3h5m-3-1h5m-4 1h5m-2-1h5m-5 2h5m-4 2h5m-5 0h5m-2-3h5m-5-3h5m-4 5h5m-3-5h5m-5 5h5m-5-3h5m-3 2h5m-4-5h5m-5 7h5m-2-3h5m-4-1h5m-2 2h5m-5-5h5m-4 6h5m-4-5h5m-5 0h5m-5 5h5m-4-1h5m-4 2h5m-5-4h5m-5 2h5m-4-3h5m-4 2h5m-5-4h5m-4 0h5m-4 5h5m-3 0h5m-5-4h5m-5 2h5m-3 3h5m-5-3h5m-4 2h5m-4-1h5m-2 2h5m-4-2h5m-4-1h5m-3 1h5m-5 0h5m-4-1h5m-3-3h5m-4 0h5m-3 2h5m-4 0h5m-2 4h5m-4-2h5m-4 1h5m-5 2h5m-4-2h5m-5 1h5m-4 1h5m-4-5h5m-5 0h5m-5 2h5m-4-2h5m-4-1h5m-4 4h5m-4-3h5m-3 0h5m-4 2h5m-5 1h5m-5-4h5m-4 1h5m-5-2h5m-5 0h5m-4 4h5m-5-1h5m0 2h5m-2-1h5m-4 3h5m-4-7h5m-4 1h5m-4 0h5m-2 6h5m-5-2h5m-5-2h5m-4-2h5m-4 6h5m-5-7h5m-3 4h5m-4 1h5m-3 1h5m-4 1h5m-4-2h5m-5-3h5m-4 1h5m-4 0h5m-5 0h5m-5-2h5m-3 6h5m-4 0h5m-3-3h5m-5-1h5m-5 2h5m-3 0h5m-5-2h5m-3-3h5m-4 4h5m-3-3h5m-4 4h5m-4 1h5m-4-4h5m-4 0h5m-5 5h5m-4 0h5m-3-7h5m-4 7h5m-4-7h5m-4 4h5m-4 1h5m-5-4h5m-4 5h5m-4-6h5m-4 1h5m-4 5h5m-5-2h5m-4-2h5m-5 0h5m-5-1h5m-3-1h5m-4 2h5m-4 2h5m-4 0h5m-4 1h5m-5 0h5m-4-2h5m-5 1h5m-4 3h5m-5-4h5m-5 2h5m-5 0h5m-5-1h5m-4 3h5m-4-5h5m-2-1h5m-4 1h5m-5 0h5m-5 1h5m-3 3h5m-5-6h5m-5 7h5m-5-6h5m-2 2h5m-5-1h5m-4 0h5m-4 1h5m-3 2h5m-4-2h5m-4-1h5m-4 4h5m-5-5h5m-5 2h5m-5 2h5m-4-3h5m-3 1h5m-4 4h5m-2-6h5m-5 6h5m-5-4h5m-5-3h5m-5 6h5m-3-5h5m-1 1h5m-4 3h5m-5-4h5m-4 3h5m-4 2h5m-5-1h5m-4 2h5m-5-6h5m-3 5h5m-5-6h5m-4 3h5m-4 4h5m-5-1h5m-4-2h5m-5-3h5m-5 6h5m-4-3h5m-5-3h5m-4 6h5m-3-1h5m-5-5h5m-3 0h5m-5 4h5m-5-4h5m-4 3h5m-5 0h5m-2-4h5m-5 5h5m-3-1h5m-2 1h5m-314 5h5m-4-2h5m-5 0h5m-4 1h5m-5 5h5m-4 1h5m-5-4h5m-4 2h5m-4 0h5m-3-4h5m-4 0h5m-5 2h5m-4 1h5m-3-4h5m-5 3h5m-5-2h5m-4 3h5m-5-1h5m-5-3h5m-2 5h5m-5 0h5m-3 1h5m-5-2h5m-5 3h5m-3-1h5m-1 1h5m-5-5h5m-3 5h5m-5-5h5m-4 3h5m-4-4h5m-5 1h5m-3 0h5m-3 4h5m-5-4h5m-3 3h5m-3 2h5m-5 0h5m-5-3h5m-4-3h5m-5 1h5m-5 4h5m-4-3h5m-5-1h5m-3 3h5m-4-2h5m-3 3h5m-3-4h5m-4 1h5m-5 3h5m-4-3h5m-4-1h5m-4 5h5m-2 0h5m-2-2h5m-4 1h5m-5 1h5m-4-2h5m-5 1h5m-5-2h5m-5-1h5m-4 2h5m-4-4h5m-5 1h5m-4-1h5m-4 0h5m-5 5h5m-2-5h5m-5 1h5m-5 0h5m-4 3h5m-5 1h5m-4 0h5m-4-5h5m-3 0h5m-4 1h5m-4 1h5m-5-2h5m-5 1h5m-4 4h5m-4 1h5m-5-4h5m-4-2h5m-4 4h5m-3-1h5m-4-1h5m-5 3h5m-5 0h5m-2-3h5m-5-3h5m-5 2h5m-4 4h5m-4 1h5m-3-6h5m-5 2h5m-5 1h5m-2-1h5m-5-2h5m-4 2h5m-4-1h5m-5-1h5m-5-1h5m-4 3h5m-5 1h5m-4 1h5m-4 2h5m-5-3h5m-4 0h5m-5-2h5m-4-1h5m-4 4h5m-5-1h5m-5-3h5m-5 6h5m-4-4h5m-5 3h5m-4-6h5m-4 5h5m-4-2h5m-4 3h5m-4-1h5m-4-2h5m-4 1h5m-3 1h5m-4 2h5m-4-7h5m-5 6h5m-4-1h5m-4-4h5m-2 1h5m-2 1h5m-5 1h5m-4-4h5m-4 7h5m-3-1h5m-4-4h5m-5 0h5m-5-1h5m-4 1h5m-2 2h5m-5-4h5m-1 7h5m-4-4h5m-4 0h5m-5 0h5m-5-2h5m-2 6h5m-5-6h5m-4 0h5m-4 4h5m-2-5h5m-4 3h5m-3-3h5m-4 4h5m-5 1h5m-3-2h5m-4 4h5m-4-2h5m-4-5h5m-5 0h5m-4 4h5m-4 3h5m-4 0h5m-5-2h5m-4-5h5m-4 6h5m-5-1h5m-3-2h5m-3-1h5m-5-1h5m-5 0h5m-4 1h5m-2 3h5m-4-2h5m-5 4h5m-3 0h5m-5-4h5m-3-1h5m-5 2h5m-4 3h5m-5-4h5m-2-2h5m-4 2h5m-4-2h5m-3-1h5m-4 4h5m-4 3h5m-5-1h5m-5-6h5m-2 5h5m-5 2h5m-5-2h5m-5 2h5m-4-4h5m-3 0h5m-5 1h5m-4 2h5m-5-6h5m-5 7h5m-4-6h5m-5 4h5m-3-3h5m-5 3h5m-5-4h5m-4 3h5m-5 3h5m-5-6h5m-4 5h5m-3 1h5m-4-5h5m-5 1h5m-4 0h5m-5 3h5m-5-5h5m-3 2h5m-5 3h5m-3-1h5m-2-3h5m-4 4h5m-5-2h5m-4-3h5m-3 0h5m-1 5h5m-5-3h5m-5-2h5m-4 6h5m-4-6h5m-4 5h5m-5-6h5m-5 4h5m-4-4h5m-5 5h5m-3 1h5m-2-1h5m-5 2h5m-4-7h5m-5 6h5m-3-4h5m-4-2h5m-4 5h5m-5-5h5m-5 1h5m-4 2h5m-4-1h5m-4 0h5m-4-1h5m-5 2h5m-4 4h5m-5-7h5m-1 6h5m-5 0h5m-3 0h5m-1-4h5m-5 0h5m-4 3h5m-3-3h5m-4 2h5m-4 0h5m-4 0h5m-5-3h5m-4 5h5m-4 0h5m-5-4h5m-5 0h5m-4 3h5m-5-2h5m-3-1h5m-5 1h5m-4 3h5m-3 0h5m-4 1h5m-4-2h5m-4-1h5m-4 0h5m-2-1h5m-5-2h5m-4 0h5m-4 0h5m-5 1h5m-4 5h5m-5-2h5m-3 2h5m-5-1h5m-1 1h5m-4-6h5m-3 0h5m-4 0h5m-5 6h5m-4-3h5m-4 0h5m-5-1h5m-3-2h5m-5 0h5m-4 4h5m-5-3h5m-2 5h5m-4-7h5m-4 2h5m-3 5h5m-5-5h5m-1 4h5m-5-5h5m-4 4h5m-4 1h5m-4 0h5m-5-2h5m-5 3h5m-4-7h5m-5 1h5m-2 5h5m-3-1h5m-5 0h5m-3-2h5m-4-1h5m-5 4h5m1-5h5m-5 2h5m-5 0h5m-4-3h5m-4 5h5m-4-3h5m-5 5h5m-312 4h5m-2-3h5m-5 5h5m-5 0h5m-4-5h5m-4 6h5m-3-2h5m-5 2h5m-4-3h5m-4 3h5m-5-1h5m-4 2h5m-5 0h5m-4-6h5m-5 6h5m0-6h5m-3 6h5m-4-4h5m-2 2h5m-5-3h5m-4 5h5m-3-3h5m-5 3h5m-4-2h5m-2-4h5m-5 2h5m-5 2h5m-2 1h5m-4-2h5m-5 3h5m-4-6h5m-4 4h5m-5-2h5m-2-2h5m-4-1h5m-1 4h5m-4-4h5m-4 6h5m-4-4h5m-4 4h5m-5-5h5m-4 1h5m-3 1h5m-5 2h5m-5-3h5m-4 2h5m-5-4h5m-3 1h5m-4 2h5m-4 4h5m-5-6h5m-4-1h5m-5 0h5m-5 7h5m-5-2h5m-3 0h5m-4-4h5m-5 5h5m-4 0h5m-3-3h5m-4 4h5m-3-2h5m-4 2h5m-5-7h5m-5 4h5m-4-1h5m-3 4h5m-4-5h5m-4 0h5m-4 0h5m-5 1h5m-4 1h5m-5-3h5m-5 5h5m-5 0h5m-4-4h5m-5 5h5m-3-1h5m-5-3h5m-3 2h5m-2-5h5m-5 0h5m-2 5h5m-4-1h5m-4-3h5m-3 1h5m-5 0h5m-3 2h5m-4 2h5m-5-2h5m-1 1h5m-3-3h5m-3-1h5m-5-1h5m-4 5h5m-5-1h5m-4 1h5m-5 2h5m-1-4h5m-5 0h5m-4 4h5m-4-3h5m-4 1h5m-5 2h5m-4 0h5m-3-5h5m-3-1h5m-4 4h5m-4 0h5m-3-1h5m-4 3h5m-4-2h5m-4-2h5m-2 2h5m-4 0h5m-4-3h5m-4 0h5m-3 4h5m-3-4h5m-5 1h5m-4 2h5m-4-2h5m-4-2h5m-5 0h5m-4 1h5m-5 4h5m-5-4h5m-4 4h5m-4-2h5m-3 2h5m-5-5h5m-4 1h5m-5 2h5m-4-4h5m-4 5h5m-4-2h5m-5 0h5m-4-1h5m-5-2h5m-5 1h5m-4 5h5m-4-4h5m-4 3h5m-5-1h5m-4 0h5m-4 2h5m-4 0h5m-5-1h5m-5-4h5m-4 2h5m-2 1h5m-5-3h5m-5 1h5m-3 0h5m-1 2h5m-5-3h5m-3 4h5m-1-3h5m-5 1h5m-2-3h5m-4 6h5m-5-4h5m-5 5h5m-5-2h5m-4 1h5m-4 1h5m-4 0h5m-4-2h5m-5 1h5m-5 0h5m-4-3h5m-3-1h5m-4 1h5m-5-1h5m-2 2h5m-4-4h5m-5 5h5m-4-2h5m-4 3h5m-4 0h5m-4-2h5m-5 1h5m-4 1h5m-4 1h5m-3-2h5m-4-5h5m-5 3h5m-4 1h5m-2 3h5m-2 0h5m-4-1h5m-5 1h5m-3-3h5m-4-3h5m-5 3h5m-2-4h5m-3 7h5m-5 0h5m-3-4h5m-3 2h5m-3 2h5m-1-1h5m-5-1h5m-5-5h5m-4 3h5m-5 0h5m-4-1h5m2 2h5m-5-2h5m-4 5h5m-5 0h5m-3-7h5m-4 7h5m-5-6h5m-4 3h5m-4 3h5m2-1h5m-3 1h5m-5-6h5m-4 4h5m-4 0h5m-5-3h5m-5 2h5m-4 2h5m-3-2h5m-5-2h5m-3 5h5m-5-2h5m-3-3h5m-4 5h5m-4-3h5m-5-1h5m-5-1h5m-4-2h5m-5 5h5m-2-5h5m-5 7h5m-3-7h5m-4 3h5m-4 2h5m-5 0h5m-4 0h5m-2-2h5m-3 3h5m-4 1h5m-4-6h5m-5 1h5m-3 0h5m-2 5h5m-5-2h5m-5-3h5m-3-2h5m-4 3h5m-2-3h5m-3 1h5m-4 6h5m-5-7h5m-4 7h5m-4-7h5m-3 3h5m-3-2h5m-5 0h5m-4 4h5m-4-2h5m-4 4h5m-5-4h5m-4 0h5m-5-2h5m-4 2h5m-5-2h5m-2 1h5m-5 4h5m-5-4h5m-5-2h5m-4 1h5m-4 2h5m1-1h5m-5 5h5m-4-6h5m-5 6h5m-5-3h5m-4 3h5m-310 5h5m-4-3h5m-3 3h5m-4-3h5m-4 5h5m-5-4h5m-3 2h5m-5 3h5m-5-6h5m-4 4h5m-4-5h5m-3 2h5m-5 1h5m-4-1h5m-2 3h5m-5-1h5m-3 1h5m-5-4h5m-4 5h5m-3-1h5m-5 1h5m-5-2h5m0 1h5m-5 0h5m-5-2h5m-4 3h5m-4-4h5m-5 2h5m-4 3h5m-4-2h5m-4-1h5m-4-4h5m-5 1h5m-3 5h5m-3-2h5m-3 1h5m-4 0h5m-5 0h5m-5 0h5m-4 0h5m-3 1h5m-5-4h5m-4 5h5m-3-4h5m-4-2h5m-2 0h5m-5 4h5m-4 2h5m-5-6h5m0 3h5m-4-2h5m-2-1h5m-4 3h5m-4 2h5m-4-5h5m-3 0h5m-4 3h5m-4 0h5m-4 2h5m-5 1h5m-1-4h5m-3 1h5m-5-1h5m-1-3h5m-3 5h5m-4-3h5m-4 0h5m-4-1h5m-4-1h5m-3 7h5m-4-1h5m-5-6h5m-4 6h5m-3 0h5m-2-6h5m-3 3h5m-3-2h5m-5 2h5m-4 3h5m-4-5h5m-4 2h5m-2 3h5m-5-5h5m0 1h5m2 4h5m-5 0h5m-4-6h5m-5 4h5m-5 0h5m0 3h5m-5 0h5m-2 0h5m-1 0h5m-4-1h5m-3-1h5m-4-3h5m-5-1h5m-2-1h5m-5 2h5m-5 4h5m-4 1h5m-4-6h5m-4 3h5m-3 1h5m-3 1h5m-2-4h5m-4-1h5m-5 4h5m-2 0h5m-1-3h5m-5-1h5m-3 1h5m-5 5h5m-5-7h5m-4 5h5m-3-2h5m-5-3h5m-4 0h5m-4 3h5m-3 1h5m-5 3h5m1-5h5m-5 3h5m-4-1h5m-4-4h5m-3 2h5m-5 0h5m-3 3h5m-3-3h5m-4-2h5m-5 1h5m0 5h5m-5-4h5m-4-1h5m-4 4h5m-2 0h5m-2 0h5m-3-4h5m-4 6h5m-4-5h5m-1 1h5m-4 4h5m-5-2h5m-4 1h5m-5 0h5m-4 0h5m-2-3h5m-4 1h5m-4-3h5m-4 2h5m-5-1h5m-4 4h5m-5-4h5m-4 0h5m-2 2h5m-2 3h5m-4-5h5m-5-1h5m0 3h5m-5 3h5m-5-1h5m-5-4h5m-4 0h5m-2 3h5m-3 1h5m-4-2h5m-4 3h5m-4-4h5m-4 1h5m-3 2h5m-5-4h5m-3 5h5m-4-2h5m-3 2h5m-4-4h5m-4 3h5m-3-4h5m-4-1h5m-5 1h5m-3 2h5m-3 2h5m-4 0h5m-4-4h5m-5 1h5m1-3h5m-4 6h5m-4-1h5m-1-4h5m-3 6h5m-4-4h5m-5 0h5m-3 0h5m-4 3h5m-4 1h5m-5-4h5m-3 2h5m-5 0h5m-4 1h5m-2-2h5m-5-4h5m-1 4h5m-4 2h5m-4-6h5m-5 2h5m-4 3h5m-4 1h5m-4-5h5m-5 0h5m-4 4h5m-5 1h5m-3-2h5m-3-1h5m-3-1h5m-4 2h5m-5 3h5m-5-5h5m-4 1h5m-5-3h5m-4 7h5m-2-5h5m-5-2h5m-5 5h5m-4 0h5m-4-2h5m-5 1h5m-4-3h5m-4 2h5m-4 4h5m-5-7h5m-5 7h5m-5-4h5m-4-3h5m-3 0h5m-4 0h5m2 6h5m-4-3h5m-315 9h5m-5 1h5m-4 2h5m-4-6h5m-4 4h5m-3 0h5m-3 1h5m-4-6h5m-3 1h5m-3 5h5m-3-5h5m-3 4h5m-5 1h5m-4-3h5m-4-2h5m-5-1h5m-4 6h5m-5-3h5m3 3h5m-5 0h5m-4 1h5m-5-7h5m-3 3h5m-1-2h5m-3 1h5m-5-1h5m-2 1h5m-2 1h5m-5 1h5m-4 2h5m-2-2h5m-4 3h5m-2-3h5m-4-4h5m-5 7h5m-4-3h5m-2-1h5m-5 2h5m-5 1h5m-4-2h5m-4 0h5m-3 1h5m-4-3h5m-5 1h5m-3 0h5m-4 1h5m-2-3h5m-3 6h5m-2-5h5m-4 4h5m-4-4h5m-1-2h5m-4 1h5m-5 0h5m-4-1h5m-5 7h5m0-7h5m-1 2h5m-1 4h5m-5-1h5m-5 2h5m-1-4h5m-3-1h5m-3-2h5m-4 3h5m-4-2h5m-3-1h5m-5 5h5m-4-1h5m-4 2h5m-5-1h5m-2-3h5m-3 3h5m-4-1h5m-4 2h5m-4 0h5m-4-2h5m-4-2h5m-4 3h5m1 2h5m-4-7h5m-3 5h5m-3-2h5m-4-1h5m-3 1h5m-4 4h5m-3-6h5m-4 4h5m-2-5h5m-5 2h5m-3 2h5m-3-4h5m-4 2h5m-2 2h5m-4-3h5m-4 0h5m-4-1h5m-4 2h5m-4 1h5m-4-3h5m-4 6h5m-4 0h5m0-3h5m-4-1h5m-5-2h5m-5 3h5m-3 4h5m-3-3h5m-3 3h5m-5 0h5m-3-4h5m-5 4h5m-4-7h5m-3 1h5m-5 2h5m-4 2h5m-5 2h5m-5-4h5m-4 4h5m-3-5h5m-5-1h5m-5 2h5m-4 0h5m-5-3h5m-4 3h5m-3 1h5m-4-2h5m-5-2h5m-4 1h5m-4 4h5m-4 2h5m-3-5h5m-3 4h5m-4-6h5m-1 2h5m-4 2h5m-5 0h5m-4-2h5m-5-2h5m-2 6h5m-5-4h5m-4-1h5m-5 4h5m-4 2h5m-4-7h5m-5 7h5m-3-6h5m-4 2h5m-4-3h5m-4 2h5m-4-1h5m-5 3h5m-2 2h5m-5-6h5m-4 1h5m-5 4h5m-4-3h5m-1 3h5m-3-3h5m-2 1h5m-3-3h5m-4 1h5m-5 1h5m-5 3h5m-5-4h5m-3 3h5m-4-4h5m-4 1h5m-5 2h5m-2 3h5m-4 0h5m-5-3h5m-5 1h5m-2 2h5m-5 0h5m-5-4h5m-4 4h5m-4-2h5m0-4h5m-2 4h5m-4 3h5m4-6h5m-5 1h5m-3 3h5m-4-2h5m-4 1h5m1 0h5m-5 0h5m-4 0h5m2 0h5m-4 0h5m-4-2h5m-3-2h5m-5 0h5m-4 2h5m0 2h5m-4-2h5m-3-2h5m-2 6h5m-3-5h5m-4 5h5m-5-3h5m-3-3h5m-4 7h5m-5-4h5m-4-1h5m-2 0h5m-2 1h5m-5-1h5m-3 4h5m-309 9h5m-3-4h5m-4 0h5m5-2h5m-4-1h5m-4 3h5m-2-2h5m-5 4h5m-4-1h5m-3-4h5m-3 5h5m-4 0h5m-5-4h5m-2 0h5m-4 3h5m-1-1h5m-3-2h5m-3 6h5m-4-6h5m-5 4h5m-2-5h5m-5 1h5m-4 5h5m2-4h5m-4-1h5m-3 5h5m-3 1h5m-3-6h5m-4-1h5m-4 7h5m-5-3h5m-1-2h5m-4-2h5m-3 3h5m-5 0h5m-5-2h5m-1-1h5m-4 3h5m-4 4h5m-5-6h5m-5 1h5m-4 0h5m-3 4h5m-4-4h5m-5 1h5m-5-3h5m2 5h5m-3-5h5m-1 6h5m-4-6h5m-5 1h5m-4 6h5m-5-2h5m-1-2h5m-4 2h5m-5-3h5m-4-2h5m-5 1h5m-5 4h5m-4 2h5m-1-3h5m-4 2h5m-2-3h5m-4 0h5m-1-1h5m-3 1h5m-4-1h5m-4 4h5m-3 1h5m-5-4h5m-3 3h5m-4-6h5m-3 2h5m-4 2h5m-5-1h5m-3 2h5m-2 1h5m-2 0h5m-3-5h5m-4 3h5m-3 0h5m-5-1h5m-4-2h5m-4 0h5m-4-1h5m-5 4h5m-1 1h5m-1-5h5m-4 6h5m-4-6h5m-5 4h5m-4-4h5m-4 1h5m-4-1h5m-3 0h5m-5 5h5m-4 2h5m-4-2h5m-4-5h5m-5 0h5m-4 1h5m-5 1h5m-3 5h5m-5-5h5m-3 0h5m-4-1h5m-5 2h5m-2 3h5m1-3h5m-3 2h5m-4-5h5m-5 0h5m-3 3h5m3 0h5m-4-2h5m-4 4h5m-4 1h5m-1-5h5m-2 2h5m-4 1h5m-2-3h5m-4 6h5m-4-6h5m0 2h5m-1 2h5m-5-5h5m-3 2h5m-4 1h5m-5 1h5m-3 2h5m-1-3h5m-5 3h5m-1-5h5m-2 2h5m-4 2h5m-2-5h5m-5 6h5m-4-3h5m-1-3h5m-2 7h5m-3-5h5m-3 3h5m-2-3h5m2-1h5m-5 2h5m-1-3h5m0 4h5m0-4h5m-5 5h5m-4-2h5m-3 2h5m-1-5h5m-3 4h5m-4 0h5m-3-2h5m-2 3h5m-5 0h5m-4-5h5m-2 5h5m-5-5h5m-2 6h5m-5-1h5m-4 1h5m-5-6h5m-1 2h5m-4 2h5m-4-4h5m-3 7h5m-1-3h5m-3 1h5m-4-2h5m-4-3h5m-2 1h5m0 4h5m-313 10h5m-4 0h5m5-5h5m-3 0h5m-1 0h5m-2 2h5m-5-3h5m-5 0h5m-4 3h5m-3 2h5m-4-6h5m-5 1h5m-5 6h5m-3-5h5m-3 2h5m-4-3h5m0 1h5m0-2h5m-3 4h5m-5-1h5m-4 1h5m-4-3h5m-4 6h5m-4-5h5m-4-2h5m-3 5h5m-5 1h5m-1-3h5m-3-1h5m-4-1h5m-2 0h5m-2 1h5m-2 3h5m-5-1h5m-4-4h5m-4 1h5m-2 6h5m0-3h5m-5 0h5m-5-2h5m-5 2h5m-2-1h5m-5-3h5m-2 1h5m-4 2h5m2 2h5m1-4h5m-4 4h5m-3-4h5m-5 2h5m-5 3h5m0-5h5m0 0h5m-5 5h5m2-4h5m5 3h5m-5-5h5m-4 5h5m-4-4h5m-1 2h5m0 3h5m-5-4h5m-5 2h5m-4 3h5m-4-4h5m-4 0h5m-3-2h5m-4 4h5m-5-4h5m-2 2h5m-1-3h5m-4 6h5m-4-3h5m-4-2h5m-3 6h5m-2-5h5m-2 3h5m-3-5h5m-4 0h5m-5 5h5m-2-2h5m-2-3h5m-4 2h5m-3-1h5m-3 5h5m-4-4h5m-5 4h5m-4-5h5m-1 2h5m-3 3h5m-1-5h5m-4 2h5m-4 4h5m-2-6h5m-5 6h5m-5-3h5m-4 1h5m-2-1h5m-2-4h5m-5 6h5m-3-3h5m-3 0h5m-5-1h5m-5 4h5m-5 1h5m0-2h5m-4-4h5m-4 0h5m-5 2h5m-4 2h5m-2-2h5m2-3h5m-4 5h5m-4-4h5m-5 0h5m-2 2h5m0 3h5m-5-4h5m-1 3h5m-4 1h5m-2-3h5m-5 4h5m-4-1h5m-5 1h5m1-2h5m-2 0h5m-5 2h5m-2-5h5m-4 0h5m-3-1h5m-3 4h5m-1 1h5m1-2h5m-2 3h5m-5-1h5m-3-2h5m-5-4h5m-4 7h5m-3-7h5m-3 4h5m-4 3h5m-4-3h5m-4 1h5m-4 0h5m-1 0h5m-4-3h5m-5 3h5m-5-5h5m-5 7h5m-4-4h5m-5-2h5m-3 4h5m-4-2h5m-3-3h5m-2 7h5m-2-6h5m-2 3h5m0-2h5m-312 10h5m-4 0h5m-1-1h5m-5 0h5m-4 1h5m0 1h5m-1-2h5m-2 2h5m-4-3h5m0 1h5m-3-1h5m-5 2h5m-2-2h5m-1 5h5m-3-7h5m-3 1h5m-5 5h5m-4-5h5m-3 1h5m-4-1h5m-4 2h5m-5-1h5m-3 0h5m11 5h5m-5-7h5m-3 7h5m6-1h5m-4 1h5m-3-1h5m-4-1h5m-5-3h5m-3 3h5m-1 1h5m2-4h5m-3 4h5m-2 0h5m2-2h5m-5 0h5m-3-1h5m-2 2h5m-4-4h5m-1 0h5m-5 5h5m-4 1h5m-5 0h5m-1-5h5m-3 4h5m-3-5h5m-5-1h5m-1 4h5m-5-2h5m-3-2h5m-5 0h5m-1 0h5m-1 6h5m-2-1h5m-1-5h5m-4 1h5m0 4h5m-4 1h5m-3-2h5m-4-4h5m-2 2h5m-3 3h5m1-1h5m-3-1h5m-4 0h5m5 0h5m-2 4h5m-3-1h5m-1-6h5m-4 7h5m0-6h5m-5 0h5m0 0h5m-4-1h5m-3 4h5m-5 1h5m-3 0h5m-1-3h5m-3 4h5m-5-5h5m-5 6h5m1-3h5m-5 0h5m2-2h5m-5 1h5m-4 1h5m-2 3h5m-5-6h5m-4 6h5m0-5h5m-4 2h5m-1 3h5m-2-7h5m-5 4h5m-3 0h5m-5-4h5m0 0h5m0 3h5m4-1h5m-1-2h5m-4 3h5m0-2h5m1 5h5m-3-5h5m-1 2h5m-3 1h5m-1 2h5m-3-3h5m-2 0h5m-2-1h5m-4 1h5m-4 2h5m-5 2h5m-5-1h5m-3-2h5m-1 2h5m3-6h5m-312 9h5m-4 1h5m0 4h5m-1-4h5m-1 0h5m-4 4h5m-4-2h5m4-1h5m1-2h5m-4 5h5m-4 1h5m-5-1h5m-5-5h5m-1 2h5m-4-2h5m-4 2h5m0 0h5m-4 0h5m-4 4h5m-4-1h5m-5-1h5m-5 1h5m2-1h5m-4-3h5m-3 3h5m-5 1h5m-3-3h5m-1-2h5m-5 5h5m-5-1h5m4-5h5m-4 4h5m0 1h5m-4-1h5m0-4h5m-5 7h5m-1-6h5m-1 3h5m-4-1h5m-5-3h5m-3 2h5m1 1h5m-1-1h5m6 1h5m-2-1h5m-4 1h5m1-2h5m-4 4h5m0-5h5m-5 3h5m-4 0h5m-2 0h5m-3-1h5m-4-2h5m-1 4h5m-5 0h5m-2 3h5m-1-5h5m-3 0h5m-3-1h5m17-1h5m-4 5h5m4-2h5m-4 3h5m-3-3h5m1 3h5m-5-6h5m2 5h5m-3 1h5m-3-4h5m-5-2h5m-4 6h5m3 0h5m9-4h5m-4 5h5m-4-7h5m-4 3h5m-3-3h5m-5 0h5m-4 0h5m-4 3h5m-3 0h5m-1 3h5m-3-3h5m-2 2h5m3 2h5m0-3h5m-1 2h5m-3 0h5m4 0h5m-2-1h5m-1-5h5m2 5h5m-5-4h5m-3 0h5m8 0h5m-295 7h5m-5 4h5m-5 0h5m-2-1h5m-1-3h5m-1 6h5m-3-3h5m-4-2h5m-5 6h5m-4-7h5m-1 6h5m-3-5h5m-4 2h5m-5 4h5m-3-2h5m-2 1h5m-2-6h5m-2 4h5m-2-3h5m0 5h5m0-4h5m-5 2h5m-1-2h5m-5 3h5m0-3h5m1-2h5m-2 5h5m0 2h5m-2 0h5m4-4h5m3 1h5m-5 2h5m0-1h5m-1-4h5m-2 3h5m-1 1h5m0-1h5m6 2h5m3-4h5m-1 5h5m-4 0h5m-1-6h5m-5 4h5m-4-3h5m-1-2h5m-4 7h5m6-7h5m3 4h5m-5-2h5m-5 0h5m-4 1h5m-2 2h5m-4-3h5m-1-2h5m0 6h5m0 1h5m-5-4h5m-1 4h5m-4-3h5m-5 3h5m1-4h5m0-2h5m-3 3h5m3 2h5m3 0h5m-4-3h5m-4-3h5m-2 0h5m4 7h5m1-6h5m-1 1h5m0 0h5m-3 5h5m-5-7h5m3 0h5m-4 2h5m-4-2h5m0 0h5m9 4h5m-1-2h5m-2 1h5m-305 6h5m-5 5h5m-4-2h5m-2 3h5m-1-7h5m15 3h5m15-1h5m-3-2h5m-4 3h5m-3 1h5m1-4h5m-3 4h5m-5 2h5m-2 1h5m10-7h5m-1 4h5m-5-3h5m-4 0h5m-3 1h5m-5 3h5m-3 1h5m-4-2h5m3 0h5m0 1h5m-2-3h5m-5 1h5m6 2h5m4-4h5m1 1h5m-1 4h5m-1-5h5m1 4h5m-2-4h5m8 3h5m-5 0h5m-3-1h5m-5 3h5m-4-2h5m-2-4h5m-3 4h5m0 0h5m-2-4h5m-3 3h5m2 3h5m-1-4h5m-3 0h5m-3 5h5m2-4h5m-4-1h5m-4 5h5m10-5h5m1-2h5m-5 4h5m0 1h5m1-5h5m2 0h5m-1 2h5m-1 3h5m-3-3h5m-4 1h5m-5 2h5m1 2h5m18-2h5m-1-2h5m-4-2h5m0 5h5m-1-5h5m0 0h5m-302 12h5m-3-5h5m4 4h5m-2 2h5m10-6h5m3 2h5m-1 1h5m-3 0h5m0 0h5m0-3h5m1 7h5m-4-7h5m-3 0h5m4 5h5m-1-4h5m-2 6h5m4-4h5m-2-2h5m10 2h5m-2 2h5m4 2h5m23-3h5m-4 3h5m10-5h5m-4 2h5m3 2h5m0-4h5m-2 2h5m-4 3h5m-2-3h5m0-4h5m2 0h5m-2 5h5m3-2h5m-2 3h5m4 0h5m-2-1h5m10-4h5m-1 4h5m-3-3h5m2-2h5m15 5h5m-3-3h5m3-2h5m3 5h5m-4-5h5m-5 1h5m-1 2h5m-2 4h5m-304 5h5m-3-1h5m4 2h5m-2-4h5m-4 6h5m7-3h5m10 1h5m-2-5h5m-4 5h5m19 2h5m10 0h5m6-2h5m-5 0h5m42 2h5m-3-5h5m6 4h5m2-5h5m-3 3h5m-5-2h5m-5-2h5m-2 5h5m-4-2h5m4 4h5m-5-1h5m44-4h5m-2 2h5m-2-1h5m6-1h5m0-2h5m-1 1h5m12 3h5m1 3h5m-2-6h5m-4-1h5m5 1h5m-4 3h5m-3-3h5m3-1h5m-301 10h5m45 0h5m17 4h5m10-2h5m27 0h5m-3-4h5m3 2h5m4 2h5m5 3h5m4-5h5m9 4h5m-4 1h5m-4-5h5m3 5h5m61 0h5m2-7h5m3 3h5m1-3h5m5 6h5m-1-4h5m-3 3h5m-273 3h5m-1 1h5m-4-1h5m1 3h5m-1-1h5m2 2h5m12 0h5m7 3h5m3-4h5m1 3h5m1 0h5m7-1h5m4 1h5m0-1h5m20-3h5m13-1h5m14 5h5m19-4h5m12 4h5m-4-5h5m5 1h5m1 3h5m44-4h5m11 2h5m-1 4h5m-298 3h5m25 2h5m-1 2h5m16 1h5m19-6h5m-3 0h5m-4 0h5m22 6h5m21-6h5m1-1h5m6 4h5m1-1h5m72 4h5m9-4h5m1-1h5m-177 7h5m0 0h5m5 2h5m19 0h5m20-2h5m-4 0h5m30-1h5m-4 7h5m5-2h5m51 1h5m1-2h5m14 2h5m5-1h5m-289 10h5m73-3h5m44-3h5m93 6h5m0-6h5m0 5h5m2-4h5m30 0h5m-288 7h5m-4 5h5m9-4h5m32 1h5m25-2h5m26 3h5m115 1h5m11 0h5m4-1h5m0 0h5m-2-1h5m0 0h5m3-2h5m-214 9h5m5 4h5m76 0h5m97-5h5m16 2h5m-282 6h5m101 6h5m113-7h5m-189 15h5m142-4h5m30 0h5m43-3h5m-285 8h5m-1 1h5m4 2h5m58 1h5m181-2h5m-154 8h5m143-1h5m20 6h5m7-6h5m-258 11h5m77-3h5m29-1h5m15 6h5m70-6h5m28 7h5m-253 4h5m-5-3h5m0 7h5m59-4h5m16-2h5m-49 14h5m106-6h5m72 0h5m-275 12h5m4 1h5m1 7h5m128-3h5m-4 5h5m6 4h5m123-3h5" style="stroke:#040c5e;stroke-width:5.2;fill:none"/>
<path transform="scale(.25)" d="M2377 752h5m94 7h5m-26 7h5m-69 7h5m16 0h5m12-3h5m181 0h5m-253 6h5m101 0h5" style="stroke:#fa7a30;stroke-width:5.2;fill:none"/>
<path d="M547.6 171.09V317.41" style="fill:none;stroke:#000;stroke-width:0.42;stroke-opacity:0.7"/>
<path d="M547.39 171.3H682.61" style="fill:none;stroke:#000;stroke-width:0.42;stroke-opacity:0.45"/>
<path d="M682.4 171.09V317.41" style="fill:none;stroke:#000;stroke-width:0.42;stroke-opacity:0.9"/>
<path d="M547.39 317.2H682.61" style="fill:none;stroke:#000;stroke-width:0.42;stroke-opacity:0.35"/>
<path d="M547.6 309.71h1.8M547.6 288.79h1.8M547.6 267.88h1.8M547.6 246.96h1.8M547.6 226.04h1.8M547.6 205.12h1.8M547.6 184.21h1.8M560.94 317.2v-1.8M577.75 317.2v-1.8M594.56 317.2v-1.8M611.36 317.2v-1.8M628.17 317.2v-1.8M644.97 317.2v-1.8M661.78 317.2v-1.8M678.59 317.2v-1.8" style="stroke:#000;stroke-width:.5;fill:none"/>
<path d="M547.6 316.01h1M547.6 314.35h1M547.6 312.95h1M547.6 311.74h1M547.6 310.67h1M547.6 303.41h1M547.6 299.73h1M547.6 297.12h1M547.6 295.09h1M547.6 293.43h1M547.6 292.03h1M547.6 290.82h1M547.6 289.75h1M547.6 282.5h1M547.6 278.81h1M547.6 276.2h1M547.6 274.17h1M547.6 272.52h1M547.6 271.12h1M547.6 269.9h1M547.6 268.83h1M547.6 261.58h1M547.6 257.9h1M547.6 255.28h1M547.6 253.26h1M547.6 251.6h1M547.6 250.2h1M547.6 248.99h1M547.6 247.92h1M547.6 240.66h1M547.6 236.98h1M547.6 234.37h1M547.6 232.34h1M547.6 230.68h1M547.6 229.28h1M547.6 228.07h1M547.6 227h1M547.6 219.74h1M547.6 216.06h1M547.6 213.45h1M547.6 211.42h1M547.6 209.76h1M547.6 208.36h1M547.6 207.15h1M547.6 206.08h1M547.6 198.83h1M547.6 195.14h1M547.6 192.53h1M547.6 190.5h1M547.6 188.85h1M547.6 187.45h1M547.6 186.23h1M547.6 185.16h1M547.6 177.91h1M547.6 174.23h1M547.6 171.61h1M549.2 317.2v-1M552.16 317.2v-1M554.26 317.2v-1M555.88 317.2v-1M557.22 317.2v-1M558.34 317.2v-1M559.32 317.2v-1M560.17 317.2v-1M566 317.2v-1M568.96 317.2v-1M571.06 317.2v-1M572.69 317.2v-1M574.02 317.2v-1M575.15 317.2v-1M576.12 317.2v-1M576.98 317.2v-1M582.81 317.2v-1M585.77 317.2v-1M587.87 317.2v-1M589.5 317.2v-1M590.83 317.2v-1M591.95 317.2v-1M592.93 317.2v-1M593.79 317.2v-1M599.61 317.2v-1M602.57 317.2v-1M604.67 317.2v-1M606.3 317.2v-1M607.63 317.2v-1M608.76 317.2v-1M609.73 317.2v-1M610.59 317.2v-1M616.42 317.2v-1M619.38 317.2v-1M621.48 317.2v-1M623.11 317.2v-1M624.44 317.2v-1M625.56 317.2v-1M626.54 317.2v-1M627.4 317.2v-1M633.23 317.2v-1M636.19 317.2v-1M638.29 317.2v-1M639.91 317.2v-1M641.24 317.2v-1M642.37 317.2v-1M643.34 317.2v-1M644.2 317.2v-1M650.03 317.2v-1M652.99 317.2v-1M655.09 317.2v-1M656.72 317.2v-1M658.05 317.2v-1M659.18 317.2v-1M660.15 317.2v-1M661.01 317.2v-1M666.84 317.2v-1M669.8 317.2v-1M671.9 317.2v-1M673.53 317.2v-1M674.86 317.2v-1M675.98 317.2v-1M676.96 317.2v-1M677.82 317.2v-1" style="stroke:#000;stroke-width:.4;stroke-opacity:.7;fill:none"/>
<g font-family='"Liberation Serif", serif' font-size="7.3" fill="#1a1a1a" stroke="#1a1a1a" stroke-width=".18">
<text x="531.3" y="187.21" textLength="8" lengthAdjust="spacingAndGlyphs">10</text><text x="539.9" y="184.61" font-size="5.3" textLength="6.3" lengthAdjust="spacingAndGlyphs">−1</text>
<text x="531.3" y="208.12" textLength="8" lengthAdjust="spacingAndGlyphs">10</text><text x="539.9" y="205.52" font-size="5.3" textLength="6.3" lengthAdjust="spacingAndGlyphs">−2</text>
<text x="531.3" y="229.04" textLength="8" lengthAdjust="spacingAndGlyphs">10</text><text x="539.9" y="226.44" font-size="5.3" textLength="6.3" lengthAdjust="spacingAndGlyphs">−3</text>
<text x="531.3" y="249.96" textLength="8" lengthAdjust="spacingAndGlyphs">10</text><text x="539.9" y="247.36" font-size="5.3" textLength="6.3" lengthAdjust="spacingAndGlyphs">−4</text>
<text x="531.3" y="270.88" textLength="8" lengthAdjust="spacingAndGlyphs">10</text><text x="539.9" y="268.28" font-size="5.3" textLength="6.3" lengthAdjust="spacingAndGlyphs">−5</text>
<text x="531.3" y="291.79" textLength="8" lengthAdjust="spacingAndGlyphs">10</text><text x="539.9" y="289.19" font-size="5.3" textLength="6.3" lengthAdjust="spacingAndGlyphs">−6</text>
<text x="531.3" y="312.71" textLength="8" lengthAdjust="spacingAndGlyphs">10</text><text x="539.9" y="310.11" font-size="5.3" textLength="6.3" lengthAdjust="spacingAndGlyphs">−7</text>
<text x="570.3" y="323.8" textLength="8" lengthAdjust="spacingAndGlyphs">10</text><text x="578.9" y="321.2" font-size="5.3" textLength="6.3" lengthAdjust="spacingAndGlyphs">−5</text>
<text x="603.91" y="323.8" textLength="8" lengthAdjust="spacingAndGlyphs">10</text><text x="612.51" y="321.2" font-size="5.3" textLength="6.3" lengthAdjust="spacingAndGlyphs">−3</text>
<text x="637.52" y="323.8" textLength="8" lengthAdjust="spacingAndGlyphs">10</text><text x="646.12" y="321.2" font-size="5.3" textLength="6.3" lengthAdjust="spacingAndGlyphs">−1</text>
<text x="672.99" y="323.8" textLength="8" lengthAdjust="spacingAndGlyphs">10</text><text x="681.59" y="321.2" font-size="5.3" textLength="2.6" lengthAdjust="spacingAndGlyphs">1</text>
</g>
<g font-family='"Liberation Sans", sans-serif' fill="#1a1a1a" stroke="#1a1a1a" stroke-width=".15">
<text transform="translate(526.6 78.9) rotate(-90)" text-anchor="middle" font-size="9.5" textLength="85.6" lengthAdjust="spacingAndGlyphs">predicted <tspan font-style="italic">σ</tspan><tspan font-style="italic" font-size="6.6" dy="1.9">NLO</tspan><tspan dy="-1.9">[pb]</tspan></text>
<text transform="translate(527.5 244.1) rotate(-90)" text-anchor="middle" font-size="9.5" textLength="60.6" lengthAdjust="spacingAndGlyphs">relative error</text>
<text x="615" y="334.2" text-anchor="middle" font-size="9.5" textLength="39" lengthAdjust="spacingAndGlyphs"><tspan font-style="italic">σ</tspan><tspan font-style="italic" font-size="6.6" dy="1.9">NLO</tspan><tspan dy="-1.9">[pb]</tspan></text>
</g>
<rect x="628.5" y="275.3" width="51.5" height="39.7" rx="1.2" fill="#fff" fill-opacity=".8" stroke="#ddd" stroke-width=".5"/>
<rect x="634.4" y="279" width="1.4" height="1.4" fill="#d3d7d1"/>
<text x="645.1" y="281.8" font-family='"Liberation Sans", sans-serif' font-size="6.1" fill="#111" stroke="#111" stroke-width=".07"><tspan font-style="italic">σ</tspan> &lt; <tspan font-style="italic">σ</tspan><tspan font-style="italic" font-size="3.6" dy="1">exp</tspan></text>
<rect x="634.4" y="286.6" width="1.4" height="1.4" fill="#fa7a30"/>
<text x="645.1" y="289.4" font-family='"Liberation Sans", sans-serif' font-size="6.1" fill="#111" stroke="#111" stroke-width=".07">rest</text>
<rect x="634.4" y="294.2" width="1.4" height="1.4" fill="#7cb8f8"/>
<text x="645.1" y="297" font-family='"Liberation Sans", sans-serif' font-size="6.1" fill="#111" stroke="#111" stroke-width=".07">three <tspan font-style="italic">σ</tspan> error</text>
<rect x="634.4" y="301.8" width="1.4" height="1.4" fill="#0c46e0"/>
<text x="645.1" y="304.6" font-family='"Liberation Sans", sans-serif' font-size="6.1" fill="#111" stroke="#111" stroke-width=".07">two <tspan font-style="italic">σ</tspan> error</text>
<rect x="634.4" y="309.4" width="1.4" height="1.4" fill="#040c5e"/>
<text x="645.1" y="312.2" font-family='"Liberation Sans", sans-serif' font-size="6.1" fill="#111" stroke="#111" stroke-width=".07">one <tspan font-style="italic">σ</tspan> error</text>
<text x="575.8" y="357.7" font-family='"Liberation Serif", serif' font-size="13.8" fill="#000" font-weight="bold">(d)</text>
<g font-family='"Liberation Serif", serif' fill="#000">
<path d="M601.7 352.2L596.1 359.2" style="fill:none;stroke:#000;stroke-width:1.25;stroke-linecap:round"/>
<path d="M596.5 353.1c.4-.6 1-.6 1.3 0L599.8 359c.2.5.5.6.9.3" style="fill:none;stroke:#000;stroke-width:.7"/>
<path d="M597.6 350.4c.6-1 1.2-1 1.9-.5s1.3.5 1.9-.5" style="fill:none;stroke:#000;stroke-width:.5"/>
<text x="603" y="361.8" font-size="9.3">2</text>
<text x="603" y="353.1" font-size="9.3">0</text>
<path d="M614.8 352.2L609.2 359.2" style="fill:none;stroke:#000;stroke-width:1.25;stroke-linecap:round"/>
<path d="M609.6 353.1c.4-.6 1-.6 1.3 0L612.9 359c.2.5.5.6.9.3" style="fill:none;stroke:#000;stroke-width:.7"/>
<path d="M610.7 350.4c.6-1 1.2-1 1.9-.5s1.3.5 1.9-.5" style="fill:none;stroke:#000;stroke-width:.5"/>
<text x="616.1" y="361.8" font-size="9.3">1</text>
<path d="M616.9 350.4h5" style="stroke:#000;stroke-width:.6"/>
</g>
</svg></body></html>
